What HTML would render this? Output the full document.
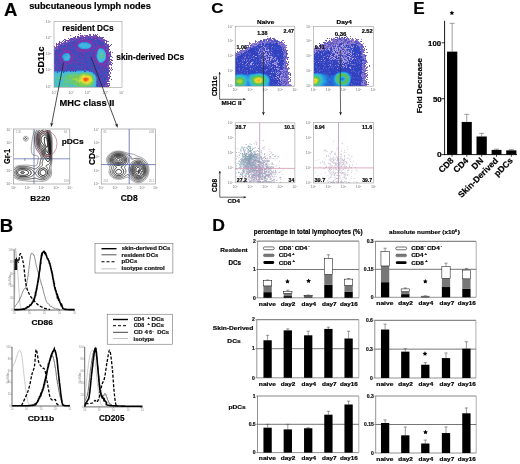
<!DOCTYPE html><html><head><meta charset="utf-8"><style>html,body{margin:0;padding:0;background:#fff;width:520px;height:464px;overflow:hidden}svg{display:block;filter:blur(0.4px)}text[font-weight=bold]{stroke:#000;stroke-width:0.18px;paint-order:stroke}</style></head><body><svg width="520" height="464" viewBox="0 0 520 464" font-family='"Liberation Sans", sans-serif'>
<defs>
<filter id="bd" x="-5%" y="-5%" width="110%" height="110%"><feGaussianBlur stdDeviation="0.35"/></filter>
</defs>
<rect width="520" height="464" fill="#fff"/>
<text x="4.14" y="15.60" font-size="18.12" font-weight="bold" fill="#000" textLength="13.37" lengthAdjust="spacingAndGlyphs">A</text>
<text x="29.18" y="9.00" font-size="8.83" font-weight="bold" fill="#000" textLength="121.69" lengthAdjust="spacingAndGlyphs">subcutaneous lymph nodes</text>
<g filter="url(#bd)"><path fill="#7040a8" d="M80 33h1v1h-1zM80 35h1v1h-1zM82 35h1v1h-1zM75 36h1v1h-1zM82 36h1v1h-1zM87 36h1v1h-1zM89 36h1v1h-1zM92 36h1v1h-1zM95 36h1v1h-1zM80 37h2v1h-2zM83 37h1v1h-1zM86 37h1v1h-1zM94 37h1v1h-1zM96 37h2v1h-2zM75 38h1v1h-1zM78 38h1v1h-1zM86 38h1v1h-1zM93 38h1v1h-1zM97 38h1v1h-1zM101 38h1v1h-1zM64 39h1v1h-1zM72 39h1v1h-1zM78 39h1v1h-1zM80 39h2v1h-2zM86 39h1v1h-1zM101 39h1v1h-1zM67 40h1v1h-1zM71 40h1v1h-1zM77 40h1v1h-1zM100 40h2v1h-2zM104 40h1v1h-1zM102 41h1v1h-1zM106 41h1v1h-1zM56 43h1v1h-1zM64 43h1v1h-1zM105 43h1v1h-1zM59 44h1v1h-1zM56 45h1v1h-1zM107 45h1v1h-1zM57 46h1v1h-1zM59 46h1v1h-1zM108 47h1v1h-1zM109 54h1v1h-1zM109 57h1v1h-1zM109 59h1v1h-1zM111 60h1v1h-1zM112 63h1v1h-1zM109 64h1v1h-1zM108 65h1v1h-1zM108 66h1v1h-1zM109 68h1v1h-1zM107 75h2v1h-2zM107 78h1v1h-1zM109 78h1v1h-1zM108 79h1v1h-1zM111 79h1v1h-1zM107 83h2v1h-2zM108 85h1v1h-1zM108 86h1v1h-1z"/>
<path fill="#5050c0" d="M78 34h1v1h-1zM89 34h1v1h-1zM93 34h1v1h-1zM93 35h1v1h-1zM96 35h1v1h-1zM77 36h1v1h-1zM88 36h1v1h-1zM91 36h1v1h-1zM99 36h1v1h-1zM74 37h1v1h-1zM78 37h1v1h-1zM85 37h1v1h-1zM89 37h2v1h-2zM103 37h1v1h-1zM71 38h2v1h-2zM82 38h1v1h-1zM85 38h1v1h-1zM99 38h2v1h-2zM71 39h1v1h-1zM74 39h1v1h-1zM77 39h1v1h-1zM87 39h1v1h-1zM96 39h1v1h-1zM63 40h1v1h-1zM70 40h1v1h-1zM73 40h1v1h-1zM75 40h1v1h-1zM78 40h1v1h-1zM105 40h1v1h-1zM64 41h2v1h-2zM70 41h2v1h-2zM68 42h1v1h-1zM70 42h1v1h-1zM106 42h1v1h-1zM62 43h1v1h-1zM66 43h1v1h-1zM106 43h1v1h-1zM61 44h1v1h-1zM65 44h1v1h-1zM62 45h1v1h-1zM110 45h1v1h-1zM58 46h1v1h-1zM105 46h1v1h-1zM107 46h1v1h-1zM110 52h1v1h-1zM108 53h1v1h-1zM110 54h1v1h-1zM110 55h1v1h-1zM110 56h1v1h-1zM112 60h1v1h-1zM108 61h1v1h-1zM109 63h1v1h-1zM110 64h1v1h-1zM108 69h1v1h-1zM109 71h1v1h-1zM107 73h1v1h-1zM107 74h1v1h-1zM109 75h1v1h-1zM109 76h1v1h-1zM107 77h1v1h-1zM106 81h2v1h-2zM105 86h1v1h-1z"/>
<path fill="#9060c0" d="M90 34h1v1h-1zM95 34h1v1h-1zM97 34h1v1h-1zM70 35h1v1h-1zM81 35h1v1h-1zM84 35h2v1h-2zM89 35h1v1h-1zM94 35h1v1h-1zM80 36h2v1h-2zM83 36h1v1h-1zM85 36h2v1h-2zM90 36h1v1h-1zM73 37h1v1h-1zM75 37h1v1h-1zM99 37h1v1h-1zM101 37h1v1h-1zM73 38h1v1h-1zM76 38h1v1h-1zM84 38h1v1h-1zM65 39h1v1h-1zM82 39h1v1h-1zM95 39h1v1h-1zM100 39h1v1h-1zM102 39h1v1h-1zM104 39h1v1h-1zM72 40h1v1h-1zM106 40h1v1h-1zM67 41h1v1h-1zM69 41h1v1h-1zM104 41h1v1h-1zM107 41h2v1h-2zM60 42h1v1h-1zM63 42h2v1h-2zM66 42h2v1h-2zM104 43h1v1h-1zM57 44h1v1h-1zM60 44h1v1h-1zM63 44h1v1h-1zM107 44h1v1h-1zM59 45h1v1h-1zM105 45h1v1h-1zM54 47h1v1h-1zM57 47h1v1h-1zM54 48h1v1h-1zM57 48h1v1h-1zM55 49h1v1h-1zM112 52h1v1h-1zM109 55h1v1h-1zM112 57h1v1h-1zM111 59h1v1h-1zM109 61h1v1h-1zM109 62h1v1h-1zM111 62h1v1h-1zM108 63h1v1h-1zM110 63h1v1h-1zM111 65h1v1h-1zM107 66h1v1h-1zM108 67h1v1h-1zM111 67h1v1h-1zM110 69h1v1h-1zM111 70h1v1h-1zM109 74h1v1h-1zM106 80h1v1h-1zM108 80h1v1h-1zM109 81h1v1h-1zM107 84h1v1h-1zM109 84h1v1h-1zM106 85h1v1h-1z"/>
<path fill="#6848b8" d="M86 35h2v1h-2zM90 35h1v1h-1zM78 36h1v1h-1zM97 36h1v1h-1zM77 37h1v1h-1zM98 37h1v1h-1zM100 37h1v1h-1zM102 37h1v1h-1zM70 38h1v1h-1zM74 38h1v1h-1zM79 38h1v1h-1zM91 38h1v1h-1zM69 39h2v1h-2zM73 39h1v1h-1zM98 39h2v1h-2zM65 40h2v1h-2zM68 40h1v1h-1zM103 40h1v1h-1zM59 41h1v1h-1zM62 41h1v1h-1zM59 42h1v1h-1zM61 42h1v1h-1zM65 42h1v1h-1zM103 42h1v1h-1zM58 43h1v1h-1zM61 43h1v1h-1zM56 44h1v1h-1zM62 44h1v1h-1zM106 44h1v1h-1zM108 44h1v1h-1zM111 44h1v1h-1zM106 45h1v1h-1zM54 46h1v1h-1zM106 46h1v1h-1zM108 46h2v1h-2zM56 47h1v1h-1zM59 47h1v1h-1zM106 47h2v1h-2zM55 48h2v1h-2zM108 48h1v1h-1zM107 49h3v1h-3zM108 50h1v1h-1zM108 52h2v1h-2zM109 56h1v1h-1zM111 56h1v1h-1zM109 58h1v1h-1zM110 59h1v1h-1zM109 60h1v1h-1zM108 62h1v1h-1zM110 62h1v1h-1zM111 64h1v1h-1zM107 68h1v1h-1zM111 68h1v1h-1zM112 69h1v1h-1zM108 70h1v1h-1zM108 71h1v1h-1zM108 73h1v1h-1zM110 76h1v1h-1zM108 77h2v1h-2zM107 80h1v1h-1zM108 81h1v1h-1zM109 83h1v1h-1zM107 85h1v1h-1zM109 85h1v1h-1z"/>
<path fill="#8848b0" d="M95 35h1v1h-1zM93 36h2v1h-2zM96 36h1v1h-1zM79 37h1v1h-1zM82 37h1v1h-1zM87 37h1v1h-1zM91 37h2v1h-2zM95 37h1v1h-1zM68 38h1v1h-1zM77 38h1v1h-1zM98 38h1v1h-1zM102 38h1v1h-1zM75 39h1v1h-1zM103 39h1v1h-1zM69 40h1v1h-1zM102 40h1v1h-1zM68 41h1v1h-1zM59 43h1v1h-1zM63 43h1v1h-1zM58 44h1v1h-1zM58 45h1v1h-1zM108 45h1v1h-1zM56 46h1v1h-1zM55 47h1v1h-1zM106 48h1v1h-1zM54 49h1v1h-1zM106 49h1v1h-1zM108 51h1v1h-1zM110 51h1v1h-1zM109 53h2v1h-2zM108 55h1v1h-1zM110 61h1v1h-1zM108 64h1v1h-1zM109 67h1v1h-1zM110 72h1v1h-1zM110 73h1v1h-1zM108 78h1v1h-1zM105 85h1v1h-1zM107 86h1v1h-1z"/>
<path fill="#4050c0" d="M84 37h1v1h-1zM88 37h1v1h-1zM80 38h2v1h-2zM87 38h2v1h-2zM92 38h1v1h-1zM96 38h1v1h-1zM89 39h1v1h-1zM91 39h2v1h-2zM97 39h1v1h-1zM76 40h1v1h-1zM81 40h1v1h-1zM84 40h1v1h-1zM95 40h1v1h-1zM98 40h1v1h-1zM74 41h3v1h-3zM92 41h2v1h-2zM95 41h3v1h-3zM99 41h2v1h-2zM69 42h1v1h-1zM71 42h1v1h-1zM75 42h1v1h-1zM92 42h2v1h-2zM96 42h2v1h-2zM99 42h2v1h-2zM104 42h1v1h-1zM67 43h2v1h-2zM71 43h1v1h-1zM94 43h2v1h-2zM97 43h1v1h-1zM99 43h2v1h-2zM102 43h2v1h-2zM68 44h4v1h-4zM73 44h2v1h-2zM98 44h1v1h-1zM103 44h3v1h-3zM60 45h1v1h-1zM63 45h2v1h-2zM68 45h1v1h-1zM70 45h2v1h-2zM73 45h1v1h-1zM75 45h1v1h-1zM94 45h1v1h-1zM96 45h1v1h-1zM103 45h2v1h-2zM60 46h4v1h-4zM67 46h1v1h-1zM69 46h1v1h-1zM71 46h2v1h-2zM74 46h2v1h-2zM95 46h3v1h-3zM58 47h1v1h-1zM61 47h3v1h-3zM65 47h2v1h-2zM68 47h2v1h-2zM72 47h3v1h-3zM77 47h1v1h-1zM95 47h1v1h-1zM105 47h1v1h-1zM60 48h1v1h-1zM67 48h3v1h-3zM71 48h4v1h-4zM76 48h1v1h-1zM94 48h2v1h-2zM105 48h1v1h-1zM107 48h1v1h-1zM56 49h2v1h-2zM61 49h1v1h-1zM65 49h1v1h-1zM69 49h1v1h-1zM71 49h3v1h-3zM76 49h1v1h-1zM81 49h1v1h-1zM84 49h1v1h-1zM91 49h4v1h-4zM54 50h2v1h-2zM57 50h1v1h-1zM59 50h1v1h-1zM63 50h1v1h-1zM71 50h3v1h-3zM75 50h1v1h-1zM93 50h1v1h-1zM54 51h2v1h-2zM59 51h2v1h-2zM72 51h1v1h-1zM76 51h2v1h-2zM91 51h1v1h-1zM93 51h2v1h-2zM56 52h1v1h-1zM58 52h1v1h-1zM60 52h2v1h-2zM73 52h4v1h-4zM78 52h2v1h-2zM84 52h2v1h-2zM88 52h2v1h-2zM91 52h1v1h-1zM54 53h1v1h-1zM57 53h1v1h-1zM59 53h2v1h-2zM73 53h4v1h-4zM82 53h1v1h-1zM84 53h4v1h-4zM89 53h1v1h-1zM91 53h2v1h-2zM54 54h1v1h-1zM57 54h3v1h-3zM74 54h1v1h-1zM76 54h2v1h-2zM79 54h1v1h-1zM86 54h2v1h-2zM89 54h2v1h-2zM93 54h1v1h-1zM56 55h2v1h-2zM73 55h1v1h-1zM75 55h2v1h-2zM81 55h1v1h-1zM85 55h2v1h-2zM88 55h3v1h-3zM54 56h1v1h-1zM56 56h2v1h-2zM60 56h1v1h-1zM73 56h3v1h-3zM78 56h1v1h-1zM81 56h1v1h-1zM84 56h4v1h-4zM90 56h1v1h-1zM54 57h5v1h-5zM76 57h2v1h-2zM81 57h1v1h-1zM89 57h2v1h-2zM93 57h1v1h-1zM55 58h1v1h-1zM57 58h2v1h-2zM73 58h2v1h-2zM76 58h2v1h-2zM80 58h2v1h-2zM83 58h2v1h-2zM86 58h3v1h-3zM108 58h1v1h-1zM55 59h1v1h-1zM62 59h1v1h-1zM74 59h1v1h-1zM81 59h2v1h-2zM84 59h2v1h-2zM88 59h1v1h-1zM90 59h1v1h-1zM93 59h1v1h-1zM108 59h1v1h-1zM54 60h1v1h-1zM56 60h2v1h-2zM59 60h1v1h-1zM73 60h1v1h-1zM75 60h1v1h-1zM78 60h2v1h-2zM81 60h2v1h-2zM84 60h3v1h-3zM88 60h2v1h-2zM91 60h1v1h-1zM93 60h2v1h-2zM55 61h1v1h-1zM57 61h1v1h-1zM61 61h1v1h-1zM71 61h1v1h-1zM73 61h2v1h-2zM76 61h2v1h-2zM79 61h2v1h-2zM82 61h1v1h-1zM85 61h1v1h-1zM88 61h2v1h-2zM91 61h3v1h-3zM55 62h1v1h-1zM57 62h3v1h-3zM62 62h1v1h-1zM64 62h1v1h-1zM69 62h1v1h-1zM71 62h2v1h-2zM75 62h1v1h-1zM79 62h1v1h-1zM81 62h1v1h-1zM83 62h3v1h-3zM89 62h3v1h-3zM93 62h1v1h-1zM107 62h1v1h-1zM54 63h1v1h-1zM56 63h1v1h-1zM60 63h1v1h-1zM62 63h1v1h-1zM64 63h1v1h-1zM68 63h1v1h-1zM72 63h2v1h-2zM77 63h2v1h-2zM81 63h2v1h-2zM87 63h3v1h-3zM91 63h2v1h-2zM94 63h2v1h-2zM107 63h1v1h-1zM56 64h2v1h-2zM63 64h1v1h-1zM67 64h1v1h-1zM69 64h6v1h-6zM77 64h1v1h-1zM79 64h1v1h-1zM81 64h2v1h-2zM84 64h1v1h-1zM86 64h7v1h-7zM97 64h1v1h-1zM54 65h1v1h-1zM56 65h1v1h-1zM59 65h3v1h-3zM63 65h1v1h-1zM65 65h3v1h-3zM70 65h3v1h-3zM74 65h1v1h-1zM76 65h3v1h-3zM80 65h1v1h-1zM83 65h1v1h-1zM85 65h4v1h-4zM90 65h1v1h-1zM92 65h3v1h-3zM96 65h3v1h-3zM105 65h1v1h-1zM54 66h1v1h-1zM57 66h2v1h-2zM60 66h1v1h-1zM62 66h1v1h-1zM65 66h1v1h-1zM67 66h6v1h-6zM74 66h7v1h-7zM83 66h2v1h-2zM87 66h5v1h-5zM93 66h2v1h-2zM99 66h1v1h-1zM101 66h1v1h-1zM55 67h2v1h-2zM60 67h1v1h-1zM62 67h1v1h-1zM66 67h1v1h-1zM68 67h2v1h-2zM74 67h4v1h-4zM79 67h5v1h-5zM86 67h1v1h-1zM88 67h2v1h-2zM91 67h1v1h-1zM96 67h1v1h-1zM101 67h1v1h-1zM107 67h1v1h-1zM56 68h2v1h-2zM62 68h1v1h-1zM64 68h1v1h-1zM66 68h2v1h-2zM77 68h2v1h-2zM80 68h1v1h-1zM85 68h1v1h-1zM87 68h1v1h-1zM91 68h2v1h-2zM96 68h1v1h-1zM98 68h2v1h-2zM103 68h2v1h-2zM106 68h1v1h-1zM54 69h2v1h-2zM58 69h4v1h-4zM64 69h1v1h-1zM67 69h4v1h-4zM73 69h2v1h-2zM76 69h1v1h-1zM78 69h4v1h-4zM86 69h1v1h-1zM88 69h3v1h-3zM92 69h3v1h-3zM96 69h3v1h-3zM100 69h1v1h-1zM103 69h2v1h-2zM54 70h1v1h-1zM59 70h2v1h-2zM62 70h3v1h-3zM66 70h3v1h-3zM70 70h1v1h-1zM72 70h1v1h-1zM74 70h2v1h-2zM83 70h1v1h-1zM88 70h1v1h-1zM91 70h3v1h-3zM96 70h1v1h-1zM98 70h2v1h-2zM103 70h1v1h-1zM109 70h1v1h-1zM57 71h1v1h-1zM59 71h1v1h-1zM63 71h2v1h-2zM66 71h1v1h-1zM70 71h1v1h-1zM73 71h1v1h-1zM75 71h1v1h-1zM84 71h2v1h-2zM89 71h1v1h-1zM91 71h1v1h-1zM93 71h1v1h-1zM95 71h1v1h-1zM97 71h1v1h-1zM100 71h1v1h-1zM104 71h1v1h-1zM106 71h2v1h-2zM57 72h1v1h-1zM63 72h1v1h-1zM96 72h2v1h-2zM101 72h3v1h-3zM105 72h2v1h-2zM108 72h1v1h-1zM93 73h1v1h-1zM95 73h3v1h-3zM99 73h1v1h-1zM103 73h4v1h-4zM95 74h1v1h-1zM99 74h3v1h-3zM103 74h1v1h-1zM106 74h1v1h-1zM97 75h3v1h-3zM103 75h1v1h-1zM105 75h1v1h-1zM96 76h3v1h-3zM103 76h2v1h-2zM106 76h1v1h-1zM101 77h2v1h-2zM97 78h2v1h-2zM101 78h3v1h-3zM97 79h1v1h-1zM101 79h3v1h-3zM106 79h2v1h-2zM98 80h2v1h-2zM101 80h4v1h-4zM96 81h2v1h-2zM99 81h2v1h-2zM104 81h2v1h-2zM98 82h1v1h-1zM100 82h5v1h-5zM97 83h1v1h-1zM99 83h2v1h-2zM102 83h1v1h-1zM105 83h1v1h-1zM96 84h3v1h-3zM100 84h1v1h-1zM103 84h1v1h-1zM106 84h1v1h-1zM96 85h1v1h-1zM98 85h2v1h-2zM101 85h1v1h-1zM97 86h5v1h-5z"/>
<path fill="#7038a8" d="M93 37h1v1h-1zM94 38h2v1h-2zM76 39h1v1h-1zM90 40h1v1h-1zM93 40h1v1h-1zM73 42h2v1h-2zM94 42h2v1h-2zM69 43h2v1h-2zM72 43h1v1h-1zM66 44h1v1h-1zM72 44h1v1h-1zM93 44h1v1h-1zM65 45h1v1h-1zM69 45h1v1h-1zM72 45h1v1h-1zM97 45h1v1h-1zM100 45h3v1h-3zM73 46h1v1h-1zM60 47h1v1h-1zM67 47h1v1h-1zM70 47h1v1h-1zM96 47h1v1h-1zM59 48h1v1h-1zM62 48h5v1h-5zM75 48h1v1h-1zM58 49h1v1h-1zM60 49h1v1h-1zM62 49h1v1h-1zM75 49h1v1h-1zM95 49h1v1h-1zM69 50h2v1h-2zM70 51h1v1h-1zM54 52h2v1h-2zM57 52h1v1h-1zM59 52h1v1h-1zM62 52h1v1h-1zM80 52h1v1h-1zM87 52h1v1h-1zM92 52h1v1h-1zM56 53h1v1h-1zM58 53h1v1h-1zM90 53h1v1h-1zM56 54h1v1h-1zM71 54h1v1h-1zM78 54h1v1h-1zM80 54h1v1h-1zM83 54h2v1h-2zM88 54h1v1h-1zM92 54h1v1h-1zM55 55h1v1h-1zM74 55h1v1h-1zM79 55h1v1h-1zM84 55h1v1h-1zM87 55h1v1h-1zM92 55h1v1h-1zM55 56h1v1h-1zM80 56h1v1h-1zM82 56h2v1h-2zM88 56h1v1h-1zM93 56h1v1h-1zM95 56h1v1h-1zM82 57h1v1h-1zM86 57h1v1h-1zM88 57h1v1h-1zM92 57h1v1h-1zM54 58h1v1h-1zM82 58h1v1h-1zM90 58h2v1h-2zM93 58h1v1h-1zM57 59h2v1h-2zM73 59h1v1h-1zM78 59h1v1h-1zM80 59h1v1h-1zM83 59h1v1h-1zM87 59h1v1h-1zM92 59h1v1h-1zM94 59h1v1h-1zM72 60h1v1h-1zM74 60h1v1h-1zM87 60h1v1h-1zM62 61h2v1h-2zM75 61h1v1h-1zM83 61h1v1h-1zM77 62h1v1h-1zM80 62h1v1h-1zM92 62h1v1h-1zM96 62h1v1h-1zM57 63h1v1h-1zM59 63h1v1h-1zM61 63h1v1h-1zM74 63h1v1h-1zM76 63h1v1h-1zM80 63h1v1h-1zM83 63h3v1h-3zM96 63h1v1h-1zM54 64h1v1h-1zM62 64h1v1h-1zM65 64h1v1h-1zM75 64h2v1h-2zM93 64h1v1h-1zM105 64h1v1h-1zM107 64h1v1h-1zM55 65h1v1h-1zM58 65h1v1h-1zM75 65h1v1h-1zM82 65h1v1h-1zM84 65h1v1h-1zM106 65h2v1h-2zM61 66h1v1h-1zM63 66h2v1h-2zM66 66h1v1h-1zM85 66h2v1h-2zM95 66h2v1h-2zM105 66h1v1h-1zM61 67h1v1h-1zM64 67h1v1h-1zM70 67h1v1h-1zM73 67h1v1h-1zM84 67h2v1h-2zM90 67h1v1h-1zM103 67h1v1h-1zM105 67h1v1h-1zM58 68h1v1h-1zM61 68h1v1h-1zM63 68h1v1h-1zM68 68h1v1h-1zM70 68h2v1h-2zM73 68h1v1h-1zM76 68h1v1h-1zM84 68h1v1h-1zM89 68h1v1h-1zM94 68h1v1h-1zM100 68h1v1h-1zM102 68h1v1h-1zM56 69h2v1h-2zM63 69h1v1h-1zM65 69h1v1h-1zM84 69h2v1h-2zM91 69h1v1h-1zM99 69h1v1h-1zM101 69h1v1h-1zM107 69h1v1h-1zM55 70h2v1h-2zM61 70h1v1h-1zM65 70h1v1h-1zM71 70h1v1h-1zM73 70h1v1h-1zM76 70h1v1h-1zM90 70h1v1h-1zM100 70h1v1h-1zM105 70h2v1h-2zM96 71h1v1h-1zM95 72h1v1h-1zM98 72h2v1h-2zM97 74h1v1h-1zM100 75h1v1h-1zM99 76h1v1h-1zM97 77h1v1h-1zM99 77h1v1h-1zM105 77h1v1h-1zM99 78h2v1h-2zM98 79h1v1h-1zM100 80h1v1h-1zM105 80h1v1h-1zM101 81h2v1h-2zM97 82h1v1h-1zM105 82h2v1h-2zM98 83h1v1h-1zM101 83h1v1h-1zM105 84h1v1h-1zM97 85h1v1h-1zM102 85h1v1h-1zM104 85h1v1h-1zM106 86h1v1h-1z"/>
<path fill="#6840b0" d="M83 38h1v1h-1zM89 38h1v1h-1zM74 40h1v1h-1zM94 40h1v1h-1zM96 40h1v1h-1zM72 41h1v1h-1zM94 41h1v1h-1zM101 41h1v1h-1zM103 41h1v1h-1zM77 42h1v1h-1zM98 42h1v1h-1zM93 43h1v1h-1zM96 43h1v1h-1zM101 43h1v1h-1zM64 44h1v1h-1zM67 44h1v1h-1zM96 44h2v1h-2zM101 44h1v1h-1zM66 45h1v1h-1zM92 45h1v1h-1zM66 46h1v1h-1zM68 46h1v1h-1zM70 46h1v1h-1zM64 47h1v1h-1zM71 47h1v1h-1zM91 47h1v1h-1zM94 47h1v1h-1zM58 48h1v1h-1zM61 48h1v1h-1zM90 48h1v1h-1zM63 49h1v1h-1zM68 49h1v1h-1zM74 49h1v1h-1zM88 49h1v1h-1zM62 50h1v1h-1zM92 50h1v1h-1zM107 50h1v1h-1zM57 51h1v1h-1zM68 51h1v1h-1zM75 51h1v1h-1zM78 51h1v1h-1zM87 51h1v1h-1zM92 51h1v1h-1zM96 51h1v1h-1zM77 52h1v1h-1zM81 52h1v1h-1zM90 52h1v1h-1zM72 53h1v1h-1zM78 53h1v1h-1zM54 55h1v1h-1zM77 55h1v1h-1zM80 55h1v1h-1zM91 55h1v1h-1zM76 56h2v1h-2zM74 57h1v1h-1zM83 57h1v1h-1zM87 57h1v1h-1zM107 57h1v1h-1zM75 58h1v1h-1zM78 58h2v1h-2zM92 58h1v1h-1zM76 59h2v1h-2zM79 59h1v1h-1zM91 59h1v1h-1zM76 60h1v1h-1zM80 60h1v1h-1zM83 60h1v1h-1zM56 61h1v1h-1zM59 61h1v1h-1zM78 61h1v1h-1zM87 61h1v1h-1zM56 62h1v1h-1zM60 62h1v1h-1zM73 62h2v1h-2zM76 62h1v1h-1zM78 62h1v1h-1zM82 62h1v1h-1zM88 62h1v1h-1zM94 62h1v1h-1zM104 63h1v1h-1zM106 63h1v1h-1zM55 64h1v1h-1zM58 64h2v1h-2zM68 64h1v1h-1zM85 64h1v1h-1zM94 64h2v1h-2zM104 64h1v1h-1zM62 65h1v1h-1zM79 65h1v1h-1zM89 65h1v1h-1zM55 66h2v1h-2zM73 66h1v1h-1zM81 66h2v1h-2zM97 66h1v1h-1zM106 66h1v1h-1zM57 67h2v1h-2zM63 67h1v1h-1zM65 67h1v1h-1zM78 67h1v1h-1zM92 67h2v1h-2zM95 67h1v1h-1zM100 67h1v1h-1zM104 67h1v1h-1zM106 67h1v1h-1zM59 68h1v1h-1zM65 68h1v1h-1zM72 68h1v1h-1zM74 68h1v1h-1zM81 68h1v1h-1zM83 68h1v1h-1zM95 68h1v1h-1zM75 69h1v1h-1zM83 69h1v1h-1zM102 69h1v1h-1zM105 69h1v1h-1zM57 70h1v1h-1zM69 70h1v1h-1zM89 70h1v1h-1zM94 70h1v1h-1zM97 70h1v1h-1zM101 70h2v1h-2zM104 70h1v1h-1zM107 70h1v1h-1zM92 71h1v1h-1zM94 71h1v1h-1zM98 71h2v1h-2zM103 71h1v1h-1zM100 72h1v1h-1zM100 73h2v1h-2zM102 74h1v1h-1zM104 74h2v1h-2zM108 74h1v1h-1zM104 75h1v1h-1zM105 76h1v1h-1zM98 77h1v1h-1zM103 77h1v1h-1zM104 78h1v1h-1zM106 78h1v1h-1zM100 79h1v1h-1zM97 80h1v1h-1zM98 81h1v1h-1zM99 82h1v1h-1zM103 83h2v1h-2zM106 83h1v1h-1zM99 84h1v1h-1zM100 85h1v1h-1zM103 85h1v1h-1zM103 86h2v1h-2z"/>
<path fill="#3848b8" d="M90 38h1v1h-1zM79 39h1v1h-1zM88 39h1v1h-1zM93 39h2v1h-2zM92 40h1v1h-1zM97 40h1v1h-1zM99 40h1v1h-1zM73 41h1v1h-1zM98 41h1v1h-1zM72 42h1v1h-1zM101 42h2v1h-2zM65 43h1v1h-1zM73 43h2v1h-2zM76 43h1v1h-1zM92 43h1v1h-1zM98 43h1v1h-1zM95 44h1v1h-1zM99 44h2v1h-2zM102 44h1v1h-1zM61 45h1v1h-1zM67 45h1v1h-1zM95 45h1v1h-1zM64 46h2v1h-2zM76 46h1v1h-1zM92 46h1v1h-1zM100 46h1v1h-1zM70 48h1v1h-1zM59 49h1v1h-1zM64 49h1v1h-1zM67 49h1v1h-1zM70 49h1v1h-1zM56 50h1v1h-1zM58 50h1v1h-1zM60 50h2v1h-2zM74 50h1v1h-1zM56 51h1v1h-1zM58 51h1v1h-1zM62 51h1v1h-1zM73 51h2v1h-2zM90 51h1v1h-1zM72 52h1v1h-1zM82 52h1v1h-1zM86 52h1v1h-1zM93 52h1v1h-1zM55 53h1v1h-1zM71 53h1v1h-1zM77 53h1v1h-1zM79 53h3v1h-3zM88 53h1v1h-1zM93 53h2v1h-2zM55 54h1v1h-1zM75 54h1v1h-1zM81 54h2v1h-2zM85 54h1v1h-1zM91 54h1v1h-1zM78 55h1v1h-1zM82 55h2v1h-2zM93 55h1v1h-1zM58 56h1v1h-1zM79 56h1v1h-1zM89 56h1v1h-1zM91 56h2v1h-2zM94 56h1v1h-1zM60 57h1v1h-1zM75 57h1v1h-1zM78 57h3v1h-3zM84 57h2v1h-2zM91 57h1v1h-1zM94 57h1v1h-1zM108 57h1v1h-1zM56 58h1v1h-1zM85 58h1v1h-1zM89 58h1v1h-1zM54 59h1v1h-1zM56 59h1v1h-1zM75 59h1v1h-1zM86 59h1v1h-1zM89 59h1v1h-1zM55 60h1v1h-1zM58 60h1v1h-1zM77 60h1v1h-1zM90 60h1v1h-1zM92 60h1v1h-1zM108 60h1v1h-1zM54 61h1v1h-1zM58 61h1v1h-1zM81 61h1v1h-1zM84 61h1v1h-1zM86 61h1v1h-1zM90 61h1v1h-1zM95 61h1v1h-1zM54 62h1v1h-1zM61 62h1v1h-1zM86 62h2v1h-2zM103 62h1v1h-1zM106 62h1v1h-1zM55 63h1v1h-1zM58 63h1v1h-1zM67 63h1v1h-1zM75 63h1v1h-1zM79 63h1v1h-1zM86 63h1v1h-1zM90 63h1v1h-1zM93 63h1v1h-1zM60 64h2v1h-2zM78 64h1v1h-1zM80 64h1v1h-1zM83 64h1v1h-1zM96 64h1v1h-1zM98 64h1v1h-1zM106 64h1v1h-1zM57 65h1v1h-1zM68 65h2v1h-2zM73 65h1v1h-1zM81 65h1v1h-1zM91 65h1v1h-1zM95 65h1v1h-1zM59 66h1v1h-1zM92 66h1v1h-1zM98 66h1v1h-1zM103 66h2v1h-2zM54 67h1v1h-1zM59 67h1v1h-1zM67 67h1v1h-1zM71 67h2v1h-2zM87 67h1v1h-1zM94 67h1v1h-1zM97 67h3v1h-3zM102 67h1v1h-1zM54 68h2v1h-2zM60 68h1v1h-1zM69 68h1v1h-1zM75 68h1v1h-1zM79 68h1v1h-1zM82 68h1v1h-1zM86 68h1v1h-1zM88 68h1v1h-1zM90 68h1v1h-1zM93 68h1v1h-1zM97 68h1v1h-1zM101 68h1v1h-1zM105 68h1v1h-1zM108 68h1v1h-1zM62 69h1v1h-1zM66 69h1v1h-1zM71 69h2v1h-2zM77 69h1v1h-1zM82 69h1v1h-1zM87 69h1v1h-1zM95 69h1v1h-1zM106 69h1v1h-1zM58 70h1v1h-1zM95 70h1v1h-1zM101 71h2v1h-2zM105 71h1v1h-1zM94 72h1v1h-1zM104 72h1v1h-1zM107 72h1v1h-1zM98 73h1v1h-1zM102 73h1v1h-1zM96 74h1v1h-1zM98 74h1v1h-1zM96 75h1v1h-1zM101 75h2v1h-2zM106 75h1v1h-1zM100 76h3v1h-3zM107 76h1v1h-1zM100 77h1v1h-1zM104 77h1v1h-1zM106 77h1v1h-1zM105 78h1v1h-1zM99 79h1v1h-1zM104 79h2v1h-2zM103 81h1v1h-1zM101 84h2v1h-2zM104 84h1v1h-1zM102 86h1v1h-1z"/>
<path fill="#7838b0" d="M83 39h3v1h-3zM90 39h1v1h-1zM79 40h1v1h-1zM82 40h1v1h-1zM86 40h2v1h-2zM80 41h1v1h-1zM82 41h6v1h-6zM89 41h1v1h-1zM76 42h1v1h-1zM78 42h3v1h-3zM90 42h1v1h-1zM75 43h1v1h-1zM77 43h2v1h-2zM92 44h1v1h-1zM94 44h1v1h-1zM74 45h1v1h-1zM76 45h1v1h-1zM93 46h2v1h-2zM101 46h3v1h-3zM76 47h1v1h-1zM92 47h2v1h-2zM97 47h4v1h-4zM103 47h1v1h-1zM77 48h2v1h-2zM91 48h2v1h-2zM96 48h1v1h-1zM103 48h1v1h-1zM78 49h2v1h-2zM85 49h3v1h-3zM89 49h2v1h-2zM97 49h1v1h-1zM104 49h1v1h-1zM67 50h1v1h-1zM77 50h1v1h-1zM80 50h1v1h-1zM84 50h2v1h-2zM87 50h1v1h-1zM89 50h2v1h-2zM105 50h1v1h-1zM63 51h1v1h-1zM67 51h1v1h-1zM69 51h1v1h-1zM71 51h1v1h-1zM80 51h4v1h-4zM86 51h1v1h-1zM88 51h1v1h-1zM105 51h3v1h-3zM64 52h3v1h-3zM68 52h4v1h-4zM94 52h3v1h-3zM106 52h1v1h-1zM61 53h1v1h-1zM63 53h1v1h-1zM70 53h1v1h-1zM106 53h2v1h-2zM60 54h3v1h-3zM70 54h1v1h-1zM72 54h1v1h-1zM95 54h1v1h-1zM106 54h1v1h-1zM71 55h1v1h-1zM94 55h2v1h-2zM108 56h1v1h-1zM71 57h1v1h-1zM106 57h1v1h-1zM59 58h3v1h-3zM71 58h1v1h-1zM96 58h1v1h-1zM106 58h1v1h-1zM59 59h1v1h-1zM61 59h1v1h-1zM70 59h3v1h-3zM96 59h1v1h-1zM107 59h1v1h-1zM60 60h4v1h-4zM70 60h2v1h-2zM95 60h3v1h-3zM106 60h2v1h-2zM60 61h1v1h-1zM64 61h2v1h-2zM67 61h1v1h-1zM69 61h2v1h-2zM72 61h1v1h-1zM65 62h2v1h-2zM68 62h1v1h-1zM70 62h1v1h-1zM97 62h1v1h-1zM104 62h1v1h-1zM63 63h1v1h-1zM66 63h1v1h-1zM98 63h1v1h-1zM101 63h3v1h-3zM66 64h1v1h-1zM99 64h1v1h-1zM101 64h2v1h-2zM64 65h1v1h-1zM99 65h1v1h-1zM101 65h4v1h-4zM100 66h1v1h-1zM102 66h1v1h-1z"/>
<path fill="#8830a8" d="M80 40h1v1h-1zM83 40h1v1h-1zM85 40h1v1h-1zM88 40h2v1h-2zM91 40h1v1h-1zM77 41h3v1h-3zM81 41h1v1h-1zM88 41h1v1h-1zM90 41h2v1h-2zM88 42h2v1h-2zM91 42h1v1h-1zM90 43h2v1h-2zM75 44h3v1h-3zM91 44h1v1h-1zM77 45h1v1h-1zM93 45h1v1h-1zM98 45h2v1h-2zM77 46h1v1h-1zM91 46h1v1h-1zM98 46h2v1h-2zM104 46h1v1h-1zM75 47h1v1h-1zM78 47h1v1h-1zM101 47h2v1h-2zM104 47h1v1h-1zM79 48h1v1h-1zM89 48h1v1h-1zM93 48h1v1h-1zM97 48h2v1h-2zM104 48h1v1h-1zM66 49h1v1h-1zM77 49h1v1h-1zM80 49h1v1h-1zM82 49h2v1h-2zM96 49h1v1h-1zM105 49h1v1h-1zM64 50h3v1h-3zM68 50h1v1h-1zM76 50h1v1h-1zM78 50h2v1h-2zM81 50h3v1h-3zM86 50h1v1h-1zM88 50h1v1h-1zM91 50h1v1h-1zM94 50h4v1h-4zM106 50h1v1h-1zM61 51h1v1h-1zM64 51h3v1h-3zM79 51h1v1h-1zM84 51h2v1h-2zM89 51h1v1h-1zM95 51h1v1h-1zM63 52h1v1h-1zM67 52h1v1h-1zM83 52h1v1h-1zM107 52h1v1h-1zM62 53h1v1h-1zM69 53h1v1h-1zM83 53h1v1h-1zM95 53h2v1h-2zM73 54h1v1h-1zM94 54h1v1h-1zM107 54h2v1h-2zM58 55h4v1h-4zM70 55h1v1h-1zM72 55h1v1h-1zM106 55h2v1h-2zM59 56h1v1h-1zM61 56h1v1h-1zM71 56h2v1h-2zM106 56h2v1h-2zM59 57h1v1h-1zM61 57h1v1h-1zM72 57h2v1h-2zM95 57h1v1h-1zM62 58h1v1h-1zM70 58h1v1h-1zM72 58h1v1h-1zM94 58h2v1h-2zM107 58h1v1h-1zM60 59h1v1h-1zM95 59h1v1h-1zM106 59h1v1h-1zM69 60h1v1h-1zM105 60h1v1h-1zM66 61h1v1h-1zM68 61h1v1h-1zM94 61h1v1h-1zM96 61h2v1h-2zM104 61h4v1h-4zM63 62h1v1h-1zM67 62h1v1h-1zM95 62h1v1h-1zM98 62h1v1h-1zM105 62h1v1h-1zM65 63h1v1h-1zM69 63h3v1h-3zM97 63h1v1h-1zM99 63h2v1h-2zM105 63h1v1h-1zM64 64h1v1h-1zM100 64h1v1h-1zM103 64h1v1h-1zM100 65h1v1h-1z"/>
<path fill="#3080d8" d="M81 42h1v1h-1zM86 42h1v1h-1zM78 70h1v1h-1z"/>
<path fill="#3090d8" d="M82 42h1v1h-1zM85 42h1v1h-1zM81 48h1v1h-1zM98 49h1v1h-1zM103 49h1v1h-1zM97 51h1v1h-1zM62 56h1v1h-1zM69 59h1v1h-1zM97 59h1v1h-1zM64 60h1v1h-1zM104 60h1v1h-1zM100 62h2v1h-2zM58 71h1v1h-1zM62 71h1v1h-1zM71 71h1v1h-1zM92 72h1v1h-1zM96 78h1v1h-1z"/>
<path fill="#3088d8" d="M83 42h2v1h-2zM89 43h1v1h-1zM78 46h1v1h-1zM79 47h1v1h-1zM88 48h1v1h-1zM100 48h1v1h-1zM105 52h1v1h-1zM65 53h1v1h-1zM63 54h1v1h-1zM69 54h1v1h-1zM62 57h1v1h-1zM63 59h1v1h-1zM68 60h1v1h-1zM102 62h1v1h-1zM54 71h2v1h-2zM95 75h1v1h-1zM96 77h1v1h-1zM96 79h1v1h-1zM96 80h1v1h-1z"/>
<path fill="#3878d0" d="M87 42h1v1h-1zM79 43h1v1h-1zM68 53h1v1h-1zM96 56h1v1h-1zM70 57h1v1h-1zM99 62h1v1h-1zM77 70h1v1h-1zM84 70h1v1h-1zM96 86h1v1h-1z"/>
<path fill="#3898d8" d="M80 43h1v1h-1zM78 45h1v1h-1zM90 46h1v1h-1zM66 53h1v1h-1zM64 54h1v1h-1zM65 71h1v1h-1zM95 86h1v1h-1z"/>
<path fill="#38a8e0" d="M81 43h1v1h-1zM83 43h4v1h-4zM89 44h1v1h-1zM90 45h1v1h-1zM79 46h1v1h-1zM81 47h1v1h-1zM98 50h1v1h-1zM97 53h1v1h-1zM66 54h1v1h-1zM68 54h1v1h-1zM105 54h1v1h-1zM64 55h1v1h-1zM66 55h1v1h-1zM69 55h1v1h-1zM63 56h1v1h-1zM65 56h1v1h-1zM105 56h1v1h-1zM69 57h1v1h-1zM97 58h1v1h-1zM64 59h1v1h-1zM102 61h1v1h-1zM74 71h1v1h-1zM77 71h1v1h-1zM79 71h1v1h-1zM88 71h1v1h-1z"/>
<path fill="#40b0e0" d="M82 43h1v1h-1zM80 44h1v1h-1zM87 44h1v1h-1zM79 45h1v1h-1zM82 45h1v1h-1zM87 45h2v1h-2zM80 46h3v1h-3zM85 46h2v1h-2zM89 46h1v1h-1zM82 47h1v1h-1zM85 47h4v1h-4zM100 49h1v1h-1zM103 50h1v1h-1zM67 54h1v1h-1zM67 55h1v1h-1zM97 55h1v1h-1zM105 55h1v1h-1zM64 56h1v1h-1zM66 56h1v1h-1zM69 56h1v1h-1zM97 56h1v1h-1zM64 58h1v1h-1zM65 59h2v1h-2zM104 59h1v1h-1zM98 60h1v1h-1zM103 60h1v1h-1zM78 71h1v1h-1zM80 71h1v1h-1zM86 71h2v1h-2zM55 72h2v1h-2zM58 72h2v1h-2zM95 82h1v1h-1zM95 83h1v1h-1zM95 85h1v1h-1z"/>
<path fill="#38a0e0" d="M87 43h1v1h-1zM79 44h1v1h-1zM88 44h1v1h-1zM80 47h1v1h-1zM89 47h1v1h-1zM82 48h5v1h-5zM102 49h1v1h-1zM104 51h1v1h-1zM97 52h1v1h-1zM105 53h1v1h-1zM65 54h1v1h-1zM63 55h1v1h-1zM65 55h1v1h-1zM63 57h1v1h-1zM105 57h1v1h-1zM69 58h1v1h-1zM65 60h3v1h-3zM60 71h2v1h-2zM68 71h1v1h-1zM76 71h1v1h-1zM91 72h1v1h-1zM95 76h1v1h-1z"/>
<path fill="#3098d8" d="M88 43h1v1h-1zM90 44h1v1h-1zM87 48h1v1h-1zM67 53h1v1h-1zM63 58h1v1h-1zM105 58h1v1h-1zM103 61h1v1h-1zM56 71h1v1h-1zM67 71h1v1h-1zM69 71h1v1h-1zM72 71h1v1h-1zM94 74h1v1h-1z"/>
<path fill="#3080d0" d="M78 44h1v1h-1zM101 48h1v1h-1zM104 50h1v1h-1zM96 55h1v1h-1zM98 61h1v1h-1zM81 70h1v1h-1zM85 70h1v1h-1zM90 71h1v1h-1zM94 73h1v1h-1zM96 83h1v1h-1z"/>
<path fill="#40b8e0" d="M81 44h6v1h-6zM80 45h2v1h-2zM83 45h4v1h-4zM89 45h1v1h-1zM83 46h2v1h-2zM87 46h2v1h-2zM83 47h2v1h-2zM99 49h1v1h-1zM99 50h1v1h-1zM98 51h1v1h-1zM98 52h1v1h-1zM104 52h1v1h-1zM98 53h1v1h-1zM104 53h1v1h-1zM68 55h1v1h-1zM67 56h2v1h-2zM65 57h4v1h-4zM65 58h4v1h-4zM67 59h2v1h-2zM98 59h1v1h-1zM102 60h1v1h-1zM99 61h3v1h-3zM81 71h3v1h-3zM54 72h1v1h-1zM62 72h1v1h-1zM65 72h1v1h-1zM70 72h2v1h-2zM90 72h1v1h-1zM55 73h3v1h-3zM56 74h1v1h-1zM93 74h1v1h-1zM94 75h1v1h-1zM95 77h1v1h-1zM95 80h1v1h-1zM95 81h1v1h-1zM95 84h1v1h-1zM94 86h1v1h-1z"/>
<path fill="#3868d0" d="M91 45h1v1h-1zM64 53h1v1h-1zM96 57h1v1h-1zM79 70h1v1h-1zM87 70h1v1h-1z"/>
<path fill="#3870d0" d="M90 47h1v1h-1zM80 48h1v1h-1zM99 48h1v1h-1zM96 54h1v1h-1zM105 59h1v1h-1zM80 70h1v1h-1zM86 70h1v1h-1zM93 72h1v1h-1z"/>
<path fill="#3868c8" d="M102 48h1v1h-1z"/>
<path fill="#40a8e0" d="M101 49h1v1h-1zM97 54h1v1h-1zM64 57h1v1h-1zM97 57h1v1h-1zM64 72h1v1h-1z"/>
<path fill="#40b8d8" d="M100 50h1v1h-1zM102 50h1v1h-1zM103 51h1v1h-1zM98 54h1v1h-1zM98 58h1v1h-1zM66 72h1v1h-1zM58 73h1v1h-1zM64 73h1v1h-1zM92 73h1v1h-1zM95 78h1v1h-1zM95 79h1v1h-1z"/>
<path fill="#48c0d8" d="M101 50h1v1h-1zM99 51h1v1h-1zM102 51h1v1h-1zM99 52h2v1h-2zM99 53h1v1h-1zM104 54h1v1h-1zM98 55h1v1h-1zM98 56h1v1h-1zM98 57h1v1h-1zM99 58h1v1h-1zM104 58h1v1h-1zM99 59h1v1h-1zM103 59h1v1h-1zM99 60h1v1h-1zM101 60h1v1h-1zM60 72h2v1h-2zM67 72h3v1h-3zM72 72h1v1h-1zM76 72h4v1h-4zM89 72h1v1h-1zM59 73h1v1h-1zM63 73h1v1h-1zM65 73h1v1h-1zM55 74h1v1h-1zM57 74h2v1h-2zM55 75h2v1h-2zM94 76h1v1h-1zM57 80h1v1h-1zM60 81h1v1h-1zM60 83h1v1h-1zM55 84h1v1h-1zM94 85h1v1h-1zM56 86h1v1h-1z"/>
<path fill="#48c0d0" d="M100 51h2v1h-2zM101 52h1v1h-1zM103 52h1v1h-1zM99 54h1v1h-1zM104 55h1v1h-1zM99 56h1v1h-1zM104 56h1v1h-1zM104 57h1v1h-1zM100 58h1v1h-1zM100 59h3v1h-3zM100 60h1v1h-1zM73 72h1v1h-1zM75 72h1v1h-1zM84 72h1v1h-1zM88 72h1v1h-1zM54 73h1v1h-1zM60 73h1v1h-1zM62 73h1v1h-1zM70 73h2v1h-2zM59 74h1v1h-1zM63 74h2v1h-2zM54 75h1v1h-1zM57 75h2v1h-2zM61 75h2v1h-2zM93 75h1v1h-1zM54 76h3v1h-3zM61 76h2v1h-2zM54 77h1v1h-1zM94 77h1v1h-1zM54 78h1v1h-1zM57 79h1v1h-1zM56 80h1v1h-1zM58 80h1v1h-1zM60 80h3v1h-3zM55 81h3v1h-3zM61 81h2v1h-2zM60 82h2v1h-2zM94 82h1v1h-1zM55 83h2v1h-2zM61 83h1v1h-1zM94 83h1v1h-1zM56 84h1v1h-1zM60 84h1v1h-1zM94 84h1v1h-1zM56 85h1v1h-1zM93 85h1v1h-1zM57 86h1v1h-1zM59 86h1v1h-1zM72 86h1v1h-1z"/>
<path fill="#48c0c8" d="M102 52h1v1h-1zM103 53h1v1h-1zM103 54h1v1h-1zM99 57h1v1h-1zM103 58h1v1h-1zM74 72h1v1h-1zM80 72h1v1h-1zM83 72h1v1h-1zM87 72h1v1h-1zM66 73h1v1h-1zM79 73h1v1h-1zM91 73h1v1h-1zM60 74h1v1h-1zM65 74h1v1h-1zM59 75h1v1h-1zM59 76h1v1h-1zM55 77h1v1h-1zM56 79h1v1h-1zM58 79h1v1h-1zM58 81h2v1h-2zM54 82h1v1h-1zM59 83h1v1h-1zM54 84h1v1h-1zM61 84h1v1h-1zM55 85h1v1h-1zM57 85h3v1h-3zM58 86h1v1h-1zM61 86h1v1h-1zM71 86h1v1h-1zM73 86h1v1h-1z"/>
<path fill="#50c0c0" d="M100 53h1v1h-1zM99 55h1v1h-1zM101 58h1v1h-1zM85 72h1v1h-1zM61 73h1v1h-1zM78 73h1v1h-1zM90 73h1v1h-1zM54 74h1v1h-1zM61 74h2v1h-2zM60 75h1v1h-1zM63 75h2v1h-2zM57 76h2v1h-2zM60 76h1v1h-1zM63 76h1v1h-1zM62 77h1v1h-1zM55 78h1v1h-1zM94 78h1v1h-1zM54 79h1v1h-1zM55 80h1v1h-1zM59 80h1v1h-1zM63 80h1v1h-1zM54 81h1v1h-1zM94 81h1v1h-1zM55 82h3v1h-3zM59 82h1v1h-1zM62 82h1v1h-1zM57 83h1v1h-1zM59 84h1v1h-1zM69 84h1v1h-1zM60 85h2v1h-2zM69 85h2v1h-2zM55 86h1v1h-1zM60 86h1v1h-1zM70 86h1v1h-1zM74 86h1v1h-1z"/>
<path fill="#60c890" d="M101 53h1v1h-1zM102 54h1v1h-1zM101 56h1v1h-1zM88 73h1v1h-1zM70 74h1v1h-1zM73 74h1v1h-1zM76 74h1v1h-1zM65 76h1v1h-1zM57 77h1v1h-1zM68 77h1v1h-1zM58 78h1v1h-1zM60 78h1v1h-1zM65 78h1v1h-1zM67 79h1v1h-1zM65 80h2v1h-2zM66 82h1v1h-1zM74 82h1v1h-1zM70 83h1v1h-1zM92 84h1v1h-1zM63 85h1v1h-1zM74 85h1v1h-1zM91 85h1v1h-1zM78 86h1v1h-1z"/>
<path fill="#58c898" d="M102 53h1v1h-1zM68 73h1v1h-1zM73 73h1v1h-1zM80 73h1v1h-1zM72 74h1v1h-1zM79 74h1v1h-1zM68 75h1v1h-1zM64 78h1v1h-1zM64 81h1v1h-1zM67 82h2v1h-2zM63 83h1v1h-1zM63 84h1v1h-1zM66 84h2v1h-2zM64 86h1v1h-1zM66 86h1v1h-1zM90 86h1v1h-1z"/>
<path fill="#58c8a0" d="M100 54h1v1h-1zM101 57h1v1h-1zM58 77h1v1h-1zM64 77h1v1h-1zM93 77h1v1h-1zM63 78h1v1h-1zM67 80h2v1h-2zM63 82h1v1h-1zM93 83h1v1h-1zM71 84h1v1h-1zM64 85h1v1h-1zM54 86h1v1h-1zM76 86h1v1h-1z"/>
<path fill="#70c870" d="M101 54h1v1h-1zM80 74h1v1h-1zM78 75h2v1h-2zM69 76h1v1h-1zM92 76h1v1h-1zM93 81h1v1h-1zM79 85h1v1h-1zM81 86h1v1h-1zM85 86h1v1h-1z"/>
<path fill="#3078d0" d="M62 55h1v1h-1zM70 56h1v1h-1zM82 70h1v1h-1zM96 82h1v1h-1z"/>
<path fill="#58c0a0" d="M100 55h1v1h-1zM102 55h1v1h-1zM102 56h1v1h-1zM67 73h1v1h-1zM75 73h1v1h-1zM66 74h1v1h-1zM68 76h1v1h-1zM57 78h1v1h-1zM59 79h1v1h-1zM61 79h1v1h-1zM64 83h1v1h-1zM72 84h1v1h-1zM65 85h1v1h-1zM68 86h1v1h-1zM87 86h1v1h-1zM89 86h1v1h-1z"/>
<path fill="#60c888" d="M101 55h1v1h-1zM74 73h1v1h-1zM84 73h1v1h-1zM67 74h3v1h-3zM78 74h1v1h-1zM72 75h1v1h-1zM92 75h1v1h-1zM72 76h1v1h-1zM93 78h1v1h-1zM68 79h1v1h-1zM70 79h1v1h-1zM67 81h2v1h-2zM64 82h2v1h-2zM93 82h1v1h-1zM71 83h2v1h-2zM67 85h1v1h-1zM63 86h1v1h-1zM77 86h1v1h-1zM79 86h1v1h-1z"/>
<path fill="#50c0b8" d="M103 55h1v1h-1zM102 58h1v1h-1zM82 72h1v1h-1zM76 73h1v1h-1zM55 79h1v1h-1zM63 81h1v1h-1zM54 83h1v1h-1zM68 83h1v1h-1zM57 84h2v1h-2zM65 84h1v1h-1zM68 84h1v1h-1zM70 84h1v1h-1zM54 85h1v1h-1zM71 85h2v1h-2zM62 86h1v1h-1zM88 86h1v1h-1zM93 86h1v1h-1z"/>
<path fill="#58c0a8" d="M100 56h1v1h-1zM103 56h1v1h-1zM102 57h1v1h-1zM77 73h1v1h-1zM89 73h1v1h-1zM71 74h1v1h-1zM66 75h2v1h-2zM64 76h1v1h-1zM93 76h1v1h-1zM56 77h1v1h-1zM59 77h3v1h-3zM63 77h1v1h-1zM62 78h1v1h-1zM60 79h1v1h-1zM62 79h3v1h-3zM54 80h1v1h-1zM64 80h1v1h-1zM74 81h1v1h-1zM69 83h1v1h-1zM62 84h1v1h-1zM64 84h1v1h-1zM68 85h1v1h-1zM92 85h1v1h-1zM65 86h1v1h-1zM91 86h2v1h-2z"/>
<path fill="#50c0b0" d="M100 57h1v1h-1zM103 57h1v1h-1zM81 72h1v1h-1zM86 72h1v1h-1zM69 73h1v1h-1zM72 73h1v1h-1zM92 74h1v1h-1zM65 75h1v1h-1zM56 78h1v1h-1zM94 79h1v1h-1zM94 80h1v1h-1zM58 82h1v1h-1zM58 83h1v1h-1zM62 83h1v1h-1zM65 83h3v1h-3zM93 84h1v1h-1zM62 85h1v1h-1zM73 85h1v1h-1zM69 86h1v1h-1zM75 86h1v1h-1z"/>
<path fill="#68c878" d="M81 73h1v1h-1zM83 73h1v1h-1zM87 73h1v1h-1zM74 74h1v1h-1zM89 74h1v1h-1zM73 76h1v1h-1zM66 78h1v1h-1zM68 78h1v1h-1zM71 79h1v1h-1zM65 81h2v1h-2zM71 82h2v1h-2zM91 84h1v1h-1zM66 85h1v1h-1zM77 85h1v1h-1zM88 85h1v1h-1zM90 85h1v1h-1zM80 86h1v1h-1zM82 86h2v1h-2z"/>
<path fill="#68c870" d="M82 73h1v1h-1zM71 75h1v1h-1zM67 77h1v1h-1zM72 77h1v1h-1zM69 78h1v1h-1zM71 80h1v1h-1zM72 81h1v1h-1zM70 82h1v1h-1zM75 84h1v1h-1zM78 84h1v1h-1zM76 85h1v1h-1zM89 85h1v1h-1z"/>
<path fill="#70c860" d="M85 73h1v1h-1zM69 75h1v1h-1zM75 75h2v1h-2zM74 76h1v1h-1zM78 76h1v1h-1zM66 77h1v1h-1zM71 77h1v1h-1zM92 77h1v1h-1zM71 78h1v1h-1zM93 79h1v1h-1zM72 80h1v1h-1zM75 81h1v1h-1zM75 82h1v1h-1zM77 82h1v1h-1zM77 83h2v1h-2zM91 83h1v1h-1zM76 84h1v1h-1z"/>
<path fill="#78c858" d="M86 73h1v1h-1zM91 75h1v1h-1zM75 76h1v1h-1zM77 76h1v1h-1zM70 77h1v1h-1zM74 77h2v1h-2zM77 77h2v1h-2zM93 80h1v1h-1zM92 82h1v1h-1zM75 83h1v1h-1zM82 85h4v1h-4z"/>
<path fill="#68c880" d="M75 74h1v1h-1zM77 74h1v1h-1zM90 74h2v1h-2zM73 75h1v1h-1zM66 76h1v1h-1zM65 77h1v1h-1zM69 77h1v1h-1zM59 78h1v1h-1zM67 78h1v1h-1zM66 79h1v1h-1zM69 79h1v1h-1zM70 80h1v1h-1zM74 80h1v1h-1zM69 81h1v1h-1zM69 82h1v1h-1zM73 82h1v1h-1zM92 83h1v1h-1zM74 84h1v1h-1zM75 85h1v1h-1zM78 85h1v1h-1zM84 86h1v1h-1z"/>
<path fill="#80d058" d="M81 74h1v1h-1zM70 75h1v1h-1zM75 80h1v1h-1zM90 84h1v1h-1zM81 85h1v1h-1z"/>
<path fill="#98d050" d="M82 74h1v1h-1zM84 74h1v1h-1zM79 77h1v1h-1zM75 78h1v1h-1zM77 79h1v1h-1zM92 79h1v1h-1zM92 81h1v1h-1zM81 82h1v1h-1zM91 82h1v1h-1zM90 83h1v1h-1zM83 84h3v1h-3zM88 84h2v1h-2z"/>
<path fill="#b0d848" d="M83 74h1v1h-1zM85 75h1v1h-1zM90 76h1v1h-1zM80 77h1v1h-1zM89 83h1v1h-1z"/>
<path fill="#90d050" d="M85 74h2v1h-2zM70 76h1v1h-1zM91 76h1v1h-1zM74 78h1v1h-1zM76 78h1v1h-1zM73 79h1v1h-1zM78 79h1v1h-1zM76 81h1v1h-1zM80 82h1v1h-1zM82 83h1v1h-1z"/>
<path fill="#88d050" d="M87 74h1v1h-1zM90 75h1v1h-1zM79 76h1v1h-1zM72 79h1v1h-1zM74 79h1v1h-1zM78 82h1v1h-1zM81 83h1v1h-1zM81 84h2v1h-2z"/>
<path fill="#80c858" d="M88 74h1v1h-1zM76 76h1v1h-1zM76 77h1v1h-1zM78 78h1v1h-1zM92 78h1v1h-1zM76 83h1v1h-1zM79 83h2v1h-2zM80 84h1v1h-1zM80 85h1v1h-1zM86 85h1v1h-1z"/>
<path fill="#70c868" d="M74 75h1v1h-1zM77 75h1v1h-1zM71 76h1v1h-1zM73 77h1v1h-1zM70 78h1v1h-1zM73 80h1v1h-1zM70 81h2v1h-2zM73 83h2v1h-2zM77 84h1v1h-1zM79 84h1v1h-1zM87 85h1v1h-1zM86 86h1v1h-1z"/>
<path fill="#88d058" d="M80 75h1v1h-1zM72 78h2v1h-2zM77 78h1v1h-1zM77 81h1v1h-1zM76 82h1v1h-1z"/>
<path fill="#a0d048" d="M81 75h1v1h-1z"/>
<path fill="#b8d840" d="M82 75h1v1h-1zM91 78h1v1h-1zM80 81h1v1h-1zM86 83h1v1h-1z"/>
<path fill="#e0e038" d="M83 75h1v1h-1zM82 76h1v1h-1zM81 79h1v1h-1zM84 82h1v1h-1zM88 82h1v1h-1z"/>
<path fill="#c8e038" d="M84 75h1v1h-1zM80 80h1v1h-1zM91 80h1v1h-1z"/>
<path fill="#a8d848" d="M86 75h3v1h-3zM80 76h1v1h-1zM91 77h1v1h-1zM78 80h1v1h-1zM92 80h1v1h-1zM82 82h1v1h-1zM90 82h1v1h-1zM83 83h1v1h-1z"/>
<path fill="#98d048" d="M89 75h1v1h-1z"/>
<path fill="#60c898" d="M67 76h1v1h-1zM61 78h1v1h-1zM65 79h1v1h-1zM69 80h1v1h-1zM73 81h1v1h-1zM73 84h1v1h-1zM67 86h1v1h-1z"/>
<path fill="#c0e040" d="M81 76h1v1h-1zM91 79h1v1h-1zM90 81h2v1h-2zM87 83h1v1h-1z"/>
<path fill="#f0e030" d="M83 76h1v1h-1zM85 82h1v1h-1z"/>
<path fill="#f8e030" d="M84 76h1v1h-1zM89 80h1v1h-1zM86 82h2v1h-2z"/>
<path fill="#e8e030" d="M85 76h2v1h-2zM90 79h1v1h-1zM81 80h1v1h-1zM82 81h1v1h-1z"/>
<path fill="#d8e038" d="M87 76h3v1h-3zM90 77h1v1h-1zM90 80h1v1h-1z"/>
<path fill="#d0e038" d="M81 77h1v1h-1zM81 78h1v1h-1zM89 81h1v1h-1z"/>
<path fill="#f8d830" d="M82 77h1v1h-1zM88 81h1v1h-1z"/>
<path fill="#f8c828" d="M83 77h1v1h-1zM88 77h1v1h-1zM89 78h1v1h-1zM82 79h1v1h-1z"/>
<path fill="#f8a820" d="M84 77h1v1h-1z"/>
<path fill="#f8a020" d="M85 77h2v1h-2zM88 78h1v1h-1zM83 80h1v1h-1z"/>
<path fill="#f8b828" d="M87 77h1v1h-1z"/>
<path fill="#f8d028" d="M89 77h1v1h-1zM82 78h1v1h-1zM89 79h1v1h-1zM82 80h1v1h-1zM83 81h1v1h-1z"/>
<path fill="#a0d848" d="M79 78h1v1h-1zM75 79h2v1h-2zM79 79h1v1h-1zM76 80h2v1h-2zM78 81h1v1h-1zM79 82h1v1h-1zM86 84h2v1h-2z"/>
<path fill="#b0d840" d="M80 78h1v1h-1zM84 83h2v1h-2z"/>
<path fill="#f89820" d="M83 78h1v1h-1zM88 79h1v1h-1zM87 80h1v1h-1zM86 81h1v1h-1z"/>
<path fill="#f06820" d="M84 78h1v1h-1z"/>
<path fill="#f06020" d="M85 78h2v1h-2zM84 79h1v1h-1zM85 80h2v1h-2z"/>
<path fill="#f07820" d="M87 78h1v1h-1z"/>
<path fill="#e8e038" d="M90 78h1v1h-1z"/>
<path fill="#c8e040" d="M80 79h1v1h-1zM81 81h1v1h-1zM83 82h1v1h-1z"/>
<path fill="#f89020" d="M83 79h1v1h-1zM85 81h1v1h-1z"/>
<path fill="#f05820" d="M85 79h2v1h-2z"/>
<path fill="#f07020" d="M87 79h1v1h-1zM84 80h1v1h-1z"/>
<path fill="#b8e040" d="M79 80h1v1h-1zM79 81h1v1h-1zM89 82h1v1h-1zM88 83h1v1h-1z"/>
<path fill="#f8b020" d="M88 80h1v1h-1zM84 81h1v1h-1z"/>
<path fill="#f8c028" d="M87 81h1v1h-1z"/></g>
<rect x="54" y="21.5" width="68" height="65.9" fill="none" stroke="#9a9a9a" stroke-width="0.6"/>
<text x="49.8" y="23.099999999999998" font-size="3.7" text-anchor="end" fill="#777">10</text>
<text x="49.9" y="21.599999999999998" font-size="2.3" text-anchor="start" fill="#777">4</text>
<text x="49.8" y="38.6" font-size="3.7" text-anchor="end" fill="#777">10</text>
<text x="49.9" y="37.1" font-size="2.3" text-anchor="start" fill="#777">3</text>
<text x="49.8" y="55.0" font-size="3.7" text-anchor="end" fill="#777">10</text>
<text x="49.9" y="53.5" font-size="2.3" text-anchor="start" fill="#777">2</text>
<text x="49.8" y="71.4" font-size="3.7" text-anchor="end" fill="#777">10</text>
<text x="49.9" y="69.9" font-size="2.3" text-anchor="start" fill="#777">1</text>
<text x="49.8" y="87.8" font-size="3.7" text-anchor="end" fill="#777">10</text>
<text x="49.9" y="86.3" font-size="2.3" text-anchor="start" fill="#777">0</text>
<text x="53.4" y="93.5" font-size="3.7" text-anchor="middle" fill="#777">10</text>
<text x="55.4" y="92.0" font-size="2.3" text-anchor="start" fill="#777">0</text>
<text x="70.4" y="93.5" font-size="3.7" text-anchor="middle" fill="#777">10</text>
<text x="72.4" y="92.0" font-size="2.3" text-anchor="start" fill="#777">1</text>
<text x="86.9" y="93.5" font-size="3.7" text-anchor="middle" fill="#777">10</text>
<text x="88.9" y="92.0" font-size="2.3" text-anchor="start" fill="#777">2</text>
<text x="104.4" y="93.5" font-size="3.7" text-anchor="middle" fill="#777">10</text>
<text x="106.4" y="92.0" font-size="2.3" text-anchor="start" fill="#777">3</text>
<text x="121.10000000000001" y="93.5" font-size="3.7" text-anchor="middle" fill="#777">10</text>
<text x="123.10000000000001" y="92.0" font-size="2.3" text-anchor="start" fill="#777">4</text>
<text x="62.36" y="31.20" font-size="8.14" font-weight="bold" fill="#000" textLength="51.30" lengthAdjust="spacingAndGlyphs">resident DCs</text>
<text x="116.31" y="60.10" font-size="8.28" font-weight="bold" fill="#000" textLength="67.72" lengthAdjust="spacingAndGlyphs">skin-derived DCs</text>
<text x="44.10" y="73.96" font-size="8.29" font-weight="bold" fill="#000" textLength="27.35" lengthAdjust="spacingAndGlyphs" transform="rotate(-90 44.10 73.96)">CD11c</text>
<text x="59.60" y="106.20" font-size="9.10" font-weight="bold" fill="#000" textLength="54.72" lengthAdjust="spacingAndGlyphs">MHC class II</text>
<line x1="63.5" y1="62.8" x2="51.2" y2="126.5" stroke="#222" stroke-width="0.8"/>
<path d="M51.20,126.50 L50.29,122.76 L51.75,123.65 L53.43,123.37 Z" fill="#222"/>
<line x1="91" y1="57" x2="117.5" y2="127.3" stroke="#222" stroke-width="0.8"/>
<path d="M117.50,127.30 L114.77,124.59 L116.48,124.59 L117.76,123.46 Z" fill="#222"/>
<rect x="13.6" y="129" width="56.199999999999996" height="55" fill="none" stroke="#888" stroke-width="0.6"/>
<line x1="34" y1="129" x2="34" y2="184" stroke="#5060a8" stroke-width="0.7"/>
<line x1="13.6" y1="158.8" x2="69.8" y2="158.8" stroke="#5060a8" stroke-width="0.7"/>
<text x="10.3" y="130.7" font-size="3.7" text-anchor="end" fill="#777">10</text>
<text x="10.4" y="129.2" font-size="2.3" text-anchor="start" fill="#777">4</text>
<text x="10.3" y="144.2" font-size="3.7" text-anchor="end" fill="#777">10</text>
<text x="10.4" y="142.7" font-size="2.3" text-anchor="start" fill="#777">3</text>
<text x="10.3" y="158.2" font-size="3.7" text-anchor="end" fill="#777">10</text>
<text x="10.4" y="156.7" font-size="2.3" text-anchor="start" fill="#777">2</text>
<text x="10.3" y="172.2" font-size="3.7" text-anchor="end" fill="#777">10</text>
<text x="10.4" y="170.7" font-size="2.3" text-anchor="start" fill="#777">1</text>
<text x="10.3" y="185.2" font-size="3.7" text-anchor="end" fill="#777">10</text>
<text x="10.4" y="183.7" font-size="2.3" text-anchor="start" fill="#777">0</text>
<text x="13.0" y="189" font-size="3.7" text-anchor="middle" fill="#777">10</text>
<text x="15.0" y="187.5" font-size="2.3" text-anchor="start" fill="#777">0</text>
<text x="26.9" y="189" font-size="3.7" text-anchor="middle" fill="#777">10</text>
<text x="28.9" y="187.5" font-size="2.3" text-anchor="start" fill="#777">1</text>
<text x="40.9" y="189" font-size="3.7" text-anchor="middle" fill="#777">10</text>
<text x="42.9" y="187.5" font-size="2.3" text-anchor="start" fill="#777">2</text>
<text x="55.4" y="189" font-size="3.7" text-anchor="middle" fill="#777">10</text>
<text x="57.4" y="187.5" font-size="2.3" text-anchor="start" fill="#777">3</text>
<text x="69.2" y="189" font-size="3.7" text-anchor="middle" fill="#777">10</text>
<text x="71.2" y="187.5" font-size="2.3" text-anchor="start" fill="#777">4</text>
<path d="M14.0,168.2 14.2,168.0 14.5,167.7 14.8,167.5 15.1,167.2 15.4,167.0 15.8,166.8 16.0,166.6 16.2,166.5 16.7,166.2 17.0,166.1 17.2,166.0 17.8,165.8 18.0,165.7 18.5,165.6 18.9,165.5 19.2,165.4 19.8,165.4 20.2,165.3 20.8,165.3 21.2,165.3 21.8,165.3 22.2,165.3 22.8,165.3 23.0,165.2 23.5,165.2 24.0,165.2 24.5,165.2 25.0,165.2 25.5,165.2 26.0,165.2 26.5,165.1 27.0,165.1 27.5,165.1 28.0,165.2 28.5,165.2 29.0,165.2 29.5,165.2 29.8,165.3 30.2,165.3 30.8,165.4 31.2,165.5 31.5,165.5 32.0,165.6 32.5,165.7 32.8,165.8 33.2,165.9 33.8,166.0 34.0,166.0 34.5,166.0 35.0,166.0 35.2,165.9 35.8,165.8 36.0,165.6 36.2,165.5 36.5,165.2 36.8,165.0 37.0,164.7 37.2,164.3 37.4,164.0 37.5,163.5 37.5,163.2 37.6,162.8 37.6,162.2 37.7,161.8 37.8,161.3 37.8,161.0 37.9,160.5 38.0,160.0 38.1,159.8 38.2,159.2 38.3,159.0 38.4,158.5 38.5,158.1 38.5,157.8 38.5,157.4 38.4,157.0 38.2,156.7 38.0,156.4 37.8,156.2 37.5,156.0 37.1,155.8 36.8,155.6 36.4,155.5 36.0,155.4 35.5,155.3 35.0,155.3 34.5,155.3 34.0,155.3 33.8,155.2 33.3,155.0 33.0,154.8 32.8,154.6 32.5,154.3 32.3,154.0 32.2,153.8 32.0,153.4 31.9,153.0 31.8,152.7 31.6,152.2 31.5,151.8 31.5,151.5 31.4,151.0 31.3,150.5 31.3,150.0 31.3,149.5 31.3,149.0 31.3,148.5 31.3,148.0 31.3,147.5 31.3,147.0 31.4,146.5 31.4,146.0 31.5,145.5 31.5,145.2 31.6,144.8 31.6,144.2 31.7,143.8 31.7,143.2 31.8,143.0 31.8,142.5 31.9,142.0 32.0,141.5 32.0,141.2 32.1,140.8 32.1,140.2 32.2,139.8 32.3,139.5 32.3,139.0 32.4,138.5 32.5,138.0 32.5,137.8 32.6,137.2 32.7,136.8 32.8,136.5 32.9,136.0 33.0,135.6 33.1,135.2 33.2,134.8 33.3,134.5 33.4,134.0 33.5,133.7 33.6,133.2 33.8,132.9 33.9,132.5 34.0,132.2 34.1,131.8 34.2,131.5 34.5,131.0 34.6,130.8 34.8,130.3 34.9,130.0M49.9,130.0 50.0,130.3 50.2,130.8 50.3,131.0 50.5,131.5 50.6,131.8 50.7,132.2 50.8,132.5 51.0,133.0 51.1,133.2 51.2,133.8 51.3,134.0 51.4,134.5 51.5,135.0 51.6,135.2 51.7,135.8 51.8,136.2 51.8,136.5 51.9,137.0 52.0,137.5 52.0,137.8 52.1,138.2 52.1,138.8 52.2,139.2 52.2,139.8 52.2,140.2 52.2,140.5 52.3,141.0 52.3,141.5 52.3,142.0 52.3,142.5 52.3,143.0 52.3,143.5 52.3,144.0 52.3,144.5 52.3,145.0 52.2,145.4 52.2,145.8 52.2,146.2 52.2,146.8 52.2,147.2 52.2,147.8 52.2,148.2 52.2,148.8 52.2,149.2 52.2,149.8 52.2,150.2 52.2,150.8 52.2,151.2 52.2,151.8 52.2,152.2 52.2,152.8 52.2,153.2 52.1,153.8 52.1,154.2 52.1,154.8 52.1,155.2 52.1,155.8 52.1,156.2 52.1,156.8 52.1,157.2 52.0,157.8 52.0,158.2 52.0,158.8 52.0,159.0 52.0,159.5 52.0,160.0 51.9,160.5 51.9,161.0 51.9,161.5 51.8,162.0 51.8,162.5 51.8,163.0 51.7,163.2 51.6,163.8 51.6,164.2 51.5,164.7 51.4,165.0 51.4,165.5 51.3,166.0 51.2,166.2 51.2,166.8 51.1,167.2 51.1,167.8 51.1,168.2 51.2,168.8 51.2,169.2 51.3,169.5 51.3,170.0 51.4,170.5 51.5,171.0 51.5,171.2 51.6,171.8 51.6,172.2 51.6,172.8 51.6,173.2 51.5,173.8 51.5,174.0 51.4,174.5 51.3,175.0 51.2,175.2 51.0,175.8 50.9,176.0 50.8,176.3 50.5,176.8 50.4,177.0 50.2,177.2 50.0,177.5 49.8,177.8 49.5,178.1 49.2,178.4 49.0,178.6 48.8,178.9 48.5,179.1 48.2,179.3 47.9,179.5 47.5,179.8 47.2,179.9 47.0,180.0 46.6,180.2 46.2,180.4 46.0,180.5 45.5,180.7 45.2,180.8 44.8,180.9 44.4,181.0 44.0,181.1 43.5,181.2 43.0,181.2 42.8,181.3 42.2,181.3 41.8,181.3 41.2,181.3 40.8,181.3 40.2,181.3 39.8,181.3 39.2,181.3 38.8,181.3 38.5,181.2 38.0,181.2 37.5,181.2 37.0,181.2 36.5,181.2 36.0,181.2 35.5,181.2 35.0,181.2 34.5,181.2 34.0,181.2 33.8,181.3 33.2,181.3 32.8,181.3 32.2,181.3 31.8,181.3 31.2,181.3 30.8,181.3 30.4,181.2 30.0,181.2 29.5,181.2 29.0,181.2 28.5,181.1 28.0,181.1 27.5,181.1 27.0,181.0 26.8,181.0 26.2,180.9 25.8,180.9 25.2,180.8 24.8,180.8 24.5,180.7 24.0,180.7 23.5,180.6 23.0,180.6 22.6,180.5 22.2,180.5 21.8,180.4 21.2,180.3 20.8,180.3 20.5,180.2 20.0,180.2 19.5,180.1 19.2,180.0 18.8,179.9 18.2,179.8 18.0,179.7 17.5,179.5 17.2,179.4 16.9,179.2 16.5,179.0 16.2,178.9 16.0,178.7 15.6,178.5 15.3,178.2 15.0,178.1 14.8,177.9 14.5,177.7 14.2,177.4 14.0,177.2M26.2,141.0 25.8,141.1 25.3,141.0 25.0,140.9 24.6,140.8 24.3,140.5 24.0,140.3 23.8,140.0 23.6,139.8 23.5,139.5 23.4,139.0 23.4,138.5 23.4,138.0 23.5,137.8 23.8,137.3 24.0,137.0 24.2,136.8 24.5,136.6 24.8,136.5 25.2,136.3 25.8,136.3 26.2,136.4 26.7,136.5 27.0,136.7 27.2,136.8 27.5,137.0 27.8,137.3 28.0,137.8 28.1,138.0 28.2,138.5 28.2,139.0 28.1,139.5 28.0,139.8 27.8,140.1 27.5,140.4 27.2,140.6 27.0,140.8 26.5,141.0 26.2,141.0Z" fill="none" stroke="#444" stroke-width="0.55"/>
<path d="M14.0,170.2 14.2,169.8 14.5,169.5 14.7,169.2 14.9,169.0 15.1,168.8 15.4,168.5 15.6,168.2 16.0,168.0 16.2,167.8 16.5,167.6 16.8,167.5 17.1,167.2 17.5,167.1 17.8,167.0 18.2,166.8 18.5,166.7 19.0,166.6 19.5,166.5 19.8,166.5 20.2,166.4 20.8,166.4 21.2,166.4 21.8,166.4 22.2,166.4 22.8,166.4 23.2,166.4 23.8,166.4 24.2,166.4 24.8,166.5 25.2,166.5 25.7,166.5 26.0,166.5 26.5,166.6 27.0,166.6 27.5,166.7 28.0,166.8 28.2,166.8 28.8,166.9 29.2,167.0 29.5,167.1 30.0,167.2 30.2,167.3 30.8,167.5 31.0,167.6 31.5,167.8 31.8,167.9 32.1,168.0 32.5,168.2 32.8,168.3 33.2,168.5 33.5,168.6 33.8,168.8 34.2,168.9 34.8,169.0 35.2,168.9 35.8,168.8 36.0,168.6 36.2,168.5 36.6,168.2 36.9,168.0 37.2,167.8 37.5,167.6 37.8,167.3 38.0,167.1 38.2,166.9 38.5,166.7 38.8,166.5 39.0,166.2 39.2,165.9 39.5,165.6 39.7,165.2 39.8,165.0 39.9,164.5 40.0,164.0 40.0,163.8 40.0,163.2 40.1,162.8 40.1,162.2 40.2,161.8 40.3,161.5 40.4,161.0 40.5,160.6 40.6,160.2 40.8,160.0 40.9,159.5 41.0,159.2 41.1,158.8 41.2,158.2 41.2,157.8 41.2,157.2 41.0,156.8 41.0,156.5 40.8,156.0 40.7,155.8 40.5,155.3 40.4,155.0 40.2,154.8 40.0,154.3 39.8,154.0 39.7,153.8 39.5,153.5 39.2,153.2 39.0,152.8 38.8,152.5 38.5,152.2 38.3,152.0 38.2,151.8 38.0,151.5 37.8,151.2 37.5,150.8 37.3,150.5 37.1,150.2 37.0,150.0 36.8,149.6 36.6,149.2 36.4,149.0 36.2,148.6 36.1,148.2 36.0,148.0 35.8,147.5 35.7,147.2 35.5,146.8 35.5,146.5 35.3,146.0 35.2,145.7 35.1,145.2 35.0,144.8 35.0,144.5 34.9,144.0 34.8,143.5 34.7,143.2 34.7,142.8 34.6,142.2 34.6,141.8 34.5,141.2 34.5,140.8 34.5,140.2 34.5,139.8 34.5,139.2 34.5,138.8 34.5,138.2 34.6,137.8 34.6,137.2 34.7,136.8 34.8,136.3 34.8,136.0 34.9,135.5 35.0,135.0 35.0,134.8 35.1,134.2 35.2,133.8 35.3,133.5 35.5,133.0 35.5,132.8 35.7,132.2 35.8,132.0 36.0,131.5 36.1,131.2 36.2,130.9 36.5,130.5 36.6,130.2M48.9,130.0 49.0,130.2 49.2,130.7 49.4,131.0 49.5,131.4 49.6,131.8 49.8,132.1 49.9,132.5 50.0,132.8 50.1,133.2 50.2,133.6 50.4,134.0 50.5,134.5 50.6,134.8 50.7,135.2 50.8,135.5 50.9,136.0 50.9,136.5 51.0,136.8 51.1,137.2 51.2,137.8 51.2,138.2 51.3,138.5 51.3,139.0 51.4,139.5 51.4,140.0 51.4,140.5 51.5,141.0 51.5,141.5 51.5,141.8 51.5,142.2 51.5,142.8 51.6,143.2 51.6,143.8 51.6,144.2 51.6,144.8 51.6,145.2 51.6,145.8 51.6,146.2 51.6,146.8 51.6,147.2 51.6,147.8 51.6,148.2 51.6,148.8 51.6,149.2 51.6,149.8 51.6,150.2 51.6,150.8 51.6,151.2 51.6,151.8 51.6,152.2 51.6,152.8 51.6,153.2 51.6,153.8 51.6,154.2 51.6,154.8 51.5,155.2 51.5,155.8 51.5,156.1 51.5,156.5 51.5,157.0 51.4,157.5 51.4,158.0 51.4,158.5 51.3,159.0 51.3,159.5 51.3,160.0 51.2,160.2 51.2,160.8 51.1,161.2 51.1,161.8 51.0,162.2 51.0,162.5 50.9,163.0 50.8,163.5 50.7,163.8 50.6,164.2 50.5,164.5 50.3,165.0 50.2,165.2 50.0,165.8 49.9,166.0 49.8,166.5 49.7,166.8 49.6,167.2 49.5,167.8 49.6,168.2 49.7,168.8 49.8,169.0 49.9,169.5 50.0,170.0 50.0,170.2 50.1,170.8 50.2,171.2 50.2,171.7 50.3,172.0 50.3,172.5 50.3,173.0 50.2,173.2 50.2,173.8 50.1,174.2 50.0,174.5 49.8,175.0 49.7,175.2 49.5,175.7 49.3,176.0 49.2,176.2 49.0,176.5 48.8,176.9 48.5,177.2 48.2,177.4 48.0,177.7 47.8,177.9 47.5,178.1 47.2,178.3 46.9,178.5 46.5,178.7 46.2,178.9 46.0,179.0 45.5,179.2 45.2,179.3 44.8,179.4 44.5,179.5 44.0,179.6 43.5,179.7 43.0,179.7 42.8,179.8 42.2,179.8 41.8,179.8 41.5,179.7 41.0,179.7 40.5,179.6 40.0,179.5 39.8,179.5 39.2,179.3 39.0,179.2 38.5,179.1 38.2,179.0 37.8,178.8 37.5,178.8 37.0,178.6 36.7,178.5 36.2,178.4 35.8,178.3 35.5,178.2 35.0,178.2 34.5,178.2 34.0,178.2 33.8,178.3 33.2,178.4 32.8,178.5 32.5,178.5 32.0,178.6 31.5,178.7 31.2,178.8 30.8,178.8 30.2,178.9 29.8,179.0 29.5,179.0 29.0,179.1 28.5,179.1 28.0,179.1 27.5,179.2 27.0,179.2 26.5,179.2 26.0,179.2 25.5,179.2 25.0,179.2 24.5,179.2 24.0,179.1 23.5,179.1 23.0,179.1 22.5,179.1 22.0,179.0 21.6,179.0 21.2,179.0 20.8,178.9 20.2,178.9 19.8,178.8 19.5,178.7 19.0,178.6 18.5,178.5 18.2,178.4 17.8,178.2 17.5,178.1 17.2,178.0 16.8,177.8 16.5,177.6 16.2,177.4 16.0,177.2 15.7,177.0 15.4,176.8 15.1,176.5 14.9,176.2 14.7,176.0 14.5,175.8 14.2,175.4 14.0,175.0M26.0,139.6 25.5,139.7 25.1,139.5 24.8,139.2 24.6,139.0 24.6,138.5 24.8,138.0 25.0,137.8 25.2,137.7 25.8,137.6 26.1,137.8 26.4,138.0 26.6,138.2 26.6,138.8 26.5,139.1 26.2,139.4 26.0,139.6Z" fill="none" stroke="#222" stroke-width="0.75"/>
<path d="M48.0,130.0 48.2,130.5 48.4,130.8 48.5,131.0 48.7,131.5 48.8,131.8 49.0,132.2 49.1,132.5 49.2,133.0 49.4,133.2 49.5,133.7 49.6,134.0 49.7,134.5 49.8,134.8 49.9,135.2 50.0,135.6 50.1,136.0 50.2,136.5 50.3,136.8 50.4,137.2 50.4,137.8 50.5,138.2 50.5,138.5 50.6,139.0 50.7,139.5 50.7,140.0 50.8,140.4 50.8,140.8 50.8,141.2 50.9,141.8 50.9,142.2 50.9,142.8 50.9,143.2 50.9,143.8 51.0,144.2 51.0,144.8 51.0,145.2 51.0,145.8 51.0,146.2 51.0,146.8 51.0,147.0 51.0,147.5 51.0,148.0 51.0,148.5 51.0,149.0 51.1,149.5 51.1,150.0 51.1,150.5 51.1,151.0 51.1,151.5 51.1,152.0 51.1,152.5 51.1,153.0 51.1,153.5 51.0,154.0 51.0,154.5 51.0,154.8 51.0,155.2 50.9,155.8 50.9,156.2 50.9,156.8 50.8,157.2 50.8,157.8 50.7,158.0 50.7,158.5 50.6,159.0 50.6,159.5 50.5,160.0 50.5,160.2 50.4,160.8 50.3,161.2 50.2,161.5 50.1,162.0 50.0,162.3 49.8,162.8 49.7,163.0 49.5,163.4 49.3,163.8 49.1,164.0 48.8,164.2 48.5,164.5 48.2,164.6 47.8,164.7 47.5,164.8 47.0,164.9 46.8,165.0 46.4,165.2 46.2,165.5 46.0,166.0 46.2,166.5 46.3,166.8 46.5,167.1 46.8,167.4 47.0,167.7 47.2,168.0 47.4,168.2 47.6,168.5 47.8,168.8 48.0,169.1 48.2,169.5 48.3,169.8 48.5,170.1 48.6,170.5 48.8,170.9 48.8,171.2 48.9,171.8 49.0,172.2 49.0,172.8 48.9,173.2 48.8,173.8 48.8,174.0 48.6,174.5 48.5,174.8 48.3,175.2 48.1,175.5 48.0,175.8 47.8,176.0 47.5,176.3 47.2,176.6 47.0,176.8 46.8,177.0 46.5,177.2 46.1,177.5 45.8,177.7 45.5,177.8 45.0,178.0 44.8,178.1 44.2,178.2 44.0,178.3 43.5,178.4 43.0,178.4 42.5,178.4 42.0,178.4 41.5,178.3 41.2,178.2 40.8,178.1 40.4,178.0 40.0,177.9 39.7,177.8 39.2,177.5 39.0,177.4 38.8,177.2 38.4,177.0 38.1,176.8 37.8,176.5 37.5,176.2 37.3,176.0 37.0,175.8 36.8,175.5 36.6,175.2 36.4,175.0 36.2,174.8 36.0,174.4 35.8,174.0 35.6,173.8 35.5,173.3 35.5,173.2 35.6,172.8 35.8,172.5 36.0,172.0 36.2,171.8 36.3,171.5 36.5,171.2 36.8,170.9 37.0,170.5 37.2,170.2 37.4,170.0 37.6,169.8 37.8,169.5 38.0,169.2 38.3,169.0 38.5,168.8 38.8,168.5 39.0,168.2 39.3,168.0 39.7,167.8 40.0,167.5 40.2,167.3 40.5,167.1 40.8,166.9 41.0,166.8 41.3,166.5 41.6,166.2 41.9,166.0 42.1,165.8 42.3,165.5 42.4,165.0 42.4,164.5 42.3,164.0 42.2,163.6 42.2,163.2 42.2,162.8 42.2,162.2 42.3,162.0 42.4,161.5 42.5,161.1 42.6,160.8 42.8,160.4 42.9,160.0 43.0,159.5 43.0,159.2 43.0,158.8 43.0,158.5 42.9,158.0 42.8,157.7 42.6,157.2 42.5,157.0 42.3,156.5 42.2,156.2 42.0,155.8 41.9,155.5 41.8,155.1 41.6,154.8 41.5,154.5 41.3,154.0 41.2,153.8 41.0,153.3 40.8,153.0 40.7,152.8 40.5,152.4 40.3,152.0 40.1,151.8 39.9,151.5 39.8,151.2 39.5,150.9 39.2,150.5 39.0,150.2 38.9,150.0 38.7,149.8 38.5,149.5 38.2,149.1 38.1,148.8 37.9,148.5 37.8,148.2 37.5,147.8 37.4,147.5 37.2,147.1 37.1,146.8 37.0,146.5 36.8,146.0 36.8,145.7 36.6,145.2 36.5,144.9 36.4,144.5 36.3,144.0 36.2,143.8 36.1,143.2 36.0,142.8 36.0,142.5 35.9,142.0 35.9,141.5 35.8,141.0 35.8,140.5 35.8,140.0 35.8,139.5 35.8,139.0 35.8,138.5 35.8,138.0 35.8,137.5 35.9,137.0 36.0,136.5 36.0,136.2 36.1,135.8 36.2,135.2 36.2,134.9 36.3,134.5 36.5,134.0 36.5,133.8 36.7,133.2 36.8,133.0 37.0,132.5 37.1,132.2 37.2,131.8 37.4,131.5 37.5,131.2 37.8,130.9 38.0,130.5 38.1,130.2 38.3,130.0M26.5,177.8 26.0,177.8 25.5,177.8 25.0,177.9 24.5,177.9 24.0,177.9 23.5,177.9 23.0,177.9 22.5,177.8 22.0,177.8 21.5,177.8 21.0,177.8 20.8,177.7 20.2,177.7 19.8,177.6 19.3,177.5 19.0,177.4 18.5,177.3 18.2,177.2 17.9,177.0 17.5,176.8 17.2,176.7 17.0,176.5 16.7,176.2 16.4,176.0 16.1,175.8 15.9,175.5 15.7,175.2 15.5,175.0 15.2,174.6 15.1,174.2 15.0,174.0 14.8,173.5 14.8,173.0 14.7,172.8 14.7,172.2 14.8,172.0 14.9,171.5 15.0,171.1 15.2,170.8 15.3,170.5 15.5,170.1 15.8,169.8 16.0,169.5 16.2,169.2 16.5,169.0 16.8,168.8 17.0,168.6 17.2,168.4 17.6,168.2 18.0,168.1 18.2,168.0 18.8,167.8 19.0,167.7 19.5,167.6 20.0,167.5 20.5,167.5 20.8,167.5 21.2,167.5 21.8,167.5 22.2,167.5 22.8,167.5 23.2,167.5 23.5,167.5 24.0,167.5 24.5,167.6 25.0,167.6 25.5,167.6 26.0,167.7 26.5,167.8 26.8,167.8 27.2,167.9 27.8,168.0 28.0,168.1 28.5,168.2 28.8,168.3 29.2,168.5 29.5,168.5 30.0,168.8 30.2,168.9 30.5,169.0 30.9,169.2 31.2,169.4 31.5,169.6 31.8,169.8 32.0,170.0 32.3,170.2 32.6,170.5 32.9,170.8 33.1,171.0 33.3,171.2 33.6,171.5 33.8,171.8 34.0,172.1 34.2,172.5 34.4,172.8 34.5,173.1 34.5,173.4 34.4,173.8 34.2,174.0 34.0,174.3 33.8,174.6 33.5,174.9 33.2,175.1 33.0,175.3 32.8,175.6 32.5,175.8 32.1,176.0 31.8,176.2 31.5,176.4 31.2,176.5 30.8,176.7 30.5,176.8 30.1,177.0 29.8,177.1 29.3,177.2 29.0,177.3 28.5,177.5 28.2,177.5 27.8,177.6 27.2,177.7 26.8,177.7 26.5,177.8Z" fill="none" stroke="#222" stroke-width="0.75"/>
<path d="M47.0,130.0 47.2,130.3 47.5,130.8 47.6,131.0 47.8,131.3 48.0,131.8 48.1,132.0 48.2,132.4 48.4,132.8 48.5,133.0 48.7,133.5 48.8,133.8 48.9,134.2 49.0,134.5 49.2,135.0 49.2,135.3 49.4,135.8 49.5,136.2 49.5,136.5 49.6,137.0 49.7,137.5 49.8,137.8 49.9,138.2 49.9,138.8 50.0,139.2 50.0,139.5 50.1,140.0 50.2,140.5 50.2,141.0 50.2,141.5 50.3,141.8 50.3,142.2 50.3,142.8 50.4,143.2 50.4,143.8 50.4,144.2 50.4,144.8 50.4,145.2 50.4,145.8 50.5,146.2 50.5,146.8 50.5,147.2 50.5,147.8 50.5,148.0 50.5,148.5 50.5,149.0 50.5,149.5 50.5,150.0 50.6,150.5 50.6,151.0 50.6,151.5 50.6,152.0 50.5,152.5 50.5,153.0 50.5,153.5 50.5,153.8 50.5,154.2 50.4,154.8 50.4,155.2 50.3,155.8 50.3,156.2 50.2,156.5 50.2,157.0 50.1,157.5 50.0,158.0 50.0,158.2 49.8,158.8 49.8,159.1 49.6,159.5 49.5,159.9 49.4,160.2 49.2,160.5 49.0,160.9 48.8,161.2 48.5,161.4 48.2,161.5 47.8,161.5 47.5,161.4 47.2,161.2 47.0,161.0 46.7,160.8 46.5,160.5 46.2,160.1 46.0,159.8 45.8,159.5 45.7,159.2 45.5,159.0 45.2,158.7 45.0,158.4 44.8,158.1 44.5,157.8 44.3,157.5 44.1,157.2 43.9,157.0 43.8,156.7 43.5,156.3 43.3,156.0 43.2,155.8 43.0,155.3 42.8,155.0 42.7,154.8 42.5,154.2 42.4,154.0 42.2,153.5 42.2,153.2 42.0,152.8 41.9,152.5 41.8,152.2 41.6,151.8 41.4,151.5 41.2,151.1 41.0,150.8 40.9,150.5 40.7,150.2 40.5,150.0 40.2,149.6 40.0,149.3 39.8,149.0 39.6,148.8 39.4,148.5 39.2,148.2 39.0,147.8 38.8,147.5 38.7,147.2 38.5,146.9 38.3,146.5 38.2,146.2 38.0,145.8 37.9,145.5 37.8,145.1 37.6,144.8 37.5,144.3 37.4,144.0 37.3,143.5 37.2,143.2 37.1,142.8 37.1,142.2 37.0,141.9 37.0,141.5 36.9,141.0 36.9,140.5 36.8,140.0 36.8,139.5 36.8,139.0 36.8,138.5 36.9,138.0 36.9,137.5 37.0,137.0 37.0,136.7 37.1,136.2 37.2,135.8 37.2,135.4 37.3,135.0 37.5,134.5 37.6,134.2 37.7,133.8 37.8,133.5 38.0,133.1 38.1,132.8 38.3,132.5 38.5,132.1 38.7,131.8 38.8,131.5 39.0,131.2 39.2,131.0 39.5,130.7 39.8,130.4 40.0,130.2M43.2,177.0 42.8,177.0 42.5,177.0 42.0,176.9 41.5,176.8 41.2,176.7 40.8,176.5 40.5,176.4 40.2,176.2 39.9,176.0 39.6,175.8 39.3,175.5 39.1,175.2 38.9,175.0 38.8,174.7 38.5,174.2 38.4,174.0 38.3,173.5 38.2,173.2 38.2,172.8 38.2,172.5 38.3,172.0 38.5,171.5 38.6,171.2 38.8,170.9 39.0,170.5 39.1,170.2 39.3,170.0 39.6,169.8 39.8,169.5 40.1,169.2 40.4,169.0 40.8,168.8 41.0,168.6 41.2,168.5 41.8,168.3 42.0,168.2 42.5,168.0 42.8,168.0 43.2,167.9 43.8,168.0 44.0,168.0 44.5,168.2 44.8,168.3 45.2,168.5 45.5,168.7 45.8,168.9 46.0,169.1 46.2,169.4 46.5,169.6 46.8,170.0 46.9,170.2 47.1,170.5 47.2,170.9 47.4,171.2 47.5,171.7 47.6,172.0 47.6,172.5 47.6,173.0 47.5,173.4 47.4,173.8 47.2,174.2 47.1,174.5 47.0,174.8 46.8,175.1 46.5,175.4 46.2,175.7 46.0,175.9 45.8,176.1 45.5,176.3 45.1,176.5 44.8,176.7 44.5,176.8 44.0,176.9 43.5,177.0 43.2,177.0ZM25.8,176.5 25.2,176.6 24.8,176.6 24.2,176.6 23.8,176.6 23.2,176.6 22.8,176.6 22.2,176.6 21.8,176.6 21.2,176.6 20.8,176.5 20.5,176.5 20.0,176.4 19.5,176.3 19.2,176.2 18.8,176.0 18.5,175.9 18.1,175.8 17.8,175.5 17.5,175.3 17.2,175.1 17.0,174.8 16.8,174.5 16.6,174.2 16.5,174.0 16.3,173.5 16.2,173.2 16.1,172.8 16.1,172.2 16.2,171.8 16.3,171.5 16.5,171.0 16.6,170.8 16.8,170.5 17.0,170.2 17.2,170.0 17.5,169.8 17.8,169.5 18.2,169.3 18.5,169.1 18.8,169.0 19.2,168.9 19.7,168.8 20.0,168.7 20.5,168.6 21.0,168.6 21.5,168.6 22.0,168.6 22.5,168.6 23.0,168.6 23.5,168.6 24.0,168.7 24.5,168.7 25.0,168.7 25.2,168.8 25.8,168.8 26.2,168.9 26.6,169.0 27.0,169.1 27.5,169.2 27.8,169.3 28.2,169.5 28.5,169.7 28.8,169.8 29.2,170.0 29.5,170.2 29.8,170.4 30.0,170.6 30.2,170.9 30.5,171.1 30.8,171.5 30.9,171.8 31.0,172.0 31.1,172.5 31.2,173.0 31.1,173.5 31.0,173.8 30.8,174.1 30.5,174.5 30.2,174.7 30.0,174.9 29.8,175.1 29.5,175.3 29.2,175.5 28.8,175.7 28.5,175.8 28.0,176.0 27.8,176.1 27.2,176.2 27.0,176.3 26.5,176.4 26.0,176.5 25.8,176.5Z" fill="none" stroke="#000" stroke-width="0.95"/>
<path d="M45.4,130.0 45.8,130.2 46.0,130.4 46.2,130.6 46.5,130.9 46.8,131.2 47.0,131.5 47.1,131.8 47.3,132.0 47.5,132.5 47.6,132.8 47.8,133.0 48.0,133.5 48.1,133.8 48.2,134.2 48.3,134.5 48.5,135.0 48.6,135.2 48.7,135.8 48.8,136.0 48.9,136.5 49.0,136.9 49.1,137.2 49.2,137.8 49.2,138.1 49.3,138.5 49.4,139.0 49.5,139.5 49.5,139.8 49.6,140.2 49.6,140.8 49.7,141.2 49.7,141.8 49.8,142.0 49.8,142.5 49.8,143.0 49.9,143.5 49.9,144.0 49.9,144.5 49.9,145.0 49.9,145.5 50.0,146.0 50.0,146.5 50.0,147.0 50.0,147.4 50.0,147.8 50.0,148.2 50.0,148.8 50.0,149.2 50.1,149.8 50.1,150.2 50.1,150.8 50.1,151.2 50.1,151.8 50.0,152.2 50.0,152.8 50.0,153.1 50.0,153.5 49.9,154.0 49.9,154.5 49.8,155.0 49.8,155.4 49.7,155.8 49.6,156.2 49.5,156.6 49.4,157.0 49.2,157.4 49.1,157.8 49.0,158.0 48.8,158.4 48.5,158.6 48.2,158.8 47.8,158.8 47.5,158.7 47.2,158.5 46.9,158.2 46.6,158.0 46.3,157.8 46.1,157.5 45.8,157.2 45.6,157.0 45.3,156.8 45.1,156.5 44.9,156.2 44.7,156.0 44.5,155.8 44.2,155.4 44.0,155.0 43.9,154.8 43.7,154.5 43.5,154.0 43.4,153.8 43.2,153.3 43.2,153.0 43.0,152.5 42.9,152.2 42.8,151.8 42.7,151.5 42.5,151.0 42.4,150.8 42.2,150.4 42.0,150.0 41.9,149.8 41.7,149.5 41.5,149.2 41.2,148.9 41.0,148.6 40.8,148.3 40.6,148.0 40.4,147.8 40.2,147.5 40.0,147.2 39.8,146.8 39.5,146.5 39.4,146.2 39.2,146.0 39.0,145.5 38.9,145.2 38.8,144.8 38.6,144.5 38.5,144.1 38.4,143.8 38.3,143.2 38.2,143.0 38.1,142.5 38.0,142.0 38.0,141.8 37.9,141.2 37.8,140.8 37.8,140.2 37.8,139.8 37.8,139.2 37.8,138.8 37.8,138.2 37.9,137.8 37.9,137.2 38.0,136.8 38.0,136.5 38.1,136.0 38.2,135.6 38.3,135.2 38.5,134.8 38.6,134.5 38.8,134.1 38.9,133.8 39.0,133.5 39.2,133.1 39.5,132.8 39.6,132.5 39.8,132.2 40.0,132.0 40.3,131.8 40.6,131.5 40.9,131.2 41.2,131.0 41.5,130.8 41.8,130.7 42.2,130.5 42.5,130.4 42.8,130.2 43.2,130.1 43.5,130.0M43.0,175.5 42.8,175.5 42.2,175.4 41.8,175.2 41.5,175.1 41.2,175.0 41.0,174.8 40.7,174.5 40.5,174.2 40.2,173.8 40.1,173.5 40.0,173.0 40.0,172.5 40.1,172.0 40.2,171.6 40.4,171.2 40.6,171.0 40.8,170.8 41.0,170.5 41.3,170.2 41.7,170.0 42.0,169.9 42.4,169.8 42.8,169.7 43.2,169.6 43.8,169.7 44.0,169.8 44.5,170.0 44.8,170.1 45.0,170.3 45.2,170.6 45.5,170.9 45.7,171.2 45.8,171.5 46.0,172.0 46.0,172.2 46.1,172.8 46.0,173.2 45.9,173.5 45.8,173.9 45.5,174.2 45.3,174.5 45.1,174.8 44.8,175.0 44.5,175.1 44.2,175.3 43.8,175.4 43.2,175.5 43.0,175.5ZM24.5,175.3 24.0,175.3 23.5,175.3 23.0,175.3 22.5,175.3 22.0,175.3 21.5,175.3 21.0,175.3 20.8,175.2 20.2,175.1 19.8,175.0 19.5,174.9 19.2,174.8 18.8,174.5 18.5,174.3 18.3,174.0 18.1,173.8 17.9,173.5 17.8,173.0 17.7,172.8 17.7,172.2 17.8,172.0 17.9,171.5 18.1,171.2 18.3,171.0 18.5,170.8 18.9,170.5 19.2,170.3 19.5,170.2 20.0,170.0 20.2,170.0 20.8,169.9 21.2,169.8 21.8,169.8 22.2,169.8 22.8,169.8 23.2,169.8 23.8,169.9 24.2,169.9 24.8,170.0 25.0,170.0 25.5,170.1 25.9,170.2 26.2,170.4 26.6,170.5 27.0,170.7 27.2,170.8 27.6,171.0 27.9,171.2 28.1,171.5 28.3,171.8 28.5,172.1 28.6,172.5 28.6,173.0 28.5,173.3 28.2,173.7 28.0,174.0 27.8,174.2 27.5,174.4 27.2,174.5 26.8,174.7 26.5,174.8 26.0,175.0 25.8,175.1 25.2,175.2 24.8,175.2 24.5,175.3Z" fill="none" stroke="#000" stroke-width="0.95"/>
<path d="M48.0,156.8 47.5,156.8 47.2,156.8 46.8,156.5 46.5,156.3 46.2,156.1 46.0,155.8 45.8,155.6 45.5,155.3 45.3,155.0 45.1,154.8 44.9,154.5 44.8,154.2 44.5,153.8 44.4,153.5 44.2,153.0 44.2,152.8 44.0,152.2 43.9,152.0 43.8,151.5 43.8,151.2 43.6,150.8 43.5,150.3 43.4,150.0 43.2,149.6 43.1,149.2 43.0,149.0 42.8,148.7 42.5,148.3 42.2,148.1 42.0,147.8 41.8,147.5 41.5,147.2 41.3,147.0 41.1,146.8 40.9,146.5 40.7,146.2 40.5,146.0 40.2,145.6 40.1,145.2 39.9,145.0 39.8,144.6 39.6,144.2 39.5,144.0 39.3,143.5 39.2,143.2 39.1,142.8 39.0,142.3 38.9,142.0 38.9,141.5 38.8,141.0 38.8,140.7 38.7,140.2 38.7,139.8 38.7,139.2 38.7,138.8 38.7,138.2 38.8,138.0 38.8,137.5 38.9,137.0 39.0,136.6 39.1,136.2 39.2,135.8 39.3,135.5 39.5,135.1 39.6,134.8 39.8,134.5 40.0,134.1 40.2,133.8 40.4,133.5 40.6,133.2 40.9,133.0 41.2,132.8 41.5,132.5 41.8,132.3 42.0,132.2 42.4,132.0 42.8,131.8 43.0,131.7 43.5,131.5 43.8,131.5 44.2,131.4 44.8,131.3 45.2,131.4 45.5,131.5 45.9,131.8 46.1,132.0 46.4,132.2 46.6,132.5 46.8,132.8 47.0,133.1 47.2,133.5 47.3,133.8 47.5,134.1 47.7,134.5 47.8,134.8 47.9,135.2 48.0,135.5 48.2,136.0 48.3,136.2 48.4,136.8 48.5,137.2 48.6,137.5 48.7,138.0 48.8,138.3 48.8,138.8 48.9,139.2 49.0,139.8 49.0,140.0 49.1,140.5 49.2,141.0 49.2,141.5 49.2,141.9 49.3,142.2 49.3,142.8 49.4,143.2 49.4,143.8 49.4,144.2 49.4,144.8 49.5,145.2 49.5,145.8 49.5,146.2 49.5,146.5 49.5,147.0 49.5,147.5 49.5,148.0 49.5,148.5 49.6,149.0 49.6,149.5 49.6,150.0 49.6,150.5 49.6,151.0 49.5,151.5 49.5,152.0 49.5,152.3 49.5,152.8 49.4,153.2 49.4,153.8 49.3,154.2 49.2,154.5 49.1,155.0 49.0,155.4 48.9,155.8 48.8,156.0 48.5,156.4 48.2,156.7 48.0,156.8ZM23.2,173.3 22.8,173.3 22.2,173.3 21.8,173.3 21.5,173.2 21.0,173.0 20.8,172.8 20.7,172.5 20.8,172.2 21.1,172.0 21.5,171.9 22.0,171.8 22.5,171.8 23.0,171.8 23.5,171.9 23.8,172.0 24.2,172.2 24.4,172.5 24.2,172.9 24.0,173.1 23.5,173.2 23.2,173.3Z" fill="none" stroke="#000" stroke-width="0.95"/>
<path d="M47.8,154.9 47.2,155.0 46.8,154.8 46.5,154.5 46.2,154.3 46.0,154.0 45.9,153.8 45.7,153.5 45.5,153.1 45.4,152.8 45.2,152.5 45.1,152.0 45.0,151.6 44.9,151.2 44.8,150.8 44.8,150.4 44.7,150.0 44.6,149.5 44.5,149.2 44.3,148.8 44.2,148.5 44.0,148.0 43.9,147.8 43.7,147.5 43.5,147.2 43.2,146.9 43.0,146.6 42.8,146.4 42.5,146.2 42.2,145.9 42.0,145.7 41.8,145.4 41.5,145.1 41.2,144.8 41.0,144.5 40.9,144.2 40.8,144.0 40.5,143.5 40.4,143.2 40.2,142.8 40.1,142.5 40.0,142.0 39.9,141.8 39.9,141.2 39.8,140.8 39.8,140.4 39.7,140.0 39.7,139.5 39.7,139.0 39.8,138.7 39.8,138.2 39.9,137.8 40.0,137.2 40.0,137.0 40.2,136.5 40.3,136.2 40.5,135.8 40.7,135.5 40.8,135.2 41.0,135.0 41.2,134.7 41.5,134.4 41.8,134.2 42.0,134.0 42.4,133.8 42.8,133.6 43.0,133.4 43.5,133.2 43.8,133.1 44.2,133.0 44.5,133.0 45.0,133.0 45.2,133.0 45.7,133.2 46.0,133.5 46.2,133.7 46.5,134.0 46.6,134.2 46.8,134.5 47.0,134.9 47.2,135.2 47.3,135.5 47.5,136.0 47.6,136.2 47.7,136.8 47.8,137.0 48.0,137.5 48.0,137.8 48.1,138.2 48.2,138.7 48.3,139.0 48.4,139.5 48.5,140.0 48.5,140.2 48.6,140.8 48.7,141.2 48.7,141.8 48.8,142.2 48.8,142.5 48.8,143.0 48.9,143.5 48.9,144.0 48.9,144.5 48.9,145.0 48.9,145.5 49.0,146.0 49.0,146.5 49.0,147.0 49.0,147.5 49.0,148.0 49.0,148.2 49.0,148.8 49.0,149.2 49.0,149.5 49.0,150.0 49.0,150.5 49.0,151.0 48.9,151.5 48.9,152.0 48.8,152.5 48.8,152.9 48.7,153.2 48.5,153.8 48.5,154.0 48.2,154.4 48.0,154.7 47.8,154.9Z" fill="none" stroke="#000" stroke-width="0.95"/>
<path d="M47.5,152.4 47.0,152.4 46.8,152.2 46.5,151.9 46.3,151.5 46.2,151.2 46.1,150.8 46.0,150.5 45.9,150.0 45.8,149.6 45.7,149.2 45.5,148.8 45.5,148.5 45.3,148.0 45.2,147.8 45.0,147.2 44.9,147.0 44.8,146.6 44.6,146.2 44.4,146.0 44.2,145.7 44.0,145.4 43.8,145.0 43.5,144.8 43.4,144.5 43.2,144.2 43.0,144.0 42.8,143.7 42.5,143.4 42.2,143.1 42.0,142.8 41.8,142.5 41.6,142.2 41.5,142.0 41.3,141.5 41.2,141.2 41.1,140.8 41.0,140.2 41.0,139.8 41.0,139.2 41.1,138.8 41.2,138.2 41.2,137.9 41.4,137.5 41.5,137.2 41.8,136.8 42.0,136.5 42.2,136.2 42.4,136.0 42.7,135.8 43.0,135.6 43.2,135.4 43.5,135.2 44.0,135.0 44.2,134.9 44.8,134.8 45.2,134.8 45.6,135.0 46.0,135.2 46.2,135.5 46.4,135.8 46.5,136.0 46.8,136.4 46.9,136.8 47.0,137.0 47.2,137.5 47.3,137.8 47.5,138.2 47.5,138.5 47.7,139.0 47.8,139.4 47.8,139.8 47.9,140.2 48.0,140.8 48.0,141.0 48.1,141.5 48.1,142.0 48.2,142.5 48.2,143.0 48.3,143.2 48.3,143.8 48.3,144.2 48.3,144.8 48.3,145.2 48.3,145.8 48.3,146.2 48.3,146.8 48.3,147.2 48.3,147.8 48.3,148.2 48.3,148.8 48.3,149.2 48.2,149.7 48.2,150.0 48.2,150.5 48.1,151.0 48.0,151.4 47.9,151.8 47.8,152.1 47.5,152.4Z" fill="none" stroke="#000" stroke-width="0.95"/>
<path d="M47.0,147.4 46.6,147.2 46.4,147.0 46.2,146.7 46.0,146.3 45.9,146.0 45.7,145.8 45.5,145.3 45.4,145.0 45.2,144.8 45.0,144.3 44.9,144.0 44.8,143.7 44.6,143.2 44.5,142.8 44.5,142.5 44.4,142.0 44.4,141.5 44.4,141.0 44.4,140.5 44.4,140.0 44.3,139.5 44.3,139.0 44.3,138.5 44.3,138.0 44.5,137.5 44.7,137.2 45.0,137.1 45.5,137.1 45.8,137.2 46.0,137.5 46.2,137.8 46.5,138.2 46.6,138.5 46.8,138.8 46.9,139.2 47.0,139.6 47.1,140.0 47.2,140.5 47.3,140.8 47.3,141.2 47.4,141.8 47.5,142.2 47.5,142.6 47.5,143.0 47.5,143.5 47.6,144.0 47.6,144.5 47.5,145.0 47.5,145.5 47.5,145.8 47.4,146.2 47.3,146.8 47.2,147.0 47.0,147.4Z" fill="none" stroke="#000" stroke-width="0.95"/>
<ellipse cx="47" cy="143.7" rx="10" ry="12.5" fill="none" stroke="#c05070" stroke-width="0.6"/>
<text x="9.70" y="164.10" font-size="8.43" font-weight="bold" fill="#000" textLength="15.40" lengthAdjust="spacingAndGlyphs" transform="rotate(-90 9.70 164.10)">Gr-1</text>
<text x="30.26" y="200.60" font-size="8.00" font-weight="bold" fill="#000" textLength="19.88" lengthAdjust="spacingAndGlyphs">B220</text>
<text x="61.65" y="143.80" font-size="7.43" font-weight="bold" fill="#000" textLength="22.00" lengthAdjust="spacingAndGlyphs">pDCs</text>
<text x="16" y="133" font-size="2.6" text-anchor="start" fill="#888">1.55</text>
<text x="64" y="133" font-size="2.6" text-anchor="start" fill="#888">64</text>
<text x="24" y="161" font-size="2.6" text-anchor="start" fill="#555">8</text>
<text x="64" y="182" font-size="2.6" text-anchor="start" fill="#888">10.9</text>
<rect x="101.2" y="129" width="54.39999999999999" height="55" fill="none" stroke="#888" stroke-width="0.6"/>
<text x="97.8" y="130.7" font-size="3.7" text-anchor="end" fill="#777">10</text>
<text x="97.9" y="129.2" font-size="2.3" text-anchor="start" fill="#777">4</text>
<text x="97.8" y="144.2" font-size="3.7" text-anchor="end" fill="#777">10</text>
<text x="97.9" y="142.7" font-size="2.3" text-anchor="start" fill="#777">3</text>
<text x="97.8" y="158.2" font-size="3.7" text-anchor="end" fill="#777">10</text>
<text x="97.9" y="156.7" font-size="2.3" text-anchor="start" fill="#777">2</text>
<text x="97.8" y="172.2" font-size="3.7" text-anchor="end" fill="#777">10</text>
<text x="97.9" y="170.7" font-size="2.3" text-anchor="start" fill="#777">1</text>
<text x="97.8" y="185.2" font-size="3.7" text-anchor="end" fill="#777">10</text>
<text x="97.9" y="183.7" font-size="2.3" text-anchor="start" fill="#777">0</text>
<text x="100.60000000000001" y="189" font-size="3.7" text-anchor="middle" fill="#777">10</text>
<text x="102.60000000000001" y="187.5" font-size="2.3" text-anchor="start" fill="#777">0</text>
<text x="114.4" y="189" font-size="3.7" text-anchor="middle" fill="#777">10</text>
<text x="116.4" y="187.5" font-size="2.3" text-anchor="start" fill="#777">1</text>
<text x="128.4" y="189" font-size="3.7" text-anchor="middle" fill="#777">10</text>
<text x="130.4" y="187.5" font-size="2.3" text-anchor="start" fill="#777">2</text>
<text x="141.4" y="189" font-size="3.7" text-anchor="middle" fill="#777">10</text>
<text x="143.4" y="187.5" font-size="2.3" text-anchor="start" fill="#777">3</text>
<text x="155.0" y="189" font-size="3.7" text-anchor="middle" fill="#777">10</text>
<text x="157.0" y="187.5" font-size="2.3" text-anchor="start" fill="#777">4</text>
<path d="M140.2,182.5 139.8,182.6 139.2,182.7 138.8,182.7 138.2,182.7 137.8,182.7 137.2,182.7 136.8,182.6 136.2,182.5 136.0,182.4 135.5,182.3 135.2,182.2 134.8,182.0 134.5,181.9 134.1,181.8 133.8,181.6 133.5,181.4 133.2,181.2 132.8,181.0 132.5,180.8 132.2,180.6 132.0,180.4 131.8,180.2 131.5,180.0 131.2,179.8 130.9,179.5 130.6,179.2 130.4,179.0 130.1,178.8 129.8,178.5 129.6,178.2 129.3,178.0 129.0,177.8 128.8,177.6 128.5,177.4 128.2,177.2 127.8,177.1 127.2,177.1 126.8,177.2 126.5,177.3 126.0,177.4 125.8,177.5 125.3,177.8 125.0,177.9 124.7,178.0 124.2,178.2 124.0,178.3 123.5,178.4 123.2,178.5 122.8,178.7 122.5,178.8 122.0,178.9 121.5,179.0 121.2,179.0 120.8,179.1 120.2,179.2 119.8,179.2 119.2,179.2 118.8,179.2 118.2,179.2 117.8,179.2 117.2,179.1 116.8,179.0 116.5,179.0 116.0,178.9 115.5,178.8 115.2,178.7 114.8,178.5 114.5,178.5 114.0,178.2 113.8,178.1 113.5,178.0 113.0,177.8 112.8,177.6 112.5,177.5 112.2,177.2 111.9,177.0 111.6,176.8 111.3,176.5 111.0,176.2 110.8,176.0 110.6,175.8 110.4,175.5 110.2,175.2 110.0,174.9 109.8,174.5 109.6,174.2 109.5,173.9 109.3,173.5 109.2,173.1 109.2,172.8 109.1,172.2 109.1,171.8 109.1,171.2 109.2,170.8 109.2,170.3 109.3,170.0 109.4,169.5 109.5,169.2 109.7,168.8 109.8,168.4 109.8,168.0 109.8,167.5 109.8,167.0 109.7,166.8 109.5,166.3 109.3,166.0 109.2,165.8 109.0,165.5 108.8,165.2 108.5,164.8 108.3,164.5 108.1,164.2 108.0,164.0 107.8,163.6 107.5,163.2 107.4,163.0 107.2,162.6 107.1,162.2 107.0,161.9 106.9,161.5 106.8,161.0 106.8,160.7 106.7,160.2 106.7,159.8 106.7,159.2 106.8,159.0 106.8,158.5 107.0,158.0 107.1,157.8 107.2,157.2 107.3,157.0 107.5,156.7 107.8,156.3 107.9,156.0 108.1,155.8 108.3,155.5 108.5,155.2 108.8,154.9 109.0,154.6 109.2,154.4 109.5,154.2 109.8,154.0 110.0,153.8 110.4,153.5 110.7,153.2 111.0,153.1 111.2,152.9 111.6,152.8 112.0,152.5 112.2,152.4 112.6,152.2 113.0,152.1 113.2,152.0 113.8,151.8 114.0,151.7 114.5,151.6 114.8,151.5 115.2,151.4 115.8,151.3 116.1,151.2 116.5,151.2 117.0,151.1 117.5,151.1 118.0,151.1 118.5,151.1 119.0,151.1 119.5,151.1 120.0,151.1 120.5,151.2 121.0,151.2 121.2,151.3 121.8,151.4 122.2,151.5 122.5,151.5 123.0,151.7 123.3,151.8 123.8,151.9 124.1,152.0 124.5,152.1 124.9,152.2 125.2,152.4 125.6,152.5 126.0,152.7 126.3,152.8 126.8,152.9 127.0,153.0 127.5,153.1 127.9,153.2 128.2,153.3 128.8,153.5 129.0,153.5 129.5,153.6 130.0,153.7 130.5,153.7 130.8,153.8 131.2,153.9 131.8,153.9 132.1,154.0 132.5,154.1 133.0,154.2 133.2,154.3 133.8,154.4 134.0,154.5 134.5,154.7 134.8,154.8 135.2,155.0 135.5,155.2 135.8,155.3 136.1,155.5 136.5,155.7 136.8,155.8 137.1,156.0 137.5,156.2 137.8,156.3 138.2,156.5 138.5,156.6 139.0,156.7 139.2,156.8 139.8,157.0 140.0,157.1 140.4,157.2 140.8,157.4 141.0,157.5 141.5,157.7 141.8,157.8 142.1,158.0 142.5,158.2 142.8,158.4 143.0,158.5 143.3,158.8 143.7,159.0 144.0,159.2 144.2,159.4 144.5,159.7 144.8,159.9 145.0,160.1 145.2,160.4 145.5,160.7 145.8,161.0 146.0,161.2 146.2,161.5 146.4,161.8 146.5,162.0 146.8,162.3 147.0,162.8 147.1,163.0 147.3,163.2 147.5,163.7 147.6,164.0 147.8,164.3 147.9,164.8 148.0,165.0 148.2,165.5 148.3,165.8 148.4,166.2 148.5,166.6 148.6,167.0 148.7,167.5 148.7,168.0 148.8,168.2 148.8,168.8 148.9,169.2 148.9,169.8 148.9,170.2 148.9,170.8 148.8,171.2 148.8,171.8 148.7,172.0 148.7,172.5 148.6,173.0 148.5,173.4 148.4,173.8 148.3,174.2 148.2,174.5 148.0,175.0 147.9,175.2 147.8,175.7 147.6,176.0 147.5,176.3 147.3,176.8 147.1,177.0 147.0,177.3 146.8,177.7 146.5,178.0 146.4,178.2 146.2,178.5 146.0,178.8 145.8,179.1 145.5,179.3 145.2,179.6 145.0,179.9 144.8,180.1 144.5,180.3 144.2,180.5 144.0,180.8 143.6,181.0 143.3,181.2 143.0,181.4 142.8,181.6 142.4,181.8 142.0,181.9 141.8,182.0 141.2,182.2 141.0,182.3 140.5,182.5 140.2,182.5Z" fill="none" stroke="#444" stroke-width="0.55"/>
<path d="M139.8,181.3 139.2,181.4 138.8,181.4 138.2,181.4 137.8,181.4 137.2,181.4 136.8,181.3 136.5,181.2 136.0,181.1 135.7,181.0 135.2,180.8 135.0,180.7 134.5,180.5 134.2,180.4 134.0,180.2 133.7,180.0 133.3,179.8 133.0,179.5 132.8,179.3 132.5,179.1 132.2,178.9 132.0,178.7 131.8,178.4 131.5,178.2 131.2,177.9 131.0,177.6 130.8,177.3 130.5,177.0 130.3,176.8 130.1,176.5 129.9,176.2 129.7,176.0 129.5,175.8 129.2,175.5 129.0,175.2 128.7,175.0 128.4,174.8 128.0,174.6 127.5,174.6 127.0,174.8 126.8,174.9 126.5,175.1 126.2,175.2 125.9,175.5 125.5,175.8 125.2,176.0 125.0,176.1 124.8,176.3 124.4,176.5 124.0,176.7 123.8,176.9 123.5,177.0 123.0,177.2 122.8,177.3 122.2,177.5 122.0,177.6 121.5,177.7 121.2,177.8 120.8,177.9 120.2,178.0 119.9,178.0 119.5,178.0 119.0,178.1 118.5,178.1 118.0,178.0 117.7,178.0 117.2,178.0 116.8,177.9 116.2,177.8 116.0,177.7 115.5,177.6 115.2,177.5 114.8,177.3 114.5,177.2 114.2,177.0 113.8,176.8 113.5,176.6 113.2,176.5 113.0,176.2 112.7,176.0 112.4,175.8 112.1,175.5 111.9,175.2 111.7,175.0 111.5,174.7 111.2,174.3 111.1,174.0 111.0,173.8 110.8,173.2 110.7,173.0 110.6,172.5 110.6,172.0 110.6,171.5 110.7,171.0 110.8,170.5 110.8,170.2 111.0,169.8 111.1,169.5 111.2,169.0 111.4,168.8 111.5,168.4 111.6,168.0 111.7,167.5 111.6,167.0 111.5,166.7 111.2,166.3 111.1,166.0 110.9,165.8 110.7,165.5 110.5,165.2 110.2,165.0 110.0,164.7 109.8,164.4 109.5,164.1 109.3,163.8 109.1,163.5 108.9,163.2 108.8,162.9 108.6,162.5 108.4,162.2 108.3,161.8 108.2,161.5 108.1,161.0 108.0,160.5 108.0,160.2 108.0,159.8 108.0,159.3 108.0,159.0 108.1,158.5 108.2,158.1 108.4,157.8 108.5,157.4 108.7,157.0 108.8,156.8 109.0,156.5 109.2,156.1 109.5,155.8 109.7,155.5 110.0,155.2 110.2,155.0 110.5,154.8 110.8,154.5 111.0,154.3 111.2,154.2 111.5,154.0 111.9,153.8 112.2,153.5 112.5,153.4 112.8,153.2 113.2,153.1 113.5,152.9 114.0,152.8 114.2,152.7 114.8,152.5 115.0,152.5 115.5,152.3 116.0,152.2 116.2,152.2 116.8,152.1 117.2,152.1 117.8,152.0 118.2,152.0 118.8,152.0 119.2,152.0 119.8,152.1 120.2,152.1 120.8,152.2 121.0,152.2 121.5,152.3 122.0,152.5 122.2,152.5 122.8,152.7 123.0,152.8 123.5,152.9 123.8,153.0 124.2,153.2 124.5,153.3 125.0,153.5 125.2,153.6 125.5,153.8 126.0,154.0 126.2,154.1 126.6,154.2 127.0,154.4 127.2,154.5 127.7,154.8 128.0,154.9 128.2,155.0 128.8,155.2 129.0,155.4 129.3,155.5 129.8,155.7 130.0,155.9 130.2,156.0 130.5,156.2 130.8,156.5 131.0,156.9 131.1,157.2 131.1,157.8 131.1,158.2 131.2,158.8 131.4,159.0 131.8,159.2 132.2,159.1 132.8,159.0 133.0,159.0 133.5,158.8 133.8,158.7 134.2,158.6 134.8,158.5 135.0,158.5 135.5,158.4 136.0,158.3 136.5,158.3 137.0,158.3 137.5,158.3 138.0,158.4 138.5,158.4 139.0,158.5 139.2,158.6 139.8,158.7 140.0,158.8 140.5,158.9 140.8,159.0 141.2,159.2 141.5,159.3 141.9,159.5 142.2,159.7 142.5,159.8 142.8,160.0 143.1,160.2 143.4,160.5 143.7,160.8 144.0,161.0 144.2,161.2 144.5,161.5 144.8,161.7 145.0,162.0 145.2,162.2 145.4,162.5 145.5,162.8 145.8,163.1 146.0,163.5 146.2,163.8 146.3,164.0 146.5,164.4 146.7,164.8 146.8,165.0 147.0,165.5 147.0,165.8 147.2,166.2 147.3,166.5 147.4,167.0 147.5,167.4 147.6,167.8 147.6,168.2 147.7,168.8 147.7,169.2 147.8,169.6 147.8,170.0 147.8,170.5 147.7,170.8 147.7,171.2 147.7,171.8 147.6,172.2 147.5,172.7 147.4,173.0 147.3,173.5 147.2,173.8 147.1,174.2 147.0,174.5 146.8,175.0 146.7,175.2 146.5,175.7 146.4,176.0 146.2,176.2 146.0,176.7 145.8,177.0 145.6,177.2 145.5,177.5 145.2,177.8 145.0,178.1 144.8,178.4 144.5,178.7 144.2,178.9 144.0,179.2 143.8,179.4 143.5,179.6 143.2,179.8 142.9,180.0 142.5,180.2 142.2,180.4 142.0,180.5 141.5,180.8 141.2,180.9 140.9,181.0 140.5,181.1 140.0,181.2 139.8,181.3Z" fill="none" stroke="#222" stroke-width="0.7"/>
<path d="M120.0,176.8 119.5,176.8 119.0,176.8 118.5,176.9 118.0,176.8 117.5,176.8 117.2,176.7 116.8,176.6 116.2,176.5 116.0,176.4 115.5,176.2 115.2,176.1 115.0,176.0 114.6,175.8 114.2,175.5 114.0,175.4 113.8,175.2 113.5,174.9 113.2,174.7 113.0,174.3 112.8,174.0 112.6,173.8 112.5,173.5 112.3,173.0 112.2,172.7 112.2,172.2 112.2,171.8 112.2,171.2 112.2,171.0 112.4,170.5 112.5,170.2 112.7,169.8 112.8,169.5 113.0,169.1 113.2,168.8 113.3,168.5 113.5,168.2 113.7,167.8 113.7,167.2 113.5,166.8 113.4,166.5 113.2,166.2 113.0,166.0 112.7,165.8 112.5,165.5 112.2,165.2 111.9,165.0 111.7,164.8 111.4,164.5 111.2,164.2 110.9,164.0 110.7,163.8 110.5,163.4 110.2,163.1 110.0,162.8 109.9,162.5 109.8,162.2 109.6,161.8 109.5,161.5 109.3,161.0 109.2,160.5 109.2,160.2 109.2,159.8 109.2,159.2 109.3,159.0 109.4,158.5 109.5,158.1 109.6,157.8 109.8,157.5 110.0,157.0 110.2,156.8 110.4,156.5 110.6,156.2 110.8,156.0 111.0,155.8 111.3,155.5 111.5,155.2 111.9,155.0 112.2,154.8 112.5,154.6 112.8,154.4 113.0,154.2 113.5,154.0 113.8,153.9 114.1,153.8 114.5,153.6 114.8,153.5 115.2,153.4 115.8,153.3 116.0,153.2 116.5,153.1 117.0,153.0 117.4,153.0 117.8,153.0 118.2,153.0 118.8,153.0 119.2,153.0 119.5,153.0 120.0,153.1 120.5,153.1 121.0,153.2 121.2,153.3 121.8,153.4 122.1,153.5 122.5,153.6 122.8,153.8 123.2,153.9 123.5,154.0 124.0,154.2 124.2,154.4 124.5,154.5 124.9,154.8 125.2,154.9 125.5,155.1 125.8,155.3 126.1,155.5 126.4,155.8 126.7,156.0 126.9,156.2 127.2,156.5 127.4,156.8 127.5,157.0 127.8,157.4 127.9,157.8 128.0,158.1 128.1,158.5 128.2,159.0 128.2,159.5 128.3,159.8 128.3,160.2 128.3,160.8 128.2,161.0 128.2,161.5 128.1,162.0 128.0,162.3 127.9,162.8 127.7,163.0 127.5,163.4 127.3,163.8 127.1,164.0 126.9,164.2 126.7,164.5 126.4,164.8 126.2,165.0 125.9,165.2 125.7,165.5 125.4,165.8 125.2,166.0 125.0,166.3 124.8,166.7 124.6,167.0 124.6,167.5 124.7,168.0 124.8,168.2 125.0,168.6 125.2,169.0 125.3,169.2 125.5,169.7 125.6,170.0 125.8,170.4 125.8,170.8 125.9,171.2 125.8,171.8 125.8,172.1 125.7,172.5 125.5,172.9 125.3,173.2 125.2,173.5 125.0,173.8 124.8,174.1 124.5,174.4 124.2,174.7 124.0,174.9 123.8,175.1 123.5,175.3 123.2,175.5 122.9,175.8 122.5,176.0 122.2,176.1 121.8,176.2 121.5,176.4 121.1,176.5 120.8,176.6 120.2,176.7 120.0,176.8ZM139.8,180.0 139.2,180.1 138.8,180.1 138.2,180.1 137.8,180.1 137.2,180.1 136.9,180.0 136.5,179.9 136.0,179.8 135.8,179.7 135.4,179.5 135.0,179.3 134.8,179.2 134.4,179.0 134.0,178.8 133.8,178.5 133.5,178.3 133.2,178.1 133.0,177.9 132.8,177.7 132.5,177.4 132.2,177.1 132.0,176.8 131.8,176.5 131.5,176.2 131.4,176.0 131.2,175.8 131.0,175.4 130.8,175.0 130.6,174.8 130.5,174.5 130.2,174.1 130.1,173.8 130.0,173.5 129.8,173.0 129.7,172.8 129.5,172.3 129.4,172.0 129.3,171.5 129.2,171.2 129.1,170.8 129.1,170.2 129.0,169.8 129.0,169.2 129.1,168.8 129.1,168.2 129.2,167.8 129.3,167.5 129.4,167.0 129.5,166.5 129.6,166.2 129.7,165.8 129.8,165.5 130.0,165.0 130.1,164.8 130.3,164.5 130.5,164.1 130.7,163.8 130.9,163.5 131.1,163.2 131.3,163.0 131.6,162.8 131.9,162.5 132.1,162.2 132.4,162.0 132.8,161.8 133.0,161.6 133.2,161.4 133.5,161.2 133.9,161.0 134.2,160.8 134.5,160.7 135.0,160.5 135.2,160.4 135.7,160.2 136.0,160.2 136.5,160.0 136.8,160.0 137.2,159.9 137.8,159.9 138.2,159.9 138.8,160.0 139.1,160.0 139.5,160.1 140.0,160.2 140.2,160.3 140.8,160.4 141.0,160.5 141.4,160.8 141.8,160.9 142.0,161.1 142.3,161.2 142.7,161.5 143.0,161.8 143.2,162.0 143.5,162.2 143.8,162.5 144.0,162.7 144.2,163.0 144.4,163.2 144.6,163.5 144.8,163.8 145.0,164.1 145.2,164.5 145.4,164.8 145.5,165.0 145.7,165.5 145.9,165.8 146.0,166.1 146.1,166.5 146.2,166.9 146.3,167.2 146.4,167.8 146.5,168.1 146.6,168.5 146.6,169.0 146.7,169.5 146.7,170.0 146.7,170.5 146.6,171.0 146.6,171.5 146.5,172.0 146.5,172.2 146.4,172.8 146.3,173.2 146.2,173.5 146.0,174.0 145.9,174.2 145.8,174.7 145.6,175.0 145.5,175.3 145.2,175.7 145.1,176.0 144.9,176.2 144.8,176.5 144.5,176.9 144.2,177.2 144.0,177.5 143.8,177.8 143.5,178.0 143.2,178.2 143.0,178.4 142.8,178.6 142.5,178.8 142.2,179.0 141.8,179.2 141.5,179.4 141.2,179.5 140.8,179.7 140.5,179.8 140.0,179.9 139.8,180.0Z" fill="none" stroke="#222" stroke-width="0.7"/>
<path d="M119.8,175.5 119.2,175.6 118.8,175.6 118.2,175.6 117.8,175.6 117.4,175.5 117.0,175.4 116.5,175.2 116.2,175.1 115.9,175.0 115.5,174.8 115.2,174.6 115.0,174.4 114.8,174.1 114.5,173.9 114.2,173.5 114.1,173.2 114.0,173.0 113.8,172.5 113.8,172.0 113.8,171.5 113.9,171.0 114.0,170.7 114.2,170.2 114.3,170.0 114.5,169.8 114.8,169.4 115.0,169.1 115.2,168.9 115.5,168.6 115.8,168.3 116.0,168.1 116.2,167.8 116.4,167.5 116.4,167.0 116.2,166.8 115.9,166.5 115.6,166.2 115.2,166.0 115.0,165.9 114.8,165.7 114.5,165.5 114.1,165.2 113.8,165.0 113.5,164.9 113.2,164.7 113.0,164.5 112.7,164.2 112.4,164.0 112.2,163.8 111.9,163.5 111.7,163.2 111.5,163.0 111.2,162.7 111.0,162.3 110.9,162.0 110.7,161.8 110.6,161.2 110.5,161.0 110.4,160.5 110.3,160.0 110.3,159.5 110.4,159.0 110.5,158.6 110.6,158.2 110.8,157.9 111.0,157.5 111.1,157.2 111.3,157.0 111.5,156.7 111.8,156.4 112.0,156.2 112.2,155.9 112.5,155.7 112.8,155.5 113.2,155.2 113.5,155.0 113.8,154.9 114.1,154.8 114.5,154.6 114.8,154.5 115.2,154.3 115.5,154.2 116.0,154.1 116.4,154.0 116.8,153.9 117.2,153.9 117.8,153.8 118.2,153.8 118.8,153.8 119.2,153.8 119.8,153.9 120.2,154.0 120.5,154.0 121.0,154.1 121.4,154.2 121.8,154.3 122.2,154.5 122.5,154.6 122.8,154.8 123.2,155.0 123.5,155.1 123.8,155.2 124.2,155.5 124.5,155.7 124.8,155.9 125.0,156.1 125.2,156.4 125.5,156.6 125.8,156.9 126.0,157.2 126.1,157.5 126.2,157.8 126.5,158.2 126.5,158.5 126.7,159.0 126.7,159.5 126.7,160.0 126.7,160.5 126.7,161.0 126.5,161.5 126.4,161.8 126.2,162.2 126.1,162.5 125.9,162.8 125.8,163.0 125.5,163.4 125.2,163.7 125.0,163.9 124.8,164.2 124.5,164.4 124.2,164.6 124.0,164.8 123.7,165.0 123.4,165.2 123.0,165.5 122.8,165.7 122.5,165.9 122.2,166.0 121.9,166.2 121.6,166.5 121.4,166.8 121.2,167.0 121.2,167.4 121.4,167.8 121.6,168.0 121.8,168.2 122.1,168.5 122.3,168.8 122.5,169.0 122.8,169.3 123.0,169.6 123.2,170.0 123.4,170.2 123.5,170.5 123.7,171.0 123.7,171.5 123.7,172.0 123.6,172.5 123.5,172.9 123.3,173.2 123.2,173.5 123.0,173.8 122.7,174.0 122.5,174.2 122.2,174.5 121.8,174.8 121.5,174.9 121.2,175.1 120.8,175.2 120.5,175.3 120.0,175.5 119.8,175.5ZM139.8,178.8 139.2,178.9 138.8,179.0 138.2,179.0 137.8,178.9 137.2,178.9 136.8,178.8 136.5,178.7 136.0,178.5 135.8,178.4 135.4,178.2 135.0,178.0 134.8,177.9 134.5,177.7 134.2,177.5 133.9,177.2 133.7,177.0 133.4,176.8 133.2,176.5 133.0,176.2 132.8,176.0 132.5,175.7 132.2,175.3 132.1,175.0 131.9,174.8 131.8,174.4 131.5,174.0 131.4,173.8 131.2,173.3 131.1,173.0 131.0,172.6 130.9,172.2 130.8,171.8 130.7,171.5 130.7,171.0 130.6,170.5 130.6,170.0 130.6,169.5 130.6,169.0 130.7,168.5 130.8,168.0 130.8,167.8 130.9,167.2 131.0,167.0 131.2,166.5 131.2,166.2 131.5,165.8 131.6,165.5 131.8,165.2 132.0,164.8 132.2,164.5 132.3,164.2 132.5,164.0 132.8,163.8 133.0,163.5 133.2,163.2 133.5,163.0 133.8,162.8 134.1,162.5 134.5,162.3 134.8,162.1 135.0,162.0 135.5,161.8 135.8,161.6 136.1,161.5 136.5,161.4 137.0,161.3 137.3,161.2 137.8,161.2 138.2,161.2 138.8,161.2 139.0,161.2 139.5,161.3 140.0,161.5 140.2,161.5 140.8,161.7 141.0,161.8 141.3,162.0 141.7,162.2 142.0,162.4 142.2,162.6 142.5,162.8 142.8,163.0 143.0,163.3 143.2,163.5 143.5,163.8 143.8,164.1 144.0,164.5 144.2,164.8 144.3,165.0 144.5,165.3 144.7,165.8 144.8,166.0 145.0,166.4 145.1,166.8 145.2,167.1 145.4,167.5 145.5,168.0 145.5,168.2 145.6,168.8 145.7,169.2 145.7,169.8 145.7,170.2 145.7,170.8 145.6,171.2 145.6,171.8 145.5,172.2 145.4,172.5 145.3,173.0 145.2,173.2 145.1,173.8 145.0,174.0 144.8,174.5 144.6,174.8 144.5,175.0 144.2,175.4 144.0,175.8 143.8,176.0 143.7,176.2 143.4,176.5 143.2,176.8 143.0,177.0 142.7,177.2 142.4,177.5 142.1,177.8 141.8,178.0 141.5,178.1 141.2,178.3 140.8,178.5 140.5,178.6 140.0,178.7 139.8,178.8Z" fill="none" stroke="#000" stroke-width="0.85"/>
<path d="M119.0,165.5 118.5,165.5 118.1,165.5 117.8,165.5 117.2,165.4 116.8,165.3 116.5,165.2 116.0,165.0 115.8,164.9 115.3,164.8 115.0,164.6 114.8,164.5 114.4,164.2 114.0,164.0 113.8,163.8 113.5,163.6 113.2,163.4 113.0,163.2 112.8,163.0 112.5,162.7 112.2,162.3 112.0,162.0 111.9,161.8 111.8,161.5 111.6,161.0 111.5,160.7 111.4,160.2 111.4,159.8 111.4,159.2 111.5,159.0 111.6,158.5 111.8,158.2 112.0,157.8 112.1,157.5 112.3,157.2 112.5,157.0 112.8,156.8 113.0,156.5 113.3,156.2 113.6,156.0 114.0,155.8 114.2,155.6 114.5,155.5 115.0,155.3 115.2,155.2 115.8,155.0 116.0,154.9 116.5,154.8 116.8,154.8 117.2,154.7 117.8,154.6 118.2,154.6 118.8,154.6 119.2,154.7 119.8,154.7 120.0,154.8 120.5,154.9 121.0,155.0 121.2,155.1 121.7,155.2 122.0,155.4 122.3,155.5 122.8,155.7 123.0,155.9 123.2,156.0 123.5,156.2 123.9,156.5 124.1,156.8 124.4,157.0 124.6,157.2 124.8,157.5 125.0,157.9 125.2,158.2 125.3,158.5 125.4,159.0 125.5,159.5 125.5,159.8 125.5,160.2 125.5,160.5 125.4,161.0 125.2,161.4 125.1,161.8 125.0,162.0 124.8,162.4 124.5,162.7 124.3,163.0 124.0,163.2 123.8,163.5 123.5,163.7 123.2,163.9 123.0,164.1 122.7,164.2 122.3,164.5 122.0,164.7 121.8,164.8 121.2,165.0 121.0,165.1 120.5,165.2 120.2,165.3 119.8,165.4 119.2,165.5 119.0,165.5ZM139.2,177.8 138.8,177.9 138.2,177.9 137.8,177.8 137.2,177.8 137.0,177.7 136.5,177.5 136.2,177.5 135.8,177.2 135.5,177.1 135.2,176.9 135.0,176.8 134.7,176.5 134.4,176.2 134.1,176.0 133.9,175.8 133.7,175.5 133.5,175.2 133.2,174.9 133.0,174.6 132.8,174.2 132.7,174.0 132.5,173.6 132.3,173.2 132.2,173.0 132.1,172.5 132.0,172.2 131.9,171.8 131.8,171.2 131.8,170.8 131.7,170.5 131.7,170.0 131.7,169.5 131.8,169.0 131.8,168.8 131.9,168.2 132.0,167.8 132.0,167.5 132.2,167.0 132.3,166.8 132.5,166.3 132.6,166.0 132.8,165.8 133.0,165.4 133.2,165.0 133.5,164.8 133.7,164.5 133.9,164.2 134.1,164.0 134.4,163.8 134.8,163.5 135.0,163.3 135.2,163.2 135.6,163.0 136.0,162.8 136.2,162.7 136.8,162.5 137.0,162.5 137.5,162.4 138.0,162.3 138.5,162.3 139.0,162.4 139.5,162.5 139.8,162.6 140.2,162.7 140.5,162.8 140.9,163.0 141.2,163.2 141.5,163.4 141.8,163.6 142.0,163.8 142.3,164.0 142.5,164.2 142.8,164.5 143.0,164.8 143.2,165.1 143.5,165.5 143.6,165.8 143.8,166.0 144.0,166.5 144.1,166.8 144.2,167.1 144.4,167.5 144.5,167.9 144.6,168.2 144.7,168.8 144.7,169.2 144.8,169.5 144.8,170.0 144.8,170.5 144.8,170.8 144.7,171.2 144.6,171.8 144.5,172.2 144.5,172.5 144.3,173.0 144.2,173.2 144.0,173.8 143.9,174.0 143.8,174.3 143.5,174.8 143.4,175.0 143.2,175.2 143.0,175.5 142.8,175.8 142.5,176.0 142.2,176.3 142.0,176.5 141.7,176.8 141.3,177.0 141.0,177.2 140.8,177.3 140.3,177.5 140.0,177.6 139.5,177.7 139.2,177.8ZM119.5,174.0 119.0,174.1 118.5,174.1 118.0,174.1 117.6,174.0 117.2,173.9 116.9,173.8 116.5,173.5 116.3,173.2 116.1,173.0 115.9,172.8 115.8,172.4 115.7,172.0 115.7,171.5 115.8,171.2 116.0,170.8 116.2,170.5 116.5,170.3 116.8,170.1 117.0,169.9 117.3,169.8 117.8,169.6 118.0,169.5 118.5,169.4 119.0,169.4 119.4,169.5 119.8,169.6 120.1,169.8 120.5,170.0 120.8,170.1 121.0,170.4 121.2,170.7 121.5,171.0 121.6,171.2 121.6,171.8 121.6,172.2 121.5,172.5 121.2,173.0 121.0,173.2 120.8,173.5 120.5,173.6 120.2,173.8 119.8,174.0 119.5,174.0Z" fill="none" stroke="#000" stroke-width="0.85"/>
<path d="M120.0,164.3 119.5,164.4 119.0,164.4 118.5,164.5 118.0,164.4 117.5,164.4 117.0,164.3 116.8,164.2 116.2,164.1 116.0,164.0 115.5,163.8 115.2,163.7 114.9,163.5 114.5,163.2 114.2,163.1 114.0,162.9 113.8,162.6 113.5,162.4 113.2,162.1 113.0,161.8 112.9,161.5 112.8,161.2 112.6,160.8 112.5,160.4 112.5,160.0 112.5,159.5 112.5,159.2 112.6,158.8 112.8,158.4 113.0,158.0 113.1,157.8 113.3,157.5 113.6,157.2 113.8,157.0 114.1,156.8 114.5,156.5 114.8,156.3 115.0,156.2 115.4,156.0 115.8,155.9 116.1,155.8 116.5,155.6 117.0,155.5 117.2,155.5 117.8,155.4 118.2,155.4 118.8,155.4 119.2,155.5 119.6,155.5 120.0,155.6 120.5,155.7 120.8,155.8 121.2,156.0 121.5,156.1 121.9,156.2 122.2,156.5 122.5,156.6 122.8,156.8 123.0,157.0 123.2,157.3 123.5,157.6 123.8,157.9 124.0,158.2 124.1,158.5 124.2,159.0 124.3,159.2 124.4,159.8 124.4,160.2 124.3,160.8 124.2,161.0 124.0,161.5 123.8,161.8 123.7,162.0 123.5,162.2 123.2,162.5 123.0,162.8 122.7,163.0 122.4,163.2 122.0,163.5 121.8,163.7 121.5,163.8 121.0,164.0 120.8,164.1 120.2,164.2 120.0,164.3ZM139.0,176.8 138.5,176.8 138.0,176.8 137.6,176.8 137.2,176.7 136.8,176.5 136.5,176.4 136.1,176.2 135.8,176.0 135.5,175.9 135.2,175.7 135.0,175.5 134.8,175.2 134.5,175.0 134.2,174.7 134.0,174.3 133.8,174.0 133.6,173.8 133.5,173.5 133.3,173.0 133.2,172.8 133.0,172.2 132.9,172.0 132.8,171.5 132.8,171.0 132.7,170.8 132.7,170.2 132.7,169.8 132.7,169.2 132.8,169.0 132.8,168.5 133.0,168.0 133.0,167.8 133.2,167.2 133.3,167.0 133.5,166.6 133.7,166.2 133.8,166.0 134.0,165.8 134.2,165.4 134.5,165.2 134.8,164.9 135.0,164.7 135.2,164.5 135.6,164.2 136.0,164.0 136.2,163.9 136.6,163.8 137.0,163.6 137.5,163.5 137.8,163.5 138.2,163.4 138.8,163.5 139.0,163.5 139.5,163.6 139.9,163.8 140.2,163.9 140.5,164.0 140.9,164.2 141.2,164.5 141.5,164.7 141.8,164.9 142.0,165.1 142.2,165.4 142.5,165.7 142.7,166.0 142.8,166.2 143.0,166.5 143.2,167.0 143.3,167.2 143.5,167.7 143.6,168.0 143.7,168.5 143.8,168.8 143.8,169.2 143.9,169.8 143.9,170.2 143.9,170.8 143.8,171.2 143.8,171.6 143.7,172.0 143.5,172.5 143.4,172.8 143.2,173.2 143.1,173.5 143.0,173.8 142.8,174.1 142.5,174.5 142.3,174.8 142.1,175.0 141.9,175.2 141.6,175.5 141.3,175.8 141.0,176.0 140.8,176.1 140.5,176.3 140.0,176.5 139.8,176.6 139.2,176.7 139.0,176.8Z" fill="none" stroke="#000" stroke-width="0.85"/>
<path d="M120.0,163.3 119.5,163.4 119.0,163.4 118.5,163.5 118.0,163.5 117.5,163.4 117.0,163.3 116.8,163.2 116.2,163.1 116.0,163.0 115.6,162.8 115.2,162.5 115.0,162.4 114.8,162.2 114.5,161.9 114.2,161.6 114.0,161.2 113.9,161.0 113.8,160.7 113.6,160.2 113.6,159.8 113.7,159.2 113.8,159.0 114.0,158.5 114.1,158.2 114.3,158.0 114.5,157.8 114.8,157.5 115.1,157.2 115.5,157.0 115.8,156.9 116.0,156.7 116.5,156.6 116.8,156.5 117.2,156.4 117.8,156.3 118.2,156.3 118.8,156.3 119.2,156.3 119.8,156.4 120.0,156.5 120.5,156.7 120.8,156.8 121.2,157.0 121.5,157.2 121.8,157.3 122.0,157.5 122.2,157.8 122.5,158.1 122.8,158.4 122.9,158.8 123.0,159.0 123.1,159.5 123.2,160.0 123.1,160.5 123.0,160.8 122.8,161.2 122.6,161.5 122.5,161.8 122.2,162.0 122.0,162.2 121.6,162.5 121.2,162.7 121.0,162.9 120.7,163.0 120.2,163.2 120.0,163.3ZM139.0,175.6 138.5,175.6 138.0,175.6 137.5,175.5 137.2,175.5 136.8,175.3 136.5,175.2 136.2,175.0 135.8,174.8 135.5,174.5 135.3,174.2 135.1,174.0 134.9,173.8 134.7,173.5 134.5,173.2 134.3,172.8 134.2,172.5 134.0,172.0 133.9,171.8 133.8,171.2 133.8,170.8 133.7,170.5 133.7,170.0 133.7,169.5 133.8,169.2 133.8,168.8 134.0,168.2 134.1,168.0 134.2,167.5 134.4,167.2 134.5,167.0 134.8,166.6 135.0,166.3 135.2,166.0 135.5,165.8 135.8,165.5 136.0,165.4 136.2,165.2 136.6,165.0 137.0,164.8 137.3,164.8 137.8,164.7 138.2,164.6 138.8,164.6 139.2,164.7 139.5,164.8 140.0,165.0 140.2,165.1 140.5,165.3 140.8,165.5 141.1,165.8 141.4,166.0 141.6,166.2 141.8,166.5 142.0,166.8 142.2,167.2 142.4,167.5 142.5,167.9 142.6,168.2 142.8,168.7 142.8,169.0 142.8,169.5 142.9,170.0 142.8,170.5 142.8,170.9 142.6,171.2 142.5,171.6 142.3,172.0 142.1,172.2 141.8,172.5 141.7,172.5 141.6,172.0 141.5,171.8 141.2,171.3 141.0,171.0 140.8,170.8 140.5,170.7 140.0,170.7 139.7,170.8 139.4,171.0 139.2,171.3 139.2,171.8 139.2,172.2 139.3,172.5 139.5,172.8 139.8,173.0 140.2,173.2 140.5,173.3 141.0,173.2 141.1,173.2 141.3,173.5 141.2,173.8 141.0,174.2 140.8,174.5 140.5,174.8 140.2,175.0 140.0,175.1 139.8,175.3 139.2,175.5 139.0,175.6Z" fill="none" stroke="#000" stroke-width="0.85"/>
<path d="M119.5,162.3 119.0,162.4 118.5,162.5 118.0,162.4 117.5,162.4 117.1,162.2 116.8,162.1 116.4,162.0 116.0,161.8 115.8,161.5 115.5,161.3 115.3,161.0 115.1,160.8 115.0,160.4 114.9,160.0 114.9,159.5 115.0,159.2 115.2,158.8 115.4,158.5 115.6,158.2 115.9,158.0 116.2,157.8 116.5,157.6 116.9,157.5 117.2,157.4 117.8,157.3 118.2,157.2 118.5,157.2 118.8,157.3 119.2,157.3 119.8,157.5 120.0,157.6 120.4,157.8 120.8,158.0 121.0,158.2 121.2,158.4 121.5,158.7 121.6,159.0 121.8,159.3 121.8,159.8 121.8,160.2 121.7,160.5 121.5,161.0 121.3,161.2 121.0,161.5 120.8,161.7 120.5,161.9 120.2,162.0 119.8,162.2 119.5,162.3ZM138.2,174.1 137.8,174.2 137.2,174.1 136.9,174.0 136.5,173.8 136.2,173.6 136.0,173.3 135.8,173.1 135.5,172.8 135.4,172.5 135.2,172.2 135.0,171.8 135.0,171.5 134.8,171.0 134.8,170.5 134.8,170.0 134.8,169.5 134.9,169.0 135.0,168.6 135.1,168.2 135.2,168.0 135.5,167.5 135.7,167.2 135.9,167.0 136.2,166.8 136.5,166.5 136.8,166.3 137.0,166.2 137.5,166.0 137.8,165.9 138.2,165.9 138.8,165.9 139.2,166.0 139.5,166.1 139.8,166.2 140.2,166.5 140.5,166.8 140.7,167.0 140.9,167.2 141.1,167.5 141.2,167.8 141.4,168.2 141.5,168.5 141.5,169.0 141.5,169.2 141.2,169.6 140.8,169.7 140.5,169.8 140.0,169.9 139.7,170.0 139.3,170.2 139.1,170.5 138.9,170.8 138.8,171.0 138.6,171.5 138.5,172.0 138.5,172.5 138.6,173.0 138.6,173.5 138.5,173.9 138.2,174.1Z" fill="none" stroke="#000" stroke-width="0.85"/>
<path d="M119.0,161.1 118.5,161.1 118.0,161.1 117.5,161.0 117.2,160.9 117.0,160.7 116.8,160.4 116.6,160.0 116.7,159.5 116.8,159.2 117.0,159.0 117.3,158.8 117.8,158.6 118.2,158.5 118.8,158.6 119.2,158.7 119.5,158.8 119.8,159.0 120.0,159.4 120.1,159.8 120.0,160.2 119.9,160.5 119.6,160.8 119.2,161.0 119.0,161.1ZM137.2,172.2 136.8,172.0 136.5,171.8 136.3,171.5 136.2,171.2 136.0,170.8 136.0,170.5 136.0,170.0 136.0,169.7 136.1,169.2 136.2,168.8 136.4,168.5 136.6,168.2 136.8,168.0 137.0,167.8 137.5,167.5 137.8,167.4 138.2,167.3 138.8,167.4 139.1,167.5 139.4,167.8 139.7,168.0 139.8,168.2 139.8,168.6 139.5,169.0 139.3,169.2 139.0,169.5 138.8,169.8 138.6,170.0 138.4,170.2 138.2,170.5 138.0,171.0 137.9,171.2 137.8,171.6 137.5,172.0 137.2,172.2Z" fill="none" stroke="#000" stroke-width="0.85"/>
<line x1="129.2" y1="129" x2="129.2" y2="184" stroke="#4050a0" stroke-width="0.7"/>
<line x1="101.2" y1="164.6" x2="155.6" y2="164.6" stroke="#4050a0" stroke-width="0.7"/>
<text x="95.50" y="164.93" font-size="9.00" font-weight="bold" fill="#000" textLength="16.58" lengthAdjust="spacingAndGlyphs" transform="rotate(-90 95.50 164.93)">CD4</text>
<text x="120.76" y="200.70" font-size="8.86" font-weight="bold" fill="#000" textLength="16.90" lengthAdjust="spacingAndGlyphs">CD8</text>
<text x="103.5" y="133" font-size="2.6" text-anchor="start" fill="#888">85</text>
<text x="149" y="133" font-size="2.6" text-anchor="start" fill="#888">0.83</text>
<text x="103.5" y="182" font-size="2.6" text-anchor="start" fill="#888">23.1</text>
<text x="149" y="182" font-size="2.6" text-anchor="start" fill="#888">25.1</text>
<text x="-0.20" y="231.90" font-size="18.55" font-weight="bold" fill="#000" textLength="13.38" lengthAdjust="spacingAndGlyphs">B</text>
<line x1="14.2" y1="249.5" x2="14.2" y2="310" stroke="#000" stroke-width="0.6"/>
<line x1="14.2" y1="310" x2="74.6" y2="310" stroke="#000" stroke-width="0.6"/>
<line x1="13.2" y1="310.0" x2="14.2" y2="310.0" stroke="#444" stroke-width="0.4"/>
<line x1="13.2" y1="297.9" x2="14.2" y2="297.9" stroke="#444" stroke-width="0.4"/>
<line x1="13.2" y1="285.8" x2="14.2" y2="285.8" stroke="#444" stroke-width="0.4"/>
<line x1="13.2" y1="273.7" x2="14.2" y2="273.7" stroke="#444" stroke-width="0.4"/>
<line x1="13.2" y1="261.6" x2="14.2" y2="261.6" stroke="#444" stroke-width="0.4"/>
<line x1="13.2" y1="249.5" x2="14.2" y2="249.5" stroke="#444" stroke-width="0.4"/>
<line x1="14.2" y1="310" x2="14.2" y2="311" stroke="#444" stroke-width="0.4"/>
<line x1="29.299999999999997" y1="310" x2="29.299999999999997" y2="311" stroke="#444" stroke-width="0.4"/>
<line x1="44.39999999999999" y1="310" x2="44.39999999999999" y2="311" stroke="#444" stroke-width="0.4"/>
<line x1="59.5" y1="310" x2="59.5" y2="311" stroke="#444" stroke-width="0.4"/>
<line x1="74.6" y1="310" x2="74.6" y2="311" stroke="#444" stroke-width="0.4"/>
<text x="10.5" y="280" font-size="2.7" text-anchor="middle" fill="#777" transform="rotate(-90 10.5 280)">% of Max</text>
<text x="12.899999999999999" y="311.0" font-size="2.6" text-anchor="end" fill="#888">0</text>
<text x="12.899999999999999" y="298.9" font-size="2.6" text-anchor="end" fill="#888">20</text>
<text x="12.899999999999999" y="286.8" font-size="2.6" text-anchor="end" fill="#888">40</text>
<text x="12.899999999999999" y="274.7" font-size="2.6" text-anchor="end" fill="#888">60</text>
<text x="12.899999999999999" y="262.6" font-size="2.6" text-anchor="end" fill="#888">80</text>
<text x="12.899999999999999" y="250.5" font-size="2.6" text-anchor="end" fill="#888">100</text>
<text x="14.2" y="314" font-size="2.6" text-anchor="middle" fill="#888">10</text>
<text x="29.299999999999997" y="314" font-size="2.6" text-anchor="middle" fill="#888">10</text>
<text x="44.39999999999999" y="314" font-size="2.6" text-anchor="middle" fill="#888">10</text>
<text x="59.5" y="314" font-size="2.6" text-anchor="middle" fill="#888">10</text>
<text x="74.6" y="314" font-size="2.6" text-anchor="middle" fill="#888">10</text>
<path d="M14.30,309.50 C14.38,306.25 14.63,299.92 14.80,290.00 C14.97,280.08 15.03,255.83 15.30,250.00 C15.57,244.17 16.03,252.00 16.40,255.00 C16.77,258.00 17.18,263.83 17.50,268.00 C17.82,272.17 17.92,274.33 18.30,280.00 C18.68,285.67 19.35,297.08 19.80,302.00 C20.25,306.92 20.80,308.25 21.00,309.50" fill="none" stroke="#aaa" stroke-width="0.6"/>
<path d="M14.5,306.8 L14.8,306.5 L15.1,306.5 L15.5,305.6 L16.0,305.1 L16.5,304.5 L17.0,303.5 L17.5,303.1 L18.0,302.5 L18.5,301.9 L19.0,300.4 L19.3,300.1 L19.6,299.2 L19.9,299.3 L20.2,298.5 L20.5,297.1 L20.8,297.3 L21.1,296.5 L21.4,295.5 L21.7,294.7 L22.0,293.5 L22.3,292.6 L22.6,292.5 L22.9,291.3 L23.1,290.9 L23.4,290.4 L23.6,289.7 L24.2,289.2 L24.6,288.8 L25.0,289.0 L25.4,288.3 L25.8,287.3 L25.9,286.7 L26.1,286.4 L26.2,285.7 L26.3,284.9 L26.5,285.0 L26.6,284.4 L26.7,283.5 L26.9,282.7 L27.0,281.6 L27.1,280.8 L27.3,280.0 L27.4,279.0 L27.6,278.9 L27.7,277.7 L27.8,277.3 L28.0,276.0 L28.1,275.7 L28.2,274.9 L28.3,273.5 L28.4,273.0 L28.5,273.0 L28.6,271.8 L28.6,271.6 L28.7,270.3 L28.8,269.2 L28.9,268.9 L29.0,268.3 L29.1,267.0 L29.2,266.0 L29.3,265.4 L29.4,265.2 L29.5,264.3 L29.6,262.8 L29.7,262.2 L29.8,261.3 L29.8,260.6 L29.9,260.6 L30.0,259.4 L30.1,259.1 L30.2,258.4 L30.2,257.6 L30.3,257.7 L30.4,256.6 L30.7,255.4 L31.0,253.8 L31.3,253.6 L31.6,253.1 L31.9,253.1 L32.4,253.7 L33.0,253.9 L33.5,254.1 L34.1,256.0 L34.2,255.8 L34.4,256.5 L34.5,257.5 L34.7,258.0 L34.8,258.1 L35.0,259.7 L35.1,259.7 L35.3,260.5 L35.4,261.8 L35.6,262.1 L35.7,262.9 L35.9,263.4 L36.1,264.2 L36.2,265.5 L36.4,265.8 L36.6,266.9 L36.8,267.4 L37.0,268.2 L37.1,269.4 L37.3,269.6 L37.5,270.4 L37.8,271.4 L38.0,271.4 L38.2,272.1 L38.4,273.6 L38.6,274.2 L38.8,274.3 L39.0,275.0 L39.2,276.2 L39.4,277.1 L39.6,277.1 L39.8,278.5 L40.0,279.1 L40.2,279.5 L40.4,280.0 L40.6,280.4 L40.8,281.0 L40.9,282.6 L41.1,282.5 L41.3,283.7 L41.5,283.9 L41.7,285.2 L42.0,285.7 L42.2,286.2 L42.4,286.9 L42.6,288.0 L42.7,288.0 L42.9,288.9 L43.1,289.9 L43.3,290.9 L43.5,291.4 L43.6,291.8 L43.8,293.2 L44.0,293.3 L44.2,293.8 L44.4,294.8 L44.6,295.8 L44.8,296.1 L45.0,296.9 L45.2,297.8 L45.4,298.6 L45.6,298.8 L45.8,299.6 L46.0,300.7 L46.2,301.3 L46.7,301.9 L47.2,302.8 L47.6,303.4 L48.2,303.5 L48.7,303.9 L49.2,304.4 L49.7,305.7 L50.2,305.9 L50.7,306.6 L51.3,306.1 L52.0,307.1 L52.6,307.3 L53.3,307.8 L53.9,307.7 L54.5,308.6 L55.2,307.9 L55.9,308.6 L56.7,309.0 L57.5,308.9 L58.3,309.1 L59.0,309.3 L59.6,309.4 L60.0,309.5" fill="none" stroke="#555" stroke-width="0.7"/>
<path d="M15.30,270.00 C15.38,268.67 15.52,264.00 15.80,262.00 C16.08,260.00 16.55,258.00 17.00,258.00 C17.45,258.00 18.00,262.67 18.50,262.00 C19.00,261.33 19.50,255.00 20.00,254.00 C20.50,253.00 20.90,254.23 21.50,256.00 C22.10,257.77 23.00,260.90 23.60,264.60 C24.20,268.30 24.60,274.43 25.10,278.20 C25.60,281.97 25.85,284.43 26.60,287.20 C27.35,289.97 28.35,292.53 29.60,294.80 C30.85,297.07 32.58,299.05 34.10,300.80 C35.62,302.55 36.93,304.05 38.70,305.30 C40.47,306.55 42.82,307.60 44.70,308.30 C46.58,309.00 49.12,309.30 50.00,309.50" fill="none" stroke="#000" stroke-width="1.3" stroke-dasharray="3,1.6"/>
<rect x="14.6" y="259" width="2.6" height="11" fill="#111"/>
<path d="M14.4,309.7 L14.9,309.7 L15.5,309.7 L16.3,309.7 L17.2,309.7 L18.1,309.7 L19.0,309.6 L19.7,309.5 L20.4,309.5 L21.1,309.4 L21.9,309.3 L22.6,309.2 L23.4,309.0 L24.3,309.3 L25.1,308.6 L25.6,308.3 L26.2,308.1 L26.8,307.9 L27.4,306.8 L28.1,306.9 L28.7,306.8 L29.3,306.3 L29.9,305.1 L30.5,305.2 L31.1,304.7 L31.6,303.7 L32.1,303.1 L32.6,302.1 L32.9,301.9 L33.2,301.4 L33.5,300.1 L33.7,300.3 L33.9,300.2 L34.2,299.5 L34.4,298.6 L34.6,297.5 L34.8,297.3 L35.0,296.4 L35.2,295.5 L35.3,295.4 L35.5,293.6 L35.7,293.8 L35.9,292.0 L36.0,292.0 L36.2,291.0 L36.4,289.8 L36.5,289.9 L36.7,289.0 L36.8,288.5 L36.9,288.3 L37.0,286.6 L37.2,285.6 L37.3,285.3 L37.4,285.1 L37.6,283.7 L37.7,282.9 L37.8,283.2 L37.9,282.1 L38.0,281.0 L38.2,280.9 L38.3,279.3 L38.4,279.1 L38.5,277.7 L38.6,277.2 L38.7,277.0 L38.8,276.5 L38.9,275.7 L39.0,274.4 L39.1,274.0 L39.2,273.0 L39.3,272.1 L39.4,272.0 L39.5,271.6 L39.6,270.8 L39.8,269.7 L39.9,269.3 L40.0,267.5 L40.0,266.6 L40.1,266.3 L40.2,265.3 L40.3,264.5 L40.4,264.1 L40.4,263.8 L40.5,262.9 L40.6,262.1 L40.7,262.2 L40.7,261.8 L40.8,260.5 L40.9,259.4 L41.1,258.3 L41.2,258.6 L41.4,256.5 L41.5,256.6 L41.7,255.7 L41.8,254.6 L42.0,254.7 L42.2,253.1 L42.4,252.8 L43.1,252.3 L43.9,251.5 L44.7,253.0 L45.0,252.5 L45.3,252.8 L45.6,253.3 L46.0,254.8 L46.3,255.3 L46.6,256.3 L47.0,257.2 L47.2,258.0 L47.5,258.8 L47.8,259.1 L48.1,259.1 L48.4,260.1 L48.7,260.4 L48.9,260.9 L49.2,262.3 L49.5,263.4 L49.8,263.4 L50.0,264.3 L50.2,265.0 L50.4,266.2 L50.6,266.6 L50.7,267.4 L50.9,268.2 L51.1,268.4 L51.2,269.6 L51.4,270.5 L51.5,270.1 L51.7,272.0 L51.9,272.4 L52.0,272.4 L52.2,273.6 L52.3,274.5 L52.5,275.6 L52.6,275.5 L52.7,276.4 L52.8,277.6 L53.0,278.2 L53.1,279.1 L53.2,279.2 L53.4,280.2 L53.5,280.3 L53.6,281.8 L53.8,282.6 L53.9,283.1 L54.1,283.9 L54.2,283.9 L54.3,285.6 L54.5,286.4 L54.7,287.1 L54.9,287.3 L55.0,288.4 L55.2,288.4 L55.4,290.0 L55.6,290.6 L55.8,290.7 L56.0,291.0 L56.2,292.2 L56.4,293.1 L56.6,294.1 L56.8,294.3 L57.1,294.4 L57.3,296.1 L57.5,295.7 L57.8,297.4 L58.0,297.3 L58.3,298.2 L58.6,299.6 L58.9,299.3 L59.2,300.0 L59.6,301.2 L59.9,302.1 L60.2,302.9 L60.5,303.3 L60.8,304.2 L61.0,304.1 L61.3,305.2 L61.7,304.9 L62.0,305.9 L62.3,307.0 L62.5,307.3 L62.9,308.5 L63.5,308.8 L64.3,309.0 L64.8,309.2 L65.5,309.3 L66.2,309.4 L67.0,309.5 L67.9,309.5 L68.7,309.6 L69.6,309.6 L70.5,309.6 L71.4,309.6 L72.2,309.6 L72.9,309.6 L73.6,309.6 L74.2,309.6 L74.6,309.6" fill="none" stroke="#000" stroke-width="1.7"/>
<text x="31.57" y="324.90" font-size="7.86" font-weight="bold" fill="#000" textLength="21.34" lengthAdjust="spacingAndGlyphs">CD86</text>
<rect x="95" y="243.3" width="77.9" height="29.7" fill="none" stroke="#555" stroke-width="0.5"/>
<line x1="101.5" y1="248.7" x2="116.5" y2="248.7" stroke="#000" stroke-width="1.4"/>
<line x1="101.5" y1="254.8" x2="116.5" y2="254.8" stroke="#555" stroke-width="1.0"/>
<line x1="101.5" y1="261.7" x2="116.5" y2="261.7" stroke="#000" stroke-width="1.1" stroke-dasharray="3,2"/>
<line x1="101.5" y1="268.8" x2="116.5" y2="268.8" stroke="#aaa" stroke-width="0.7"/>
<text x="121.79" y="249.90" font-size="4.97" font-weight="bold" fill="#111" textLength="48.54" lengthAdjust="spacingAndGlyphs">skin-derived DCs</text>
<text x="121.61" y="256.80" font-size="5.10" font-weight="bold" fill="#111" textLength="36.65" lengthAdjust="spacingAndGlyphs">resident DCs</text>
<text x="121.61" y="262.90" font-size="5.29" font-weight="bold" fill="#111" textLength="15.64" lengthAdjust="spacingAndGlyphs">pDCs</text>
<text x="121.58" y="269.90" font-size="4.97" font-weight="bold" fill="#111" textLength="43.13" lengthAdjust="spacingAndGlyphs">isotype control</text>
<rect x="107.2" y="314.2" width="65.1" height="30" fill="none" stroke="#555" stroke-width="0.5"/>
<line x1="113" y1="319.5" x2="128" y2="319.5" stroke="#000" stroke-width="1.4"/>
<line x1="113" y1="325.7" x2="128" y2="325.7" stroke="#000" stroke-width="1.0" stroke-dasharray="3,2"/>
<line x1="113" y1="332.3" x2="128" y2="332.3" stroke="#444" stroke-width="1.0"/>
<line x1="113" y1="338.5" x2="128" y2="338.5" stroke="#aaa" stroke-width="0.7"/>
<text x="133.79" y="320.80" font-size="5.00" font-weight="bold" fill="#111" textLength="10.34" lengthAdjust="spacingAndGlyphs">CD4</text>
<text x="147.6" y="318.90000000000003" font-size="4.2" font-weight="bold" text-anchor="start" fill="#111">+</text>
<text x="151.49" y="320.80" font-size="5.00" font-weight="bold" fill="#111" textLength="12.67" lengthAdjust="spacingAndGlyphs">DCs</text>
<text x="133.79" y="327.20" font-size="4.86" font-weight="bold" fill="#111" textLength="10.47" lengthAdjust="spacingAndGlyphs">CD8</text>
<text x="147.6" y="325.40000000000003" font-size="4.2" font-weight="bold" text-anchor="start" fill="#111">+</text>
<text x="151.49" y="327.20" font-size="4.86" font-weight="bold" fill="#111" textLength="12.67" lengthAdjust="spacingAndGlyphs">DCs</text>
<text x="133.75" y="333.90" font-size="5.29" font-weight="bold" fill="#111" textLength="14.10" lengthAdjust="spacingAndGlyphs">CD 4</text>
<text x="148.4" y="331.6" font-size="4.2" font-weight="bold" text-anchor="start" fill="#111">-</text>
<text x="149.36" y="333.90" font-size="5.29" font-weight="bold" fill="#111" textLength="2.58" lengthAdjust="spacingAndGlyphs">8</text>
<text x="152.6" y="331.6" font-size="4.2" font-weight="bold" text-anchor="start" fill="#111">-</text>
<text x="157.32" y="333.90" font-size="5.29" font-weight="bold" fill="#111" textLength="11.82" lengthAdjust="spacingAndGlyphs">DCs</text>
<text x="133.58" y="340.90" font-size="5.38" font-weight="bold" fill="#111" textLength="20.83" lengthAdjust="spacingAndGlyphs">isotype</text>
<line x1="12" y1="347" x2="12" y2="406" stroke="#000" stroke-width="0.6"/>
<line x1="12" y1="406" x2="69.8" y2="406" stroke="#000" stroke-width="0.6"/>
<line x1="11" y1="406.0" x2="12" y2="406.0" stroke="#444" stroke-width="0.4"/>
<line x1="11" y1="394.2" x2="12" y2="394.2" stroke="#444" stroke-width="0.4"/>
<line x1="11" y1="382.4" x2="12" y2="382.4" stroke="#444" stroke-width="0.4"/>
<line x1="11" y1="370.6" x2="12" y2="370.6" stroke="#444" stroke-width="0.4"/>
<line x1="11" y1="358.8" x2="12" y2="358.8" stroke="#444" stroke-width="0.4"/>
<line x1="11" y1="347.0" x2="12" y2="347.0" stroke="#444" stroke-width="0.4"/>
<line x1="12.0" y1="406" x2="12.0" y2="407" stroke="#444" stroke-width="0.4"/>
<line x1="26.45" y1="406" x2="26.45" y2="407" stroke="#444" stroke-width="0.4"/>
<line x1="40.9" y1="406" x2="40.9" y2="407" stroke="#444" stroke-width="0.4"/>
<line x1="55.349999999999994" y1="406" x2="55.349999999999994" y2="407" stroke="#444" stroke-width="0.4"/>
<line x1="69.8" y1="406" x2="69.8" y2="407" stroke="#444" stroke-width="0.4"/>
<text x="8.5" y="378" font-size="2.7" text-anchor="middle" fill="#777" transform="rotate(-90 8.5 378)">% of Max</text>
<text x="10.7" y="407.0" font-size="2.6" text-anchor="end" fill="#888">0</text>
<text x="10.7" y="395.2" font-size="2.6" text-anchor="end" fill="#888">20</text>
<text x="10.7" y="383.4" font-size="2.6" text-anchor="end" fill="#888">40</text>
<text x="10.7" y="371.6" font-size="2.6" text-anchor="end" fill="#888">60</text>
<text x="10.7" y="359.8" font-size="2.6" text-anchor="end" fill="#888">80</text>
<text x="10.7" y="348.0" font-size="2.6" text-anchor="end" fill="#888">100</text>
<text x="12.0" y="410" font-size="2.6" text-anchor="middle" fill="#888">10</text>
<text x="26.45" y="410" font-size="2.6" text-anchor="middle" fill="#888">10</text>
<text x="40.9" y="410" font-size="2.6" text-anchor="middle" fill="#888">10</text>
<text x="55.349999999999994" y="410" font-size="2.6" text-anchor="middle" fill="#888">10</text>
<text x="69.8" y="410" font-size="2.6" text-anchor="middle" fill="#888">10</text>
<path d="M12.20,367.60 C12.67,366.67 14.12,364.27 15.00,362.00 C15.88,359.73 16.70,355.95 17.50,354.00 C18.30,352.05 19.05,349.80 19.80,350.30 C20.55,350.80 21.30,352.88 22.00,357.00 C22.70,361.12 23.35,369.50 24.00,375.00 C24.65,380.50 25.17,385.20 25.90,390.00 C26.63,394.80 27.55,401.22 28.40,403.80 C29.25,406.38 30.57,405.22 31.00,405.50" fill="none" stroke="#aaa" stroke-width="0.6"/>
<path d="M30.0,405.5 L30.4,405.3 L31.0,405.1 L31.7,404.9 L32.4,404.6 L33.2,404.6 L34.0,404.0 L34.8,403.4 L35.4,403.2 L36.0,403.3 L36.7,403.0 L37.2,401.9 L37.7,402.1 L38.1,401.8 L38.5,400.8 L39.0,400.1 L39.3,399.2 L39.6,398.9 L39.9,398.3 L40.2,397.7 L40.5,396.4 L40.8,396.6 L41.1,395.4 L41.4,394.5 L41.7,394.1 L42.0,393.1 L42.2,392.4 L42.5,392.0 L42.7,390.8 L42.9,390.6 L43.2,389.9 L43.4,389.8 L43.6,389.2 L43.8,387.8 L44.1,387.3 L44.3,386.2 L44.5,385.7 L44.8,385.2 L45.0,384.4 L45.1,383.4 L45.3,382.7 L45.4,381.9 L45.5,381.7 L45.7,381.3 L45.8,379.9 L45.9,379.8 L46.0,378.3 L46.2,377.8 L46.3,377.1 L46.4,376.8 L46.6,375.7 L46.7,374.9 L46.8,374.5 L47.0,373.2 L47.1,373.1 L47.2,371.7 L47.4,371.4 L47.5,370.4 L47.6,369.7 L47.7,369.3 L47.9,368.6 L48.0,367.9 L48.2,367.1 L48.3,366.4 L48.5,365.2 L48.7,364.4 L48.8,364.0 L49.0,363.2 L49.2,362.3 L49.3,361.8 L49.5,360.8 L49.7,360.3 L49.8,358.9 L50.0,358.7 L50.2,358.2 L50.3,357.7 L50.5,356.5 L50.6,356.1 L50.8,356.3 L50.9,355.2 L51.7,355.2 L52.3,355.8 L53.0,356.6 L53.2,357.2 L53.3,358.1 L53.5,358.2 L53.6,358.6 L53.8,359.9 L53.9,360.1 L54.0,361.2 L54.2,361.2 L54.4,362.3 L54.5,363.4 L54.7,363.6 L54.8,364.7 L55.0,366.2 L55.1,367.0 L55.2,367.6 L55.3,367.4 L55.4,368.4 L55.5,369.3 L55.6,369.8 L55.7,370.6 L55.8,370.9 L55.9,371.5 L56.0,372.3 L56.1,373.0 L56.2,374.2 L56.3,375.0 L56.4,375.8 L56.5,376.1 L56.6,376.9 L56.7,377.7 L56.8,379.1 L57.0,380.0 L57.1,380.7 L57.2,380.6 L57.3,381.2 L57.4,382.8 L57.5,383.0 L57.6,384.0 L57.8,384.4 L57.9,385.3 L58.0,386.1 L58.2,386.8 L58.3,387.7 L58.5,387.9 L58.6,389.4 L58.7,390.2 L58.9,390.3 L59.0,391.3 L59.2,392.3 L59.3,392.6 L59.5,393.1 L59.6,393.7 L59.7,394.7 L59.9,394.8 L60.0,396.3 L60.2,396.8 L60.3,397.2 L60.6,398.4 L60.8,399.1 L61.1,399.7 L61.4,400.7 L61.6,401.3 L61.9,402.4 L62.2,402.8 L62.4,402.8 L62.7,404.0 L63.0,404.2 L63.8,405.1 L64.7,405.2 L65.5,405.4 L66.0,405.5" fill="none" stroke="#444" stroke-width="0.8"/>
<path d="M21.60,405.50 C22.73,402.92 26.68,395.17 28.40,390.00 C30.12,384.83 30.88,378.52 31.90,374.50 C32.92,370.48 33.78,370.07 34.50,365.90 C35.22,361.73 35.48,350.08 36.20,349.50 C36.92,348.92 37.80,359.38 38.80,362.40 C39.80,365.42 41.20,366.33 42.20,367.60 C43.20,368.87 43.93,367.43 44.80,370.00 C45.67,372.57 46.53,378.52 47.40,383.00 C48.27,387.48 49.13,394.02 50.00,396.90 C50.87,399.78 51.73,399.87 52.60,400.30 C53.47,400.73 54.47,398.88 55.20,399.50 C55.93,400.12 56.20,403.00 57.00,404.00 C57.80,405.00 59.50,405.25 60.00,405.50" fill="none" stroke="#000" stroke-width="1.3" stroke-dasharray="3,1.6"/>
<path d="M12.3,405.7 L12.7,405.7 L13.3,405.7 L13.9,405.7 L14.7,405.7 L15.4,405.7 L16.3,405.7 L17.1,405.7 L18.0,405.7 L18.9,405.7 L19.7,405.7 L20.6,405.7 L21.3,405.7 L22.0,405.7 L22.8,405.7 L23.6,405.7 L24.3,405.7 L25.0,405.7 L25.7,405.7 L26.4,405.7 L27.1,405.7 L27.7,405.7 L28.4,405.7 L29.0,405.6 L29.8,405.6 L30.6,405.5 L31.4,405.5 L32.1,405.5 L32.9,405.4 L33.6,405.2 L34.3,405.0 L35.0,404.9 L35.4,404.0 L35.9,404.2 L36.3,403.7 L36.7,402.9 L37.1,402.4 L37.5,401.8 L37.8,400.7 L38.2,400.4 L38.6,398.8 L39.0,398.4 L39.3,397.8 L39.7,396.3 L39.9,396.2 L40.2,396.1 L40.4,395.5 L40.7,394.4 L40.9,394.8 L41.2,393.8 L41.4,392.7 L41.6,392.5 L41.9,391.7 L42.1,391.0 L42.3,390.1 L42.6,390.2 L42.8,389.0 L43.1,388.3 L43.3,387.6 L43.5,387.1 L43.8,385.0 L44.0,385.0 L44.2,384.5 L44.3,383.3 L44.5,382.8 L44.6,381.7 L44.8,381.2 L45.0,380.7 L45.1,379.6 L45.3,379.1 L45.5,379.3 L45.6,378.0 L45.8,377.2 L46.0,377.1 L46.1,375.8 L46.3,375.6 L46.5,374.3 L46.6,373.8 L46.8,372.0 L46.9,372.0 L47.1,371.5 L47.2,369.8 L47.4,370.3 L47.6,368.5 L47.7,368.3 L47.9,367.2 L48.0,367.1 L48.2,366.6 L48.3,365.3 L48.5,365.6 L48.8,364.0 L49.0,363.3 L49.3,362.5 L49.5,361.4 L49.7,360.5 L50.0,360.3 L50.2,359.4 L50.4,358.4 L50.6,358.3 L50.8,357.1 L51.0,356.1 L51.2,355.9 L51.4,355.0 L51.5,354.7 L51.7,355.1 L52.1,353.3 L52.4,353.1 L52.6,352.3 L52.8,350.8 L53.0,351.7 L53.7,350.5 L54.3,348.9 L54.7,350.4 L55.1,350.6 L55.5,352.0 L55.6,353.1 L55.7,352.5 L55.9,353.3 L56.0,354.3 L56.1,354.5 L56.2,354.7 L56.4,356.2 L56.5,356.9 L56.7,357.7 L56.9,358.5 L57.0,359.6 L57.0,359.9 L57.1,360.1 L57.2,360.4 L57.2,361.7 L57.3,361.8 L57.4,362.8 L57.4,363.8 L57.5,364.2 L57.6,364.6 L57.7,365.8 L57.7,366.3 L57.8,367.6 L57.9,368.0 L58.0,369.4 L58.1,370.1 L58.1,370.6 L58.2,370.7 L58.3,371.3 L58.4,373.2 L58.5,373.8 L58.5,374.4 L58.6,374.8 L58.7,375.5 L58.8,376.8 L58.9,377.4 L59.0,378.2 L59.0,379.0 L59.1,379.9 L59.2,379.9 L59.3,380.7 L59.3,382.4 L59.4,382.9 L59.5,383.5 L59.6,383.2 L59.7,384.0 L59.8,385.1 L59.9,386.1 L60.0,387.2 L60.1,387.3 L60.2,388.7 L60.3,388.9 L60.4,389.7 L60.5,391.3 L60.6,391.9 L60.6,392.8 L60.7,393.2 L60.8,394.1 L60.9,394.5 L61.0,395.4 L61.1,396.7 L61.2,397.5 L61.3,397.1 L61.4,397.8 L61.5,399.3 L61.6,399.7 L61.7,400.4 L61.7,400.2 L61.8,401.0 L61.9,401.2 L62.0,402.4 L62.4,403.6 L62.7,404.9 L63.0,405.1 L63.4,405.3 L64.0,405.5 L64.6,405.7 L65.3,405.8 L66.2,405.8 L67.0,405.8 L67.9,405.7 L68.7,405.7 L69.3,405.6 L69.8,405.6" fill="none" stroke="#000" stroke-width="1.6"/>
<text x="27.66" y="420.80" font-size="8.00" font-weight="bold" fill="#000" textLength="26.50" lengthAdjust="spacingAndGlyphs">CD11b</text>
<line x1="84.7" y1="347" x2="84.7" y2="406.9" stroke="#000" stroke-width="0.6"/>
<line x1="84.7" y1="406.9" x2="142.4" y2="406.9" stroke="#000" stroke-width="0.6"/>
<line x1="83.7" y1="406.9" x2="84.7" y2="406.9" stroke="#444" stroke-width="0.4"/>
<line x1="83.7" y1="394.91999999999996" x2="84.7" y2="394.91999999999996" stroke="#444" stroke-width="0.4"/>
<line x1="83.7" y1="382.94" x2="84.7" y2="382.94" stroke="#444" stroke-width="0.4"/>
<line x1="83.7" y1="370.96" x2="84.7" y2="370.96" stroke="#444" stroke-width="0.4"/>
<line x1="83.7" y1="358.98" x2="84.7" y2="358.98" stroke="#444" stroke-width="0.4"/>
<line x1="83.7" y1="347.0" x2="84.7" y2="347.0" stroke="#444" stroke-width="0.4"/>
<line x1="84.7" y1="406.9" x2="84.7" y2="407.9" stroke="#444" stroke-width="0.4"/>
<line x1="99.125" y1="406.9" x2="99.125" y2="407.9" stroke="#444" stroke-width="0.4"/>
<line x1="113.55000000000001" y1="406.9" x2="113.55000000000001" y2="407.9" stroke="#444" stroke-width="0.4"/>
<line x1="127.97500000000001" y1="406.9" x2="127.97500000000001" y2="407.9" stroke="#444" stroke-width="0.4"/>
<line x1="142.4" y1="406.9" x2="142.4" y2="407.9" stroke="#444" stroke-width="0.4"/>
<text x="81" y="378" font-size="2.7" text-anchor="middle" fill="#777" transform="rotate(-90 81 378)">% of Max</text>
<text x="83.4" y="407.9" font-size="2.6" text-anchor="end" fill="#888">0</text>
<text x="83.4" y="395.91999999999996" font-size="2.6" text-anchor="end" fill="#888">20</text>
<text x="83.4" y="383.94" font-size="2.6" text-anchor="end" fill="#888">40</text>
<text x="83.4" y="371.96" font-size="2.6" text-anchor="end" fill="#888">60</text>
<text x="83.4" y="359.98" font-size="2.6" text-anchor="end" fill="#888">80</text>
<text x="83.4" y="348.0" font-size="2.6" text-anchor="end" fill="#888">100</text>
<text x="84.7" y="410.9" font-size="2.6" text-anchor="middle" fill="#888">10</text>
<text x="99.125" y="410.9" font-size="2.6" text-anchor="middle" fill="#888">10</text>
<text x="113.55000000000001" y="410.9" font-size="2.6" text-anchor="middle" fill="#888">10</text>
<text x="127.97500000000001" y="410.9" font-size="2.6" text-anchor="middle" fill="#888">10</text>
<text x="142.4" y="410.9" font-size="2.6" text-anchor="middle" fill="#888">10</text>
<path d="M85.00,403.00 C85.08,401.12 85.00,397.53 85.50,391.70 C86.00,385.87 87.25,374.12 88.00,368.00 C88.75,361.88 89.27,357.95 90.00,355.00 C90.73,352.05 91.65,350.13 92.40,350.30 C93.15,350.47 93.82,351.88 94.50,356.00 C95.18,360.12 95.85,369.05 96.50,375.00 C97.15,380.95 97.73,387.03 98.40,391.70 C99.07,396.37 99.73,400.55 100.50,403.00 C101.27,405.45 102.58,405.83 103.00,406.40" fill="none" stroke="#aaa" stroke-width="0.6"/>
<path d="M85.5,400.5 L85.6,399.5 L85.8,399.3 L86.0,399.0 L86.2,398.7 L86.5,397.6 L86.7,396.9 L87.0,395.9 L87.3,395.8 L87.5,394.0 L87.8,392.9 L88.0,392.1 L88.1,391.5 L88.2,391.1 L88.2,390.2 L88.3,390.1 L88.4,388.8 L88.5,388.2 L88.6,388.0 L88.6,386.8 L88.7,386.3 L88.8,386.0 L88.9,385.2 L89.0,384.0 L89.0,383.1 L89.1,382.5 L89.2,382.1 L89.3,381.0 L89.4,379.9 L89.5,379.7 L89.5,378.8 L89.6,378.4 L89.7,377.6 L89.8,376.8 L89.9,375.5 L89.9,375.1 L90.0,373.9 L90.1,373.2 L90.2,372.5 L90.3,372.4 L90.3,371.7 L90.4,370.4 L90.5,369.9 L90.6,369.0 L90.7,368.2 L90.8,367.4 L90.9,366.6 L91.1,365.6 L91.2,365.2 L91.3,364.6 L91.4,363.6 L91.5,363.1 L91.6,362.0 L91.7,360.9 L91.8,360.8 L91.9,360.2 L92.1,358.9 L92.2,358.0 L92.3,357.8 L92.4,357.2 L92.5,356.6 L92.6,356.5 L92.7,355.6 L92.8,355.2 L92.9,354.0 L93.0,354.0 L93.4,352.8 L93.7,350.9 L94.0,350.1 L94.4,350.2 L94.7,350.2 L95.0,349.6 L95.2,350.4 L95.4,350.2 L95.5,351.2 L95.7,351.7 L95.9,351.9 L96.1,352.6 L96.3,354.0 L96.5,354.6 L96.6,355.9 L96.8,356.7 L97.0,357.8 L97.1,359.0 L97.1,359.2 L97.2,359.7 L97.3,360.3 L97.4,361.1 L97.4,361.8 L97.5,362.7 L97.6,362.9 L97.6,364.1 L97.7,364.7 L97.8,365.6 L97.9,366.4 L97.9,367.2 L98.0,368.0 L98.1,368.9 L98.1,369.4 L98.2,370.0 L98.3,371.0 L98.4,371.9 L98.4,372.3 L98.5,373.1 L98.6,373.5 L98.6,374.9 L98.7,375.8 L98.8,375.9 L98.9,376.4 L98.9,377.1 L99.0,377.9 L99.1,378.6 L99.2,380.2 L99.3,380.1 L99.4,381.2 L99.5,381.8 L99.6,383.1 L99.7,384.0 L99.8,384.2 L99.9,384.8 L100.0,386.0 L100.1,386.8 L100.2,387.8 L100.3,387.6 L100.4,388.3 L100.5,389.0 L100.6,389.7 L100.7,390.2 L100.8,391.2 L100.9,391.6 L101.0,391.7 L101.3,393.0 L101.7,394.1 L102.0,394.7 L102.3,395.8 L102.6,395.6 L103.0,396.0 L103.6,396.0 L104.2,394.6 L104.8,393.5 L105.3,393.8 L105.6,394.1 L105.8,394.0 L106.0,394.8 L106.2,396.0 L106.4,396.4 L106.7,396.9 L107.0,397.5 L107.3,399.1 L107.6,399.6 L107.9,399.9 L108.2,400.8 L108.5,401.5 L108.9,402.0 L109.2,403.4 L109.6,403.6 L110.0,403.7 L110.7,404.1 L111.4,405.2 L112.2,405.6 L112.9,405.9 L113.6,406.2 L114.0,406.4" fill="none" stroke="#444" stroke-width="0.8"/>
<path d="M85.50,403.80 C86.65,403.67 90.82,403.58 92.40,403.00 C93.98,402.42 94.23,400.47 95.00,400.30 C95.77,400.13 96.28,402.57 97.00,402.00 C97.72,401.43 98.48,399.77 99.30,396.90 C100.12,394.03 101.03,387.95 101.90,384.80 C102.77,381.65 103.65,381.73 104.50,378.00 C105.35,374.27 106.13,367.02 107.00,362.40 C107.87,357.78 108.83,349.43 109.70,350.30 C110.57,351.17 111.48,360.98 112.20,367.60 C112.92,374.22 113.42,383.97 114.00,390.00 C114.58,396.03 115.03,401.07 115.70,403.80 C116.37,406.53 117.62,405.97 118.00,406.40" fill="none" stroke="#000" stroke-width="1.3" stroke-dasharray="3,1.6"/>
<path d="M85.0,406.5 L85.0,406.0 L85.1,405.1 L85.5,403.8 L85.7,403.2 L86.0,403.4 L86.4,402.9 L86.7,402.3 L87.1,401.2 L87.5,400.6 L87.9,400.1 L88.3,399.1 L88.7,398.9 L89.0,397.0 L89.1,396.7 L89.2,396.7 L89.3,395.2 L89.4,395.0 L89.5,393.8 L89.5,394.1 L89.6,392.4 L89.7,392.9 L89.8,392.2 L89.9,391.5 L90.0,389.8 L90.0,389.3 L90.1,389.2 L90.2,387.6 L90.3,387.4 L90.4,386.6 L90.4,386.5 L90.5,385.2 L90.6,384.8 L90.7,383.2 L90.7,383.1 L90.8,381.8 L90.9,381.7 L91.0,379.8 L91.1,380.1 L91.1,378.4 L91.2,378.1 L91.3,377.4 L91.4,376.1 L91.4,376.4 L91.5,374.9 L91.6,374.2 L91.7,373.2 L91.8,372.7 L91.9,372.2 L92.0,371.7 L92.0,370.4 L92.1,370.1 L92.2,368.5 L92.3,368.1 L92.4,367.3 L92.5,367.2 L92.6,366.2 L92.7,365.2 L92.8,363.5 L92.9,363.2 L92.9,362.9 L93.0,361.5 L93.1,361.2 L93.2,360.3 L93.3,359.0 L93.4,359.6 L93.5,358.7 L93.5,357.2 L93.6,357.1 L93.7,356.1 L93.8,355.6 L93.9,355.3 L93.9,354.5 L94.0,354.0 L94.1,353.6 L94.4,352.1 L94.8,350.0 L95.0,348.9 L95.3,349.1 L95.6,348.6 L95.9,350.1 L96.0,349.9 L96.0,350.5 L96.1,350.3 L96.2,351.5 L96.3,350.9 L96.3,351.6 L96.4,352.1 L96.5,353.6 L96.5,354.3 L96.6,354.2 L96.7,355.3 L96.7,356.7 L96.8,357.1 L96.9,357.3 L96.9,358.3 L97.0,359.1 L97.1,359.9 L97.2,361.2 L97.3,361.6 L97.3,363.7 L97.4,364.0 L97.5,365.0 L97.6,366.1 L97.7,366.9 L97.7,367.5 L97.8,367.6 L97.8,368.2 L97.9,368.9 L98.0,369.1 L98.0,370.3 L98.1,371.5 L98.2,372.6 L98.2,373.1 L98.3,373.7 L98.4,374.4 L98.4,374.4 L98.5,375.6 L98.6,376.4 L98.7,377.6 L98.7,377.7 L98.8,378.9 L98.9,379.8 L98.9,381.0 L99.0,381.9 L99.1,382.3 L99.2,382.5 L99.2,384.1 L99.3,385.0 L99.4,385.2 L99.5,385.7 L99.5,386.6 L99.6,386.7 L99.7,388.2 L99.8,389.2 L99.8,389.1 L99.9,390.0 L100.0,390.7 L100.1,390.3 L100.1,391.9 L100.2,391.9 L100.5,392.8 L100.8,393.9 L101.1,395.0 L101.4,396.1 L101.7,396.7 L102.0,396.6 L102.3,397.7 L102.7,397.3 L103.0,397.9 L103.4,398.2 L103.9,400.0 L104.3,399.4 L104.8,401.0 L105.2,401.0 L105.7,401.6 L106.2,402.1 L106.5,402.2 L106.4,403.7 L106.3,404.4 L106.3,404.7 L106.8,404.8 L108.0,405.1 L110.0,405.5 L110.4,405.5 L110.9,405.6 L111.4,405.6 L111.9,405.7 L112.5,405.7 L113.1,405.8 L113.7,405.8 L114.3,405.8 L115.0,405.9 L115.7,405.9 L116.5,405.9 L117.2,405.9 L118.0,406.0 L118.8,406.0 L119.6,406.0 L120.4,406.0 L121.3,406.1 L122.1,406.1 L123.0,406.1 L123.8,406.1 L124.7,406.1 L125.6,406.2 L126.4,406.2 L127.3,406.2 L128.2,406.2 L129.0,406.2 L129.9,406.2 L130.7,406.2 L131.6,406.2 L132.4,406.3 L133.2,406.3 L134.0,406.3 L134.8,406.3 L135.5,406.3 L136.3,406.3 L137.0,406.3 L137.7,406.3 L138.3,406.3 L139.0,406.3 L139.6,406.3 L140.1,406.4 L140.7,406.4 L141.2,406.4 L141.6,406.4 L142.0,406.4 L142.4,406.4" fill="none" stroke="#000" stroke-width="1.6"/>
<text x="98.97" y="420.80" font-size="8.29" font-weight="bold" fill="#000" textLength="25.46" lengthAdjust="spacingAndGlyphs">CD205</text>
<text x="211.22" y="13.30" font-size="14.57" font-weight="bold" fill="#000" textLength="12.24" lengthAdjust="spacingAndGlyphs">C</text>
<g filter="url(#bd)"><path fill="#9888d8" d="M267 36h1v1h-1zM268 38h1v1h-1zM271 39h1v1h-1zM255 40h1v1h-1zM265 40h1v1h-1zM273 40h1v1h-1zM256 41h1v1h-1zM265 41h1v1h-1zM270 41h1v1h-1zM279 41h1v1h-1zM258 42h1v1h-1zM263 42h1v1h-1zM265 42h1v1h-1zM278 42h1v1h-1zM252 43h1v1h-1zM255 43h1v1h-1zM257 43h2v1h-2zM261 43h1v1h-1zM264 43h1v1h-1zM280 43h1v1h-1zM282 43h1v1h-1zM249 44h1v1h-1zM252 44h2v1h-2zM257 44h1v1h-1zM278 44h1v1h-1zM280 44h1v1h-1zM254 45h3v1h-3zM284 45h1v1h-1zM250 46h1v1h-1zM285 46h1v1h-1zM251 47h1v1h-1zM248 48h1v1h-1zM284 48h1v1h-1zM246 49h1v1h-1zM242 50h1v1h-1zM247 50h1v1h-1zM282 50h1v1h-1zM240 51h1v1h-1zM285 51h1v1h-1zM235 52h1v1h-1zM242 52h2v1h-2zM239 53h1v1h-1zM284 54h1v1h-1zM287 54h1v1h-1zM284 64h1v1h-1zM283 66h1v1h-1zM283 69h2v1h-2zM288 69h1v1h-1zM285 70h1v1h-1zM284 73h1v1h-1zM284 74h1v1h-1zM282 75h1v1h-1zM283 77h1v1h-1zM282 78h4v1h-4zM288 78h1v1h-1zM283 79h1v1h-1zM281 81h1v1h-1zM282 82h1v1h-1zM283 84h2v1h-2zM287 84h4v1h-4z"/>
<path fill="#9070c0" d="M270 37h1v1h-1zM269 38h1v1h-1zM274 38h1v1h-1zM263 39h1v1h-1zM267 39h1v1h-1zM273 39h1v1h-1zM275 39h1v1h-1zM283 40h1v1h-1zM249 42h1v1h-1zM268 42h1v1h-1zM275 42h1v1h-1zM277 42h1v1h-1zM249 43h2v1h-2zM253 43h1v1h-1zM259 43h1v1h-1zM278 43h1v1h-1zM281 43h1v1h-1zM283 43h1v1h-1zM251 44h1v1h-1zM261 44h1v1h-1zM253 45h1v1h-1zM281 45h1v1h-1zM285 45h1v1h-1zM251 46h1v1h-1zM281 46h1v1h-1zM284 46h1v1h-1zM245 47h1v1h-1zM249 47h1v1h-1zM286 47h1v1h-1zM245 48h1v1h-1zM249 48h1v1h-1zM282 48h1v1h-1zM285 48h1v1h-1zM239 49h1v1h-1zM243 50h1v1h-1zM285 50h1v1h-1zM243 51h2v1h-2zM283 51h1v1h-1zM237 52h1v1h-1zM239 52h1v1h-1zM235 53h1v1h-1zM237 53h1v1h-1zM242 53h1v1h-1zM240 54h1v1h-1zM285 54h1v1h-1zM238 55h1v1h-1zM284 55h1v1h-1zM236 56h1v1h-1zM284 57h1v1h-1zM285 58h1v1h-1zM285 59h1v1h-1zM288 61h1v1h-1zM285 62h1v1h-1zM284 63h1v1h-1zM284 65h1v1h-1zM286 65h2v1h-2zM284 66h2v1h-2zM284 67h1v1h-1zM289 68h1v1h-1zM285 69h1v1h-1zM283 71h1v1h-1zM289 72h1v1h-1zM283 73h1v1h-1zM282 74h1v1h-1zM287 74h2v1h-2zM285 75h1v1h-1zM284 76h1v1h-1zM287 76h2v1h-2zM287 78h1v1h-1zM282 79h1v1h-1zM282 80h1v1h-1zM290 80h1v1h-1zM287 81h1v1h-1zM289 81h1v1h-1zM283 82h1v1h-1zM288 83h1v1h-1zM282 84h1v1h-1zM286 84h1v1h-1zM286 85h1v1h-1z"/>
<path fill="#6060c8" d="M267 38h1v1h-1zM272 38h1v1h-1zM264 39h1v1h-1zM266 39h1v1h-1zM268 39h3v1h-3zM270 40h1v1h-1zM272 40h1v1h-1zM276 40h2v1h-2zM264 41h1v1h-1zM271 41h1v1h-1zM273 41h1v1h-1zM260 42h1v1h-1zM262 42h1v1h-1zM264 42h1v1h-1zM267 42h1v1h-1zM269 42h1v1h-1zM271 42h3v1h-3zM279 42h1v1h-1zM281 42h1v1h-1zM260 43h1v1h-1zM265 43h1v1h-1zM268 43h1v1h-1zM271 43h1v1h-1zM274 43h1v1h-1zM279 43h1v1h-1zM255 44h2v1h-2zM281 44h2v1h-2zM284 44h1v1h-1zM248 45h1v1h-1zM251 45h1v1h-1zM259 45h2v1h-2zM264 45h1v1h-1zM267 45h2v1h-2zM280 45h1v1h-1zM254 46h2v1h-2zM266 46h1v1h-1zM247 47h1v1h-1zM253 47h1v1h-1zM262 47h1v1h-1zM268 47h1v1h-1zM274 47h1v1h-1zM283 47h2v1h-2zM258 48h1v1h-1zM280 48h1v1h-1zM247 49h1v1h-1zM261 49h2v1h-2zM271 49h1v1h-1zM277 49h1v1h-1zM282 49h1v1h-1zM285 49h1v1h-1zM240 50h2v1h-2zM244 50h1v1h-1zM255 50h1v1h-1zM271 50h2v1h-2zM284 50h1v1h-1zM286 50h2v1h-2zM237 51h1v1h-1zM239 51h1v1h-1zM242 51h1v1h-1zM245 51h1v1h-1zM256 51h1v1h-1zM258 51h1v1h-1zM261 51h1v1h-1zM238 52h1v1h-1zM240 52h2v1h-2zM247 52h1v1h-1zM281 52h1v1h-1zM283 52h4v1h-4zM246 53h1v1h-1zM248 53h1v1h-1zM250 53h1v1h-1zM283 53h1v1h-1zM287 53h1v1h-1zM249 54h1v1h-1zM258 54h1v1h-1zM260 54h1v1h-1zM271 54h1v1h-1zM277 54h2v1h-2zM261 55h1v1h-1zM286 55h1v1h-1zM235 56h1v1h-1zM243 56h1v1h-1zM245 56h1v1h-1zM248 56h1v1h-1zM260 56h1v1h-1zM265 56h1v1h-1zM284 56h1v1h-1zM286 56h1v1h-1zM236 57h2v1h-2zM248 57h1v1h-1zM263 57h1v1h-1zM276 57h1v1h-1zM287 57h1v1h-1zM244 58h1v1h-1zM283 58h1v1h-1zM241 59h1v1h-1zM243 59h2v1h-2zM249 59h2v1h-2zM256 59h1v1h-1zM280 59h1v1h-1zM282 59h2v1h-2zM237 60h1v1h-1zM259 60h1v1h-1zM268 60h1v1h-1zM237 61h1v1h-1zM242 61h1v1h-1zM248 61h1v1h-1zM252 61h2v1h-2zM256 61h1v1h-1zM286 61h1v1h-1zM259 62h1v1h-1zM238 63h2v1h-2zM261 63h1v1h-1zM275 63h1v1h-1zM285 63h3v1h-3zM256 64h1v1h-1zM258 64h1v1h-1zM260 64h1v1h-1zM263 64h1v1h-1zM266 64h2v1h-2zM270 64h1v1h-1zM272 64h1v1h-1zM285 64h1v1h-1zM287 64h1v1h-1zM236 65h1v1h-1zM239 65h1v1h-1zM243 65h1v1h-1zM249 65h1v1h-1zM251 65h1v1h-1zM264 65h1v1h-1zM270 65h1v1h-1zM285 65h1v1h-1zM245 66h1v1h-1zM249 66h1v1h-1zM255 66h1v1h-1zM262 66h1v1h-1zM269 66h1v1h-1zM274 66h1v1h-1zM263 67h1v1h-1zM268 67h1v1h-1zM282 67h1v1h-1zM285 67h1v1h-1zM238 68h2v1h-2zM243 68h1v1h-1zM252 68h1v1h-1zM269 68h1v1h-1zM278 68h2v1h-2zM283 68h1v1h-1zM286 68h1v1h-1zM239 69h1v1h-1zM242 69h1v1h-1zM250 69h1v1h-1zM252 69h1v1h-1zM267 69h1v1h-1zM272 69h1v1h-1zM287 69h1v1h-1zM239 70h1v1h-1zM244 70h1v1h-1zM246 70h2v1h-2zM264 70h2v1h-2zM272 70h1v1h-1zM275 70h1v1h-1zM283 70h1v1h-1zM241 71h1v1h-1zM256 71h2v1h-2zM265 71h1v1h-1zM282 71h1v1h-1zM284 71h2v1h-2zM244 72h1v1h-1zM247 72h1v1h-1zM278 72h1v1h-1zM281 72h1v1h-1zM284 72h1v1h-1zM286 72h1v1h-1zM288 72h1v1h-1zM237 73h1v1h-1zM241 73h1v1h-1zM247 73h1v1h-1zM279 73h1v1h-1zM278 74h1v1h-1zM283 74h1v1h-1zM286 74h1v1h-1zM269 75h1v1h-1zM286 75h2v1h-2zM272 76h1v1h-1zM281 76h3v1h-3zM286 76h1v1h-1zM273 77h1v1h-1zM282 77h1v1h-1zM285 77h1v1h-1zM287 77h1v1h-1zM271 78h1v1h-1zM274 79h1v1h-1zM281 79h1v1h-1zM287 79h2v1h-2zM290 79h1v1h-1zM287 80h1v1h-1zM285 81h2v1h-2zM272 82h1v1h-1zM284 82h1v1h-1zM286 82h1v1h-1zM288 82h1v1h-1zM282 83h1v1h-1zM285 83h1v1h-1zM273 84h1v1h-1zM276 84h1v1h-1zM282 85h1v1h-1zM285 85h1v1h-1zM288 85h1v1h-1z"/>
<path fill="#5050c0" d="M270 38h1v1h-1zM273 38h1v1h-1zM274 39h1v1h-1zM260 40h2v1h-2zM263 40h2v1h-2zM266 40h1v1h-1zM268 40h2v1h-2zM271 40h1v1h-1zM274 40h2v1h-2zM255 41h1v1h-1zM260 41h1v1h-1zM263 41h1v1h-1zM268 41h1v1h-1zM272 41h1v1h-1zM274 41h5v1h-5zM281 41h1v1h-1zM259 42h1v1h-1zM270 42h1v1h-1zM280 42h1v1h-1zM258 44h1v1h-1zM247 45h1v1h-1zM250 45h1v1h-1zM282 46h1v1h-1zM248 47h1v1h-1zM252 47h1v1h-1zM283 48h1v1h-1zM242 49h1v1h-1zM250 49h1v1h-1zM283 49h1v1h-1zM246 50h1v1h-1zM284 51h1v1h-1zM286 51h1v1h-1zM236 53h1v1h-1zM286 53h1v1h-1zM237 54h3v1h-3zM286 54h1v1h-1zM235 55h2v1h-2zM285 56h1v1h-1zM285 57h1v1h-1zM288 57h1v1h-1zM284 58h1v1h-1zM284 59h1v1h-1zM287 59h1v1h-1zM284 62h1v1h-1zM288 62h1v1h-1zM286 66h1v1h-1zM285 68h1v1h-1zM286 71h2v1h-2zM283 72h1v1h-1zM282 73h1v1h-1zM285 73h1v1h-1zM288 73h1v1h-1zM290 73h1v1h-1zM285 74h1v1h-1zM290 74h1v1h-1zM283 75h1v1h-1zM290 75h1v1h-1zM285 76h1v1h-1zM284 77h1v1h-1zM286 77h1v1h-1zM289 78h1v1h-1zM284 79h1v1h-1zM283 81h2v1h-2zM283 83h1v1h-1zM286 83h1v1h-1zM281 84h1v1h-1zM285 84h1v1h-1zM283 85h2v1h-2z"/>
<path fill="#8070d0" d="M265 39h1v1h-1zM282 40h1v1h-1zM258 41h2v1h-2zM261 41h2v1h-2zM266 41h2v1h-2zM269 41h1v1h-1zM255 42h1v1h-1zM257 42h1v1h-1zM261 42h1v1h-1zM266 42h1v1h-1zM274 42h1v1h-1zM282 42h1v1h-1zM284 42h1v1h-1zM254 43h1v1h-1zM256 43h1v1h-1zM272 43h1v1h-1zM254 44h1v1h-1zM279 44h1v1h-1zM283 44h1v1h-1zM252 45h1v1h-1zM282 45h2v1h-2zM286 45h1v1h-1zM248 46h1v1h-1zM252 46h1v1h-1zM283 46h1v1h-1zM282 47h1v1h-1zM285 47h1v1h-1zM244 48h1v1h-1zM247 48h1v1h-1zM245 49h1v1h-1zM248 49h1v1h-1zM284 49h1v1h-1zM245 50h1v1h-1zM241 51h1v1h-1zM238 53h1v1h-1zM240 53h1v1h-1zM284 53h2v1h-2zM235 54h2v1h-2zM237 55h1v1h-1zM283 55h1v1h-1zM285 55h1v1h-1zM283 56h1v1h-1zM286 57h1v1h-1zM286 58h2v1h-2zM284 60h2v1h-2zM284 61h2v1h-2zM283 62h1v1h-1zM286 62h1v1h-1zM288 64h1v1h-1zM283 65h1v1h-1zM286 67h1v1h-1zM288 67h1v1h-1zM284 68h1v1h-1zM287 68h2v1h-2zM286 69h1v1h-1zM284 70h1v1h-1zM286 70h2v1h-2zM285 72h1v1h-1zM287 72h1v1h-1zM286 73h2v1h-2zM289 74h1v1h-1zM284 75h1v1h-1zM288 77h1v1h-1zM290 77h1v1h-1zM286 78h1v1h-1zM285 79h2v1h-2zM283 80h4v1h-4zM282 81h1v1h-1zM288 81h1v1h-1zM290 81h1v1h-1zM285 82h1v1h-1zM287 82h1v1h-1zM281 83h1v1h-1zM284 83h1v1h-1zM287 83h1v1h-1zM281 85h1v1h-1zM287 85h1v1h-1zM289 85h3v1h-3z"/>
<path fill="#3050c8" d="M276 42h1v1h-1zM266 43h2v1h-2zM269 43h1v1h-1zM275 43h1v1h-1zM271 44h1v1h-1zM274 44h1v1h-1zM257 45h1v1h-1zM263 45h1v1h-1zM271 45h1v1h-1zM273 45h1v1h-1zM275 45h1v1h-1zM257 46h1v1h-1zM264 46h1v1h-1zM267 46h1v1h-1zM277 46h1v1h-1zM279 46h1v1h-1zM250 47h1v1h-1zM255 47h2v1h-2zM263 47h1v1h-1zM267 47h1v1h-1zM273 47h1v1h-1zM275 47h2v1h-2zM278 47h2v1h-2zM254 48h2v1h-2zM257 48h1v1h-1zM271 48h1v1h-1zM274 48h2v1h-2zM278 48h1v1h-1zM249 49h1v1h-1zM255 49h1v1h-1zM263 49h1v1h-1zM274 49h1v1h-1zM279 49h1v1h-1zM257 50h1v1h-1zM269 50h1v1h-1zM249 51h1v1h-1zM257 51h1v1h-1zM260 51h1v1h-1zM270 51h1v1h-1zM245 52h1v1h-1zM250 52h1v1h-1zM253 52h1v1h-1zM255 52h1v1h-1zM259 52h1v1h-1zM273 52h1v1h-1zM277 52h1v1h-1zM271 53h1v1h-1zM279 53h2v1h-2zM243 54h1v1h-1zM248 54h1v1h-1zM251 54h1v1h-1zM261 54h1v1h-1zM275 54h1v1h-1zM281 54h1v1h-1zM283 54h1v1h-1zM239 55h2v1h-2zM245 55h1v1h-1zM249 55h1v1h-1zM260 55h1v1h-1zM266 55h1v1h-1zM273 55h2v1h-2zM278 55h2v1h-2zM282 55h1v1h-1zM238 56h1v1h-1zM250 56h2v1h-2zM258 56h1v1h-1zM272 56h1v1h-1zM274 56h1v1h-1zM277 56h1v1h-1zM235 57h1v1h-1zM247 57h1v1h-1zM249 57h2v1h-2zM253 57h2v1h-2zM258 57h1v1h-1zM261 57h2v1h-2zM268 57h3v1h-3zM273 57h1v1h-1zM279 57h1v1h-1zM281 57h1v1h-1zM235 58h1v1h-1zM238 58h2v1h-2zM242 58h1v1h-1zM252 58h1v1h-1zM254 58h1v1h-1zM259 58h1v1h-1zM276 58h1v1h-1zM281 58h1v1h-1zM237 59h1v1h-1zM242 59h1v1h-1zM254 59h1v1h-1zM259 59h1v1h-1zM236 60h1v1h-1zM239 60h1v1h-1zM243 60h1v1h-1zM255 60h3v1h-3zM260 60h1v1h-1zM267 60h1v1h-1zM272 60h2v1h-2zM276 60h1v1h-1zM280 60h1v1h-1zM243 61h1v1h-1zM246 61h1v1h-1zM255 61h1v1h-1zM258 61h1v1h-1zM269 61h1v1h-1zM279 61h1v1h-1zM236 62h1v1h-1zM242 62h2v1h-2zM249 62h1v1h-1zM253 62h3v1h-3zM269 62h1v1h-1zM281 62h2v1h-2zM235 63h1v1h-1zM252 63h1v1h-1zM254 63h1v1h-1zM256 63h1v1h-1zM270 63h1v1h-1zM280 63h1v1h-1zM235 64h1v1h-1zM246 64h1v1h-1zM261 64h1v1h-1zM268 64h1v1h-1zM278 64h1v1h-1zM281 64h1v1h-1zM283 64h1v1h-1zM241 65h2v1h-2zM244 65h1v1h-1zM246 65h1v1h-1zM250 65h1v1h-1zM252 65h1v1h-1zM255 65h1v1h-1zM261 65h1v1h-1zM266 65h1v1h-1zM247 66h1v1h-1zM250 66h1v1h-1zM253 66h2v1h-2zM260 66h1v1h-1zM263 66h1v1h-1zM266 66h1v1h-1zM270 66h1v1h-1zM282 66h1v1h-1zM239 67h1v1h-1zM241 67h1v1h-1zM243 67h1v1h-1zM245 67h1v1h-1zM250 67h1v1h-1zM252 67h3v1h-3zM265 67h1v1h-1zM269 67h2v1h-2zM242 68h1v1h-1zM246 68h1v1h-1zM249 68h1v1h-1zM254 68h1v1h-1zM257 68h1v1h-1zM259 68h2v1h-2zM280 68h1v1h-1zM235 69h1v1h-1zM237 69h1v1h-1zM254 69h1v1h-1zM256 69h1v1h-1zM261 69h1v1h-1zM263 69h1v1h-1zM279 69h2v1h-2zM238 70h1v1h-1zM242 70h1v1h-1zM250 70h1v1h-1zM255 70h1v1h-1zM259 70h1v1h-1zM262 70h1v1h-1zM242 71h1v1h-1zM245 71h1v1h-1zM247 71h1v1h-1zM250 71h1v1h-1zM253 71h1v1h-1zM260 71h1v1h-1zM263 71h1v1h-1zM271 71h3v1h-3zM277 71h1v1h-1zM235 72h1v1h-1zM237 72h1v1h-1zM239 72h2v1h-2zM245 72h1v1h-1zM250 72h1v1h-1zM256 72h1v1h-1zM262 72h1v1h-1zM267 72h1v1h-1zM269 72h2v1h-2zM272 72h1v1h-1zM280 72h1v1h-1zM242 73h1v1h-1zM275 73h1v1h-1zM277 73h1v1h-1zM281 73h1v1h-1zM267 74h1v1h-1zM270 74h3v1h-3zM276 74h1v1h-1zM272 75h1v1h-1zM270 77h1v1h-1zM272 77h1v1h-1zM272 78h1v1h-1zM276 79h1v1h-1zM278 79h1v1h-1zM270 80h1v1h-1zM273 80h1v1h-1zM270 81h1v1h-1zM275 81h2v1h-2zM280 81h1v1h-1zM271 83h1v1h-1zM274 83h2v1h-2zM270 84h1v1h-1zM272 84h1v1h-1zM275 84h1v1h-1zM279 84h1v1h-1zM277 85h1v1h-1z"/>
<path fill="#3040c0" d="M262 43h2v1h-2zM270 43h1v1h-1zM273 43h1v1h-1zM276 43h2v1h-2zM259 44h2v1h-2zM262 44h2v1h-2zM265 44h6v1h-6zM272 44h2v1h-2zM275 44h3v1h-3zM258 45h1v1h-1zM262 45h1v1h-1zM265 45h2v1h-2zM269 45h2v1h-2zM272 45h1v1h-1zM274 45h1v1h-1zM276 45h4v1h-4zM253 46h1v1h-1zM256 46h1v1h-1zM258 46h5v1h-5zM265 46h1v1h-1zM268 46h4v1h-4zM273 46h4v1h-4zM278 46h1v1h-1zM280 46h1v1h-1zM254 47h1v1h-1zM258 47h3v1h-3zM266 47h1v1h-1zM269 47h2v1h-2zM272 47h1v1h-1zM277 47h1v1h-1zM280 47h2v1h-2zM250 48h4v1h-4zM256 48h1v1h-1zM259 48h1v1h-1zM262 48h3v1h-3zM266 48h5v1h-5zM272 48h2v1h-2zM276 48h2v1h-2zM279 48h1v1h-1zM281 48h1v1h-1zM251 49h4v1h-4zM256 49h3v1h-3zM260 49h1v1h-1zM264 49h1v1h-1zM266 49h2v1h-2zM269 49h2v1h-2zM272 49h2v1h-2zM275 49h2v1h-2zM278 49h1v1h-1zM280 49h2v1h-2zM248 50h7v1h-7zM256 50h1v1h-1zM258 50h1v1h-1zM260 50h1v1h-1zM264 50h1v1h-1zM270 50h1v1h-1zM273 50h9v1h-9zM283 50h1v1h-1zM246 51h3v1h-3zM250 51h6v1h-6zM259 51h1v1h-1zM262 51h1v1h-1zM265 51h3v1h-3zM269 51h1v1h-1zM271 51h12v1h-12zM244 52h1v1h-1zM246 52h1v1h-1zM248 52h2v1h-2zM251 52h2v1h-2zM254 52h1v1h-1zM256 52h2v1h-2zM265 52h1v1h-1zM267 52h1v1h-1zM269 52h2v1h-2zM272 52h1v1h-1zM274 52h3v1h-3zM278 52h3v1h-3zM282 52h1v1h-1zM241 53h1v1h-1zM243 53h3v1h-3zM247 53h1v1h-1zM249 53h1v1h-1zM251 53h9v1h-9zM261 53h2v1h-2zM264 53h1v1h-1zM267 53h2v1h-2zM270 53h1v1h-1zM272 53h7v1h-7zM281 53h2v1h-2zM241 54h2v1h-2zM244 54h1v1h-1zM246 54h2v1h-2zM250 54h1v1h-1zM252 54h6v1h-6zM263 54h1v1h-1zM268 54h1v1h-1zM270 54h1v1h-1zM272 54h3v1h-3zM276 54h1v1h-1zM279 54h2v1h-2zM282 54h1v1h-1zM241 55h4v1h-4zM246 55h3v1h-3zM250 55h3v1h-3zM254 55h6v1h-6zM262 55h1v1h-1zM267 55h1v1h-1zM269 55h4v1h-4zM275 55h3v1h-3zM280 55h2v1h-2zM237 56h1v1h-1zM239 56h4v1h-4zM244 56h1v1h-1zM246 56h2v1h-2zM249 56h1v1h-1zM253 56h2v1h-2zM257 56h1v1h-1zM259 56h1v1h-1zM261 56h2v1h-2zM264 56h1v1h-1zM267 56h1v1h-1zM273 56h1v1h-1zM275 56h2v1h-2zM278 56h5v1h-5zM238 57h6v1h-6zM246 57h1v1h-1zM251 57h2v1h-2zM255 57h3v1h-3zM259 57h2v1h-2zM274 57h1v1h-1zM277 57h2v1h-2zM280 57h1v1h-1zM282 57h2v1h-2zM236 58h2v1h-2zM240 58h2v1h-2zM243 58h1v1h-1zM245 58h6v1h-6zM255 58h4v1h-4zM260 58h2v1h-2zM264 58h2v1h-2zM267 58h1v1h-1zM269 58h1v1h-1zM272 58h2v1h-2zM277 58h4v1h-4zM282 58h1v1h-1zM235 59h2v1h-2zM238 59h3v1h-3zM245 59h1v1h-1zM248 59h1v1h-1zM251 59h3v1h-3zM255 59h1v1h-1zM257 59h2v1h-2zM260 59h1v1h-1zM263 59h1v1h-1zM265 59h1v1h-1zM269 59h1v1h-1zM272 59h1v1h-1zM274 59h1v1h-1zM276 59h1v1h-1zM278 59h2v1h-2zM281 59h1v1h-1zM235 60h1v1h-1zM238 60h1v1h-1zM240 60h2v1h-2zM245 60h1v1h-1zM247 60h2v1h-2zM250 60h5v1h-5zM258 60h1v1h-1zM261 60h1v1h-1zM263 60h2v1h-2zM269 60h1v1h-1zM271 60h1v1h-1zM274 60h2v1h-2zM278 60h2v1h-2zM281 60h3v1h-3zM235 61h2v1h-2zM238 61h4v1h-4zM244 61h2v1h-2zM247 61h1v1h-1zM249 61h3v1h-3zM254 61h1v1h-1zM257 61h1v1h-1zM259 61h2v1h-2zM263 61h1v1h-1zM266 61h1v1h-1zM270 61h6v1h-6zM278 61h1v1h-1zM280 61h4v1h-4zM235 62h1v1h-1zM237 62h3v1h-3zM241 62h1v1h-1zM244 62h3v1h-3zM248 62h1v1h-1zM250 62h1v1h-1zM256 62h3v1h-3zM260 62h5v1h-5zM266 62h1v1h-1zM268 62h1v1h-1zM271 62h3v1h-3zM279 62h2v1h-2zM236 63h2v1h-2zM240 63h2v1h-2zM243 63h3v1h-3zM247 63h3v1h-3zM253 63h1v1h-1zM255 63h1v1h-1zM257 63h4v1h-4zM262 63h1v1h-1zM264 63h1v1h-1zM266 63h2v1h-2zM269 63h1v1h-1zM271 63h1v1h-1zM277 63h3v1h-3zM281 63h3v1h-3zM236 64h9v1h-9zM247 64h1v1h-1zM249 64h1v1h-1zM252 64h1v1h-1zM254 64h2v1h-2zM257 64h1v1h-1zM259 64h1v1h-1zM264 64h2v1h-2zM271 64h1v1h-1zM273 64h1v1h-1zM277 64h1v1h-1zM279 64h2v1h-2zM282 64h1v1h-1zM235 65h1v1h-1zM237 65h2v1h-2zM240 65h1v1h-1zM245 65h1v1h-1zM247 65h2v1h-2zM253 65h2v1h-2zM256 65h1v1h-1zM258 65h3v1h-3zM262 65h2v1h-2zM265 65h1v1h-1zM268 65h2v1h-2zM271 65h5v1h-5zM278 65h4v1h-4zM235 66h10v1h-10zM248 66h1v1h-1zM251 66h2v1h-2zM256 66h4v1h-4zM264 66h2v1h-2zM267 66h2v1h-2zM271 66h1v1h-1zM273 66h1v1h-1zM275 66h1v1h-1zM277 66h1v1h-1zM280 66h2v1h-2zM235 67h4v1h-4zM240 67h1v1h-1zM242 67h1v1h-1zM244 67h1v1h-1zM246 67h4v1h-4zM251 67h1v1h-1zM255 67h8v1h-8zM264 67h1v1h-1zM266 67h2v1h-2zM272 67h10v1h-10zM283 67h1v1h-1zM235 68h3v1h-3zM240 68h2v1h-2zM244 68h2v1h-2zM247 68h2v1h-2zM251 68h1v1h-1zM253 68h1v1h-1zM255 68h2v1h-2zM258 68h1v1h-1zM261 68h8v1h-8zM270 68h4v1h-4zM275 68h1v1h-1zM281 68h2v1h-2zM236 69h1v1h-1zM238 69h1v1h-1zM240 69h2v1h-2zM243 69h7v1h-7zM251 69h1v1h-1zM253 69h1v1h-1zM255 69h1v1h-1zM257 69h4v1h-4zM262 69h1v1h-1zM264 69h2v1h-2zM268 69h4v1h-4zM273 69h4v1h-4zM281 69h2v1h-2zM235 70h3v1h-3zM240 70h2v1h-2zM243 70h1v1h-1zM245 70h1v1h-1zM248 70h2v1h-2zM251 70h4v1h-4zM256 70h3v1h-3zM260 70h2v1h-2zM263 70h1v1h-1zM267 70h5v1h-5zM273 70h2v1h-2zM276 70h1v1h-1zM278 70h2v1h-2zM235 71h6v1h-6zM243 71h2v1h-2zM246 71h1v1h-1zM248 71h2v1h-2zM251 71h2v1h-2zM254 71h2v1h-2zM258 71h2v1h-2zM261 71h2v1h-2zM264 71h1v1h-1zM266 71h5v1h-5zM274 71h1v1h-1zM276 71h1v1h-1zM279 71h2v1h-2zM236 72h1v1h-1zM238 72h1v1h-1zM241 72h3v1h-3zM246 72h1v1h-1zM248 72h2v1h-2zM251 72h5v1h-5zM257 72h5v1h-5zM263 72h4v1h-4zM268 72h1v1h-1zM274 72h1v1h-1zM276 72h1v1h-1zM235 73h2v1h-2zM238 73h2v1h-2zM243 73h4v1h-4zM248 73h2v1h-2zM264 73h11v1h-11zM280 73h1v1h-1zM268 74h2v1h-2zM273 74h3v1h-3zM279 74h2v1h-2zM268 75h1v1h-1zM271 75h1v1h-1zM273 75h3v1h-3zM277 75h3v1h-3zM269 76h3v1h-3zM273 76h4v1h-4zM279 76h1v1h-1zM271 77h1v1h-1zM274 77h1v1h-1zM277 77h1v1h-1zM279 77h1v1h-1zM270 78h1v1h-1zM274 78h2v1h-2zM277 78h2v1h-2zM270 79h4v1h-4zM275 79h1v1h-1zM279 79h1v1h-1zM271 80h2v1h-2zM274 80h6v1h-6zM281 80h1v1h-1zM271 81h4v1h-4zM277 81h1v1h-1zM279 81h1v1h-1zM270 82h2v1h-2zM273 82h5v1h-5zM281 82h1v1h-1zM270 83h1v1h-1zM272 83h2v1h-2zM276 83h1v1h-1zM278 83h2v1h-2zM271 84h1v1h-1zM274 84h1v1h-1zM277 84h1v1h-1zM280 84h1v1h-1zM270 85h7v1h-7zM278 85h3v1h-3z"/>
<path fill="#9088d8" d="M264 44h1v1h-1zM272 46h1v1h-1zM260 48h1v1h-1zM266 53h1v1h-1zM267 54h1v1h-1zM265 55h1v1h-1zM266 56h1v1h-1zM269 56h2v1h-2zM245 57h1v1h-1zM253 58h1v1h-1zM244 60h1v1h-1zM246 60h1v1h-1zM246 63h1v1h-1zM263 63h1v1h-1zM268 63h1v1h-1zM274 63h1v1h-1zM245 64h1v1h-1zM269 64h1v1h-1zM276 64h1v1h-1zM257 65h1v1h-1zM246 66h1v1h-1zM272 66h1v1h-1zM276 66h1v1h-1zM250 68h1v1h-1zM277 68h1v1h-1zM266 69h1v1h-1zM277 69h2v1h-2zM279 72h1v1h-1zM278 73h1v1h-1zM277 74h1v1h-1zM280 76h1v1h-1zM276 77h1v1h-1zM278 77h1v1h-1zM280 77h1v1h-1zM278 81h1v1h-1zM280 82h1v1h-1z"/>
<path fill="#b0a0d8" d="M261 45h1v1h-1zM259 49h1v1h-1zM265 49h1v1h-1zM268 49h1v1h-1zM265 50h2v1h-2zM268 50h1v1h-1zM263 51h2v1h-2zM258 52h1v1h-1zM263 53h1v1h-1zM269 53h1v1h-1zM264 54h1v1h-1zM269 54h1v1h-1zM253 55h1v1h-1zM263 55h2v1h-2zM268 55h1v1h-1zM255 56h1v1h-1zM263 56h1v1h-1zM268 56h1v1h-1zM271 56h1v1h-1zM265 57h1v1h-1zM272 57h1v1h-1zM263 58h1v1h-1zM266 58h1v1h-1zM266 59h3v1h-3zM265 60h1v1h-1zM270 60h1v1h-1zM262 61h1v1h-1zM247 62h1v1h-1zM251 62h2v1h-2zM278 62h1v1h-1zM273 63h1v1h-1zM250 64h2v1h-2zM274 64h1v1h-1zM267 65h1v1h-1zM271 67h1v1h-1zM276 68h1v1h-1zM282 70h1v1h-1zM273 72h1v1h-1zM276 73h1v1h-1zM270 75h1v1h-1zM276 75h1v1h-1zM279 78h2v1h-2zM280 79h1v1h-1z"/>
<path fill="#a898e0" d="M263 46h1v1h-1zM264 47h1v1h-1zM265 48h1v1h-1zM259 50h1v1h-1zM267 50h1v1h-1zM264 52h1v1h-1zM266 52h1v1h-1zM271 52h1v1h-1zM260 53h1v1h-1zM265 53h1v1h-1zM259 54h1v1h-1zM265 54h2v1h-2zM256 56h1v1h-1zM271 57h1v1h-1zM275 57h1v1h-1zM268 58h1v1h-1zM270 58h2v1h-2zM274 58h1v1h-1zM261 59h1v1h-1zM270 59h1v1h-1zM273 59h1v1h-1zM275 59h1v1h-1zM277 60h1v1h-1zM264 61h1v1h-1zM267 61h1v1h-1zM276 61h2v1h-2zM265 62h1v1h-1zM274 62h2v1h-2zM242 63h1v1h-1zM250 63h2v1h-2zM265 63h1v1h-1zM272 63h1v1h-1zM276 63h1v1h-1zM253 64h1v1h-1zM275 64h1v1h-1zM276 65h2v1h-2zM279 66h1v1h-1zM274 68h1v1h-1zM280 70h2v1h-2zM271 72h1v1h-1zM277 72h1v1h-1zM282 72h1v1h-1zM281 74h1v1h-1zM280 75h2v1h-2zM277 76h2v1h-2zM275 77h1v1h-1zM277 79h1v1h-1zM280 80h1v1h-1zM278 84h1v1h-1z"/>
<path fill="#7068c8" d="M257 47h1v1h-1zM261 47h1v1h-1zM265 47h1v1h-1zM271 47h1v1h-1zM261 48h1v1h-1zM261 50h3v1h-3zM268 51h1v1h-1zM260 52h4v1h-4zM268 52h1v1h-1zM245 54h1v1h-1zM262 54h1v1h-1zM252 56h1v1h-1zM244 57h1v1h-1zM264 57h1v1h-1zM266 57h2v1h-2zM251 58h1v1h-1zM262 58h1v1h-1zM275 58h1v1h-1zM246 59h2v1h-2zM262 59h1v1h-1zM264 59h1v1h-1zM271 59h1v1h-1zM277 59h1v1h-1zM242 60h1v1h-1zM249 60h1v1h-1zM262 60h1v1h-1zM266 60h1v1h-1zM261 61h1v1h-1zM265 61h1v1h-1zM268 61h1v1h-1zM240 62h1v1h-1zM267 62h1v1h-1zM270 62h1v1h-1zM276 62h2v1h-2zM248 64h1v1h-1zM262 64h1v1h-1zM282 65h1v1h-1zM261 66h1v1h-1zM278 66h1v1h-1zM266 70h1v1h-1zM277 70h1v1h-1zM275 71h1v1h-1zM278 71h1v1h-1zM281 71h1v1h-1zM275 72h1v1h-1zM281 77h1v1h-1zM273 78h1v1h-1zM276 78h1v1h-1zM281 78h1v1h-1zM278 82h2v1h-2zM277 83h1v1h-1zM280 83h1v1h-1z"/>
<path fill="#2850c8" d="M240 73h1v1h-1zM250 73h1v1h-1zM263 73h1v1h-1z"/>
<path fill="#2858c8" d="M251 73h2v1h-2z"/>
<path fill="#2858d0" d="M253 73h1v1h-1zM235 74h1v1h-1z"/>
<path fill="#2860d0" d="M254 73h1v1h-1zM262 73h1v1h-1zM266 74h1v1h-1zM269 77h1v1h-1zM269 84h1v1h-1zM269 85h1v1h-1z"/>
<path fill="#2868d0" d="M255 73h1v1h-1zM236 74h1v1h-1zM246 74h1v1h-1zM248 74h1v1h-1zM269 83h1v1h-1z"/>
<path fill="#2870d8" d="M256 73h1v1h-1zM261 73h1v1h-1zM245 74h1v1h-1zM247 74h1v1h-1zM249 74h1v1h-1zM267 75h1v1h-1zM268 76h1v1h-1zM269 78h1v1h-1z"/>
<path fill="#2880d8" d="M257 73h1v1h-1zM260 73h1v1h-1zM238 74h1v1h-1zM242 74h1v1h-1zM269 79h1v1h-1zM269 80h1v1h-1zM269 81h1v1h-1zM248 85h1v1h-1z"/>
<path fill="#2888e0" d="M258 73h2v1h-2zM239 74h3v1h-3zM250 74h2v1h-2zM264 74h1v1h-1zM246 75h3v1h-3zM266 75h1v1h-1zM249 85h1v1h-1z"/>
<path fill="#2878d8" d="M237 74h1v1h-1zM243 74h2v1h-2zM265 74h1v1h-1zM269 82h1v1h-1z"/>
<path fill="#2890e0" d="M252 74h1v1h-1zM263 74h1v1h-1zM245 75h1v1h-1zM248 76h1v1h-1zM268 77h1v1h-1zM247 82h2v1h-2zM247 83h2v1h-2zM268 83h1v1h-1zM247 84h2v1h-2zM268 84h1v1h-1zM247 85h1v1h-1zM268 85h1v1h-1z"/>
<path fill="#2898e0" d="M253 74h1v1h-1zM235 75h1v1h-1zM244 75h1v1h-1zM249 75h1v1h-1zM246 76h2v1h-2zM267 76h1v1h-1zM248 77h1v1h-1zM247 81h1v1h-1zM249 84h1v1h-1zM250 85h1v1h-1z"/>
<path fill="#28a0e0" d="M254 74h1v1h-1zM262 74h1v1h-1zM243 75h1v1h-1zM265 75h1v1h-1zM249 76h1v1h-1zM246 77h2v1h-2zM247 78h1v1h-1zM268 78h1v1h-1zM248 81h1v1h-1zM268 82h1v1h-1zM249 83h1v1h-1zM246 84h1v1h-1zM246 85h1v1h-1z"/>
<path fill="#30a8e0" d="M255 74h1v1h-1zM261 74h1v1h-1zM236 75h1v1h-1zM242 75h1v1h-1zM250 75h1v1h-1zM245 76h1v1h-1zM266 76h1v1h-1zM249 77h1v1h-1zM267 77h1v1h-1zM246 78h1v1h-1zM248 78h1v1h-1zM247 79h2v1h-2zM268 79h1v1h-1zM247 80h2v1h-2zM268 80h1v1h-1zM246 81h1v1h-1zM246 82h1v1h-1zM249 82h1v1h-1zM246 83h1v1h-1zM267 83h1v1h-1zM250 84h1v1h-1zM267 84h1v1h-1zM245 85h1v1h-1zM265 85h1v1h-1zM267 85h1v1h-1z"/>
<path fill="#30b0e0" d="M256 74h1v1h-1zM237 75h5v1h-5zM251 75h2v1h-2zM245 77h1v1h-1zM249 78h1v1h-1zM246 79h1v1h-1zM246 80h1v1h-1zM249 81h1v1h-1zM268 81h1v1h-1zM251 85h1v1h-1zM266 85h1v1h-1z"/>
<path fill="#30b8e0" d="M257 74h1v1h-1zM260 74h1v1h-1zM264 75h1v1h-1zM235 76h1v1h-1zM242 76h1v1h-1zM244 76h1v1h-1zM245 78h1v1h-1zM249 79h1v1h-1zM249 80h1v1h-1zM250 82h1v1h-1zM267 82h1v1h-1zM250 83h1v1h-1zM245 84h1v1h-1zM266 84h1v1h-1zM244 85h1v1h-1zM252 85h1v1h-1zM264 85h1v1h-1z"/>
<path fill="#30b8d8" d="M258 74h2v1h-2zM243 76h1v1h-1zM250 76h1v1h-1zM267 78h1v1h-1zM266 83h1v1h-1zM251 84h1v1h-1zM265 84h1v1h-1z"/>
<path fill="#38b8c8" d="M253 75h1v1h-1zM237 76h1v1h-1zM235 77h1v1h-1zM245 80h1v1h-1zM267 80h1v1h-1zM245 83h1v1h-1zM244 84h1v1h-1zM252 84h1v1h-1zM264 84h1v1h-1zM263 85h1v1h-1z"/>
<path fill="#40c0a8" d="M254 75h1v1h-1zM244 79h1v1h-1zM251 81h1v1h-1zM265 82h1v1h-1zM264 83h1v1h-1zM243 84h1v1h-1zM242 85h1v1h-1zM256 85h1v1h-1zM259 85h2v1h-2z"/>
<path fill="#40c098" d="M255 75h3v1h-3zM253 76h1v1h-1zM237 77h1v1h-1zM251 77h1v1h-1zM253 83h1v1h-1zM263 83h1v1h-1zM254 84h1v1h-1zM262 84h1v1h-1zM237 85h1v1h-1zM241 85h1v1h-1z"/>
<path fill="#48c090" d="M258 75h1v1h-1zM251 80h1v1h-1zM264 82h1v1h-1zM238 85h1v1h-1z"/>
<path fill="#48c088" d="M259 75h1v1h-1zM238 77h1v1h-1zM240 77h1v1h-1zM252 77h1v1h-1zM236 78h1v1h-1zM235 83h1v1h-1zM236 84h1v1h-1zM242 84h1v1h-1z"/>
<path fill="#40c0a0" d="M260 75h1v1h-1zM263 76h1v1h-1zM241 77h1v1h-1zM264 77h1v1h-1zM235 78h1v1h-1zM243 78h1v1h-1zM265 78h1v1h-1zM265 79h1v1h-1zM265 80h1v1h-1zM265 81h1v1h-1zM252 82h1v1h-1zM244 83h1v1h-1zM257 85h2v1h-2z"/>
<path fill="#38c0b0" d="M261 75h1v1h-1zM239 76h1v1h-1zM236 77h1v1h-1zM265 77h1v1h-1zM250 78h1v1h-1zM252 83h1v1h-1z"/>
<path fill="#38c0b8" d="M262 75h1v1h-1zM240 76h1v1h-1zM252 76h1v1h-1zM264 76h1v1h-1zM242 77h1v1h-1zM250 77h1v1h-1zM244 78h1v1h-1zM250 79h1v1h-1zM266 79h1v1h-1zM245 82h1v1h-1zM265 83h1v1h-1zM263 84h1v1h-1zM243 85h1v1h-1zM254 85h1v1h-1zM262 85h1v1h-1z"/>
<path fill="#38b8d0" d="M263 75h1v1h-1zM265 76h1v1h-1zM244 77h1v1h-1zM245 79h1v1h-1zM250 81h1v1h-1z"/>
<path fill="#30b8d0" d="M236 76h1v1h-1zM241 76h1v1h-1zM266 77h1v1h-1zM267 79h1v1h-1zM235 85h1v1h-1z"/>
<path fill="#38c0c0" d="M238 76h1v1h-1zM243 77h1v1h-1zM266 78h1v1h-1zM250 80h1v1h-1zM245 81h1v1h-1zM251 82h1v1h-1z"/>
<path fill="#38b8c0" d="M251 76h1v1h-1zM267 81h1v1h-1zM266 82h1v1h-1zM251 83h1v1h-1zM253 85h1v1h-1z"/>
<path fill="#50c070" d="M254 76h1v1h-1zM261 76h1v1h-1zM235 79h1v1h-1zM254 83h1v1h-1zM262 83h1v1h-1z"/>
<path fill="#58c050" d="M255 76h1v1h-1zM260 76h1v1h-1zM262 77h1v1h-1zM252 78h1v1h-1zM236 79h1v1h-1zM252 79h1v1h-1zM263 80h1v1h-1zM243 81h1v1h-1zM263 81h1v1h-1z"/>
<path fill="#60c050" d="M256 76h3v1h-3zM254 77h1v1h-1zM239 78h2v1h-2zM263 78h1v1h-1zM242 79h1v1h-1zM236 82h1v1h-1zM261 83h1v1h-1z"/>
<path fill="#68c050" d="M259 76h1v1h-1zM263 79h1v1h-1zM262 82h1v1h-1zM237 83h1v1h-1zM255 83h1v1h-1zM239 84h2v1h-2z"/>
<path fill="#48c080" d="M262 76h1v1h-1zM239 77h1v1h-1zM242 78h1v1h-1zM264 78h1v1h-1zM264 80h1v1h-1zM244 81h1v1h-1zM252 81h1v1h-1zM264 81h1v1h-1zM244 82h1v1h-1zM243 83h1v1h-1zM261 84h1v1h-1z"/>
<path fill="#50c068" d="M253 77h1v1h-1zM237 78h1v1h-1zM263 82h1v1h-1zM242 83h1v1h-1zM241 84h1v1h-1zM256 84h4v1h-4z"/>
<path fill="#80c848" d="M255 77h1v1h-1zM238 79h1v1h-1zM253 79h1v1h-1zM242 80h1v1h-1zM242 81h1v1h-1zM237 82h1v1h-1zM256 83h2v1h-2z"/>
<path fill="#90d040" d="M256 77h1v1h-1zM239 79h2v1h-2zM262 79h1v1h-1zM241 82h1v1h-1z"/>
<path fill="#a0d040" d="M257 77h1v1h-1zM259 77h1v1h-1zM238 80h1v1h-1zM241 81h1v1h-1zM239 82h2v1h-2zM255 82h1v1h-1z"/>
<path fill="#a8d040" d="M258 77h1v1h-1zM255 78h1v1h-1zM254 79h1v1h-1zM240 80h1v1h-1zM254 80h1v1h-1z"/>
<path fill="#88c848" d="M260 77h1v1h-1zM254 78h1v1h-1zM262 78h1v1h-1zM262 80h1v1h-1zM262 81h1v1h-1zM239 83h2v1h-2zM258 83h2v1h-2z"/>
<path fill="#70c848" d="M261 77h1v1h-1zM253 78h1v1h-1zM237 79h1v1h-1zM253 80h1v1h-1zM236 81h1v1h-1zM254 82h1v1h-1z"/>
<path fill="#48c078" d="M263 77h1v1h-1zM243 79h1v1h-1zM251 79h1v1h-1zM255 84h1v1h-1z"/>
<path fill="#58c058" d="M238 78h1v1h-1zM235 80h1v1h-1zM243 80h1v1h-1zM253 81h1v1h-1zM243 82h1v1h-1z"/>
<path fill="#58c060" d="M241 78h1v1h-1z"/>
<path fill="#50c078" d="M251 78h1v1h-1zM264 79h1v1h-1zM235 82h1v1h-1zM253 82h1v1h-1zM237 84h1v1h-1zM260 84h1v1h-1zM239 85h2v1h-2z"/>
<path fill="#c8d838" d="M256 78h1v1h-1zM255 81h1v1h-1zM259 82h1v1h-1z"/>
<path fill="#e0e030" d="M257 78h1v1h-1zM259 78h1v1h-1zM255 80h1v1h-1z"/>
<path fill="#e8e030" d="M258 78h1v1h-1z"/>
<path fill="#d0d838" d="M260 78h1v1h-1zM261 79h1v1h-1zM261 80h1v1h-1zM257 82h2v1h-2z"/>
<path fill="#b0d040" d="M261 78h1v1h-1zM239 80h1v1h-1zM238 81h1v1h-1z"/>
<path fill="#78c848" d="M241 79h1v1h-1zM236 80h1v1h-1zM238 83h1v1h-1zM260 83h1v1h-1z"/>
<path fill="#d8d838" d="M255 79h1v1h-1z"/>
<path fill="#f0d830" d="M256 79h1v1h-1zM256 81h1v1h-1z"/>
<path fill="#f0c828" d="M257 79h1v1h-1zM256 80h1v1h-1zM259 81h1v1h-1z"/>
<path fill="#f8c028" d="M258 79h1v1h-1zM258 81h1v1h-1z"/>
<path fill="#f0c028" d="M259 79h1v1h-1zM257 81h1v1h-1z"/>
<path fill="#f0d030" d="M260 79h1v1h-1z"/>
<path fill="#98d040" d="M237 80h1v1h-1zM241 80h1v1h-1zM237 81h1v1h-1zM238 82h1v1h-1z"/>
<path fill="#40c090" d="M244 80h1v1h-1z"/>
<path fill="#50c060" d="M252 80h1v1h-1zM235 81h1v1h-1zM236 83h1v1h-1zM238 84h1v1h-1z"/>
<path fill="#f8b828" d="M257 80h1v1h-1zM259 80h1v1h-1z"/>
<path fill="#f8b020" d="M258 80h1v1h-1z"/>
<path fill="#f0d028" d="M260 80h1v1h-1z"/>
<path fill="#40c0b0" d="M266 80h1v1h-1zM266 81h1v1h-1zM235 84h1v1h-1zM253 84h1v1h-1zM236 85h1v1h-1zM255 85h1v1h-1zM261 85h1v1h-1z"/>
<path fill="#b8d838" d="M239 81h2v1h-2zM261 81h1v1h-1zM260 82h1v1h-1z"/>
<path fill="#90c848" d="M254 81h1v1h-1zM261 82h1v1h-1z"/>
<path fill="#f0e030" d="M260 81h1v1h-1z"/>
<path fill="#68c848" d="M242 82h1v1h-1zM241 83h1v1h-1z"/>
<path fill="#c0d838" d="M256 82h1v1h-1z"/></g>
<g stroke="#a898d8" stroke-width="0.4" fill="none" opacity="0.6"><path d="M258,52 L266,47 L274,55 L268,64 L260,60 Z M266,47 L282,74 M262,66 L276,58"/></g>
<rect x="235.2" y="26.2" width="59.6" height="60" fill="none" stroke="#999" stroke-width="0.6"/>
<line x1="263.4" y1="52" x2="263.4" y2="86.2" stroke="#222" stroke-width="0.7"/>
<text x="231.8" y="27.7" font-size="3.7" text-anchor="end" fill="#777">10</text>
<text x="231.9" y="26.2" font-size="2.3" text-anchor="start" fill="#777">4</text>
<text x="231.8" y="42.2" font-size="3.7" text-anchor="end" fill="#777">10</text>
<text x="231.9" y="40.7" font-size="2.3" text-anchor="start" fill="#777">3</text>
<text x="231.8" y="57.2" font-size="3.7" text-anchor="end" fill="#777">10</text>
<text x="231.9" y="55.7" font-size="2.3" text-anchor="start" fill="#777">2</text>
<text x="231.8" y="72.2" font-size="3.7" text-anchor="end" fill="#777">10</text>
<text x="231.9" y="70.7" font-size="2.3" text-anchor="start" fill="#777">1</text>
<text x="231.8" y="87.2" font-size="3.7" text-anchor="end" fill="#777">10</text>
<text x="231.9" y="85.7" font-size="2.3" text-anchor="start" fill="#777">0</text>
<text x="234.6" y="91" font-size="3.7" text-anchor="middle" fill="#777">10</text>
<text x="236.6" y="89.5" font-size="2.3" text-anchor="start" fill="#777">0</text>
<text x="249.4" y="91" font-size="3.7" text-anchor="middle" fill="#777">10</text>
<text x="251.4" y="89.5" font-size="2.3" text-anchor="start" fill="#777">1</text>
<text x="264.4" y="91" font-size="3.7" text-anchor="middle" fill="#777">10</text>
<text x="266.4" y="89.5" font-size="2.3" text-anchor="start" fill="#777">2</text>
<text x="279.4" y="91" font-size="3.7" text-anchor="middle" fill="#777">10</text>
<text x="281.4" y="89.5" font-size="2.3" text-anchor="start" fill="#777">3</text>
<text x="294.2" y="91" font-size="3.7" text-anchor="middle" fill="#777">10</text>
<text x="296.2" y="89.5" font-size="2.3" text-anchor="start" fill="#777">4</text>
<text x="257.08" y="24.10" font-size="5.79" font-weight="bold" fill="#000" textLength="17.17" lengthAdjust="spacingAndGlyphs">Naive</text>
<text x="257.18" y="35.40" font-size="5.43" font-weight="bold" fill="#000" textLength="10.28" lengthAdjust="spacingAndGlyphs">1.38</text>
<text x="283.61" y="32.80" font-size="5.43" font-weight="bold" fill="#000" textLength="10.30" lengthAdjust="spacingAndGlyphs">2.47</text>
<text x="236.58" y="48.90" font-size="5.14" font-weight="bold" fill="#000" textLength="10.31" lengthAdjust="spacingAndGlyphs">1.06</text>
<g filter="url(#bd)"><path fill="#9070c0" d="M340 35h1v1h-1zM339 37h1v1h-1zM347 37h1v1h-1zM329 38h1v1h-1zM333 38h1v1h-1zM338 38h1v1h-1zM341 38h1v1h-1zM343 38h1v1h-1zM334 39h1v1h-1zM337 39h2v1h-2zM342 39h1v1h-1zM352 39h1v1h-1zM331 40h1v1h-1zM335 40h2v1h-2zM338 40h1v1h-1zM342 40h1v1h-1zM352 40h2v1h-2zM355 40h1v1h-1zM328 41h3v1h-3zM338 41h1v1h-1zM346 41h2v1h-2zM350 41h1v1h-1zM357 41h1v1h-1zM325 42h1v1h-1zM331 42h1v1h-1zM333 42h2v1h-2zM337 42h2v1h-2zM345 42h1v1h-1zM351 42h2v1h-2zM359 42h1v1h-1zM328 43h1v1h-1zM334 43h1v1h-1zM337 43h1v1h-1zM339 43h1v1h-1zM345 43h1v1h-1zM348 43h1v1h-1zM350 43h1v1h-1zM352 43h2v1h-2zM323 44h2v1h-2zM327 44h1v1h-1zM348 44h1v1h-1zM320 45h1v1h-1zM329 45h1v1h-1zM333 45h1v1h-1zM358 45h1v1h-1zM362 45h1v1h-1zM320 46h2v1h-2zM325 46h2v1h-2zM329 46h1v1h-1zM331 46h1v1h-1zM363 46h1v1h-1zM317 47h1v1h-1zM322 47h1v1h-1zM325 47h1v1h-1zM327 47h2v1h-2zM314 48h1v1h-1zM323 48h1v1h-1zM362 48h1v1h-1zM314 49h1v1h-1zM320 49h1v1h-1zM361 49h1v1h-1zM363 49h1v1h-1zM314 50h1v1h-1zM322 50h1v1h-1zM363 50h1v1h-1zM314 51h1v1h-1zM363 52h2v1h-2zM363 54h1v1h-1zM364 56h1v1h-1zM366 60h1v1h-1zM363 61h1v1h-1zM363 62h1v1h-1zM367 62h1v1h-1zM362 65h1v1h-1zM365 65h1v1h-1zM362 66h2v1h-2zM365 66h1v1h-1zM367 67h1v1h-1zM365 68h2v1h-2zM363 69h2v1h-2zM364 72h1v1h-1zM361 74h3v1h-3zM365 74h1v1h-1zM363 75h1v1h-1zM365 75h1v1h-1zM367 75h1v1h-1zM362 76h1v1h-1zM365 76h1v1h-1zM365 77h1v1h-1zM362 79h1v1h-1zM362 81h1v1h-1zM364 81h2v1h-2zM361 82h1v1h-1zM366 83h1v1h-1zM362 84h1v1h-1zM367 84h1v1h-1zM365 85h1v1h-1z"/>
<path fill="#6060c8" d="M339 36h1v1h-1zM336 37h1v1h-1zM337 38h1v1h-1zM340 38h1v1h-1zM348 38h1v1h-1zM350 38h1v1h-1zM352 38h1v1h-1zM344 39h2v1h-2zM348 39h1v1h-1zM358 39h1v1h-1zM325 40h1v1h-1zM344 40h1v1h-1zM333 41h2v1h-2zM343 41h3v1h-3zM356 41h1v1h-1zM324 42h1v1h-1zM328 42h3v1h-3zM332 42h1v1h-1zM336 42h1v1h-1zM341 42h1v1h-1zM344 42h1v1h-1zM348 42h2v1h-2zM354 42h5v1h-5zM324 43h2v1h-2zM330 43h1v1h-1zM332 43h1v1h-1zM335 43h1v1h-1zM355 43h1v1h-1zM359 43h1v1h-1zM322 44h1v1h-1zM330 44h2v1h-2zM346 44h1v1h-1zM356 44h1v1h-1zM323 45h1v1h-1zM328 45h1v1h-1zM345 45h1v1h-1zM361 45h1v1h-1zM317 46h1v1h-1zM330 46h1v1h-1zM340 46h1v1h-1zM360 46h2v1h-2zM365 46h1v1h-1zM316 47h1v1h-1zM324 47h1v1h-1zM326 47h1v1h-1zM330 47h1v1h-1zM343 47h1v1h-1zM353 47h1v1h-1zM361 47h1v1h-1zM363 47h1v1h-1zM322 48h1v1h-1zM324 48h1v1h-1zM329 48h1v1h-1zM364 48h1v1h-1zM362 49h1v1h-1zM319 50h1v1h-1zM338 50h1v1h-1zM340 50h1v1h-1zM362 50h1v1h-1zM364 50h1v1h-1zM318 51h1v1h-1zM324 51h1v1h-1zM361 51h1v1h-1zM363 51h1v1h-1zM361 52h1v1h-1zM318 53h1v1h-1zM323 53h1v1h-1zM341 53h1v1h-1zM347 53h2v1h-2zM357 53h1v1h-1zM327 54h2v1h-2zM341 54h1v1h-1zM361 54h1v1h-1zM315 55h1v1h-1zM336 55h1v1h-1zM358 55h1v1h-1zM364 55h1v1h-1zM318 56h1v1h-1zM323 56h1v1h-1zM334 56h1v1h-1zM352 56h1v1h-1zM362 56h1v1h-1zM351 57h1v1h-1zM354 57h1v1h-1zM357 57h1v1h-1zM317 58h1v1h-1zM321 58h1v1h-1zM331 58h1v1h-1zM339 58h1v1h-1zM360 58h2v1h-2zM325 59h1v1h-1zM341 59h1v1h-1zM358 59h1v1h-1zM365 59h1v1h-1zM314 60h1v1h-1zM319 60h1v1h-1zM329 60h1v1h-1zM342 60h1v1h-1zM345 60h1v1h-1zM350 60h1v1h-1zM359 60h1v1h-1zM365 60h1v1h-1zM315 61h1v1h-1zM328 61h1v1h-1zM330 61h1v1h-1zM332 61h1v1h-1zM354 61h1v1h-1zM356 61h1v1h-1zM359 61h1v1h-1zM365 61h1v1h-1zM314 62h1v1h-1zM320 62h1v1h-1zM324 62h1v1h-1zM330 62h1v1h-1zM332 62h1v1h-1zM338 62h1v1h-1zM340 62h1v1h-1zM346 62h1v1h-1zM360 62h1v1h-1zM316 63h1v1h-1zM332 63h1v1h-1zM347 63h1v1h-1zM359 63h1v1h-1zM323 64h1v1h-1zM329 64h1v1h-1zM337 64h1v1h-1zM340 64h1v1h-1zM346 64h2v1h-2zM350 64h1v1h-1zM353 64h3v1h-3zM363 64h2v1h-2zM324 65h2v1h-2zM328 65h1v1h-1zM332 65h1v1h-1zM346 65h1v1h-1zM354 65h1v1h-1zM364 65h1v1h-1zM315 66h1v1h-1zM343 66h1v1h-1zM359 66h1v1h-1zM369 66h1v1h-1zM316 67h1v1h-1zM319 67h1v1h-1zM323 67h1v1h-1zM329 67h1v1h-1zM331 67h1v1h-1zM333 67h1v1h-1zM341 67h1v1h-1zM356 67h1v1h-1zM364 67h1v1h-1zM366 67h1v1h-1zM323 68h1v1h-1zM326 68h1v1h-1zM328 68h1v1h-1zM353 68h1v1h-1zM317 69h1v1h-1zM339 69h1v1h-1zM319 70h2v1h-2zM322 70h1v1h-1zM353 70h1v1h-1zM361 70h1v1h-1zM363 70h1v1h-1zM365 70h1v1h-1zM314 71h1v1h-1zM319 71h1v1h-1zM337 71h1v1h-1zM351 71h1v1h-1zM354 71h1v1h-1zM359 71h1v1h-1zM364 71h1v1h-1zM317 72h1v1h-1zM324 72h1v1h-1zM329 72h1v1h-1zM355 72h1v1h-1zM358 72h1v1h-1zM358 73h1v1h-1zM364 73h1v1h-1zM351 74h1v1h-1zM358 74h1v1h-1zM367 74h1v1h-1zM331 75h1v1h-1zM351 76h1v1h-1zM361 76h1v1h-1zM366 76h1v1h-1zM353 77h1v1h-1zM358 77h1v1h-1zM363 77h1v1h-1zM367 77h1v1h-1zM363 78h1v1h-1zM366 79h1v1h-1zM353 80h1v1h-1zM364 80h2v1h-2zM356 81h1v1h-1zM358 82h1v1h-1zM364 82h1v1h-1zM368 82h1v1h-1zM351 83h1v1h-1zM365 83h1v1h-1zM351 84h1v1h-1zM366 84h1v1h-1zM368 84h1v1h-1zM353 85h1v1h-1zM355 85h1v1h-1zM358 85h1v1h-1zM363 85h2v1h-2z"/>
<path fill="#5050c0" d="M346 36h1v1h-1zM335 37h1v1h-1zM337 37h1v1h-1zM342 37h1v1h-1zM344 37h2v1h-2zM327 38h1v1h-1zM339 38h1v1h-1zM344 38h1v1h-1zM331 39h1v1h-1zM335 39h2v1h-2zM339 39h2v1h-2zM346 39h1v1h-1zM356 39h1v1h-1zM326 40h1v1h-1zM329 40h1v1h-1zM337 40h1v1h-1zM341 40h1v1h-1zM345 40h2v1h-2zM336 41h1v1h-1zM348 41h2v1h-2zM351 41h1v1h-1zM355 41h1v1h-1zM361 41h1v1h-1zM323 42h1v1h-1zM327 42h1v1h-1zM343 42h1v1h-1zM319 43h1v1h-1zM326 43h2v1h-2zM331 43h1v1h-1zM333 43h1v1h-1zM336 43h1v1h-1zM340 43h1v1h-1zM342 43h2v1h-2zM347 43h1v1h-1zM356 43h3v1h-3zM320 44h1v1h-1zM328 44h2v1h-2zM333 44h1v1h-1zM337 44h1v1h-1zM361 44h1v1h-1zM324 45h2v1h-2zM330 45h1v1h-1zM332 45h1v1h-1zM335 45h1v1h-1zM315 46h1v1h-1zM319 46h1v1h-1zM327 46h2v1h-2zM334 46h1v1h-1zM362 46h1v1h-1zM321 47h1v1h-1zM323 47h1v1h-1zM316 48h1v1h-1zM366 49h1v1h-1zM316 50h1v1h-1zM321 50h1v1h-1zM323 50h1v1h-1zM361 50h1v1h-1zM317 51h1v1h-1zM314 52h1v1h-1zM316 52h1v1h-1zM365 55h1v1h-1zM365 56h1v1h-1zM362 57h1v1h-1zM363 58h1v1h-1zM365 58h1v1h-1zM362 59h2v1h-2zM364 60h1v1h-1zM366 61h1v1h-1zM364 63h2v1h-2zM369 65h1v1h-1zM361 66h1v1h-1zM364 66h1v1h-1zM362 69h1v1h-1zM363 72h1v1h-1zM365 73h1v1h-1zM364 74h1v1h-1zM364 76h1v1h-1zM362 78h1v1h-1zM361 80h1v1h-1zM366 81h1v1h-1zM366 82h1v1h-1zM364 83h1v1h-1zM365 84h1v1h-1zM362 85h1v1h-1z"/>
<path fill="#8070d0" d="M350 36h1v1h-1zM341 37h1v1h-1zM331 38h1v1h-1zM346 38h2v1h-2zM355 38h1v1h-1zM332 39h2v1h-2zM341 39h1v1h-1zM343 39h1v1h-1zM333 40h2v1h-2zM339 40h2v1h-2zM349 40h1v1h-1zM351 40h1v1h-1zM356 40h2v1h-2zM335 41h1v1h-1zM337 41h1v1h-1zM340 41h1v1h-1zM342 41h1v1h-1zM354 41h1v1h-1zM358 41h1v1h-1zM360 41h1v1h-1zM335 42h1v1h-1zM339 42h1v1h-1zM346 42h1v1h-1zM349 43h1v1h-1zM360 43h1v1h-1zM334 44h2v1h-2zM338 44h1v1h-1zM343 44h1v1h-1zM358 44h3v1h-3zM362 44h1v1h-1zM324 46h1v1h-1zM359 46h1v1h-1zM318 47h1v1h-1zM320 47h1v1h-1zM360 47h1v1h-1zM362 47h1v1h-1zM315 48h1v1h-1zM317 48h1v1h-1zM319 48h1v1h-1zM317 49h1v1h-1zM323 49h1v1h-1zM317 50h1v1h-1zM316 51h1v1h-1zM362 51h1v1h-1zM362 52h1v1h-1zM367 52h1v1h-1zM362 54h1v1h-1zM364 54h1v1h-1zM362 55h1v1h-1zM363 56h1v1h-1zM362 58h1v1h-1zM364 61h1v1h-1zM364 62h2v1h-2zM363 63h1v1h-1zM363 65h1v1h-1zM362 67h2v1h-2zM362 68h2v1h-2zM364 70h1v1h-1zM366 70h2v1h-2zM365 71h1v1h-1zM362 73h1v1h-1zM366 73h1v1h-1zM362 75h1v1h-1zM366 75h1v1h-1zM364 77h1v1h-1zM364 78h1v1h-1zM364 79h1v1h-1zM363 80h1v1h-1zM365 82h1v1h-1zM361 83h1v1h-1zM361 84h1v1h-1zM364 84h1v1h-1zM366 85h1v1h-1z"/>
<path fill="#9888d8" d="M334 38h1v1h-1zM342 38h1v1h-1zM347 39h1v1h-1zM349 39h1v1h-1zM351 39h1v1h-1zM353 39h1v1h-1zM357 39h1v1h-1zM361 39h1v1h-1zM332 40h1v1h-1zM343 40h1v1h-1zM347 40h2v1h-2zM350 40h1v1h-1zM326 41h1v1h-1zM332 41h1v1h-1zM339 41h1v1h-1zM341 41h1v1h-1zM352 41h2v1h-2zM340 42h1v1h-1zM342 42h1v1h-1zM350 42h1v1h-1zM353 42h1v1h-1zM329 43h1v1h-1zM338 43h1v1h-1zM344 43h1v1h-1zM351 43h1v1h-1zM354 43h1v1h-1zM363 43h1v1h-1zM321 44h1v1h-1zM325 44h2v1h-2zM332 44h1v1h-1zM336 44h1v1h-1zM345 44h1v1h-1zM347 44h1v1h-1zM357 44h1v1h-1zM326 45h2v1h-2zM331 45h1v1h-1zM334 45h1v1h-1zM359 45h2v1h-2zM322 46h2v1h-2zM318 48h1v1h-1zM320 48h2v1h-2zM326 48h1v1h-1zM360 48h1v1h-1zM315 49h2v1h-2zM318 49h2v1h-2zM321 49h2v1h-2zM364 49h1v1h-1zM315 50h1v1h-1zM320 50h1v1h-1zM315 51h1v1h-1zM315 52h1v1h-1zM318 52h1v1h-1zM366 52h1v1h-1zM314 53h1v1h-1zM362 53h1v1h-1zM361 55h1v1h-1zM363 55h1v1h-1zM366 55h1v1h-1zM363 57h3v1h-3zM364 58h1v1h-1zM364 59h1v1h-1zM362 61h1v1h-1zM362 62h1v1h-1zM366 62h1v1h-1zM362 64h1v1h-1zM366 64h1v1h-1zM367 66h1v1h-1zM364 68h1v1h-1zM365 69h1v1h-1zM362 70h1v1h-1zM362 71h2v1h-2zM367 72h1v1h-1zM363 73h1v1h-1zM361 75h1v1h-1zM364 75h1v1h-1zM363 76h1v1h-1zM362 77h1v1h-1zM365 78h1v1h-1zM363 79h1v1h-1zM367 79h1v1h-1zM363 81h1v1h-1zM363 82h1v1h-1zM362 83h2v1h-2zM363 84h1v1h-1z"/>
<path fill="#3040c0" d="M347 42h1v1h-1zM341 43h1v1h-1zM339 44h3v1h-3zM351 44h5v1h-5zM339 45h1v1h-1zM346 45h3v1h-3zM351 45h1v1h-1zM354 45h1v1h-1zM356 45h1v1h-1zM335 46h1v1h-1zM337 46h2v1h-2zM346 46h1v1h-1zM348 46h1v1h-1zM350 46h1v1h-1zM352 46h1v1h-1zM354 46h2v1h-2zM358 46h1v1h-1zM331 47h1v1h-1zM341 47h1v1h-1zM345 47h1v1h-1zM348 47h1v1h-1zM350 47h1v1h-1zM354 47h2v1h-2zM357 47h1v1h-1zM325 48h1v1h-1zM327 48h1v1h-1zM330 48h2v1h-2zM334 48h1v1h-1zM338 48h1v1h-1zM350 48h2v1h-2zM354 48h1v1h-1zM357 48h1v1h-1zM359 48h1v1h-1zM330 49h2v1h-2zM338 49h1v1h-1zM342 49h2v1h-2zM347 49h2v1h-2zM351 49h1v1h-1zM353 49h4v1h-4zM359 49h2v1h-2zM318 50h1v1h-1zM324 50h1v1h-1zM328 50h1v1h-1zM330 50h2v1h-2zM334 50h1v1h-1zM347 50h1v1h-1zM350 50h1v1h-1zM352 50h1v1h-1zM354 50h5v1h-5zM319 51h2v1h-2zM322 51h2v1h-2zM325 51h1v1h-1zM328 51h3v1h-3zM335 51h1v1h-1zM343 51h1v1h-1zM349 51h1v1h-1zM352 51h1v1h-1zM355 51h2v1h-2zM360 51h1v1h-1zM317 52h1v1h-1zM320 52h3v1h-3zM324 52h1v1h-1zM327 52h5v1h-5zM335 52h1v1h-1zM337 52h1v1h-1zM350 52h1v1h-1zM352 52h1v1h-1zM355 52h1v1h-1zM357 52h4v1h-4zM315 53h3v1h-3zM319 53h2v1h-2zM322 53h1v1h-1zM324 53h7v1h-7zM337 53h1v1h-1zM349 53h1v1h-1zM354 53h1v1h-1zM358 53h4v1h-4zM314 54h1v1h-1zM317 54h2v1h-2zM320 54h1v1h-1zM322 54h3v1h-3zM326 54h1v1h-1zM330 54h1v1h-1zM332 54h2v1h-2zM346 54h1v1h-1zM352 54h4v1h-4zM357 54h1v1h-1zM359 54h1v1h-1zM314 55h1v1h-1zM316 55h2v1h-2zM319 55h2v1h-2zM322 55h4v1h-4zM327 55h1v1h-1zM329 55h1v1h-1zM331 55h3v1h-3zM338 55h2v1h-2zM347 55h3v1h-3zM351 55h1v1h-1zM354 55h2v1h-2zM357 55h1v1h-1zM359 55h1v1h-1zM314 56h2v1h-2zM317 56h1v1h-1zM319 56h3v1h-3zM325 56h1v1h-1zM327 56h3v1h-3zM333 56h1v1h-1zM336 56h1v1h-1zM340 56h1v1h-1zM346 56h1v1h-1zM350 56h2v1h-2zM353 56h2v1h-2zM356 56h6v1h-6zM314 57h1v1h-1zM316 57h7v1h-7zM324 57h3v1h-3zM332 57h1v1h-1zM335 57h2v1h-2zM338 57h1v1h-1zM347 57h2v1h-2zM352 57h2v1h-2zM355 57h1v1h-1zM358 57h4v1h-4zM314 58h3v1h-3zM318 58h3v1h-3zM322 58h1v1h-1zM324 58h5v1h-5zM330 58h1v1h-1zM333 58h1v1h-1zM336 58h1v1h-1zM338 58h1v1h-1zM348 58h1v1h-1zM350 58h2v1h-2zM354 58h1v1h-1zM357 58h3v1h-3zM314 59h1v1h-1zM316 59h9v1h-9zM326 59h4v1h-4zM332 59h1v1h-1zM335 59h1v1h-1zM344 59h1v1h-1zM348 59h1v1h-1zM351 59h1v1h-1zM353 59h3v1h-3zM357 59h1v1h-1zM359 59h2v1h-2zM315 60h1v1h-1zM318 60h1v1h-1zM323 60h1v1h-1zM325 60h4v1h-4zM330 60h1v1h-1zM332 60h6v1h-6zM339 60h3v1h-3zM348 60h2v1h-2zM352 60h2v1h-2zM355 60h1v1h-1zM357 60h1v1h-1zM360 60h2v1h-2zM363 60h1v1h-1zM314 61h1v1h-1zM316 61h9v1h-9zM326 61h1v1h-1zM329 61h1v1h-1zM331 61h1v1h-1zM333 61h5v1h-5zM349 61h4v1h-4zM355 61h1v1h-1zM357 61h2v1h-2zM360 61h2v1h-2zM315 62h3v1h-3zM319 62h1v1h-1zM321 62h1v1h-1zM325 62h2v1h-2zM328 62h1v1h-1zM331 62h1v1h-1zM333 62h2v1h-2zM336 62h1v1h-1zM339 62h1v1h-1zM341 62h1v1h-1zM343 62h1v1h-1zM347 62h1v1h-1zM349 62h1v1h-1zM351 62h1v1h-1zM353 62h4v1h-4zM358 62h2v1h-2zM361 62h1v1h-1zM314 63h2v1h-2zM317 63h4v1h-4zM323 63h4v1h-4zM328 63h4v1h-4zM333 63h2v1h-2zM336 63h3v1h-3zM340 63h1v1h-1zM342 63h1v1h-1zM344 63h3v1h-3zM349 63h1v1h-1zM352 63h2v1h-2zM355 63h2v1h-2zM358 63h1v1h-1zM360 63h3v1h-3zM314 64h2v1h-2zM317 64h2v1h-2zM320 64h2v1h-2zM325 64h1v1h-1zM327 64h1v1h-1zM332 64h5v1h-5zM338 64h2v1h-2zM342 64h3v1h-3zM348 64h2v1h-2zM356 64h1v1h-1zM358 64h4v1h-4zM316 65h1v1h-1zM318 65h6v1h-6zM326 65h2v1h-2zM329 65h1v1h-1zM331 65h1v1h-1zM333 65h2v1h-2zM339 65h3v1h-3zM344 65h1v1h-1zM347 65h2v1h-2zM350 65h2v1h-2zM353 65h1v1h-1zM355 65h7v1h-7zM314 66h1v1h-1zM317 66h12v1h-12zM333 66h3v1h-3zM337 66h3v1h-3zM341 66h1v1h-1zM345 66h1v1h-1zM348 66h2v1h-2zM352 66h6v1h-6zM360 66h1v1h-1zM315 67h1v1h-1zM317 67h1v1h-1zM320 67h3v1h-3zM326 67h3v1h-3zM334 67h3v1h-3zM340 67h1v1h-1zM342 67h1v1h-1zM344 67h2v1h-2zM347 67h2v1h-2zM352 67h1v1h-1zM354 67h2v1h-2zM357 67h5v1h-5zM314 68h2v1h-2zM317 68h1v1h-1zM319 68h4v1h-4zM324 68h2v1h-2zM327 68h1v1h-1zM329 68h4v1h-4zM334 68h3v1h-3zM338 68h1v1h-1zM340 68h2v1h-2zM343 68h7v1h-7zM352 68h1v1h-1zM355 68h2v1h-2zM358 68h4v1h-4zM314 69h3v1h-3zM318 69h6v1h-6zM325 69h1v1h-1zM327 69h1v1h-1zM329 69h4v1h-4zM334 69h5v1h-5zM340 69h11v1h-11zM352 69h2v1h-2zM355 69h7v1h-7zM314 70h1v1h-1zM318 70h1v1h-1zM323 70h3v1h-3zM327 70h1v1h-1zM329 70h6v1h-6zM337 70h9v1h-9zM348 70h3v1h-3zM354 70h4v1h-4zM359 70h2v1h-2zM315 71h2v1h-2zM318 71h1v1h-1zM320 71h9v1h-9zM330 71h7v1h-7zM338 71h1v1h-1zM340 71h1v1h-1zM346 71h1v1h-1zM348 71h3v1h-3zM356 71h2v1h-2zM360 71h1v1h-1zM314 72h3v1h-3zM318 72h6v1h-6zM325 72h2v1h-2zM328 72h1v1h-1zM331 72h4v1h-4zM336 72h1v1h-1zM349 72h6v1h-6zM356 72h1v1h-1zM360 72h1v1h-1zM324 73h1v1h-1zM327 73h2v1h-2zM330 73h6v1h-6zM351 73h5v1h-5zM357 73h1v1h-1zM359 73h3v1h-3zM329 74h5v1h-5zM352 74h2v1h-2zM355 74h1v1h-1zM357 74h1v1h-1zM359 74h2v1h-2zM330 75h1v1h-1zM351 75h8v1h-8zM360 75h1v1h-1zM352 76h9v1h-9zM352 77h1v1h-1zM357 77h1v1h-1zM359 77h3v1h-3zM353 78h1v1h-1zM355 78h2v1h-2zM358 78h2v1h-2zM361 78h1v1h-1zM351 79h8v1h-8zM361 79h1v1h-1zM351 80h2v1h-2zM354 80h7v1h-7zM362 80h1v1h-1zM351 81h1v1h-1zM353 81h2v1h-2zM357 81h1v1h-1zM360 81h2v1h-2zM351 82h3v1h-3zM357 82h1v1h-1zM359 82h1v1h-1zM362 82h1v1h-1zM350 83h1v1h-1zM352 83h1v1h-1zM354 83h7v1h-7zM350 84h1v1h-1zM356 84h5v1h-5zM350 85h3v1h-3zM354 85h1v1h-1zM356 85h1v1h-1zM359 85h2v1h-2z"/>
<path fill="#9088d8" d="M346 43h1v1h-1zM338 45h1v1h-1zM350 45h1v1h-1zM342 46h1v1h-1zM345 46h1v1h-1zM347 46h1v1h-1zM356 46h1v1h-1zM334 47h2v1h-2zM346 47h1v1h-1zM351 47h1v1h-1zM340 48h1v1h-1zM347 48h2v1h-2zM333 49h2v1h-2zM341 49h1v1h-1zM332 50h1v1h-1zM342 50h1v1h-1zM345 50h1v1h-1zM348 50h1v1h-1zM351 50h1v1h-1zM336 51h1v1h-1zM339 51h1v1h-1zM342 51h1v1h-1zM346 51h1v1h-1zM348 51h1v1h-1zM323 52h1v1h-1zM333 52h1v1h-1zM342 52h2v1h-2zM346 52h2v1h-2zM336 53h1v1h-1zM351 53h1v1h-1zM343 54h1v1h-1zM335 55h1v1h-1zM346 55h1v1h-1zM356 55h1v1h-1zM324 56h1v1h-1zM337 56h2v1h-2zM344 57h1v1h-1zM340 58h1v1h-1zM342 58h2v1h-2zM346 58h1v1h-1zM330 59h1v1h-1zM337 59h3v1h-3zM342 59h1v1h-1zM346 59h1v1h-1zM342 61h3v1h-3zM330 64h1v1h-1zM352 64h1v1h-1zM330 65h1v1h-1zM335 65h1v1h-1zM346 66h1v1h-1zM343 67h1v1h-1zM350 67h1v1h-1zM337 68h1v1h-1z"/>
<path fill="#b0a0d8" d="M342 44h1v1h-1zM336 45h1v1h-1zM341 45h2v1h-2zM336 46h1v1h-1zM341 46h1v1h-1zM336 47h1v1h-1zM337 48h1v1h-1zM339 48h1v1h-1zM344 48h1v1h-1zM325 49h1v1h-1zM329 49h1v1h-1zM335 49h1v1h-1zM352 49h1v1h-1zM335 50h1v1h-1zM343 50h1v1h-1zM333 51h2v1h-2zM337 51h1v1h-1zM332 52h1v1h-1zM334 52h1v1h-1zM348 52h2v1h-2zM338 53h1v1h-1zM340 53h1v1h-1zM346 53h1v1h-1zM350 53h1v1h-1zM331 54h1v1h-1zM335 54h2v1h-2zM351 54h1v1h-1zM330 55h1v1h-1zM331 56h1v1h-1zM341 56h1v1h-1zM327 57h1v1h-1zM333 57h2v1h-2zM342 57h1v1h-1zM349 57h1v1h-1zM323 58h1v1h-1zM334 58h2v1h-2zM345 58h1v1h-1zM352 58h2v1h-2zM355 58h1v1h-1zM333 59h1v1h-1zM343 59h1v1h-1zM321 60h1v1h-1zM324 60h1v1h-1zM344 60h1v1h-1zM350 62h1v1h-1zM343 63h1v1h-1zM348 63h1v1h-1zM343 65h1v1h-1zM340 66h1v1h-1zM350 68h1v1h-1z"/>
<path fill="#a898e0" d="M344 44h1v1h-1zM337 45h1v1h-1zM344 45h1v1h-1zM343 46h1v1h-1zM351 46h1v1h-1zM353 46h1v1h-1zM329 47h1v1h-1zM332 47h1v1h-1zM339 47h1v1h-1zM342 47h1v1h-1zM352 47h1v1h-1zM328 48h1v1h-1zM332 48h1v1h-1zM335 48h1v1h-1zM345 48h2v1h-2zM349 48h1v1h-1zM328 49h1v1h-1zM336 49h2v1h-2zM340 49h1v1h-1zM345 49h1v1h-1zM329 50h1v1h-1zM333 50h1v1h-1zM337 50h1v1h-1zM339 50h1v1h-1zM360 50h1v1h-1zM338 51h1v1h-1zM341 51h1v1h-1zM344 51h1v1h-1zM351 51h1v1h-1zM353 52h1v1h-1zM335 53h1v1h-1zM339 53h1v1h-1zM343 53h1v1h-1zM321 54h1v1h-1zM337 54h1v1h-1zM340 54h1v1h-1zM342 54h1v1h-1zM344 54h2v1h-2zM349 54h1v1h-1zM358 54h1v1h-1zM334 55h1v1h-1zM337 55h1v1h-1zM350 55h1v1h-1zM353 55h1v1h-1zM332 56h1v1h-1zM339 56h1v1h-1zM347 56h3v1h-3zM330 57h1v1h-1zM337 57h1v1h-1zM340 57h2v1h-2zM346 57h1v1h-1zM350 57h1v1h-1zM329 58h1v1h-1zM332 58h1v1h-1zM349 58h1v1h-1zM331 59h1v1h-1zM347 59h1v1h-1zM349 59h1v1h-1zM352 59h1v1h-1zM343 60h1v1h-1zM347 60h1v1h-1zM351 60h1v1h-1zM338 61h1v1h-1zM345 61h2v1h-2zM348 61h1v1h-1zM318 62h1v1h-1zM342 62h1v1h-1zM344 62h1v1h-1zM339 63h1v1h-1zM345 64h1v1h-1zM338 65h1v1h-1zM342 65h1v1h-1zM344 66h1v1h-1zM346 67h1v1h-1zM349 67h1v1h-1z"/>
<path fill="#7068c8" d="M349 44h2v1h-2zM340 45h1v1h-1zM349 45h1v1h-1zM353 45h1v1h-1zM332 46h1v1h-1zM349 46h1v1h-1zM333 47h1v1h-1zM337 47h2v1h-2zM340 47h1v1h-1zM344 47h1v1h-1zM333 48h1v1h-1zM336 48h1v1h-1zM341 48h3v1h-3zM327 49h1v1h-1zM332 49h1v1h-1zM339 49h1v1h-1zM344 49h1v1h-1zM346 49h1v1h-1zM325 50h2v1h-2zM336 50h1v1h-1zM341 50h1v1h-1zM344 50h1v1h-1zM346 50h1v1h-1zM331 51h1v1h-1zM340 51h1v1h-1zM347 51h1v1h-1zM336 52h1v1h-1zM338 52h4v1h-4zM344 52h2v1h-2zM351 52h1v1h-1zM321 53h1v1h-1zM332 53h1v1h-1zM334 53h1v1h-1zM342 53h1v1h-1zM345 53h1v1h-1zM338 54h2v1h-2zM348 54h1v1h-1zM326 55h1v1h-1zM328 55h1v1h-1zM340 55h1v1h-1zM343 55h3v1h-3zM330 56h1v1h-1zM335 56h1v1h-1zM343 56h2v1h-2zM329 57h1v1h-1zM339 57h1v1h-1zM345 57h1v1h-1zM344 58h1v1h-1zM336 59h1v1h-1zM340 59h1v1h-1zM345 59h1v1h-1zM339 61h2v1h-2zM323 62h1v1h-1zM345 62h1v1h-1zM348 62h1v1h-1zM357 62h1v1h-1zM341 63h1v1h-1zM351 64h1v1h-1zM345 65h1v1h-1z"/>
<path fill="#3050c8" d="M343 45h1v1h-1zM352 45h1v1h-1zM355 45h1v1h-1zM357 45h1v1h-1zM333 46h1v1h-1zM339 46h1v1h-1zM344 46h1v1h-1zM357 46h1v1h-1zM347 47h1v1h-1zM349 47h1v1h-1zM356 47h1v1h-1zM358 47h2v1h-2zM352 48h2v1h-2zM355 48h2v1h-2zM358 48h1v1h-1zM361 48h1v1h-1zM324 49h1v1h-1zM326 49h1v1h-1zM349 49h2v1h-2zM357 49h2v1h-2zM327 50h1v1h-1zM349 50h1v1h-1zM353 50h1v1h-1zM359 50h1v1h-1zM321 51h1v1h-1zM326 51h2v1h-2zM332 51h1v1h-1zM345 51h1v1h-1zM350 51h1v1h-1zM353 51h2v1h-2zM357 51h3v1h-3zM319 52h1v1h-1zM325 52h2v1h-2zM354 52h1v1h-1zM356 52h1v1h-1zM331 53h1v1h-1zM333 53h1v1h-1zM344 53h1v1h-1zM352 53h2v1h-2zM355 53h2v1h-2zM315 54h2v1h-2zM319 54h1v1h-1zM325 54h1v1h-1zM329 54h1v1h-1zM334 54h1v1h-1zM347 54h1v1h-1zM350 54h1v1h-1zM356 54h1v1h-1zM360 54h1v1h-1zM318 55h1v1h-1zM321 55h1v1h-1zM341 55h2v1h-2zM352 55h1v1h-1zM360 55h1v1h-1zM316 56h1v1h-1zM322 56h1v1h-1zM326 56h1v1h-1zM342 56h1v1h-1zM345 56h1v1h-1zM355 56h1v1h-1zM315 57h1v1h-1zM323 57h1v1h-1zM328 57h1v1h-1zM331 57h1v1h-1zM343 57h1v1h-1zM356 57h1v1h-1zM337 58h1v1h-1zM341 58h1v1h-1zM347 58h1v1h-1zM356 58h1v1h-1zM315 59h1v1h-1zM334 59h1v1h-1zM350 59h1v1h-1zM356 59h1v1h-1zM361 59h1v1h-1zM316 60h2v1h-2zM320 60h1v1h-1zM322 60h1v1h-1zM331 60h1v1h-1zM338 60h1v1h-1zM346 60h1v1h-1zM354 60h1v1h-1zM356 60h1v1h-1zM358 60h1v1h-1zM362 60h1v1h-1zM325 61h1v1h-1zM327 61h1v1h-1zM341 61h1v1h-1zM347 61h1v1h-1zM353 61h1v1h-1zM322 62h1v1h-1zM327 62h1v1h-1zM329 62h1v1h-1zM335 62h1v1h-1zM337 62h1v1h-1zM352 62h1v1h-1zM321 63h2v1h-2zM327 63h1v1h-1zM335 63h1v1h-1zM350 63h2v1h-2zM354 63h1v1h-1zM357 63h1v1h-1zM316 64h1v1h-1zM319 64h1v1h-1zM322 64h1v1h-1zM324 64h1v1h-1zM326 64h1v1h-1zM328 64h1v1h-1zM331 64h1v1h-1zM341 64h1v1h-1zM357 64h1v1h-1zM314 65h2v1h-2zM317 65h1v1h-1zM336 65h2v1h-2zM349 65h1v1h-1zM352 65h1v1h-1zM316 66h1v1h-1zM329 66h4v1h-4zM336 66h1v1h-1zM342 66h1v1h-1zM347 66h1v1h-1zM350 66h2v1h-2zM358 66h1v1h-1zM314 67h1v1h-1zM318 67h1v1h-1zM324 67h2v1h-2zM330 67h1v1h-1zM332 67h1v1h-1zM337 67h3v1h-3zM351 67h1v1h-1zM353 67h1v1h-1zM316 68h1v1h-1zM318 68h1v1h-1zM333 68h1v1h-1zM339 68h1v1h-1zM342 68h1v1h-1zM351 68h1v1h-1zM354 68h1v1h-1zM357 68h1v1h-1zM324 69h1v1h-1zM326 69h1v1h-1zM328 69h1v1h-1zM333 69h1v1h-1zM351 69h1v1h-1zM354 69h1v1h-1zM315 70h3v1h-3zM321 70h1v1h-1zM326 70h1v1h-1zM328 70h1v1h-1zM335 70h2v1h-2zM346 70h2v1h-2zM351 70h2v1h-2zM358 70h1v1h-1zM317 71h1v1h-1zM329 71h1v1h-1zM339 71h1v1h-1zM347 71h1v1h-1zM352 71h2v1h-2zM355 71h1v1h-1zM358 71h1v1h-1zM361 71h1v1h-1zM327 72h1v1h-1zM330 72h1v1h-1zM335 72h1v1h-1zM357 72h1v1h-1zM359 72h1v1h-1zM361 72h2v1h-2zM325 73h2v1h-2zM329 73h1v1h-1zM350 73h1v1h-1zM356 73h1v1h-1zM328 74h1v1h-1zM350 74h1v1h-1zM354 74h1v1h-1zM356 74h1v1h-1zM359 75h1v1h-1zM351 77h1v1h-1zM354 77h3v1h-3zM351 78h2v1h-2zM354 78h1v1h-1zM357 78h1v1h-1zM360 78h1v1h-1zM359 79h2v1h-2zM352 81h1v1h-1zM355 81h1v1h-1zM358 81h2v1h-2zM354 82h3v1h-3zM360 82h1v1h-1zM353 83h1v1h-1zM352 84h4v1h-4zM357 85h1v1h-1zM361 85h1v1h-1z"/>
<path fill="#2858c8" d="M341 71h1v1h-1zM343 71h1v1h-1zM323 73h1v1h-1zM327 74h1v1h-1zM329 75h1v1h-1z"/>
<path fill="#2858d0" d="M342 71h1v1h-1zM344 71h1v1h-1zM334 74h1v1h-1zM333 75h1v1h-1zM329 76h2v1h-2zM350 82h1v1h-1zM349 85h1v1h-1z"/>
<path fill="#2850c8" d="M345 71h1v1h-1zM337 72h1v1h-1zM348 72h1v1h-1zM349 73h1v1h-1zM332 75h1v1h-1z"/>
<path fill="#2870d8" d="M338 72h1v1h-1zM320 73h1v1h-1zM348 73h1v1h-1zM335 74h1v1h-1zM349 74h1v1h-1zM326 75h1v1h-1zM334 75h1v1h-1zM327 76h1v1h-1zM333 76h1v1h-1zM332 77h1v1h-1zM327 78h4v1h-4zM327 79h2v1h-2zM330 79h1v1h-1zM327 80h5v1h-5zM350 80h1v1h-1zM331 81h2v1h-2zM327 82h1v1h-1zM332 82h1v1h-1zM327 83h3v1h-3zM332 83h1v1h-1zM325 84h2v1h-2zM329 84h1v1h-1zM334 84h1v1h-1zM348 85h1v1h-1z"/>
<path fill="#2878d8" d="M339 72h1v1h-1zM346 72h1v1h-1zM314 73h1v1h-1zM319 73h1v1h-1zM323 74h1v1h-1zM325 75h1v1h-1zM326 76h1v1h-1zM327 77h1v1h-1zM333 77h1v1h-1zM326 78h1v1h-1zM333 78h1v1h-1zM326 79h1v1h-1zM329 79h1v1h-1zM333 79h1v1h-1zM342 79h1v1h-1zM333 80h1v1h-1zM327 81h1v1h-1zM333 81h1v1h-1zM333 82h1v1h-1zM326 83h1v1h-1zM333 83h2v1h-2zM324 85h1v1h-1zM334 85h1v1h-1z"/>
<path fill="#2888e0" d="M340 72h1v1h-1zM345 72h1v1h-1zM315 73h1v1h-1zM317 73h1v1h-1zM334 76h1v1h-1zM325 77h1v1h-1zM350 77h1v1h-1zM325 78h1v1h-1zM341 78h1v1h-1zM343 78h1v1h-1zM350 78h1v1h-1zM343 79h1v1h-1zM326 81h1v1h-1zM326 82h1v1h-1zM324 83h1v1h-1zM335 83h1v1h-1zM348 84h1v1h-1zM323 85h1v1h-1zM336 85h2v1h-2zM347 85h1v1h-1z"/>
<path fill="#2898e0" d="M341 72h1v1h-1zM343 72h2v1h-2zM347 73h1v1h-1zM322 75h1v1h-1zM335 75h1v1h-1zM323 76h1v1h-1zM342 77h1v1h-1zM324 78h1v1h-1zM334 78h1v1h-1zM324 79h1v1h-1zM325 80h1v1h-1zM334 80h1v1h-1zM325 81h1v1h-1zM324 82h1v1h-1zM335 82h1v1h-1zM349 82h1v1h-1zM323 83h1v1h-1zM322 84h1v1h-1z"/>
<path fill="#28a0e0" d="M342 72h1v1h-1zM319 74h2v1h-2zM336 74h1v1h-1zM321 75h1v1h-1zM322 76h1v1h-1zM323 77h1v1h-1zM323 78h1v1h-1zM340 78h1v1h-1zM323 79h1v1h-1zM334 79h1v1h-1zM340 79h1v1h-1zM323 80h2v1h-2zM341 80h2v1h-2zM324 81h1v1h-1zM323 82h1v1h-1zM322 83h1v1h-1zM336 83h1v1h-1zM348 83h1v1h-1zM321 84h1v1h-1zM337 84h1v1h-1zM347 84h1v1h-1zM321 85h1v1h-1zM345 85h1v1h-1z"/>
<path fill="#2860d0" d="M347 72h1v1h-1zM322 73h1v1h-1zM326 74h1v1h-1zM328 75h1v1h-1zM350 75h1v1h-1zM331 76h1v1h-1zM329 77h2v1h-2zM329 81h2v1h-2zM350 81h1v1h-1zM329 82h3v1h-3zM330 83h2v1h-2zM331 84h2v1h-2zM328 85h5v1h-5z"/>
<path fill="#2890e0" d="M316 73h1v1h-1zM337 73h1v1h-1zM321 74h1v1h-1zM348 74h1v1h-1zM323 75h1v1h-1zM349 75h1v1h-1zM324 76h1v1h-1zM324 77h1v1h-1zM334 77h1v1h-1zM325 79h1v1h-1zM334 81h1v1h-1zM325 82h1v1h-1zM323 84h1v1h-1zM336 84h1v1h-1zM322 85h1v1h-1zM338 85h1v1h-1zM346 85h1v1h-1z"/>
<path fill="#2880d8" d="M318 73h1v1h-1zM322 74h1v1h-1zM324 75h1v1h-1zM325 76h1v1h-1zM350 76h1v1h-1zM326 77h1v1h-1zM342 78h1v1h-1zM341 79h1v1h-1zM350 79h1v1h-1zM326 80h1v1h-1zM334 82h1v1h-1zM325 83h1v1h-1zM349 83h1v1h-1zM324 84h1v1h-1zM335 84h1v1h-1zM335 85h1v1h-1z"/>
<path fill="#2868d0" d="M321 73h1v1h-1zM336 73h1v1h-1zM324 74h2v1h-2zM327 75h1v1h-1zM328 76h1v1h-1zM332 76h1v1h-1zM328 77h1v1h-1zM331 77h1v1h-1zM331 78h2v1h-2zM331 79h2v1h-2zM332 80h1v1h-1zM328 81h1v1h-1zM328 82h1v1h-1zM327 84h2v1h-2zM330 84h1v1h-1zM333 84h1v1h-1zM349 84h1v1h-1zM325 85h3v1h-3zM333 85h1v1h-1z"/>
<path fill="#30a8e0" d="M338 73h1v1h-1zM314 74h1v1h-1zM318 74h1v1h-1zM335 76h1v1h-1zM349 76h1v1h-1zM322 77h1v1h-1zM341 77h1v1h-1zM343 77h1v1h-1zM344 78h1v1h-1zM344 79h1v1h-1zM343 80h1v1h-1zM323 81h1v1h-1zM320 85h1v1h-1zM339 85h1v1h-1zM342 85h3v1h-3z"/>
<path fill="#30b8d8" d="M339 73h1v1h-1zM347 74h1v1h-1zM319 75h1v1h-1zM321 77h1v1h-1zM349 77h1v1h-1zM335 78h1v1h-1zM349 79h1v1h-1zM336 82h1v1h-1zM337 83h1v1h-1zM320 84h1v1h-1z"/>
<path fill="#38b8c0" d="M340 73h1v1h-1zM314 75h1v1h-1zM342 76h1v1h-1zM339 78h1v1h-1zM339 79h1v1h-1zM321 80h1v1h-1zM321 81h1v1h-1z"/>
<path fill="#40c0a8" d="M341 73h1v1h-1zM338 74h1v1h-1zM341 76h1v1h-1zM348 76h1v1h-1zM320 78h1v1h-1zM320 81h1v1h-1zM336 81h1v1h-1zM341 81h1v1h-1zM343 81h1v1h-1zM338 83h1v1h-1zM346 83h1v1h-1zM315 85h1v1h-1z"/>
<path fill="#40c090" d="M342 73h1v1h-1z"/>
<path fill="#40c0a0" d="M343 73h1v1h-1zM319 77h1v1h-1zM339 80h1v1h-1zM319 83h1v1h-1zM318 84h1v1h-1zM342 84h3v1h-3zM314 85h1v1h-1z"/>
<path fill="#38c0b8" d="M344 73h1v1h-1zM317 75h1v1h-1zM320 77h1v1h-1zM345 79h1v1h-1zM319 84h1v1h-1z"/>
<path fill="#38b8d0" d="M345 73h1v1h-1zM337 74h1v1h-1zM336 75h1v1h-1zM320 76h1v1h-1zM349 78h1v1h-1zM335 80h1v1h-1zM344 80h1v1h-1zM321 82h1v1h-1zM347 83h1v1h-1zM318 85h1v1h-1z"/>
<path fill="#30b0e0" d="M346 73h1v1h-1zM315 74h1v1h-1zM317 74h1v1h-1zM320 75h1v1h-1zM321 76h1v1h-1zM335 77h1v1h-1zM322 78h1v1h-1zM322 79h1v1h-1zM322 80h1v1h-1zM322 81h1v1h-1zM335 81h1v1h-1zM349 81h1v1h-1zM322 82h1v1h-1zM321 83h1v1h-1zM338 84h1v1h-1zM340 85h2v1h-2z"/>
<path fill="#30b8e0" d="M316 74h1v1h-1zM348 75h1v1h-1zM340 80h1v1h-1zM349 80h1v1h-1zM346 84h1v1h-1zM319 85h1v1h-1z"/>
<path fill="#48c080" d="M339 74h1v1h-1zM316 76h1v1h-1zM319 78h1v1h-1zM348 78h1v1h-1zM348 79h1v1h-1z"/>
<path fill="#50c060" d="M340 74h1v1h-1zM342 75h1v1h-1zM346 75h1v1h-1zM337 76h1v1h-1zM345 76h1v1h-1zM346 78h1v1h-1zM345 81h1v1h-1zM347 81h1v1h-1zM338 82h1v1h-1zM343 82h1v1h-1zM340 83h1v1h-1zM343 83h1v1h-1z"/>
<path fill="#58c050" d="M341 74h1v1h-1zM341 75h1v1h-1zM344 75h1v1h-1zM338 76h1v1h-1zM316 77h1v1h-1zM337 77h1v1h-1zM347 78h1v1h-1zM338 80h1v1h-1zM347 80h1v1h-1zM346 81h1v1h-1zM318 82h1v1h-1zM340 82h2v1h-2zM345 82h1v1h-1zM341 83h2v1h-2z"/>
<path fill="#60c050" d="M342 74h2v1h-2zM340 75h1v1h-1zM345 75h1v1h-1zM337 78h1v1h-1zM337 80h1v1h-1zM338 81h1v1h-1zM339 82h1v1h-1zM317 83h1v1h-1z"/>
<path fill="#58c058" d="M344 74h1v1h-1zM339 75h1v1h-1zM343 75h1v1h-1zM339 76h1v1h-1zM347 76h1v1h-1zM338 77h1v1h-1zM318 78h1v1h-1zM347 79h1v1h-1zM342 82h1v1h-1zM344 82h1v1h-1zM314 84h2v1h-2z"/>
<path fill="#50c070" d="M345 74h1v1h-1zM338 75h1v1h-1zM338 78h1v1h-1zM338 79h1v1h-1zM346 79h1v1h-1zM319 80h1v1h-1zM318 83h1v1h-1z"/>
<path fill="#40c098" d="M346 74h1v1h-1zM347 75h1v1h-1zM317 76h1v1h-1zM336 77h1v1h-1zM320 79h1v1h-1zM320 80h1v1h-1zM340 81h1v1h-1zM348 81h1v1h-1zM337 82h1v1h-1zM341 84h1v1h-1z"/>
<path fill="#38c0b0" d="M315 75h1v1h-1zM318 76h1v1h-1zM343 76h1v1h-1zM345 78h1v1h-1zM320 82h1v1h-1zM316 85h1v1h-1z"/>
<path fill="#40c0b0" d="M316 75h1v1h-1zM336 76h1v1h-1zM342 81h1v1h-1zM340 84h1v1h-1z"/>
<path fill="#38b8c8" d="M318 75h1v1h-1zM340 77h1v1h-1zM321 79h1v1h-1zM335 79h1v1h-1zM348 82h1v1h-1zM320 83h1v1h-1zM339 84h1v1h-1zM345 84h1v1h-1z"/>
<path fill="#48c090" d="M337 75h1v1h-1zM344 76h1v1h-1zM339 77h1v1h-1zM348 77h1v1h-1zM345 80h1v1h-1zM344 81h1v1h-1zM319 82h1v1h-1zM347 82h1v1h-1z"/>
<path fill="#48c088" d="M314 76h1v1h-1zM318 77h1v1h-1zM345 77h1v1h-1zM336 78h1v1h-1zM348 80h1v1h-1zM319 81h1v1h-1zM345 83h1v1h-1zM317 84h1v1h-1z"/>
<path fill="#48c078" d="M315 76h1v1h-1zM340 76h1v1h-1zM336 80h1v1h-1z"/>
<path fill="#38c0c0" d="M319 76h1v1h-1zM317 85h1v1h-1z"/>
<path fill="#68c050" d="M346 76h1v1h-1zM346 77h2v1h-2zM337 79h1v1h-1zM318 81h1v1h-1z"/>
<path fill="#70c848" d="M314 77h1v1h-1zM318 80h1v1h-1z"/>
<path fill="#68c848" d="M315 77h1v1h-1z"/>
<path fill="#50c068" d="M317 77h1v1h-1zM319 79h1v1h-1zM337 81h1v1h-1zM339 81h1v1h-1zM346 82h1v1h-1zM344 83h1v1h-1zM316 84h1v1h-1z"/>
<path fill="#30b8d0" d="M344 77h1v1h-1zM321 78h1v1h-1z"/>
<path fill="#b0d040" d="M314 78h2v1h-2zM317 79h1v1h-1z"/>
<path fill="#a0d040" d="M316 78h1v1h-1zM317 81h1v1h-1zM315 83h1v1h-1z"/>
<path fill="#78c848" d="M317 78h1v1h-1zM318 79h1v1h-1z"/>
<path fill="#f0e030" d="M314 79h2v1h-2zM316 80h1v1h-1z"/>
<path fill="#e0e030" d="M316 79h1v1h-1zM316 81h1v1h-1z"/>
<path fill="#50c078" d="M336 79h1v1h-1zM339 83h1v1h-1z"/>
<path fill="#f0c828" d="M314 80h2v1h-2zM315 81h1v1h-1z"/>
<path fill="#b8d838" d="M317 80h1v1h-1z"/>
<path fill="#58c060" d="M346 80h1v1h-1z"/>
<path fill="#f0c028" d="M314 81h1v1h-1z"/>
<path fill="#e8e030" d="M314 82h2v1h-2z"/>
<path fill="#c0d838" d="M316 82h1v1h-1z"/>
<path fill="#80c848" d="M317 82h1v1h-1z"/>
<path fill="#98d040" d="M314 83h1v1h-1z"/>
<path fill="#88c848" d="M316 83h1v1h-1z"/></g>
<g stroke="#b0a0d8" stroke-width="0.4" fill="none" opacity="0.6"><path d="M330,48 L340,40 L350,46 L352,58 L342,64 L332,58 Z M336,44 L348,62 M334,56 L350,50"/></g>
<rect x="313.5" y="26.6" width="59.8" height="59.6" fill="none" stroke="#999" stroke-width="0.6"/>
<line x1="340.3" y1="50" x2="340.3" y2="86.2" stroke="#222" stroke-width="0.7"/>
<text x="310.1" y="28.2" font-size="3.7" text-anchor="end" fill="#777">10</text>
<text x="310.2" y="26.7" font-size="2.3" text-anchor="start" fill="#777">4</text>
<text x="310.1" y="42.2" font-size="3.7" text-anchor="end" fill="#777">10</text>
<text x="310.2" y="40.7" font-size="2.3" text-anchor="start" fill="#777">3</text>
<text x="310.1" y="57.2" font-size="3.7" text-anchor="end" fill="#777">10</text>
<text x="310.2" y="55.7" font-size="2.3" text-anchor="start" fill="#777">2</text>
<text x="310.1" y="72.2" font-size="3.7" text-anchor="end" fill="#777">10</text>
<text x="310.2" y="70.7" font-size="2.3" text-anchor="start" fill="#777">1</text>
<text x="310.1" y="87.2" font-size="3.7" text-anchor="end" fill="#777">10</text>
<text x="310.2" y="85.7" font-size="2.3" text-anchor="start" fill="#777">0</text>
<text x="312.9" y="91" font-size="3.7" text-anchor="middle" fill="#777">10</text>
<text x="314.9" y="89.5" font-size="2.3" text-anchor="start" fill="#777">0</text>
<text x="327.9" y="91" font-size="3.7" text-anchor="middle" fill="#777">10</text>
<text x="329.9" y="89.5" font-size="2.3" text-anchor="start" fill="#777">1</text>
<text x="342.9" y="91" font-size="3.7" text-anchor="middle" fill="#777">10</text>
<text x="344.9" y="89.5" font-size="2.3" text-anchor="start" fill="#777">2</text>
<text x="357.9" y="91" font-size="3.7" text-anchor="middle" fill="#777">10</text>
<text x="359.9" y="89.5" font-size="2.3" text-anchor="start" fill="#777">3</text>
<text x="372.7" y="91" font-size="3.7" text-anchor="middle" fill="#777">10</text>
<text x="374.7" y="89.5" font-size="2.3" text-anchor="start" fill="#777">4</text>
<text x="336.48" y="24.00" font-size="5.94" font-weight="bold" fill="#000" textLength="15.46" lengthAdjust="spacingAndGlyphs">Day4</text>
<text x="334.76" y="35.60" font-size="5.29" font-weight="bold" fill="#000" textLength="11.66" lengthAdjust="spacingAndGlyphs">0.36</text>
<text x="361.70" y="32.80" font-size="5.00" font-weight="bold" fill="#000" textLength="10.93" lengthAdjust="spacingAndGlyphs">2.52</text>
<text x="314.80" y="49.00" font-size="5.14" font-weight="bold" fill="#000" textLength="9.73" lengthAdjust="spacingAndGlyphs">0.71</text>
<line x1="219.6" y1="99.3" x2="219.6" y2="72" stroke="#222" stroke-width="0.7"/>
<path d="M219.60,72.00 L220.80,74.50 L219.60,73.90 L218.40,74.50 Z" fill="#222"/>
<line x1="219.6" y1="99.3" x2="245.5" y2="99.3" stroke="#222" stroke-width="0.7"/>
<path d="M245.50,99.30 L243.00,100.50 L243.60,99.30 L243.00,98.10 Z" fill="#222"/>
<text x="217.40" y="96.06" font-size="6.86" font-weight="bold" fill="#000" textLength="19.87" lengthAdjust="spacingAndGlyphs" transform="rotate(-90 217.40 96.06)">CD11c</text>
<text x="221.58" y="104.80" font-size="5.71" font-weight="bold" fill="#000" textLength="19.94" lengthAdjust="spacingAndGlyphs">MHC II</text>
<line x1="263.4" y1="86.2" x2="263.4" y2="115" stroke="#222" stroke-width="0.7"/>
<path d="M263.40,115.00 L261.90,112.00 L263.40,112.60 L264.90,112.00 Z" fill="#222"/>
<line x1="340.3" y1="86.2" x2="340.6" y2="115" stroke="#222" stroke-width="0.7"/>
<path d="M340.60,115.00 L339.07,112.02 L340.58,112.60 L342.07,111.98 Z" fill="#222"/>
<clipPath id="clS1"><rect x="235.2" y="122.8" width="59.69999999999999" height="60.000000000000014"/></clipPath>
<g clip-path="url(#clS1)">
<g filter="url(#bd)"><path fill="#5f8f98" d="M250.0 150.2h.8v.8h-.8zM248.5 159.7h.8v.8h-.8zM250.6 156.4h.8v.8h-.8zM247.5 163.3h.8v.8h-.8zM239.5 164.1h.8v.8h-.8zM248.7 161.9h.8v.8h-.8zM251.5 164.7h.8v.8h-.8zM236.2 165.4h.8v.8h-.8zM244.6 159.8h.8v.8h-.8zM245.6 168.8h.8v.8h-.8zM245.6 158.9h.8v.8h-.8zM249.4 150.9h.8v.8h-.8zM250.6 154.5h.8v.8h-.8zM243.3 156.0h.8v.8h-.8zM261.0 158.6h.8v.8h-.8zM243.4 154.5h.8v.8h-.8zM250.4 154.9h.8v.8h-.8zM253.8 164.1h.8v.8h-.8zM246.3 157.9h.8v.8h-.8zM243.5 167.3h.8v.8h-.8zM253.6 154.1h.8v.8h-.8zM248.0 155.4h.8v.8h-.8zM249.3 154.7h.8v.8h-.8zM249.9 166.8h.8v.8h-.8zM247.6 159.8h.8v.8h-.8zM249.0 163.4h.8v.8h-.8zM249.6 162.6h.8v.8h-.8zM244.2 158.0h.8v.8h-.8zM243.8 161.5h.8v.8h-.8zM240.4 149.2h.8v.8h-.8zM250.7 160.5h.8v.8h-.8zM247.0 156.3h.8v.8h-.8zM249.7 149.9h.8v.8h-.8zM255.3 155.9h.8v.8h-.8zM242.0 153.3h.8v.8h-.8zM246.5 165.5h.8v.8h-.8zM249.9 169.3h.8v.8h-.8zM247.0 168.9h.8v.8h-.8zM243.9 156.0h.8v.8h-.8zM247.2 163.6h.8v.8h-.8zM253.5 156.0h.8v.8h-.8zM249.2 154.5h.8v.8h-.8zM253.7 151.0h.8v.8h-.8zM242.4 161.9h.8v.8h-.8zM255.3 158.8h.8v.8h-.8zM254.6 152.7h.8v.8h-.8zM255.1 162.6h.8v.8h-.8zM247.5 156.1h.8v.8h-.8zM252.7 162.1h.8v.8h-.8zM243.7 167.4h.8v.8h-.8zM240.7 162.5h.8v.8h-.8zM254.5 162.4h.8v.8h-.8zM249.7 163.3h.8v.8h-.8zM251.1 157.2h.8v.8h-.8zM254.9 154.1h.8v.8h-.8zM254.1 157.5h.8v.8h-.8zM249.5 160.9h.8v.8h-.8zM256.4 157.2h.8v.8h-.8zM249.9 164.8h.8v.8h-.8zM239.2 154.7h.8v.8h-.8zM250.9 157.1h.8v.8h-.8zM250.3 165.6h.8v.8h-.8zM253.0 164.6h.8v.8h-.8zM246.2 167.3h.8v.8h-.8zM256.0 157.1h.8v.8h-.8zM242.7 160.7h.8v.8h-.8zM259.5 167.9h.8v.8h-.8zM258.0 161.9h.8v.8h-.8zM250.0 157.4h.8v.8h-.8zM248.9 161.1h.8v.8h-.8zM253.1 173.9h.8v.8h-.8zM246.8 158.7h.8v.8h-.8zM258.8 160.7h.8v.8h-.8zM250.4 169.3h.8v.8h-.8zM250.6 164.4h.8v.8h-.8zM241.2 160.2h.8v.8h-.8zM253.2 164.2h.8v.8h-.8zM252.5 167.1h.8v.8h-.8zM261.1 151.7h.8v.8h-.8zM243.9 152.2h.8v.8h-.8zM257.0 157.8h.8v.8h-.8zM253.0 164.3h.8v.8h-.8zM246.7 159.8h.8v.8h-.8zM242.6 156.8h.8v.8h-.8zM245.3 157.4h.8v.8h-.8zM251.6 161.3h.8v.8h-.8zM248.9 165.3h.8v.8h-.8zM248.4 173.6h.8v.8h-.8zM249.8 155.0h.8v.8h-.8zM260.3 170.2h.8v.8h-.8zM252.1 164.7h.8v.8h-.8zM254.7 162.7h.8v.8h-.8zM246.3 163.8h.8v.8h-.8zM247.4 160.1h.8v.8h-.8zM247.9 166.4h.8v.8h-.8zM244.9 165.8h.8v.8h-.8zM254.4 156.0h.8v.8h-.8zM257.4 160.4h.8v.8h-.8zM253.3 160.3h.8v.8h-.8zM247.9 149.1h.8v.8h-.8zM264.0 162.2h.8v.8h-.8zM245.4 159.6h.8v.8h-.8zM242.9 161.2h.8v.8h-.8zM254.7 170.4h.8v.8h-.8zM252.1 157.9h.8v.8h-.8zM248.7 155.2h.8v.8h-.8zM255.3 166.0h.8v.8h-.8zM249.8 155.9h.8v.8h-.8zM253.6 165.2h.8v.8h-.8zM241.6 146.6h.8v.8h-.8zM246.0 153.1h.8v.8h-.8zM252.4 155.5h.8v.8h-.8zM260.2 168.8h.8v.8h-.8zM251.3 153.4h.8v.8h-.8zM241.4 166.8h.8v.8h-.8zM242.7 160.0h.8v.8h-.8zM257.7 164.8h.8v.8h-.8zM252.9 155.9h.8v.8h-.8zM245.2 158.7h.8v.8h-.8zM247.8 164.5h.8v.8h-.8zM249.5 157.4h.8v.8h-.8zM257.1 166.3h.8v.8h-.8zM249.6 160.4h.8v.8h-.8zM246.7 159.2h.8v.8h-.8zM245.9 158.2h.8v.8h-.8zM244.3 153.5h.8v.8h-.8zM249.4 160.2h.8v.8h-.8zM251.3 155.3h.8v.8h-.8zM242.5 155.6h.8v.8h-.8zM250.5 155.4h.8v.8h-.8zM249.1 161.9h.8v.8h-.8zM247.9 166.3h.8v.8h-.8zM247.0 160.8h.8v.8h-.8zM252.1 159.0h.8v.8h-.8zM246.4 162.6h.8v.8h-.8zM248.6 166.3h.8v.8h-.8zM241.4 160.2h.8v.8h-.8zM236.1 158.5h.8v.8h-.8zM252.1 149.1h.8v.8h-.8zM242.9 169.7h.8v.8h-.8zM257.0 158.0h.8v.8h-.8zM254.0 165.5h.8v.8h-.8zM255.9 166.8h.8v.8h-.8zM252.2 168.3h.8v.8h-.8zM248.3 159.1h.8v.8h-.8z"/>
<path fill="#7ea6b0" d="M251.6 163.5h.8v.8h-.8zM245.1 161.9h.8v.8h-.8zM247.0 171.7h.8v.8h-.8zM250.6 159.7h.8v.8h-.8zM241.6 161.2h.8v.8h-.8zM247.4 168.1h.8v.8h-.8zM249.8 158.8h.8v.8h-.8zM250.4 162.0h.8v.8h-.8zM250.4 150.9h.8v.8h-.8zM241.5 163.0h.8v.8h-.8zM250.7 157.1h.8v.8h-.8zM246.5 166.2h.8v.8h-.8zM254.2 166.6h.8v.8h-.8zM253.7 154.5h.8v.8h-.8zM257.9 160.4h.8v.8h-.8zM246.8 173.4h.8v.8h-.8zM256.3 161.3h.8v.8h-.8zM242.7 169.2h.8v.8h-.8zM245.6 159.3h.8v.8h-.8zM249.5 155.0h.8v.8h-.8zM258.4 161.3h.8v.8h-.8zM253.7 164.2h.8v.8h-.8zM248.1 150.4h.8v.8h-.8zM255.8 153.8h.8v.8h-.8zM251.9 159.3h.8v.8h-.8zM240.7 164.3h.8v.8h-.8zM248.3 158.6h.8v.8h-.8zM245.1 157.8h.8v.8h-.8zM245.4 164.0h.8v.8h-.8zM255.3 155.6h.8v.8h-.8zM254.7 160.1h.8v.8h-.8zM241.5 148.0h.8v.8h-.8zM256.9 162.1h.8v.8h-.8zM249.6 161.8h.8v.8h-.8zM248.5 159.3h.8v.8h-.8zM243.0 171.9h.8v.8h-.8zM250.1 168.7h.8v.8h-.8zM246.9 158.3h.8v.8h-.8zM248.4 159.5h.8v.8h-.8zM246.3 159.6h.8v.8h-.8zM251.9 163.2h.8v.8h-.8zM257.7 164.2h.8v.8h-.8zM248.9 158.8h.8v.8h-.8zM252.5 156.9h.8v.8h-.8zM243.3 156.8h.8v.8h-.8zM257.3 164.0h.8v.8h-.8zM249.8 150.6h.8v.8h-.8zM247.2 158.2h.8v.8h-.8zM248.3 163.2h.8v.8h-.8zM246.9 162.2h.8v.8h-.8zM249.2 150.8h.8v.8h-.8zM258.3 148.1h.8v.8h-.8zM243.1 164.2h.8v.8h-.8zM254.7 159.3h.8v.8h-.8zM260.3 163.8h.8v.8h-.8zM241.0 158.4h.8v.8h-.8zM238.4 161.2h.8v.8h-.8zM244.7 155.7h.8v.8h-.8zM241.0 160.6h.8v.8h-.8zM252.8 156.2h.8v.8h-.8zM252.2 155.7h.8v.8h-.8zM246.4 165.9h.8v.8h-.8zM245.7 155.0h.8v.8h-.8zM261.1 157.1h.8v.8h-.8zM242.3 159.8h.8v.8h-.8zM242.0 147.4h.8v.8h-.8zM247.5 151.3h.8v.8h-.8zM257.3 153.0h.8v.8h-.8zM244.8 161.3h.8v.8h-.8zM250.2 159.1h.8v.8h-.8zM254.4 174.9h.8v.8h-.8zM251.4 164.6h.8v.8h-.8zM251.8 164.5h.8v.8h-.8zM246.9 158.3h.8v.8h-.8zM251.2 164.0h.8v.8h-.8zM252.8 160.6h.8v.8h-.8zM243.9 166.3h.8v.8h-.8zM247.8 161.1h.8v.8h-.8zM248.8 161.7h.8v.8h-.8zM248.7 162.9h.8v.8h-.8zM245.8 165.4h.8v.8h-.8zM248.6 167.2h.8v.8h-.8zM255.9 167.2h.8v.8h-.8zM251.4 162.4h.8v.8h-.8zM258.1 160.4h.8v.8h-.8zM255.3 160.2h.8v.8h-.8zM247.2 166.7h.8v.8h-.8zM251.6 163.5h.8v.8h-.8zM249.5 158.1h.8v.8h-.8zM239.3 164.4h.8v.8h-.8zM242.3 159.6h.8v.8h-.8zM248.0 146.4h.8v.8h-.8zM253.5 153.8h.8v.8h-.8zM251.2 158.6h.8v.8h-.8zM245.7 154.7h.8v.8h-.8zM249.7 154.5h.8v.8h-.8zM243.7 150.6h.8v.8h-.8zM250.6 159.8h.8v.8h-.8zM256.1 166.1h.8v.8h-.8zM255.8 159.1h.8v.8h-.8zM251.0 162.2h.8v.8h-.8zM247.9 157.5h.8v.8h-.8zM255.7 172.1h.8v.8h-.8zM252.6 157.7h.8v.8h-.8zM239.6 162.6h.8v.8h-.8zM246.4 158.7h.8v.8h-.8zM240.8 151.4h.8v.8h-.8zM247.9 149.5h.8v.8h-.8zM255.4 153.6h.8v.8h-.8zM255.9 154.2h.8v.8h-.8zM244.3 153.7h.8v.8h-.8zM249.7 161.8h.8v.8h-.8zM247.1 158.1h.8v.8h-.8zM253.3 174.6h.8v.8h-.8zM249.7 166.9h.8v.8h-.8zM244.1 157.8h.8v.8h-.8zM245.9 156.2h.8v.8h-.8zM243.8 162.9h.8v.8h-.8zM252.1 171.2h.8v.8h-.8zM253.2 165.2h.8v.8h-.8zM243.3 159.3h.8v.8h-.8zM248.2 145.6h.8v.8h-.8zM244.3 158.7h.8v.8h-.8zM254.1 155.7h.8v.8h-.8zM254.5 160.8h.8v.8h-.8zM244.1 172.2h.8v.8h-.8zM255.7 173.9h.8v.8h-.8zM244.6 164.7h.8v.8h-.8zM247.8 156.8h.8v.8h-.8zM249.8 157.6h.8v.8h-.8zM243.8 159.7h.8v.8h-.8zM253.3 168.0h.8v.8h-.8zM246.0 155.9h.8v.8h-.8zM244.8 161.0h.8v.8h-.8zM248.7 155.7h.8v.8h-.8zM250.0 146.4h.8v.8h-.8zM248.4 163.9h.8v.8h-.8zM248.5 167.8h.8v.8h-.8zM249.2 160.3h.8v.8h-.8zM247.6 154.3h.8v.8h-.8zM253.0 159.6h.8v.8h-.8zM240.8 160.6h.8v.8h-.8zM251.3 154.9h.8v.8h-.8zM255.2 163.0h.8v.8h-.8zM259.6 155.2h.8v.8h-.8zM252.3 154.9h.8v.8h-.8zM252.0 159.0h.8v.8h-.8z"/>
<path fill="#8aa4b8" d="M247.5 149.8h.8v.8h-.8zM244.5 157.8h.8v.8h-.8zM250.3 156.4h.8v.8h-.8zM246.6 158.0h.8v.8h-.8zM252.7 165.4h.8v.8h-.8zM252.0 162.3h.8v.8h-.8zM249.8 164.5h.8v.8h-.8zM242.6 159.3h.8v.8h-.8zM242.9 170.2h.8v.8h-.8zM250.9 156.8h.8v.8h-.8zM249.0 159.8h.8v.8h-.8zM255.8 154.2h.8v.8h-.8zM257.5 166.2h.8v.8h-.8zM254.7 163.0h.8v.8h-.8zM253.2 161.2h.8v.8h-.8zM249.0 155.8h.8v.8h-.8zM249.6 161.6h.8v.8h-.8zM251.1 165.5h.8v.8h-.8zM247.5 156.2h.8v.8h-.8zM250.7 157.4h.8v.8h-.8zM239.0 160.7h.8v.8h-.8zM256.9 150.1h.8v.8h-.8zM248.2 164.0h.8v.8h-.8zM247.6 163.7h.8v.8h-.8zM248.3 158.0h.8v.8h-.8zM243.9 153.9h.8v.8h-.8zM253.2 175.2h.8v.8h-.8zM251.1 171.5h.8v.8h-.8zM253.9 147.8h.8v.8h-.8zM250.2 164.1h.8v.8h-.8zM250.5 156.4h.8v.8h-.8zM246.7 158.0h.8v.8h-.8zM239.0 167.3h.8v.8h-.8zM238.3 171.9h.8v.8h-.8zM254.2 154.6h.8v.8h-.8zM245.3 152.8h.8v.8h-.8zM249.1 158.1h.8v.8h-.8zM244.6 159.6h.8v.8h-.8zM256.0 156.8h.8v.8h-.8zM245.6 159.8h.8v.8h-.8zM246.6 171.1h.8v.8h-.8zM249.2 164.2h.8v.8h-.8zM248.2 159.6h.8v.8h-.8zM247.9 157.4h.8v.8h-.8zM240.3 161.6h.8v.8h-.8zM254.0 160.7h.8v.8h-.8zM250.4 155.9h.8v.8h-.8zM247.6 164.5h.8v.8h-.8zM252.1 156.1h.8v.8h-.8zM254.8 160.6h.8v.8h-.8zM258.2 160.2h.8v.8h-.8zM244.4 162.5h.8v.8h-.8zM244.5 175.4h.8v.8h-.8zM248.4 149.4h.8v.8h-.8zM247.1 156.5h.8v.8h-.8zM250.3 155.2h.8v.8h-.8zM243.6 168.7h.8v.8h-.8zM244.3 159.5h.8v.8h-.8zM254.2 153.4h.8v.8h-.8zM250.5 160.9h.8v.8h-.8zM249.0 159.3h.8v.8h-.8zM256.5 162.8h.8v.8h-.8zM253.7 154.2h.8v.8h-.8zM248.6 153.6h.8v.8h-.8zM250.3 153.6h.8v.8h-.8zM249.7 172.1h.8v.8h-.8zM246.5 164.4h.8v.8h-.8zM248.1 152.1h.8v.8h-.8zM249.6 159.7h.8v.8h-.8zM254.8 168.5h.8v.8h-.8zM248.8 156.0h.8v.8h-.8zM254.9 147.2h.8v.8h-.8zM258.4 160.9h.8v.8h-.8zM248.3 160.4h.8v.8h-.8zM244.5 158.9h.8v.8h-.8zM251.8 167.6h.8v.8h-.8zM243.1 159.4h.8v.8h-.8zM244.8 156.6h.8v.8h-.8zM251.1 164.9h.8v.8h-.8zM252.8 171.1h.8v.8h-.8zM253.3 148.3h.8v.8h-.8zM250.3 154.2h.8v.8h-.8zM240.7 164.0h.8v.8h-.8zM253.9 163.9h.8v.8h-.8zM249.2 159.5h.8v.8h-.8zM240.6 166.2h.8v.8h-.8zM243.6 162.2h.8v.8h-.8zM249.3 163.4h.8v.8h-.8zM242.1 159.0h.8v.8h-.8zM248.9 154.6h.8v.8h-.8zM240.5 162.8h.8v.8h-.8zM251.2 162.2h.8v.8h-.8zM248.4 158.6h.8v.8h-.8zM243.8 146.7h.8v.8h-.8zM249.0 155.6h.8v.8h-.8zM258.7 155.7h.8v.8h-.8zM250.9 161.6h.8v.8h-.8zM243.1 147.7h.8v.8h-.8zM241.6 163.5h.8v.8h-.8zM247.2 148.1h.8v.8h-.8zM258.2 158.2h.8v.8h-.8zM245.9 158.4h.8v.8h-.8zM253.2 151.7h.8v.8h-.8zM249.1 160.7h.8v.8h-.8zM244.0 153.3h.8v.8h-.8zM250.3 157.6h.8v.8h-.8zM240.5 165.3h.8v.8h-.8zM249.7 150.7h.8v.8h-.8zM244.0 164.5h.8v.8h-.8zM245.6 167.0h.8v.8h-.8zM244.7 154.3h.8v.8h-.8zM239.9 150.4h.8v.8h-.8zM249.8 158.4h.8v.8h-.8zM250.9 158.6h.8v.8h-.8zM250.3 161.0h.8v.8h-.8zM244.4 147.2h.8v.8h-.8zM241.7 175.1h.8v.8h-.8zM254.5 158.8h.8v.8h-.8zM249.5 152.8h.8v.8h-.8zM249.6 154.6h.8v.8h-.8zM249.0 157.1h.8v.8h-.8zM247.0 166.9h.8v.8h-.8zM242.6 159.8h.8v.8h-.8zM244.6 174.7h.8v.8h-.8zM250.5 162.1h.8v.8h-.8zM251.6 159.3h.8v.8h-.8zM251.1 150.2h.8v.8h-.8zM253.0 163.2h.8v.8h-.8zM256.4 160.3h.8v.8h-.8zM255.6 153.9h.8v.8h-.8zM251.3 157.8h.8v.8h-.8zM249.2 156.4h.8v.8h-.8zM246.5 146.9h.8v.8h-.8zM248.0 161.3h.8v.8h-.8zM248.7 159.5h.8v.8h-.8zM246.2 159.1h.8v.8h-.8zM250.6 161.4h.8v.8h-.8zM249.7 157.0h.8v.8h-.8zM253.2 167.0h.8v.8h-.8zM244.5 165.0h.8v.8h-.8z"/>
<path fill="#6f9aa5" d="M257.4 154.8h.8v.8h-.8zM247.3 146.5h.8v.8h-.8zM244.9 159.9h.8v.8h-.8zM253.8 143.4h.8v.8h-.8zM239.9 166.8h.8v.8h-.8zM243.0 161.8h.8v.8h-.8zM249.7 159.0h.8v.8h-.8zM254.9 164.7h.8v.8h-.8zM246.8 166.3h.8v.8h-.8zM248.9 172.0h.8v.8h-.8zM254.9 160.4h.8v.8h-.8zM247.5 162.7h.8v.8h-.8zM253.8 151.4h.8v.8h-.8zM248.6 159.2h.8v.8h-.8zM251.9 163.0h.8v.8h-.8zM248.9 157.8h.8v.8h-.8zM256.4 155.6h.8v.8h-.8zM253.6 157.9h.8v.8h-.8zM249.9 158.7h.8v.8h-.8zM250.0 157.7h.8v.8h-.8zM242.9 165.7h.8v.8h-.8zM238.8 172.3h.8v.8h-.8zM250.9 167.3h.8v.8h-.8zM262.3 163.0h.8v.8h-.8zM246.6 157.0h.8v.8h-.8zM252.7 170.3h.8v.8h-.8zM248.9 164.1h.8v.8h-.8zM252.9 163.8h.8v.8h-.8zM244.3 158.8h.8v.8h-.8zM251.4 149.9h.8v.8h-.8zM245.3 162.2h.8v.8h-.8zM251.1 158.0h.8v.8h-.8zM249.3 146.1h.8v.8h-.8zM252.0 166.7h.8v.8h-.8zM254.3 157.0h.8v.8h-.8zM257.9 150.9h.8v.8h-.8zM256.9 167.9h.8v.8h-.8zM246.2 159.7h.8v.8h-.8zM250.0 160.6h.8v.8h-.8zM242.4 153.5h.8v.8h-.8zM245.6 157.8h.8v.8h-.8zM259.1 173.7h.8v.8h-.8zM244.2 158.6h.8v.8h-.8zM245.9 160.5h.8v.8h-.8zM249.2 148.3h.8v.8h-.8zM251.6 168.4h.8v.8h-.8zM250.1 147.5h.8v.8h-.8zM256.5 157.8h.8v.8h-.8zM255.2 169.5h.8v.8h-.8zM253.0 155.5h.8v.8h-.8zM254.3 154.5h.8v.8h-.8zM249.9 151.3h.8v.8h-.8zM254.6 159.0h.8v.8h-.8zM251.4 151.8h.8v.8h-.8zM250.2 169.8h.8v.8h-.8zM248.6 160.6h.8v.8h-.8zM250.2 152.7h.8v.8h-.8zM245.3 149.7h.8v.8h-.8zM241.7 158.3h.8v.8h-.8zM249.1 159.5h.8v.8h-.8zM244.6 159.8h.8v.8h-.8zM245.1 154.0h.8v.8h-.8zM252.0 164.7h.8v.8h-.8zM251.9 153.1h.8v.8h-.8zM249.5 154.3h.8v.8h-.8zM249.9 157.1h.8v.8h-.8zM250.4 158.9h.8v.8h-.8zM237.9 163.3h.8v.8h-.8zM246.2 159.5h.8v.8h-.8zM256.2 167.0h.8v.8h-.8zM249.7 156.4h.8v.8h-.8zM251.2 157.0h.8v.8h-.8zM252.8 162.0h.8v.8h-.8zM243.0 149.6h.8v.8h-.8zM249.2 158.3h.8v.8h-.8zM250.0 160.1h.8v.8h-.8zM247.5 164.9h.8v.8h-.8zM252.1 165.2h.8v.8h-.8zM235.6 172.6h.8v.8h-.8zM249.7 161.5h.8v.8h-.8zM244.1 170.7h.8v.8h-.8zM248.5 154.4h.8v.8h-.8zM258.4 161.8h.8v.8h-.8zM247.9 160.7h.8v.8h-.8zM240.0 159.2h.8v.8h-.8zM258.6 153.2h.8v.8h-.8zM255.3 159.9h.8v.8h-.8zM255.0 165.3h.8v.8h-.8zM250.6 158.6h.8v.8h-.8zM258.3 166.8h.8v.8h-.8zM245.3 156.9h.8v.8h-.8zM246.7 166.2h.8v.8h-.8zM251.1 157.3h.8v.8h-.8zM250.0 155.8h.8v.8h-.8zM248.9 156.2h.8v.8h-.8zM244.3 153.4h.8v.8h-.8zM245.0 165.6h.8v.8h-.8zM258.4 157.4h.8v.8h-.8zM260.7 156.1h.8v.8h-.8zM248.9 162.1h.8v.8h-.8zM250.2 157.0h.8v.8h-.8zM251.2 167.2h.8v.8h-.8zM262.4 165.8h.8v.8h-.8zM249.0 154.5h.8v.8h-.8zM243.7 163.0h.8v.8h-.8zM256.0 166.3h.8v.8h-.8zM252.8 159.4h.8v.8h-.8zM248.1 158.0h.8v.8h-.8zM242.9 158.5h.8v.8h-.8zM254.4 160.5h.8v.8h-.8zM251.2 166.2h.8v.8h-.8zM255.5 157.6h.8v.8h-.8zM245.7 155.0h.8v.8h-.8zM252.2 162.3h.8v.8h-.8zM243.3 170.7h.8v.8h-.8zM257.4 158.3h.8v.8h-.8zM251.9 169.5h.8v.8h-.8zM247.2 163.9h.8v.8h-.8zM247.5 151.8h.8v.8h-.8zM248.3 163.4h.8v.8h-.8zM244.4 170.5h.8v.8h-.8zM249.7 160.7h.8v.8h-.8zM254.9 154.2h.8v.8h-.8zM250.0 158.5h.8v.8h-.8zM246.4 165.0h.8v.8h-.8zM244.6 159.7h.8v.8h-.8zM245.7 165.3h.8v.8h-.8zM249.4 154.8h.8v.8h-.8zM245.0 155.1h.8v.8h-.8zM240.1 153.3h.8v.8h-.8zM256.1 155.8h.8v.8h-.8zM245.8 166.9h.8v.8h-.8zM260.5 161.6h.8v.8h-.8zM244.7 161.3h.8v.8h-.8zM242.4 154.5h.8v.8h-.8zM248.0 156.2h.8v.8h-.8zM244.1 151.2h.8v.8h-.8zM248.4 161.8h.8v.8h-.8zM257.6 161.3h.8v.8h-.8zM239.6 156.7h.8v.8h-.8zM249.8 158.9h.8v.8h-.8zM260.3 162.2h.8v.8h-.8zM249.2 163.0h.8v.8h-.8zM245.8 162.1h.8v.8h-.8zM249.7 164.6h.8v.8h-.8zM251.4 155.5h.8v.8h-.8zM250.4 147.9h.8v.8h-.8zM246.6 166.4h.8v.8h-.8zM238.6 152.0h.8v.8h-.8zM250.8 170.7h.8v.8h-.8zM247.7 160.0h.8v.8h-.8zM243.4 163.7h.8v.8h-.8zM251.3 156.3h.8v.8h-.8zM250.8 153.6h.8v.8h-.8zM252.5 174.0h.8v.8h-.8zM253.5 157.1h.8v.8h-.8zM252.4 155.1h.8v.8h-.8zM241.7 154.4h.8v.8h-.8zM241.8 153.1h.8v.8h-.8zM251.5 157.8h.8v.8h-.8zM258.8 159.6h.8v.8h-.8zM249.4 160.0h.8v.8h-.8zM243.1 148.7h.8v.8h-.8zM252.2 156.7h.8v.8h-.8zM255.5 163.8h.8v.8h-.8zM245.8 165.4h.8v.8h-.8z"/>
<path fill="#a0acc8" d="M246.8 157.5h.8v.8h-.8zM244.0 156.4h.8v.8h-.8zM271.1 170.5h.8v.8h-.8zM268.4 169.7h.8v.8h-.8zM270.3 157.2h.8v.8h-.8zM244.1 182.0h.8v.8h-.8zM255.1 170.4h.8v.8h-.8zM253.7 161.7h.8v.8h-.8zM243.0 167.1h.8v.8h-.8zM236.8 148.3h.8v.8h-.8zM255.9 171.5h.8v.8h-.8zM244.5 152.9h.8v.8h-.8zM267.1 157.5h.8v.8h-.8zM250.3 167.6h.8v.8h-.8zM264.9 163.9h.8v.8h-.8zM246.8 171.7h.8v.8h-.8zM253.1 167.6h.8v.8h-.8zM247.5 157.2h.8v.8h-.8zM262.9 160.2h.8v.8h-.8zM252.7 180.8h.8v.8h-.8zM247.5 169.2h.8v.8h-.8zM241.8 174.2h.8v.8h-.8zM259.5 170.5h.8v.8h-.8zM244.6 159.6h.8v.8h-.8zM250.6 168.3h.8v.8h-.8zM257.5 154.2h.8v.8h-.8zM249.0 171.1h.8v.8h-.8zM261.2 159.1h.8v.8h-.8zM252.9 174.3h.8v.8h-.8zM247.5 173.4h.8v.8h-.8zM265.0 171.6h.8v.8h-.8zM265.4 168.5h.8v.8h-.8zM256.3 156.3h.8v.8h-.8zM251.6 171.9h.8v.8h-.8zM248.5 167.5h.8v.8h-.8zM243.1 163.9h.8v.8h-.8zM256.8 157.7h.8v.8h-.8zM267.7 169.6h.8v.8h-.8zM251.7 161.7h.8v.8h-.8zM256.0 172.5h.8v.8h-.8zM275.2 156.2h.8v.8h-.8zM247.7 168.4h.8v.8h-.8zM265.2 177.7h.8v.8h-.8zM256.6 172.4h.8v.8h-.8zM251.1 157.8h.8v.8h-.8zM252.5 154.7h.8v.8h-.8zM258.2 179.2h.8v.8h-.8zM246.3 171.2h.8v.8h-.8zM252.3 162.7h.8v.8h-.8zM255.1 169.0h.8v.8h-.8zM259.5 158.4h.8v.8h-.8zM250.4 166.1h.8v.8h-.8zM248.6 177.5h.8v.8h-.8zM256.9 159.6h.8v.8h-.8zM257.7 178.6h.8v.8h-.8zM254.8 157.6h.8v.8h-.8zM251.0 176.7h.8v.8h-.8zM257.4 155.8h.8v.8h-.8zM262.3 160.6h.8v.8h-.8zM256.1 175.9h.8v.8h-.8zM246.9 161.1h.8v.8h-.8zM249.9 181.1h.8v.8h-.8zM249.5 143.6h.8v.8h-.8zM254.2 168.4h.8v.8h-.8zM261.2 158.0h.8v.8h-.8zM271.4 152.2h.8v.8h-.8zM266.3 163.2h.8v.8h-.8zM245.0 159.9h.8v.8h-.8zM251.9 154.9h.8v.8h-.8zM242.4 156.4h.8v.8h-.8zM254.1 165.1h.8v.8h-.8zM248.8 161.3h.8v.8h-.8zM254.0 173.7h.8v.8h-.8zM253.7 163.3h.8v.8h-.8zM248.0 176.2h.8v.8h-.8zM249.3 146.7h.8v.8h-.8zM270.7 168.4h.8v.8h-.8zM243.5 161.4h.8v.8h-.8zM257.2 181.0h.8v.8h-.8zM256.4 142.6h.8v.8h-.8zM236.2 152.1h.8v.8h-.8zM262.1 174.3h.8v.8h-.8zM250.1 156.9h.8v.8h-.8zM251.6 170.1h.8v.8h-.8zM257.2 153.4h.8v.8h-.8zM244.9 166.6h.8v.8h-.8zM257.1 167.7h.8v.8h-.8zM245.6 175.7h.8v.8h-.8zM249.5 162.1h.8v.8h-.8zM241.2 175.4h.8v.8h-.8zM255.9 177.7h.8v.8h-.8zM270.0 156.1h.8v.8h-.8zM262.7 161.9h.8v.8h-.8zM269.0 154.2h.8v.8h-.8zM260.4 170.1h.8v.8h-.8zM249.9 148.1h.8v.8h-.8zM260.3 151.8h.8v.8h-.8zM269.3 169.5h.8v.8h-.8zM264.4 171.2h.8v.8h-.8zM242.5 173.4h.8v.8h-.8zM259.3 154.4h.8v.8h-.8zM261.7 152.8h.8v.8h-.8zM250.0 164.3h.8v.8h-.8zM256.4 179.5h.8v.8h-.8zM277.4 156.3h.8v.8h-.8zM246.1 167.4h.8v.8h-.8zM259.2 161.8h.8v.8h-.8zM268.7 167.4h.8v.8h-.8zM252.5 163.7h.8v.8h-.8zM248.8 171.3h.8v.8h-.8zM241.7 177.6h.8v.8h-.8zM255.1 170.0h.8v.8h-.8zM242.5 163.9h.8v.8h-.8zM237.8 179.1h.8v.8h-.8zM258.4 173.4h.8v.8h-.8zM258.0 167.9h.8v.8h-.8zM262.9 167.2h.8v.8h-.8zM256.4 164.0h.8v.8h-.8zM268.3 161.5h.8v.8h-.8zM253.9 165.0h.8v.8h-.8zM251.6 181.3h.8v.8h-.8zM255.9 174.8h.8v.8h-.8zM246.1 176.0h.8v.8h-.8zM268.1 168.2h.8v.8h-.8zM272.7 158.1h.8v.8h-.8zM260.9 171.3h.8v.8h-.8zM266.6 174.5h.8v.8h-.8zM248.4 169.7h.8v.8h-.8zM247.8 159.0h.8v.8h-.8zM249.7 163.9h.8v.8h-.8zM259.2 158.4h.8v.8h-.8zM257.2 160.8h.8v.8h-.8zM248.9 156.0h.8v.8h-.8zM251.4 158.9h.8v.8h-.8zM242.0 176.3h.8v.8h-.8zM252.0 162.9h.8v.8h-.8zM241.9 177.8h.8v.8h-.8zM256.9 179.9h.8v.8h-.8zM268.0 160.5h.8v.8h-.8zM242.5 170.0h.8v.8h-.8zM261.8 172.5h.8v.8h-.8zM257.2 161.2h.8v.8h-.8zM262.3 157.8h.8v.8h-.8zM263.2 165.9h.8v.8h-.8zM256.4 180.0h.8v.8h-.8zM273.1 163.9h.8v.8h-.8zM280.5 181.6h.8v.8h-.8zM270.8 163.8h.8v.8h-.8zM253.8 176.6h.8v.8h-.8zM264.5 178.3h.8v.8h-.8zM280.3 179.0h.8v.8h-.8zM253.5 179.2h.8v.8h-.8zM263.6 178.4h.8v.8h-.8zM258.7 175.7h.8v.8h-.8zM272.3 167.0h.8v.8h-.8zM267.3 166.8h.8v.8h-.8zM258.4 179.8h.8v.8h-.8zM256.1 174.3h.8v.8h-.8zM265.5 175.3h.8v.8h-.8zM245.6 179.7h.8v.8h-.8zM248.7 180.7h.8v.8h-.8zM271.1 178.4h.8v.8h-.8zM261.1 178.1h.8v.8h-.8zM259.0 175.7h.8v.8h-.8zM276.7 157.9h.8v.8h-.8zM267.0 167.1h.8v.8h-.8zM264.3 168.9h.8v.8h-.8zM252.8 179.7h.8v.8h-.8zM265.2 171.4h.8v.8h-.8zM272.6 179.7h.8v.8h-.8zM271.2 173.6h.8v.8h-.8zM256.6 169.4h.8v.8h-.8zM269.7 178.0h.8v.8h-.8zM263.6 175.8h.8v.8h-.8zM264.5 175.8h.8v.8h-.8zM269.4 167.7h.8v.8h-.8zM261.9 173.6h.8v.8h-.8zM275.0 173.9h.8v.8h-.8zM255.7 176.2h.8v.8h-.8zM260.7 170.4h.8v.8h-.8zM266.3 171.4h.8v.8h-.8zM253.7 170.0h.8v.8h-.8zM253.8 178.3h.8v.8h-.8zM262.0 168.6h.8v.8h-.8zM248.8 176.2h.8v.8h-.8zM259.6 170.4h.8v.8h-.8zM264.9 169.4h.8v.8h-.8zM269.1 174.0h.8v.8h-.8zM261.8 179.1h.8v.8h-.8zM262.0 171.3h.8v.8h-.8zM260.3 174.6h.8v.8h-.8z"/>
<path fill="#a8b4c8" d="M246.0 173.1h.8v.8h-.8zM253.2 159.6h.8v.8h-.8zM252.8 160.2h.8v.8h-.8zM261.5 166.8h.8v.8h-.8zM253.7 170.4h.8v.8h-.8zM256.3 143.9h.8v.8h-.8zM265.7 164.7h.8v.8h-.8zM261.7 160.0h.8v.8h-.8zM239.5 154.8h.8v.8h-.8zM281.9 174.0h.8v.8h-.8zM264.2 173.4h.8v.8h-.8zM258.4 169.4h.8v.8h-.8zM256.1 169.7h.8v.8h-.8zM250.9 168.8h.8v.8h-.8zM246.6 148.1h.8v.8h-.8zM268.3 176.3h.8v.8h-.8zM256.1 171.0h.8v.8h-.8zM254.4 161.7h.8v.8h-.8zM263.7 160.2h.8v.8h-.8zM261.7 162.0h.8v.8h-.8zM260.9 167.3h.8v.8h-.8zM255.2 166.5h.8v.8h-.8zM261.0 168.4h.8v.8h-.8zM274.7 171.7h.8v.8h-.8zM261.2 176.1h.8v.8h-.8zM261.8 170.4h.8v.8h-.8zM247.1 168.1h.8v.8h-.8zM252.4 168.0h.8v.8h-.8zM251.7 159.0h.8v.8h-.8zM260.9 171.9h.8v.8h-.8zM251.4 163.3h.8v.8h-.8zM254.4 170.0h.8v.8h-.8zM257.5 154.8h.8v.8h-.8zM247.5 162.3h.8v.8h-.8zM250.3 169.1h.8v.8h-.8zM274.6 158.5h.8v.8h-.8zM249.9 167.1h.8v.8h-.8zM260.9 168.0h.8v.8h-.8zM258.7 164.7h.8v.8h-.8zM246.6 166.6h.8v.8h-.8zM254.5 156.2h.8v.8h-.8zM245.5 163.3h.8v.8h-.8zM268.7 164.3h.8v.8h-.8zM250.9 176.0h.8v.8h-.8zM239.4 175.8h.8v.8h-.8zM249.1 170.3h.8v.8h-.8zM254.9 152.9h.8v.8h-.8zM247.9 174.2h.8v.8h-.8zM264.5 176.9h.8v.8h-.8zM256.2 170.3h.8v.8h-.8zM256.5 155.8h.8v.8h-.8zM252.4 157.0h.8v.8h-.8zM255.8 156.2h.8v.8h-.8zM248.6 172.1h.8v.8h-.8zM262.4 169.0h.8v.8h-.8zM259.4 162.3h.8v.8h-.8zM258.3 175.0h.8v.8h-.8zM264.1 171.5h.8v.8h-.8zM248.2 164.3h.8v.8h-.8zM257.7 174.3h.8v.8h-.8zM265.4 174.0h.8v.8h-.8zM235.6 154.7h.8v.8h-.8zM264.2 171.1h.8v.8h-.8zM244.6 173.0h.8v.8h-.8zM261.8 165.1h.8v.8h-.8zM245.4 170.4h.8v.8h-.8zM257.2 175.6h.8v.8h-.8zM264.1 159.4h.8v.8h-.8zM265.9 159.8h.8v.8h-.8zM255.1 150.8h.8v.8h-.8zM246.2 181.6h.8v.8h-.8zM236.6 163.2h.8v.8h-.8zM243.9 163.9h.8v.8h-.8zM260.3 156.8h.8v.8h-.8zM242.7 164.0h.8v.8h-.8zM244.4 161.7h.8v.8h-.8zM255.6 167.4h.8v.8h-.8zM245.2 165.0h.8v.8h-.8zM263.9 157.0h.8v.8h-.8zM263.9 171.5h.8v.8h-.8zM254.2 165.0h.8v.8h-.8zM260.4 165.4h.8v.8h-.8zM245.8 160.5h.8v.8h-.8zM254.5 174.5h.8v.8h-.8zM273.9 174.4h.8v.8h-.8zM251.5 176.5h.8v.8h-.8zM259.8 167.0h.8v.8h-.8zM268.6 148.9h.8v.8h-.8zM246.4 173.9h.8v.8h-.8zM261.3 161.0h.8v.8h-.8zM255.9 175.8h.8v.8h-.8zM263.9 169.3h.8v.8h-.8zM245.2 180.3h.8v.8h-.8zM244.4 161.2h.8v.8h-.8zM250.5 178.0h.8v.8h-.8zM263.2 165.2h.8v.8h-.8zM258.1 165.0h.8v.8h-.8zM253.5 170.2h.8v.8h-.8zM247.9 157.0h.8v.8h-.8zM260.9 163.7h.8v.8h-.8zM254.4 154.9h.8v.8h-.8zM239.2 160.6h.8v.8h-.8zM266.2 174.7h.8v.8h-.8zM255.0 156.6h.8v.8h-.8zM274.0 179.3h.8v.8h-.8zM248.1 164.5h.8v.8h-.8zM254.8 151.9h.8v.8h-.8zM252.7 169.8h.8v.8h-.8zM255.0 168.3h.8v.8h-.8zM256.0 171.6h.8v.8h-.8zM255.2 175.6h.8v.8h-.8zM246.6 169.4h.8v.8h-.8zM253.7 153.9h.8v.8h-.8zM254.4 172.4h.8v.8h-.8zM252.3 176.0h.8v.8h-.8zM255.3 156.8h.8v.8h-.8zM265.5 172.6h.8v.8h-.8zM241.9 173.5h.8v.8h-.8zM260.8 172.9h.8v.8h-.8zM269.1 161.0h.8v.8h-.8zM261.4 156.4h.8v.8h-.8zM243.4 171.6h.8v.8h-.8zM252.6 158.4h.8v.8h-.8zM247.0 164.6h.8v.8h-.8zM249.4 165.6h.8v.8h-.8zM262.9 173.5h.8v.8h-.8zM244.8 168.3h.8v.8h-.8zM246.0 175.5h.8v.8h-.8zM272.4 154.5h.8v.8h-.8zM242.3 173.8h.8v.8h-.8zM248.5 164.8h.8v.8h-.8zM247.7 170.1h.8v.8h-.8zM251.2 167.2h.8v.8h-.8zM246.8 172.0h.8v.8h-.8zM260.8 164.1h.8v.8h-.8zM258.5 182.0h.8v.8h-.8zM252.6 172.5h.8v.8h-.8zM255.0 165.0h.8v.8h-.8zM252.3 154.3h.8v.8h-.8zM239.8 169.1h.8v.8h-.8zM250.9 160.6h.8v.8h-.8zM250.0 181.3h.8v.8h-.8zM255.8 170.1h.8v.8h-.8zM250.1 159.3h.8v.8h-.8zM252.7 167.2h.8v.8h-.8zM248.0 157.3h.8v.8h-.8zM252.4 177.5h.8v.8h-.8zM276.2 165.4h.8v.8h-.8zM242.3 165.7h.8v.8h-.8zM258.5 153.9h.8v.8h-.8zM260.5 166.3h.8v.8h-.8zM244.2 167.2h.8v.8h-.8zM253.3 161.4h.8v.8h-.8zM259.7 178.9h.8v.8h-.8zM262.7 176.3h.8v.8h-.8zM252.6 177.8h.8v.8h-.8zM263.9 178.3h.8v.8h-.8zM267.2 176.8h.8v.8h-.8zM253.4 172.1h.8v.8h-.8zM266.6 168.5h.8v.8h-.8zM258.1 178.8h.8v.8h-.8zM263.9 176.9h.8v.8h-.8zM250.9 178.9h.8v.8h-.8zM268.8 181.7h.8v.8h-.8zM261.5 177.4h.8v.8h-.8zM256.4 175.2h.8v.8h-.8zM264.9 171.1h.8v.8h-.8zM271.6 172.7h.8v.8h-.8zM260.7 178.7h.8v.8h-.8zM251.7 180.6h.8v.8h-.8zM273.2 167.2h.8v.8h-.8zM259.4 176.7h.8v.8h-.8zM257.8 174.6h.8v.8h-.8zM258.3 179.0h.8v.8h-.8zM275.8 172.4h.8v.8h-.8zM266.3 174.0h.8v.8h-.8zM279.0 167.0h.8v.8h-.8zM258.5 178.8h.8v.8h-.8zM271.6 175.3h.8v.8h-.8zM267.5 175.5h.8v.8h-.8zM255.7 177.7h.8v.8h-.8zM269.5 172.5h.8v.8h-.8zM251.0 174.0h.8v.8h-.8zM263.7 173.1h.8v.8h-.8zM258.0 175.9h.8v.8h-.8zM265.5 163.2h.8v.8h-.8zM250.6 170.2h.8v.8h-.8zM259.6 174.2h.8v.8h-.8zM254.3 173.5h.8v.8h-.8zM262.6 171.9h.8v.8h-.8zM256.5 178.9h.8v.8h-.8zM268.7 168.4h.8v.8h-.8zM248.8 179.8h.8v.8h-.8zM269.9 172.2h.8v.8h-.8zM259.9 175.2h.8v.8h-.8zM256.5 176.5h.8v.8h-.8zM258.2 167.2h.8v.8h-.8zM255.3 175.5h.8v.8h-.8zM250.4 171.3h.8v.8h-.8zM255.1 174.7h.8v.8h-.8zM264.0 172.4h.8v.8h-.8zM262.2 172.3h.8v.8h-.8zM267.4 165.5h.8v.8h-.8zM262.2 172.0h.8v.8h-.8zM246.0 179.5h.8v.8h-.8zM252.9 172.7h.8v.8h-.8zM266.6 169.4h.8v.8h-.8zM267.2 174.7h.8v.8h-.8zM252.3 165.6h.8v.8h-.8zM255.5 177.8h.8v.8h-.8zM260.6 174.8h.8v.8h-.8zM260.4 176.5h.8v.8h-.8zM249.5 164.1h.8v.8h-.8zM264.5 179.5h.8v.8h-.8zM257.6 167.2h.8v.8h-.8zM253.8 174.2h.8v.8h-.8z"/>
<path fill="#90a8b8" d="M251.4 170.8h.8v.8h-.8zM251.4 162.4h.8v.8h-.8zM262.2 163.1h.8v.8h-.8zM279.3 172.2h.8v.8h-.8zM266.5 164.7h.8v.8h-.8zM249.0 160.1h.8v.8h-.8zM248.8 164.3h.8v.8h-.8zM251.7 165.0h.8v.8h-.8zM260.1 162.0h.8v.8h-.8zM261.8 165.0h.8v.8h-.8zM253.2 169.3h.8v.8h-.8zM245.1 174.8h.8v.8h-.8zM250.9 167.9h.8v.8h-.8zM245.2 156.1h.8v.8h-.8zM249.6 172.2h.8v.8h-.8zM258.5 177.1h.8v.8h-.8zM266.3 171.1h.8v.8h-.8zM250.9 156.5h.8v.8h-.8zM239.8 165.2h.8v.8h-.8zM248.6 146.8h.8v.8h-.8zM257.0 170.8h.8v.8h-.8zM256.1 161.7h.8v.8h-.8zM248.3 162.4h.8v.8h-.8zM265.2 177.1h.8v.8h-.8zM245.6 172.4h.8v.8h-.8zM256.7 160.1h.8v.8h-.8zM256.9 165.9h.8v.8h-.8zM257.5 175.3h.8v.8h-.8zM235.6 168.1h.8v.8h-.8zM252.9 180.5h.8v.8h-.8zM256.3 175.0h.8v.8h-.8zM262.6 140.1h.8v.8h-.8zM262.0 174.4h.8v.8h-.8zM242.2 155.0h.8v.8h-.8zM242.7 170.9h.8v.8h-.8zM260.3 157.0h.8v.8h-.8zM246.7 172.5h.8v.8h-.8zM264.3 156.5h.8v.8h-.8zM266.1 161.5h.8v.8h-.8zM266.2 170.7h.8v.8h-.8zM248.1 176.7h.8v.8h-.8zM262.3 159.4h.8v.8h-.8zM246.7 153.6h.8v.8h-.8zM239.5 179.8h.8v.8h-.8zM265.5 180.3h.8v.8h-.8zM247.2 160.8h.8v.8h-.8zM242.5 172.9h.8v.8h-.8zM263.8 170.4h.8v.8h-.8zM249.0 176.4h.8v.8h-.8zM240.9 158.9h.8v.8h-.8zM251.8 154.0h.8v.8h-.8zM261.1 150.2h.8v.8h-.8zM271.6 167.7h.8v.8h-.8zM248.3 171.2h.8v.8h-.8zM249.8 168.2h.8v.8h-.8zM264.3 153.0h.8v.8h-.8zM258.6 161.1h.8v.8h-.8zM258.2 164.7h.8v.8h-.8zM271.2 172.4h.8v.8h-.8zM260.4 176.8h.8v.8h-.8zM254.4 162.8h.8v.8h-.8zM253.6 159.9h.8v.8h-.8zM274.7 165.7h.8v.8h-.8zM257.8 166.6h.8v.8h-.8zM267.7 161.2h.8v.8h-.8zM254.5 160.4h.8v.8h-.8zM263.3 175.0h.8v.8h-.8zM258.3 164.9h.8v.8h-.8zM241.0 172.0h.8v.8h-.8zM257.6 159.5h.8v.8h-.8zM271.5 162.4h.8v.8h-.8zM279.3 160.8h.8v.8h-.8zM242.6 176.0h.8v.8h-.8zM266.8 160.0h.8v.8h-.8zM258.2 170.5h.8v.8h-.8zM262.3 175.5h.8v.8h-.8zM250.7 160.8h.8v.8h-.8zM259.4 166.4h.8v.8h-.8zM251.8 165.3h.8v.8h-.8zM255.5 155.3h.8v.8h-.8zM239.4 176.5h.8v.8h-.8zM249.1 171.2h.8v.8h-.8zM251.7 163.7h.8v.8h-.8zM264.4 146.4h.8v.8h-.8zM258.0 169.6h.8v.8h-.8zM273.9 155.9h.8v.8h-.8zM246.8 161.5h.8v.8h-.8zM254.2 175.4h.8v.8h-.8zM253.0 175.1h.8v.8h-.8zM263.9 154.5h.8v.8h-.8zM265.5 175.0h.8v.8h-.8zM266.6 163.2h.8v.8h-.8zM252.8 168.6h.8v.8h-.8zM247.9 174.4h.8v.8h-.8zM244.8 158.0h.8v.8h-.8zM242.3 163.6h.8v.8h-.8zM271.8 176.0h.8v.8h-.8zM260.6 167.1h.8v.8h-.8zM240.4 166.3h.8v.8h-.8zM261.5 171.5h.8v.8h-.8zM263.6 173.3h.8v.8h-.8zM236.7 169.1h.8v.8h-.8zM275.5 155.3h.8v.8h-.8zM247.8 178.7h.8v.8h-.8zM272.0 154.5h.8v.8h-.8zM245.5 167.9h.8v.8h-.8zM248.1 167.5h.8v.8h-.8zM253.1 178.9h.8v.8h-.8zM240.6 161.5h.8v.8h-.8zM246.1 164.9h.8v.8h-.8zM261.7 182.0h.8v.8h-.8zM256.6 166.2h.8v.8h-.8zM264.0 154.0h.8v.8h-.8zM262.5 167.5h.8v.8h-.8zM256.7 170.6h.8v.8h-.8zM237.9 178.2h.8v.8h-.8zM253.8 166.2h.8v.8h-.8zM246.7 157.6h.8v.8h-.8zM265.7 168.0h.8v.8h-.8zM269.9 166.9h.8v.8h-.8zM259.8 161.1h.8v.8h-.8zM243.0 171.2h.8v.8h-.8zM249.7 174.2h.8v.8h-.8zM253.4 169.3h.8v.8h-.8zM263.7 166.5h.8v.8h-.8zM255.7 173.1h.8v.8h-.8zM252.4 154.3h.8v.8h-.8zM251.5 169.5h.8v.8h-.8zM269.0 175.6h.8v.8h-.8zM276.0 180.3h.8v.8h-.8zM254.7 175.6h.8v.8h-.8zM269.9 167.6h.8v.8h-.8zM254.6 179.5h.8v.8h-.8zM264.5 169.1h.8v.8h-.8zM252.5 170.5h.8v.8h-.8zM263.8 177.1h.8v.8h-.8zM264.9 180.3h.8v.8h-.8zM258.0 174.2h.8v.8h-.8zM260.0 176.9h.8v.8h-.8zM257.4 172.8h.8v.8h-.8zM263.1 163.6h.8v.8h-.8zM267.2 167.4h.8v.8h-.8zM266.3 172.3h.8v.8h-.8zM259.3 168.2h.8v.8h-.8zM263.3 162.1h.8v.8h-.8zM268.6 181.6h.8v.8h-.8zM260.8 173.1h.8v.8h-.8zM254.1 177.3h.8v.8h-.8zM271.3 166.4h.8v.8h-.8zM262.0 165.9h.8v.8h-.8zM269.8 173.3h.8v.8h-.8zM272.1 163.0h.8v.8h-.8zM257.9 171.7h.8v.8h-.8zM260.4 181.2h.8v.8h-.8zM258.5 165.0h.8v.8h-.8zM258.1 179.4h.8v.8h-.8zM260.9 164.5h.8v.8h-.8zM252.8 177.5h.8v.8h-.8zM253.9 179.0h.8v.8h-.8zM282.6 169.8h.8v.8h-.8zM260.3 176.1h.8v.8h-.8zM269.3 172.3h.8v.8h-.8zM270.5 169.0h.8v.8h-.8zM245.2 178.7h.8v.8h-.8zM279.7 177.3h.8v.8h-.8zM242.4 176.6h.8v.8h-.8zM268.0 176.9h.8v.8h-.8zM263.8 180.8h.8v.8h-.8zM271.8 172.6h.8v.8h-.8zM250.8 178.2h.8v.8h-.8zM256.2 177.8h.8v.8h-.8zM255.2 176.5h.8v.8h-.8zM270.5 166.0h.8v.8h-.8zM270.6 173.7h.8v.8h-.8zM254.1 174.5h.8v.8h-.8zM272.1 171.4h.8v.8h-.8zM262.0 181.2h.8v.8h-.8zM264.3 176.6h.8v.8h-.8zM266.3 174.4h.8v.8h-.8zM265.8 166.3h.8v.8h-.8zM266.0 180.8h.8v.8h-.8zM253.7 181.2h.8v.8h-.8zM264.1 168.0h.8v.8h-.8zM252.8 174.9h.8v.8h-.8z"/>
<path fill="#b898b8" d="M251.2 152.1h.8v.8h-.8zM249.3 170.0h.8v.8h-.8zM241.9 160.6h.8v.8h-.8zM256.5 176.7h.8v.8h-.8zM251.1 168.6h.8v.8h-.8zM243.4 148.8h.8v.8h-.8zM254.9 173.2h.8v.8h-.8zM269.3 170.8h.8v.8h-.8zM255.5 153.9h.8v.8h-.8zM251.7 175.5h.8v.8h-.8zM249.1 161.5h.8v.8h-.8zM246.6 153.0h.8v.8h-.8zM256.7 171.4h.8v.8h-.8zM251.3 176.6h.8v.8h-.8zM250.2 171.1h.8v.8h-.8zM253.5 154.9h.8v.8h-.8zM273.5 173.4h.8v.8h-.8zM260.5 173.5h.8v.8h-.8zM251.5 163.0h.8v.8h-.8zM251.6 169.6h.8v.8h-.8zM255.9 163.8h.8v.8h-.8zM235.8 176.5h.8v.8h-.8zM251.3 165.4h.8v.8h-.8zM245.9 163.4h.8v.8h-.8zM247.9 169.0h.8v.8h-.8zM236.7 156.0h.8v.8h-.8zM258.1 161.2h.8v.8h-.8zM258.1 176.0h.8v.8h-.8zM254.1 170.9h.8v.8h-.8zM265.7 178.0h.8v.8h-.8zM249.2 156.5h.8v.8h-.8zM250.6 172.6h.8v.8h-.8zM245.1 159.6h.8v.8h-.8zM258.7 161.2h.8v.8h-.8zM250.1 161.1h.8v.8h-.8zM242.4 176.4h.8v.8h-.8zM254.3 160.0h.8v.8h-.8zM258.3 154.9h.8v.8h-.8zM249.1 181.1h.8v.8h-.8zM264.6 161.5h.8v.8h-.8zM269.0 156.5h.8v.8h-.8zM265.8 157.9h.8v.8h-.8zM246.0 168.0h.8v.8h-.8zM261.0 164.9h.8v.8h-.8zM267.7 164.5h.8v.8h-.8zM252.5 166.5h.8v.8h-.8zM253.9 156.6h.8v.8h-.8zM273.0 153.9h.8v.8h-.8zM267.0 157.9h.8v.8h-.8zM259.0 165.8h.8v.8h-.8zM257.7 158.3h.8v.8h-.8zM251.2 179.6h.8v.8h-.8zM253.5 170.1h.8v.8h-.8zM260.4 169.9h.8v.8h-.8zM262.3 170.2h.8v.8h-.8zM252.0 174.9h.8v.8h-.8zM255.4 161.6h.8v.8h-.8zM247.6 173.4h.8v.8h-.8zM259.3 170.6h.8v.8h-.8zM254.2 151.7h.8v.8h-.8zM243.7 179.9h.8v.8h-.8zM247.2 181.0h.8v.8h-.8zM247.0 158.9h.8v.8h-.8zM250.5 164.5h.8v.8h-.8zM264.9 161.1h.8v.8h-.8zM253.3 162.5h.8v.8h-.8zM249.1 166.8h.8v.8h-.8zM256.3 169.8h.8v.8h-.8zM271.7 166.2h.8v.8h-.8zM242.6 170.3h.8v.8h-.8zM242.5 156.4h.8v.8h-.8zM244.6 150.4h.8v.8h-.8zM243.7 159.5h.8v.8h-.8zM259.7 156.9h.8v.8h-.8zM263.6 166.8h.8v.8h-.8zM261.9 162.9h.8v.8h-.8zM255.4 166.8h.8v.8h-.8zM258.2 168.4h.8v.8h-.8zM246.6 161.0h.8v.8h-.8zM257.5 165.7h.8v.8h-.8zM248.7 165.8h.8v.8h-.8zM250.8 154.5h.8v.8h-.8zM265.3 160.3h.8v.8h-.8zM260.5 169.3h.8v.8h-.8zM260.0 168.5h.8v.8h-.8zM260.1 167.6h.8v.8h-.8zM237.9 157.5h.8v.8h-.8zM267.9 170.9h.8v.8h-.8zM253.4 161.4h.8v.8h-.8zM239.8 176.0h.8v.8h-.8zM248.1 162.5h.8v.8h-.8zM247.7 164.7h.8v.8h-.8zM245.8 144.1h.8v.8h-.8zM259.2 167.8h.8v.8h-.8zM257.3 172.4h.8v.8h-.8zM252.5 176.9h.8v.8h-.8zM248.8 154.8h.8v.8h-.8zM258.8 160.7h.8v.8h-.8zM263.8 160.5h.8v.8h-.8zM253.6 160.2h.8v.8h-.8zM244.1 158.5h.8v.8h-.8zM273.9 176.0h.8v.8h-.8zM261.7 154.3h.8v.8h-.8zM246.5 165.3h.8v.8h-.8zM265.7 176.2h.8v.8h-.8zM257.5 164.4h.8v.8h-.8zM255.9 160.6h.8v.8h-.8zM264.2 171.8h.8v.8h-.8zM256.1 166.2h.8v.8h-.8zM251.3 172.9h.8v.8h-.8zM250.4 171.4h.8v.8h-.8zM249.8 177.7h.8v.8h-.8zM251.6 176.5h.8v.8h-.8zM257.2 175.1h.8v.8h-.8zM265.2 171.2h.8v.8h-.8zM257.5 170.0h.8v.8h-.8zM263.6 148.6h.8v.8h-.8zM255.6 172.9h.8v.8h-.8zM253.5 168.5h.8v.8h-.8zM262.4 178.4h.8v.8h-.8zM268.2 168.9h.8v.8h-.8zM264.8 156.3h.8v.8h-.8zM244.5 177.4h.8v.8h-.8zM265.4 180.6h.8v.8h-.8zM280.5 171.4h.8v.8h-.8zM247.2 160.0h.8v.8h-.8zM249.6 153.9h.8v.8h-.8zM245.4 178.2h.8v.8h-.8zM269.6 151.3h.8v.8h-.8zM251.0 161.5h.8v.8h-.8zM257.7 179.1h.8v.8h-.8zM241.6 157.7h.8v.8h-.8zM253.0 175.6h.8v.8h-.8zM254.6 180.1h.8v.8h-.8zM267.5 174.1h.8v.8h-.8zM268.2 172.7h.8v.8h-.8zM262.2 170.3h.8v.8h-.8zM261.5 176.5h.8v.8h-.8zM266.1 180.3h.8v.8h-.8zM248.1 172.9h.8v.8h-.8zM240.2 172.9h.8v.8h-.8zM257.6 170.4h.8v.8h-.8zM253.0 170.2h.8v.8h-.8zM265.5 180.1h.8v.8h-.8zM257.2 173.7h.8v.8h-.8zM257.7 176.9h.8v.8h-.8zM265.0 181.4h.8v.8h-.8zM275.4 172.8h.8v.8h-.8zM274.3 171.9h.8v.8h-.8zM249.3 175.1h.8v.8h-.8zM270.7 174.6h.8v.8h-.8zM252.0 177.7h.8v.8h-.8zM256.1 179.2h.8v.8h-.8zM263.9 176.4h.8v.8h-.8zM266.4 181.1h.8v.8h-.8zM262.3 176.3h.8v.8h-.8zM261.8 169.3h.8v.8h-.8zM260.7 172.1h.8v.8h-.8zM253.9 173.0h.8v.8h-.8zM272.1 180.4h.8v.8h-.8zM255.7 180.7h.8v.8h-.8zM266.9 174.8h.8v.8h-.8zM273.3 177.2h.8v.8h-.8zM258.8 172.9h.8v.8h-.8zM271.9 164.2h.8v.8h-.8zM253.8 168.7h.8v.8h-.8zM254.2 175.2h.8v.8h-.8zM252.9 170.3h.8v.8h-.8zM258.5 168.9h.8v.8h-.8zM255.5 177.8h.8v.8h-.8zM269.0 174.1h.8v.8h-.8zM273.9 181.9h.8v.8h-.8zM247.7 171.6h.8v.8h-.8zM278.8 177.4h.8v.8h-.8zM262.5 169.2h.8v.8h-.8zM255.5 172.2h.8v.8h-.8zM265.0 173.8h.8v.8h-.8zM260.1 173.2h.8v.8h-.8zM253.5 174.4h.8v.8h-.8zM257.6 172.1h.8v.8h-.8zM264.9 176.0h.8v.8h-.8zM251.4 176.9h.8v.8h-.8zM273.2 170.6h.8v.8h-.8zM262.4 166.9h.8v.8h-.8zM258.2 174.6h.8v.8h-.8zM255.2 170.0h.8v.8h-.8zM263.5 169.9h.8v.8h-.8zM254.4 177.9h.8v.8h-.8zM263.7 175.9h.8v.8h-.8zM264.4 178.8h.8v.8h-.8zM265.9 168.2h.8v.8h-.8zM265.3 175.4h.8v.8h-.8zM255.9 170.2h.8v.8h-.8z"/>
<path fill="#8da0bc" d="M261.7 158.5h.8v.8h-.8zM269.8 173.7h.8v.8h-.8zM259.6 164.8h.8v.8h-.8zM244.0 167.4h.8v.8h-.8zM259.2 168.1h.8v.8h-.8zM254.2 168.5h.8v.8h-.8zM258.8 166.5h.8v.8h-.8zM268.5 165.9h.8v.8h-.8zM263.1 161.0h.8v.8h-.8zM261.2 167.6h.8v.8h-.8zM254.0 167.0h.8v.8h-.8zM258.0 175.4h.8v.8h-.8zM255.0 166.1h.8v.8h-.8zM254.0 157.6h.8v.8h-.8zM248.8 175.4h.8v.8h-.8zM255.2 167.4h.8v.8h-.8zM253.5 166.8h.8v.8h-.8zM243.8 163.4h.8v.8h-.8zM252.3 147.7h.8v.8h-.8zM247.3 177.5h.8v.8h-.8zM245.7 161.9h.8v.8h-.8zM258.7 173.4h.8v.8h-.8zM258.0 163.9h.8v.8h-.8zM262.9 162.5h.8v.8h-.8zM250.4 162.7h.8v.8h-.8zM257.6 170.4h.8v.8h-.8zM265.6 178.7h.8v.8h-.8zM250.4 160.3h.8v.8h-.8zM246.0 153.4h.8v.8h-.8zM259.0 172.8h.8v.8h-.8zM266.1 164.1h.8v.8h-.8zM254.1 168.0h.8v.8h-.8zM268.0 174.5h.8v.8h-.8zM255.8 168.0h.8v.8h-.8zM246.7 165.6h.8v.8h-.8zM262.0 168.9h.8v.8h-.8zM260.8 163.3h.8v.8h-.8zM260.8 169.6h.8v.8h-.8zM275.2 169.9h.8v.8h-.8zM245.8 169.6h.8v.8h-.8zM248.7 154.5h.8v.8h-.8zM253.5 180.8h.8v.8h-.8zM255.7 173.7h.8v.8h-.8zM267.4 175.6h.8v.8h-.8zM261.4 173.5h.8v.8h-.8zM263.4 158.0h.8v.8h-.8zM252.2 176.2h.8v.8h-.8zM241.2 173.7h.8v.8h-.8zM247.3 162.6h.8v.8h-.8zM265.1 158.1h.8v.8h-.8zM244.4 155.5h.8v.8h-.8zM249.3 170.4h.8v.8h-.8zM260.1 172.1h.8v.8h-.8zM251.4 151.8h.8v.8h-.8zM253.4 162.3h.8v.8h-.8zM265.1 169.0h.8v.8h-.8zM261.4 162.3h.8v.8h-.8zM270.6 168.0h.8v.8h-.8zM254.0 161.1h.8v.8h-.8zM273.3 167.4h.8v.8h-.8zM243.5 160.9h.8v.8h-.8zM252.1 179.4h.8v.8h-.8zM274.4 180.5h.8v.8h-.8zM252.6 174.1h.8v.8h-.8zM243.0 171.3h.8v.8h-.8zM250.3 152.7h.8v.8h-.8zM255.0 174.8h.8v.8h-.8zM265.0 175.9h.8v.8h-.8zM258.1 176.3h.8v.8h-.8zM254.5 172.5h.8v.8h-.8zM246.0 163.1h.8v.8h-.8zM256.2 166.4h.8v.8h-.8zM248.3 169.3h.8v.8h-.8zM266.0 167.1h.8v.8h-.8zM268.9 166.2h.8v.8h-.8zM267.8 171.8h.8v.8h-.8zM240.7 149.9h.8v.8h-.8zM244.1 158.2h.8v.8h-.8zM248.9 169.4h.8v.8h-.8zM254.4 172.5h.8v.8h-.8zM245.1 166.1h.8v.8h-.8zM250.1 173.7h.8v.8h-.8zM251.7 175.2h.8v.8h-.8zM261.5 177.5h.8v.8h-.8zM266.9 178.6h.8v.8h-.8zM242.8 165.1h.8v.8h-.8zM256.4 159.5h.8v.8h-.8zM258.5 162.8h.8v.8h-.8zM262.2 160.3h.8v.8h-.8zM259.8 173.5h.8v.8h-.8zM245.9 155.8h.8v.8h-.8zM242.9 169.3h.8v.8h-.8zM252.3 166.6h.8v.8h-.8zM264.5 164.8h.8v.8h-.8zM273.0 172.4h.8v.8h-.8zM248.4 162.1h.8v.8h-.8zM253.9 164.6h.8v.8h-.8zM254.9 157.5h.8v.8h-.8zM255.7 159.9h.8v.8h-.8zM265.9 166.0h.8v.8h-.8zM248.1 167.7h.8v.8h-.8zM257.6 174.0h.8v.8h-.8zM251.3 144.2h.8v.8h-.8zM255.7 165.3h.8v.8h-.8zM252.7 172.0h.8v.8h-.8zM254.5 176.9h.8v.8h-.8zM271.1 170.9h.8v.8h-.8zM248.6 179.2h.8v.8h-.8zM256.4 170.8h.8v.8h-.8zM255.6 141.6h.8v.8h-.8zM255.8 168.6h.8v.8h-.8zM242.3 173.1h.8v.8h-.8zM245.1 176.1h.8v.8h-.8zM249.8 163.1h.8v.8h-.8zM256.3 167.3h.8v.8h-.8zM264.1 173.5h.8v.8h-.8zM249.7 164.3h.8v.8h-.8zM253.8 170.4h.8v.8h-.8zM255.8 165.8h.8v.8h-.8zM258.0 175.9h.8v.8h-.8zM268.1 175.3h.8v.8h-.8zM267.7 167.5h.8v.8h-.8zM255.6 171.0h.8v.8h-.8zM245.5 173.9h.8v.8h-.8zM265.6 171.0h.8v.8h-.8zM252.1 170.8h.8v.8h-.8zM253.5 159.3h.8v.8h-.8zM251.4 166.7h.8v.8h-.8zM260.8 173.6h.8v.8h-.8zM256.5 175.3h.8v.8h-.8zM244.5 164.7h.8v.8h-.8zM267.0 160.8h.8v.8h-.8zM248.1 172.6h.8v.8h-.8zM255.3 166.8h.8v.8h-.8zM258.5 151.0h.8v.8h-.8zM259.9 168.0h.8v.8h-.8zM258.7 158.6h.8v.8h-.8zM263.1 164.1h.8v.8h-.8zM266.7 161.6h.8v.8h-.8zM251.4 166.3h.8v.8h-.8zM254.0 157.0h.8v.8h-.8zM270.6 178.5h.8v.8h-.8zM274.3 178.7h.8v.8h-.8zM253.6 169.6h.8v.8h-.8zM269.9 179.0h.8v.8h-.8zM258.5 171.6h.8v.8h-.8zM265.5 178.0h.8v.8h-.8zM253.1 174.9h.8v.8h-.8zM255.6 177.9h.8v.8h-.8zM254.0 177.1h.8v.8h-.8zM262.1 179.0h.8v.8h-.8zM265.1 173.3h.8v.8h-.8zM275.8 176.2h.8v.8h-.8zM240.1 174.1h.8v.8h-.8zM266.5 175.0h.8v.8h-.8zM262.7 181.2h.8v.8h-.8zM262.4 164.8h.8v.8h-.8zM263.7 179.8h.8v.8h-.8zM270.2 170.1h.8v.8h-.8zM263.6 177.2h.8v.8h-.8zM278.8 171.9h.8v.8h-.8zM257.2 169.9h.8v.8h-.8zM266.9 166.2h.8v.8h-.8zM272.6 180.4h.8v.8h-.8zM268.1 175.8h.8v.8h-.8zM276.7 179.7h.8v.8h-.8zM275.1 170.7h.8v.8h-.8zM264.9 167.7h.8v.8h-.8zM263.5 173.1h.8v.8h-.8zM266.5 169.9h.8v.8h-.8zM260.3 174.8h.8v.8h-.8zM251.4 165.1h.8v.8h-.8zM258.9 168.7h.8v.8h-.8zM262.1 175.3h.8v.8h-.8zM262.4 177.7h.8v.8h-.8zM267.7 172.5h.8v.8h-.8zM254.7 180.8h.8v.8h-.8zM258.3 174.1h.8v.8h-.8zM261.2 178.8h.8v.8h-.8zM264.3 171.9h.8v.8h-.8zM280.7 176.7h.8v.8h-.8zM258.2 169.4h.8v.8h-.8zM250.3 180.2h.8v.8h-.8zM262.3 175.8h.8v.8h-.8zM261.3 169.4h.8v.8h-.8zM272.4 176.5h.8v.8h-.8zM258.3 172.1h.8v.8h-.8zM264.1 180.8h.8v.8h-.8zM267.0 179.0h.8v.8h-.8zM260.2 171.0h.8v.8h-.8zM280.2 177.5h.8v.8h-.8z"/>
<path fill="#c0a0c4" d="M265.6 162.9h.8v.8h-.8zM258.8 168.5h.8v.8h-.8zM261.9 170.1h.8v.8h-.8zM258.8 171.9h.8v.8h-.8zM273.2 179.5h.8v.8h-.8zM254.0 177.7h.8v.8h-.8zM267.7 176.2h.8v.8h-.8zM269.3 160.0h.8v.8h-.8zM246.8 160.5h.8v.8h-.8zM266.4 159.6h.8v.8h-.8zM272.9 166.4h.8v.8h-.8zM244.5 150.0h.8v.8h-.8zM250.6 159.9h.8v.8h-.8zM239.5 167.2h.8v.8h-.8zM262.4 173.4h.8v.8h-.8zM250.6 162.8h.8v.8h-.8zM258.8 174.9h.8v.8h-.8zM255.7 178.3h.8v.8h-.8zM253.4 179.0h.8v.8h-.8zM247.1 170.9h.8v.8h-.8zM247.2 165.3h.8v.8h-.8zM257.8 176.9h.8v.8h-.8zM256.2 150.9h.8v.8h-.8zM268.0 159.7h.8v.8h-.8zM242.0 161.7h.8v.8h-.8zM253.9 177.5h.8v.8h-.8zM254.4 164.3h.8v.8h-.8zM252.8 164.2h.8v.8h-.8zM251.1 165.6h.8v.8h-.8zM243.6 181.5h.8v.8h-.8zM251.3 166.6h.8v.8h-.8zM252.1 175.4h.8v.8h-.8zM243.2 167.3h.8v.8h-.8zM258.1 170.6h.8v.8h-.8zM261.0 169.2h.8v.8h-.8zM238.4 172.5h.8v.8h-.8zM270.5 157.8h.8v.8h-.8zM242.2 171.6h.8v.8h-.8zM275.5 171.5h.8v.8h-.8zM262.2 171.6h.8v.8h-.8zM244.0 165.8h.8v.8h-.8zM248.0 152.4h.8v.8h-.8zM263.1 157.4h.8v.8h-.8zM259.1 162.2h.8v.8h-.8zM264.3 157.2h.8v.8h-.8zM246.4 165.1h.8v.8h-.8zM245.4 154.2h.8v.8h-.8zM244.4 156.5h.8v.8h-.8zM250.9 162.5h.8v.8h-.8zM257.9 157.2h.8v.8h-.8zM261.6 173.1h.8v.8h-.8zM257.8 171.9h.8v.8h-.8zM264.2 170.2h.8v.8h-.8zM257.8 172.0h.8v.8h-.8zM262.6 147.6h.8v.8h-.8zM257.1 164.5h.8v.8h-.8zM257.0 155.8h.8v.8h-.8zM252.8 157.8h.8v.8h-.8zM248.7 167.5h.8v.8h-.8zM259.9 157.4h.8v.8h-.8zM264.2 169.0h.8v.8h-.8zM252.8 177.1h.8v.8h-.8zM254.2 160.5h.8v.8h-.8zM250.5 160.3h.8v.8h-.8zM257.9 160.7h.8v.8h-.8zM247.1 159.5h.8v.8h-.8zM252.0 160.4h.8v.8h-.8zM251.9 177.2h.8v.8h-.8zM237.6 155.4h.8v.8h-.8zM259.4 168.9h.8v.8h-.8zM245.6 163.7h.8v.8h-.8zM252.8 164.0h.8v.8h-.8zM248.4 157.4h.8v.8h-.8zM255.3 173.1h.8v.8h-.8zM243.5 159.5h.8v.8h-.8zM260.8 162.8h.8v.8h-.8zM255.0 166.4h.8v.8h-.8zM261.4 168.7h.8v.8h-.8zM267.4 160.3h.8v.8h-.8zM255.9 173.2h.8v.8h-.8zM256.0 143.7h.8v.8h-.8zM240.4 168.5h.8v.8h-.8zM263.8 160.7h.8v.8h-.8zM270.4 175.8h.8v.8h-.8zM257.7 166.6h.8v.8h-.8zM258.8 172.2h.8v.8h-.8zM244.7 169.2h.8v.8h-.8zM248.2 164.9h.8v.8h-.8zM245.6 163.5h.8v.8h-.8zM250.0 149.3h.8v.8h-.8zM250.9 174.8h.8v.8h-.8zM268.1 167.1h.8v.8h-.8zM246.4 153.7h.8v.8h-.8zM251.9 166.8h.8v.8h-.8zM268.1 171.7h.8v.8h-.8zM249.0 172.4h.8v.8h-.8zM248.4 175.7h.8v.8h-.8zM244.3 176.9h.8v.8h-.8zM270.6 152.6h.8v.8h-.8zM259.9 164.3h.8v.8h-.8zM272.2 162.7h.8v.8h-.8zM257.1 166.1h.8v.8h-.8zM240.9 162.6h.8v.8h-.8zM250.3 167.8h.8v.8h-.8zM265.4 165.7h.8v.8h-.8zM246.6 181.1h.8v.8h-.8zM259.2 166.8h.8v.8h-.8zM262.7 146.9h.8v.8h-.8zM266.5 154.7h.8v.8h-.8zM238.2 171.8h.8v.8h-.8zM251.6 167.7h.8v.8h-.8zM259.4 172.7h.8v.8h-.8zM257.4 168.3h.8v.8h-.8zM250.1 161.3h.8v.8h-.8zM248.8 154.6h.8v.8h-.8zM278.1 156.7h.8v.8h-.8zM252.9 166.8h.8v.8h-.8zM247.7 167.5h.8v.8h-.8zM263.7 157.0h.8v.8h-.8zM248.7 174.9h.8v.8h-.8zM265.8 166.1h.8v.8h-.8zM248.5 169.9h.8v.8h-.8zM264.6 164.7h.8v.8h-.8zM269.0 158.0h.8v.8h-.8zM250.3 162.7h.8v.8h-.8zM245.3 165.2h.8v.8h-.8zM245.4 167.2h.8v.8h-.8zM249.0 175.6h.8v.8h-.8zM251.5 168.9h.8v.8h-.8zM256.6 171.3h.8v.8h-.8zM253.4 171.6h.8v.8h-.8zM254.9 169.3h.8v.8h-.8zM252.5 175.9h.8v.8h-.8zM253.5 172.8h.8v.8h-.8zM252.8 161.3h.8v.8h-.8zM262.9 162.9h.8v.8h-.8zM260.3 163.3h.8v.8h-.8zM260.9 163.2h.8v.8h-.8zM250.9 179.8h.8v.8h-.8zM256.6 181.0h.8v.8h-.8zM252.9 154.7h.8v.8h-.8zM270.0 173.3h.8v.8h-.8zM268.7 171.2h.8v.8h-.8zM249.3 167.2h.8v.8h-.8zM271.4 173.8h.8v.8h-.8zM255.6 180.7h.8v.8h-.8zM262.5 166.6h.8v.8h-.8zM258.2 180.8h.8v.8h-.8zM249.6 177.3h.8v.8h-.8zM246.2 168.7h.8v.8h-.8zM266.5 171.4h.8v.8h-.8zM258.7 178.2h.8v.8h-.8zM269.7 178.7h.8v.8h-.8zM267.0 164.8h.8v.8h-.8zM270.4 177.5h.8v.8h-.8zM269.4 168.1h.8v.8h-.8zM255.7 170.4h.8v.8h-.8zM252.0 175.0h.8v.8h-.8zM271.5 180.0h.8v.8h-.8zM247.8 169.1h.8v.8h-.8zM260.4 177.9h.8v.8h-.8zM265.1 163.9h.8v.8h-.8zM261.0 179.2h.8v.8h-.8zM264.5 172.8h.8v.8h-.8zM275.2 172.3h.8v.8h-.8zM265.9 169.4h.8v.8h-.8zM260.1 166.1h.8v.8h-.8zM258.2 171.1h.8v.8h-.8zM251.7 167.9h.8v.8h-.8zM272.3 171.8h.8v.8h-.8zM269.3 177.1h.8v.8h-.8zM256.6 175.1h.8v.8h-.8zM263.6 178.8h.8v.8h-.8zM259.2 179.4h.8v.8h-.8zM273.6 179.0h.8v.8h-.8zM267.8 174.4h.8v.8h-.8zM269.1 175.1h.8v.8h-.8zM266.0 173.7h.8v.8h-.8zM270.2 176.2h.8v.8h-.8zM270.4 167.0h.8v.8h-.8zM256.6 167.4h.8v.8h-.8zM263.4 181.6h.8v.8h-.8zM259.5 176.6h.8v.8h-.8zM250.5 176.9h.8v.8h-.8zM263.8 172.0h.8v.8h-.8z"/>
<path fill="#8090a8" d="M260.6 182.0h.8v.8h-.8zM267.2 181.8h.8v.8h-.8zM258.5 181.6h.8v.8h-.8zM267.7 181.8h.8v.8h-.8zM268.2 181.5h.8v.8h-.8zM259.9 181.5h.8v.8h-.8zM256.9 181.6h.8v.8h-.8zM257.5 181.5h.8v.8h-.8zM270.6 181.8h.8v.8h-.8zM258.8 181.9h.8v.8h-.8zM264.5 181.4h.8v.8h-.8zM244.2 181.6h.8v.8h-.8zM273.7 181.6h.8v.8h-.8zM260.8 181.9h.8v.8h-.8zM260.3 181.0h.8v.8h-.8zM262.6 181.8h.8v.8h-.8zM258.2 181.3h.8v.8h-.8zM271.1 181.8h.8v.8h-.8zM272.4 181.8h.8v.8h-.8zM265.8 181.5h.8v.8h-.8zM249.3 181.8h.8v.8h-.8z"/>
<path fill="#a0a0b8" d="M268.7 181.4h.8v.8h-.8zM251.3 181.5h.8v.8h-.8zM279.7 181.9h.8v.8h-.8zM263.3 181.7h.8v.8h-.8zM258.4 181.1h.8v.8h-.8zM269.5 181.1h.8v.8h-.8zM257.9 182.0h.8v.8h-.8zM267.5 181.6h.8v.8h-.8zM269.0 181.6h.8v.8h-.8zM262.9 181.5h.8v.8h-.8zM271.0 181.6h.8v.8h-.8zM260.5 181.9h.8v.8h-.8zM267.5 181.9h.8v.8h-.8zM253.3 181.5h.8v.8h-.8zM250.5 181.7h.8v.8h-.8zM270.2 181.7h.8v.8h-.8zM269.5 181.2h.8v.8h-.8zM265.5 181.9h.8v.8h-.8zM261.9 182.0h.8v.8h-.8zM268.9 181.4h.8v.8h-.8zM249.9 181.1h.8v.8h-.8z"/></g>
</g>
<rect x="235.2" y="122.8" width="59.69999999999999" height="60.000000000000014" fill="none" stroke="#999" stroke-width="0.6"/>
<line x1="259.7" y1="122.8" x2="259.7" y2="182.8" stroke="#a888b0" stroke-width="0.7"/>
<line x1="235.2" y1="168.4" x2="294.9" y2="168.4" stroke="#d088a8" stroke-width="0.7"/>
<text x="231.8" y="124.2" font-size="3.7" text-anchor="end" fill="#777">10</text>
<text x="231.9" y="122.7" font-size="2.3" text-anchor="start" fill="#777">4</text>
<text x="231.8" y="139.2" font-size="3.7" text-anchor="end" fill="#777">10</text>
<text x="231.9" y="137.7" font-size="2.3" text-anchor="start" fill="#777">3</text>
<text x="231.8" y="154.2" font-size="3.7" text-anchor="end" fill="#777">10</text>
<text x="231.9" y="152.7" font-size="2.3" text-anchor="start" fill="#777">2</text>
<text x="231.8" y="169.2" font-size="3.7" text-anchor="end" fill="#777">10</text>
<text x="231.9" y="167.7" font-size="2.3" text-anchor="start" fill="#777">1</text>
<text x="231.8" y="184.2" font-size="3.7" text-anchor="end" fill="#777">10</text>
<text x="231.9" y="182.7" font-size="2.3" text-anchor="start" fill="#777">0</text>
<text x="234.6" y="188" font-size="3.7" text-anchor="middle" fill="#777">10</text>
<text x="236.6" y="186.5" font-size="2.3" text-anchor="start" fill="#777">0</text>
<text x="249.4" y="188" font-size="3.7" text-anchor="middle" fill="#777">10</text>
<text x="251.4" y="186.5" font-size="2.3" text-anchor="start" fill="#777">1</text>
<text x="264.4" y="188" font-size="3.7" text-anchor="middle" fill="#777">10</text>
<text x="266.4" y="186.5" font-size="2.3" text-anchor="start" fill="#777">2</text>
<text x="279.4" y="188" font-size="3.7" text-anchor="middle" fill="#777">10</text>
<text x="281.4" y="186.5" font-size="2.3" text-anchor="start" fill="#777">3</text>
<text x="294.29999999999995" y="188" font-size="3.7" text-anchor="middle" fill="#777">10</text>
<text x="296.29999999999995" y="186.5" font-size="2.3" text-anchor="start" fill="#777">4</text>
<text x="235.61" y="128.60" font-size="5.29" font-weight="bold" fill="#000" textLength="10.30" lengthAdjust="spacingAndGlyphs">28.7</text>
<text x="284.18" y="128.60" font-size="5.29" font-weight="bold" fill="#000" textLength="10.25" lengthAdjust="spacingAndGlyphs">10.1</text>
<text x="236.82" y="182.40" font-size="5.29" font-weight="bold" fill="#000" textLength="10.10" lengthAdjust="spacingAndGlyphs">27.2</text>
<text x="288.57" y="182.20" font-size="5.29" font-weight="bold" fill="#000" textLength="5.77" lengthAdjust="spacingAndGlyphs">34</text>
<clipPath id="clS2"><rect x="313.3" y="122.6" width="60.30000000000001" height="60.400000000000006"/></clipPath>
<g clip-path="url(#clS2)">
<g filter="url(#bd)"><path fill="#b0b8c0" d="M331.0 151.7h.8v.8h-.8zM324.6 158.6h.8v.8h-.8zM341.9 161.6h.8v.8h-.8zM345.6 152.2h.8v.8h-.8zM340.2 158.3h.8v.8h-.8zM347.4 172.2h.8v.8h-.8zM338.4 168.2h.8v.8h-.8zM341.1 154.2h.8v.8h-.8zM335.3 152.8h.8v.8h-.8zM341.9 181.6h.8v.8h-.8zM344.3 181.1h.8v.8h-.8zM332.4 158.7h.8v.8h-.8zM326.0 155.3h.8v.8h-.8zM354.9 167.3h.8v.8h-.8zM338.4 172.0h.8v.8h-.8zM333.2 160.1h.8v.8h-.8zM338.2 175.6h.8v.8h-.8zM340.4 163.9h.8v.8h-.8zM333.7 159.7h.8v.8h-.8zM335.7 169.2h.8v.8h-.8zM343.8 152.2h.8v.8h-.8zM336.6 162.8h.8v.8h-.8zM336.0 177.9h.8v.8h-.8zM325.3 172.6h.8v.8h-.8zM328.8 171.1h.8v.8h-.8zM345.9 174.4h.8v.8h-.8zM344.0 177.3h.8v.8h-.8zM340.3 160.9h.8v.8h-.8zM346.3 162.1h.8v.8h-.8zM340.2 172.2h.8v.8h-.8zM334.8 158.8h.8v.8h-.8zM329.9 177.5h.8v.8h-.8zM344.2 150.2h.8v.8h-.8zM335.1 178.7h.8v.8h-.8zM341.3 166.0h.8v.8h-.8zM344.0 173.7h.8v.8h-.8zM323.8 162.4h.8v.8h-.8zM322.3 160.7h.8v.8h-.8zM337.6 163.2h.8v.8h-.8zM342.3 164.8h.8v.8h-.8zM328.9 163.2h.8v.8h-.8zM336.6 157.4h.8v.8h-.8zM335.6 166.5h.8v.8h-.8zM342.3 159.0h.8v.8h-.8zM333.3 159.4h.8v.8h-.8zM341.2 171.4h.8v.8h-.8zM345.0 181.3h.8v.8h-.8zM327.9 170.3h.8v.8h-.8zM340.6 162.3h.8v.8h-.8zM346.8 158.3h.8v.8h-.8zM334.5 154.3h.8v.8h-.8zM329.6 177.3h.8v.8h-.8zM332.8 180.0h.8v.8h-.8zM344.5 166.1h.8v.8h-.8zM320.1 162.6h.8v.8h-.8zM325.5 149.6h.8v.8h-.8zM325.3 167.3h.8v.8h-.8zM338.5 170.9h.8v.8h-.8zM345.5 163.8h.8v.8h-.8zM343.3 163.0h.8v.8h-.8zM351.6 170.6h.8v.8h-.8zM347.1 169.8h.8v.8h-.8zM339.2 162.5h.8v.8h-.8zM338.7 168.0h.8v.8h-.8zM338.7 164.8h.8v.8h-.8zM337.3 160.3h.8v.8h-.8zM341.8 173.2h.8v.8h-.8zM329.6 153.3h.8v.8h-.8zM339.1 163.9h.8v.8h-.8zM324.2 168.3h.8v.8h-.8zM333.2 169.7h.8v.8h-.8zM331.3 151.3h.8v.8h-.8zM332.5 171.6h.8v.8h-.8zM329.8 153.9h.8v.8h-.8zM341.9 158.8h.8v.8h-.8zM343.2 160.2h.8v.8h-.8z"/>
<path fill="#c0b0c8" d="M338.8 162.6h.8v.8h-.8zM333.6 175.5h.8v.8h-.8zM330.5 181.4h.8v.8h-.8zM321.8 177.5h.8v.8h-.8zM343.2 160.7h.8v.8h-.8zM334.0 152.7h.8v.8h-.8zM330.3 163.7h.8v.8h-.8zM328.2 155.3h.8v.8h-.8zM341.1 150.6h.8v.8h-.8zM344.9 175.6h.8v.8h-.8zM334.7 158.7h.8v.8h-.8zM329.8 171.8h.8v.8h-.8zM336.3 164.9h.8v.8h-.8zM341.5 155.7h.8v.8h-.8zM324.9 150.2h.8v.8h-.8zM331.4 158.7h.8v.8h-.8zM341.2 165.4h.8v.8h-.8zM334.9 153.9h.8v.8h-.8zM340.4 158.8h.8v.8h-.8zM338.7 169.3h.8v.8h-.8zM333.2 140.7h.8v.8h-.8zM350.8 176.5h.8v.8h-.8zM344.0 167.7h.8v.8h-.8zM339.1 169.7h.8v.8h-.8zM338.6 166.2h.8v.8h-.8zM342.9 176.7h.8v.8h-.8zM349.2 166.1h.8v.8h-.8zM339.2 175.3h.8v.8h-.8zM337.7 165.0h.8v.8h-.8zM343.9 175.6h.8v.8h-.8zM339.8 165.6h.8v.8h-.8zM338.6 161.9h.8v.8h-.8zM325.9 156.0h.8v.8h-.8zM352.2 164.6h.8v.8h-.8zM341.3 165.8h.8v.8h-.8zM339.8 169.6h.8v.8h-.8zM333.4 162.8h.8v.8h-.8zM339.9 177.5h.8v.8h-.8zM344.8 166.7h.8v.8h-.8zM328.4 156.3h.8v.8h-.8zM343.5 160.1h.8v.8h-.8zM333.5 162.8h.8v.8h-.8zM314.9 171.8h.8v.8h-.8zM328.8 173.5h.8v.8h-.8zM340.7 160.2h.8v.8h-.8zM347.9 168.4h.8v.8h-.8zM331.9 174.4h.8v.8h-.8zM334.0 172.8h.8v.8h-.8zM319.6 166.4h.8v.8h-.8zM336.5 160.2h.8v.8h-.8zM336.3 169.1h.8v.8h-.8zM330.6 174.6h.8v.8h-.8zM343.3 162.6h.8v.8h-.8zM330.8 165.6h.8v.8h-.8zM339.3 167.8h.8v.8h-.8zM327.9 178.0h.8v.8h-.8zM336.1 178.1h.8v.8h-.8zM332.0 151.3h.8v.8h-.8zM331.2 169.1h.8v.8h-.8zM335.1 163.6h.8v.8h-.8zM339.7 156.0h.8v.8h-.8zM336.9 174.9h.8v.8h-.8zM342.7 172.1h.8v.8h-.8zM342.2 143.0h.8v.8h-.8zM340.1 162.7h.8v.8h-.8zM346.0 166.1h.8v.8h-.8zM340.7 174.5h.8v.8h-.8zM346.1 177.8h.8v.8h-.8zM343.7 162.2h.8v.8h-.8zM345.4 178.7h.8v.8h-.8z"/>
<path fill="#d0c0d0" d="M338.9 165.7h.8v.8h-.8zM336.6 164.2h.8v.8h-.8zM355.9 163.7h.8v.8h-.8zM339.1 159.8h.8v.8h-.8zM333.2 162.7h.8v.8h-.8zM325.6 151.4h.8v.8h-.8zM331.4 160.7h.8v.8h-.8zM351.1 167.6h.8v.8h-.8zM335.0 162.3h.8v.8h-.8zM330.9 151.9h.8v.8h-.8zM337.0 171.9h.8v.8h-.8zM340.6 168.2h.8v.8h-.8zM351.7 155.9h.8v.8h-.8zM328.6 163.7h.8v.8h-.8zM328.3 166.8h.8v.8h-.8zM353.4 160.9h.8v.8h-.8zM329.8 168.1h.8v.8h-.8zM332.7 161.5h.8v.8h-.8zM348.6 174.4h.8v.8h-.8zM322.9 182.1h.8v.8h-.8zM346.2 178.4h.8v.8h-.8zM323.7 150.4h.8v.8h-.8zM336.2 155.7h.8v.8h-.8zM337.9 172.9h.8v.8h-.8zM343.9 164.0h.8v.8h-.8zM332.9 171.7h.8v.8h-.8zM331.3 161.3h.8v.8h-.8zM329.5 166.2h.8v.8h-.8zM333.2 171.7h.8v.8h-.8zM334.4 179.3h.8v.8h-.8zM336.5 175.2h.8v.8h-.8zM341.5 158.7h.8v.8h-.8zM343.9 159.2h.8v.8h-.8zM334.8 163.3h.8v.8h-.8zM347.2 175.1h.8v.8h-.8zM324.1 150.6h.8v.8h-.8zM338.9 169.8h.8v.8h-.8zM333.8 165.9h.8v.8h-.8zM332.9 172.4h.8v.8h-.8zM315.6 160.3h.8v.8h-.8zM328.6 159.6h.8v.8h-.8zM334.3 175.1h.8v.8h-.8zM339.3 167.7h.8v.8h-.8zM339.0 165.7h.8v.8h-.8zM329.9 160.7h.8v.8h-.8zM329.9 160.1h.8v.8h-.8zM340.0 161.8h.8v.8h-.8zM342.2 159.7h.8v.8h-.8zM337.2 156.7h.8v.8h-.8zM345.8 168.2h.8v.8h-.8zM342.1 169.8h.8v.8h-.8zM337.5 147.6h.8v.8h-.8zM341.5 172.9h.8v.8h-.8zM332.7 168.0h.8v.8h-.8zM342.1 164.1h.8v.8h-.8zM338.0 167.2h.8v.8h-.8zM342.8 161.9h.8v.8h-.8zM345.3 161.0h.8v.8h-.8zM334.1 173.2h.8v.8h-.8zM335.0 164.0h.8v.8h-.8zM351.2 171.9h.8v.8h-.8zM329.1 168.8h.8v.8h-.8zM346.2 160.9h.8v.8h-.8zM327.6 174.7h.8v.8h-.8zM331.3 167.3h.8v.8h-.8zM335.0 176.8h.8v.8h-.8zM330.4 166.3h.8v.8h-.8zM342.8 168.7h.8v.8h-.8zM338.4 168.3h.8v.8h-.8zM337.3 158.7h.8v.8h-.8zM337.4 165.8h.8v.8h-.8zM318.2 159.2h.8v.8h-.8zM337.1 158.6h.8v.8h-.8zM334.9 167.1h.8v.8h-.8zM325.7 165.5h.8v.8h-.8zM349.2 164.9h.8v.8h-.8zM344.1 159.7h.8v.8h-.8zM324.9 163.7h.8v.8h-.8zM335.7 164.4h.8v.8h-.8zM334.0 174.3h.8v.8h-.8zM340.9 170.4h.8v.8h-.8zM344.3 177.6h.8v.8h-.8zM330.3 166.7h.8v.8h-.8zM331.1 174.8h.8v.8h-.8zM336.9 161.3h.8v.8h-.8zM343.4 159.4h.8v.8h-.8zM330.1 176.8h.8v.8h-.8zM344.1 159.1h.8v.8h-.8zM329.8 157.7h.8v.8h-.8zM336.4 171.9h.8v.8h-.8zM341.1 157.8h.8v.8h-.8zM332.4 161.1h.8v.8h-.8zM348.9 159.6h.8v.8h-.8zM332.9 157.6h.8v.8h-.8zM345.0 178.0h.8v.8h-.8zM337.9 179.2h.8v.8h-.8zM335.4 173.4h.8v.8h-.8zM334.4 165.1h.8v.8h-.8z"/>
<path fill="#b8bcc8" d="M334.0 177.5h.8v.8h-.8zM347.6 146.8h.8v.8h-.8zM332.1 161.9h.8v.8h-.8zM348.8 154.8h.8v.8h-.8zM334.1 162.3h.8v.8h-.8zM343.1 169.0h.8v.8h-.8zM342.8 173.3h.8v.8h-.8zM337.7 174.9h.8v.8h-.8zM337.2 159.1h.8v.8h-.8zM331.3 176.8h.8v.8h-.8zM329.7 164.5h.8v.8h-.8zM339.4 172.6h.8v.8h-.8zM340.0 172.4h.8v.8h-.8zM330.3 172.6h.8v.8h-.8zM329.5 159.4h.8v.8h-.8zM335.7 168.5h.8v.8h-.8zM343.9 165.0h.8v.8h-.8zM344.5 172.2h.8v.8h-.8zM353.7 178.2h.8v.8h-.8zM338.3 171.3h.8v.8h-.8zM337.0 178.1h.8v.8h-.8zM351.2 156.5h.8v.8h-.8zM348.5 157.8h.8v.8h-.8zM326.0 166.3h.8v.8h-.8zM347.4 149.0h.8v.8h-.8zM338.8 169.7h.8v.8h-.8zM339.4 178.2h.8v.8h-.8zM344.4 174.2h.8v.8h-.8zM326.9 180.2h.8v.8h-.8zM350.7 178.3h.8v.8h-.8zM342.2 171.9h.8v.8h-.8zM329.6 159.1h.8v.8h-.8zM346.3 163.5h.8v.8h-.8zM338.0 160.5h.8v.8h-.8zM345.9 161.8h.8v.8h-.8zM341.2 166.5h.8v.8h-.8zM343.5 173.4h.8v.8h-.8zM338.2 158.1h.8v.8h-.8zM340.6 153.9h.8v.8h-.8zM344.2 154.7h.8v.8h-.8zM329.1 168.1h.8v.8h-.8zM343.9 155.5h.8v.8h-.8zM329.1 169.1h.8v.8h-.8zM330.1 169.9h.8v.8h-.8zM330.7 172.6h.8v.8h-.8zM333.2 180.0h.8v.8h-.8zM329.0 181.3h.8v.8h-.8zM347.5 173.7h.8v.8h-.8zM344.0 158.5h.8v.8h-.8zM341.0 162.5h.8v.8h-.8zM323.9 161.8h.8v.8h-.8zM337.9 163.7h.8v.8h-.8zM337.6 177.6h.8v.8h-.8zM337.2 163.2h.8v.8h-.8zM349.4 164.3h.8v.8h-.8zM356.2 169.6h.8v.8h-.8zM347.4 163.3h.8v.8h-.8zM341.3 179.6h.8v.8h-.8zM332.9 173.7h.8v.8h-.8zM335.0 171.9h.8v.8h-.8zM335.9 148.8h.8v.8h-.8zM334.8 168.6h.8v.8h-.8zM337.3 157.8h.8v.8h-.8zM350.8 166.9h.8v.8h-.8zM339.2 167.4h.8v.8h-.8zM345.0 168.5h.8v.8h-.8zM326.3 155.5h.8v.8h-.8zM349.2 167.5h.8v.8h-.8zM357.3 171.4h.8v.8h-.8z"/>
<path fill="#c8c8d0" d="M354.6 173.2h.8v.8h-.8zM336.3 162.4h.8v.8h-.8zM323.2 168.5h.8v.8h-.8zM332.5 143.7h.8v.8h-.8zM334.3 167.0h.8v.8h-.8zM335.6 163.4h.8v.8h-.8zM328.2 162.6h.8v.8h-.8zM328.9 168.3h.8v.8h-.8zM334.4 174.6h.8v.8h-.8zM329.7 172.5h.8v.8h-.8zM335.1 164.7h.8v.8h-.8zM337.2 180.3h.8v.8h-.8zM326.0 167.1h.8v.8h-.8zM339.5 152.9h.8v.8h-.8zM347.3 170.1h.8v.8h-.8zM335.7 174.5h.8v.8h-.8zM344.2 156.3h.8v.8h-.8zM339.1 167.5h.8v.8h-.8zM337.0 157.3h.8v.8h-.8zM343.1 169.0h.8v.8h-.8zM336.9 180.9h.8v.8h-.8zM330.5 162.5h.8v.8h-.8zM343.1 166.0h.8v.8h-.8zM337.6 162.9h.8v.8h-.8zM322.2 161.7h.8v.8h-.8zM340.5 181.5h.8v.8h-.8zM331.5 172.7h.8v.8h-.8zM338.7 163.4h.8v.8h-.8zM333.2 167.7h.8v.8h-.8zM341.0 168.5h.8v.8h-.8zM339.3 163.8h.8v.8h-.8zM337.3 165.9h.8v.8h-.8zM338.8 159.5h.8v.8h-.8zM330.5 158.3h.8v.8h-.8zM317.0 175.4h.8v.8h-.8zM321.3 173.5h.8v.8h-.8zM344.9 165.8h.8v.8h-.8zM334.5 163.1h.8v.8h-.8zM329.8 157.6h.8v.8h-.8zM345.0 173.9h.8v.8h-.8zM335.7 156.7h.8v.8h-.8zM339.0 175.9h.8v.8h-.8zM336.1 163.7h.8v.8h-.8zM337.8 172.0h.8v.8h-.8zM337.0 159.6h.8v.8h-.8zM328.7 178.6h.8v.8h-.8zM323.7 162.2h.8v.8h-.8zM332.2 166.2h.8v.8h-.8zM337.5 178.3h.8v.8h-.8zM340.1 166.3h.8v.8h-.8zM350.1 158.4h.8v.8h-.8zM348.5 169.9h.8v.8h-.8zM347.8 153.9h.8v.8h-.8zM338.3 161.9h.8v.8h-.8zM331.8 165.2h.8v.8h-.8zM331.6 164.9h.8v.8h-.8zM345.4 172.9h.8v.8h-.8zM335.3 173.0h.8v.8h-.8zM341.3 172.6h.8v.8h-.8zM341.6 143.5h.8v.8h-.8zM343.3 168.6h.8v.8h-.8zM338.0 172.9h.8v.8h-.8zM338.3 171.3h.8v.8h-.8zM343.1 163.9h.8v.8h-.8zM344.6 157.0h.8v.8h-.8zM331.2 159.4h.8v.8h-.8zM323.3 177.5h.8v.8h-.8zM337.9 172.8h.8v.8h-.8zM337.4 170.3h.8v.8h-.8zM344.2 161.2h.8v.8h-.8zM347.7 169.7h.8v.8h-.8zM340.6 157.2h.8v.8h-.8zM328.3 170.4h.8v.8h-.8zM329.4 169.2h.8v.8h-.8zM337.2 157.9h.8v.8h-.8zM328.7 167.1h.8v.8h-.8zM325.6 175.5h.8v.8h-.8zM347.3 170.3h.8v.8h-.8zM331.8 158.0h.8v.8h-.8zM326.7 151.1h.8v.8h-.8zM338.1 172.3h.8v.8h-.8zM333.0 158.4h.8v.8h-.8zM350.2 161.3h.8v.8h-.8zM333.4 156.9h.8v.8h-.8zM330.0 163.5h.8v.8h-.8zM337.9 171.8h.8v.8h-.8zM324.2 164.5h.8v.8h-.8zM329.5 169.4h.8v.8h-.8zM342.0 159.9h.8v.8h-.8z"/>
<path fill="#a0a0b0" d="M333.0 182.0h.8v.8h-.8zM337.7 182.0h.8v.8h-.8zM330.9 181.9h.8v.8h-.8zM328.0 181.9h.8v.8h-.8zM331.8 181.9h.8v.8h-.8zM356.6 181.9h.8v.8h-.8zM330.7 181.8h.8v.8h-.8zM336.1 181.9h.8v.8h-.8zM327.6 181.4h.8v.8h-.8zM341.5 182.1h.8v.8h-.8zM330.7 181.8h.8v.8h-.8zM334.2 182.1h.8v.8h-.8zM343.1 182.0h.8v.8h-.8zM340.8 181.6h.8v.8h-.8zM332.0 181.8h.8v.8h-.8zM338.2 181.6h.8v.8h-.8zM356.1 181.8h.8v.8h-.8zM346.0 181.7h.8v.8h-.8zM341.4 182.0h.8v.8h-.8z"/>
<path fill="#b0a8c0" d="M330.4 182.0h.8v.8h-.8zM341.2 180.8h.8v.8h-.8zM333.0 180.9h.8v.8h-.8zM333.5 181.9h.8v.8h-.8zM346.5 181.7h.8v.8h-.8zM340.4 181.6h.8v.8h-.8zM340.0 181.8h.8v.8h-.8zM353.6 181.4h.8v.8h-.8zM348.1 182.1h.8v.8h-.8zM331.0 182.0h.8v.8h-.8zM332.0 181.8h.8v.8h-.8zM339.8 181.7h.8v.8h-.8zM335.7 181.1h.8v.8h-.8zM337.1 181.9h.8v.8h-.8zM349.2 182.0h.8v.8h-.8z"/></g>
</g>
<rect x="313.3" y="122.6" width="60.30000000000001" height="60.400000000000006" fill="none" stroke="#999" stroke-width="0.6"/>
<line x1="338.5" y1="122.6" x2="338.5" y2="183" stroke="#a888b0" stroke-width="0.7"/>
<line x1="313.3" y1="167.9" x2="373.6" y2="167.9" stroke="#d088a8" stroke-width="0.7"/>
<text x="309.8" y="124.2" font-size="3.7" text-anchor="end" fill="#777">10</text>
<text x="309.9" y="122.7" font-size="2.3" text-anchor="start" fill="#777">4</text>
<text x="309.8" y="139.2" font-size="3.7" text-anchor="end" fill="#777">10</text>
<text x="309.9" y="137.7" font-size="2.3" text-anchor="start" fill="#777">3</text>
<text x="309.8" y="154.2" font-size="3.7" text-anchor="end" fill="#777">10</text>
<text x="309.9" y="152.7" font-size="2.3" text-anchor="start" fill="#777">2</text>
<text x="309.8" y="169.2" font-size="3.7" text-anchor="end" fill="#777">10</text>
<text x="309.9" y="167.7" font-size="2.3" text-anchor="start" fill="#777">1</text>
<text x="309.8" y="184.2" font-size="3.7" text-anchor="end" fill="#777">10</text>
<text x="309.9" y="182.7" font-size="2.3" text-anchor="start" fill="#777">0</text>
<text x="312.7" y="188" font-size="3.7" text-anchor="middle" fill="#777">10</text>
<text x="314.7" y="186.5" font-size="2.3" text-anchor="start" fill="#777">0</text>
<text x="327.7" y="188" font-size="3.7" text-anchor="middle" fill="#777">10</text>
<text x="329.7" y="186.5" font-size="2.3" text-anchor="start" fill="#777">1</text>
<text x="342.79999999999995" y="188" font-size="3.7" text-anchor="middle" fill="#777">10</text>
<text x="344.79999999999995" y="186.5" font-size="2.3" text-anchor="start" fill="#777">2</text>
<text x="357.9" y="188" font-size="3.7" text-anchor="middle" fill="#777">10</text>
<text x="359.9" y="186.5" font-size="2.3" text-anchor="start" fill="#777">3</text>
<text x="373.0" y="188" font-size="3.7" text-anchor="middle" fill="#777">10</text>
<text x="375.0" y="186.5" font-size="2.3" text-anchor="start" fill="#777">4</text>
<text x="314.65" y="128.60" font-size="5.29" font-weight="bold" fill="#000" textLength="9.99" lengthAdjust="spacingAndGlyphs">8.94</text>
<text x="362.08" y="128.60" font-size="5.29" font-weight="bold" fill="#000" textLength="10.11" lengthAdjust="spacingAndGlyphs">11.6</text>
<text x="314.46" y="182.20" font-size="5.29" font-weight="bold" fill="#000" textLength="10.97" lengthAdjust="spacingAndGlyphs">39.7</text>
<text x="362.17" y="182.20" font-size="5.29" font-weight="bold" fill="#000" textLength="9.94" lengthAdjust="spacingAndGlyphs">39.7</text>
<line x1="219.8" y1="197.2" x2="219.8" y2="171" stroke="#222" stroke-width="0.7"/>
<path d="M219.80,171.00 L221.00,173.50 L219.80,172.90 L218.60,173.50 Z" fill="#222"/>
<line x1="219.8" y1="197.2" x2="246" y2="197.2" stroke="#222" stroke-width="0.7"/>
<path d="M246.00,197.20 L243.50,198.40 L244.10,197.20 L243.50,196.00 Z" fill="#222"/>
<text x="217.40" y="191.96" font-size="7.14" font-weight="bold" fill="#000" textLength="13.16" lengthAdjust="spacingAndGlyphs" transform="rotate(-90 217.40 191.96)">CD8</text>
<text x="227.55" y="202.80" font-size="6.00" font-weight="bold" fill="#000" textLength="12.38" lengthAdjust="spacingAndGlyphs">CD4</text>
<text x="413.38" y="13.50" font-size="16.96" font-weight="bold" fill="#000" textLength="11.45" lengthAdjust="spacingAndGlyphs">E</text>
<line x1="444.6" y1="20.8" x2="444.6" y2="155.1" stroke="#000" stroke-width="0.9"/>
<line x1="444.6" y1="154.6" x2="517" y2="154.6" stroke="#000" stroke-width="0.9"/>
<line x1="441.6" y1="42.80000000000001" x2="444.6" y2="42.80000000000001" stroke="#000" stroke-width="0.8"/>
<line x1="441.6" y1="98.7" x2="444.6" y2="98.7" stroke="#000" stroke-width="0.8"/>
<line x1="441.6" y1="154.6" x2="444.6" y2="154.6" stroke="#000" stroke-width="0.8"/>
<text x="428.13" y="46.00" font-size="7.57" font-weight="bold" fill="#000" textLength="13.01" lengthAdjust="spacingAndGlyphs">100</text>
<text x="432.96" y="101.90" font-size="7.43" font-weight="bold" fill="#000" textLength="8.77" lengthAdjust="spacingAndGlyphs">50</text>
<text x="437.06" y="156.60" font-size="7.43" font-weight="bold" fill="#000" textLength="4.68" lengthAdjust="spacingAndGlyphs">0</text>
<line x1="452.15" y1="23.3468" x2="452.15" y2="51.63220000000001" stroke="#777" stroke-width="0.7"/>
<line x1="449.65" y1="23.3468" x2="454.65" y2="23.3468" stroke="#777" stroke-width="0.7"/>
<rect x="447" y="51.63220000000001" width="10.300000000000011" height="102.96779999999998" fill="#000" stroke="none" stroke-width="1"/>
<line x1="466.75" y1="114.352" x2="466.75" y2="121.95439999999999" stroke="#777" stroke-width="0.7"/>
<line x1="464.25" y1="114.352" x2="469.25" y2="114.352" stroke="#777" stroke-width="0.7"/>
<rect x="461.7" y="121.95439999999999" width="10.100000000000023" height="32.6456" fill="#000" stroke="none" stroke-width="1"/>
<line x1="481.65" y1="133.358" x2="481.65" y2="136.4884" stroke="#777" stroke-width="0.7"/>
<line x1="479.15" y1="133.358" x2="484.15" y2="133.358" stroke="#777" stroke-width="0.7"/>
<rect x="476.5" y="136.4884" width="10.300000000000011" height="18.11159999999998" fill="#000" stroke="none" stroke-width="1"/>
<line x1="496.55" y1="149.1218" x2="496.55" y2="149.90439999999998" stroke="#777" stroke-width="0.7"/>
<line x1="494.05" y1="149.1218" x2="499.05" y2="149.1218" stroke="#777" stroke-width="0.7"/>
<rect x="491.6" y="149.90439999999998" width="9.899999999999977" height="4.695600000000013" fill="#000" stroke="none" stroke-width="1"/>
<line x1="511.29999999999995" y1="149.6808" x2="511.29999999999995" y2="150.3516" stroke="#777" stroke-width="0.7"/>
<line x1="508.79999999999995" y1="149.6808" x2="513.8" y2="149.6808" stroke="#777" stroke-width="0.7"/>
<rect x="506.2" y="150.3516" width="10.199999999999989" height="4.248400000000004" fill="#000" stroke="none" stroke-width="1"/>
<path d="M451.90,10.40 L452.63,11.89 L454.28,12.13 L453.09,13.29 L453.37,14.92 L451.90,14.15 L450.43,14.92 L450.71,13.29 L449.52,12.13 L451.17,11.89Z" fill="#000"/>
<text x="422.00" y="113.33" font-size="7.72" font-weight="bold" fill="#000" textLength="55.32" lengthAdjust="spacingAndGlyphs" transform="rotate(-90 422.00 113.33)">Fold Decrease</text>
<text x="0" y="0" font-size="8.6" font-weight="bold" text-anchor="end" transform="translate(454.2 161.2) rotate(-45)">CD8</text>
<line x1="452" y1="154.6" x2="452" y2="156.79999999999998" stroke="#000" stroke-width="0.7"/>
<text x="0" y="0" font-size="8.6" font-weight="bold" text-anchor="end" transform="translate(469.0 161.2) rotate(-45)">CD4</text>
<line x1="466.8" y1="154.6" x2="466.8" y2="156.79999999999998" stroke="#000" stroke-width="0.7"/>
<text x="0" y="0" font-size="8.6" font-weight="bold" text-anchor="end" transform="translate(483.9 161.2) rotate(-45)">DN</text>
<line x1="481.7" y1="154.6" x2="481.7" y2="156.79999999999998" stroke="#000" stroke-width="0.7"/>
<text x="0" y="0" font-size="8.6" font-weight="bold" text-anchor="end" transform="translate(498.7 161.2) rotate(-45)">Skin-Derived</text>
<line x1="496.5" y1="154.6" x2="496.5" y2="156.79999999999998" stroke="#000" stroke-width="0.7"/>
<text x="0" y="0" font-size="8.6" font-weight="bold" text-anchor="end" transform="translate(513.5 161.2) rotate(-45)">pDCs</text>
<line x1="511.3" y1="154.6" x2="511.3" y2="156.79999999999998" stroke="#000" stroke-width="0.7"/>
<text x="212.26" y="231.20" font-size="16.67" font-weight="bold" fill="#000" textLength="12.68" lengthAdjust="spacingAndGlyphs">D</text>
<text x="253.79" y="233.60" font-size="6.34" font-weight="bold" fill="#000" textLength="108.83" lengthAdjust="spacingAndGlyphs">percentage in total lymphocytes (%)</text>
<text x="389.11" y="234.00" font-size="6.21" font-weight="bold" fill="#000" textLength="65.95" lengthAdjust="spacingAndGlyphs">absolute number (x10</text>
<text x="455.0" y="231.6" font-size="3.6" font-weight="bold" text-anchor="start" fill="#000">6</text>
<text x="457.40" y="234.00" font-size="6.21" font-weight="bold" fill="#000" textLength="2.57" lengthAdjust="spacingAndGlyphs">)</text>
<text x="220.38" y="252.20" font-size="6.21" font-weight="bold" fill="#000" textLength="27.41" lengthAdjust="spacingAndGlyphs">Resident</text>
<text x="228.39" y="265.30" font-size="6.43" font-weight="bold" fill="#000" textLength="12.67" lengthAdjust="spacingAndGlyphs">DCs</text>
<text x="212.80" y="330.20" font-size="6.07" font-weight="bold" fill="#000" textLength="40.52" lengthAdjust="spacingAndGlyphs">Skin-Derived</text>
<text x="227.37" y="342.70" font-size="5.71" font-weight="bold" fill="#000" textLength="13.30" lengthAdjust="spacingAndGlyphs">DCs</text>
<text x="228.57" y="409.10" font-size="6.14" font-weight="bold" fill="#000" textLength="17.20" lengthAdjust="spacingAndGlyphs">pDCs</text>
<line x1="257.6" y1="241.2" x2="359" y2="241.2" stroke="#888" stroke-width="1.2"/>
<line x1="359" y1="241.2" x2="359" y2="297.8" stroke="#999" stroke-width="0.8"/>
<line x1="257.6" y1="241.2" x2="257.6" y2="297.8" stroke="#777" stroke-width="0.8"/>
<line x1="257.6" y1="297.8" x2="359" y2="297.8" stroke="#777" stroke-width="0.8"/>
<line x1="257.6" y1="269.5" x2="359" y2="269.5" stroke="#666" stroke-width="0.9"/>
<line x1="256.1" y1="241.2" x2="257.6" y2="241.2" stroke="#555" stroke-width="0.5"/>
<text x="255.70000000000002" y="242.95" font-size="5.0" font-weight="bold" text-anchor="end" fill="#111">2</text>
<line x1="256.1" y1="269.5" x2="257.6" y2="269.5" stroke="#555" stroke-width="0.5"/>
<text x="255.70000000000002" y="271.25" font-size="5.0" font-weight="bold" text-anchor="end" fill="#111">1</text>
<line x1="256.1" y1="297.8" x2="257.6" y2="297.8" stroke="#555" stroke-width="0.5"/>
<text x="255.70000000000002" y="299.55" font-size="5.0" font-weight="bold" text-anchor="end" fill="#111">0</text>
<line x1="267.6" y1="279.971" x2="267.6" y2="280.53700000000003" stroke="#555" stroke-width="0.6"/>
<line x1="266.0" y1="279.971" x2="269.20000000000005" y2="279.971" stroke="#555" stroke-width="0.6"/>
<rect x="263.45000000000005" y="292.14" width="8.3" height="5.660000000000003" fill="#000" stroke="none" stroke-width="1"/>
<rect x="263.45000000000005" y="285.914" width="8.3" height="6.226000000000003" fill="#777" stroke="none" stroke-width="1"/>
<rect x="263.45000000000005" y="280.537" width="8.3" height="5.3770000000000024" fill="#fff" stroke="#000" stroke-width="0.5"/>
<line x1="287.8" y1="290.159" x2="287.8" y2="291.291" stroke="#555" stroke-width="0.6"/>
<line x1="286.2" y1="290.159" x2="289.40000000000003" y2="290.159" stroke="#555" stroke-width="0.6"/>
<rect x="283.65000000000003" y="296.10200000000003" width="8.3" height="1.6980000000000006" fill="#000" stroke="none" stroke-width="1"/>
<rect x="283.65000000000003" y="293.272" width="8.3" height="2.8300000000000014" fill="#777" stroke="none" stroke-width="1"/>
<rect x="283.65000000000003" y="291.291" width="8.3" height="1.981000000000001" fill="#fff" stroke="#000" stroke-width="0.5"/>
<line x1="308.2" y1="294.97" x2="308.2" y2="295.253" stroke="#555" stroke-width="0.6"/>
<line x1="306.59999999999997" y1="294.97" x2="309.8" y2="294.97" stroke="#555" stroke-width="0.6"/>
<rect x="304.05" y="297.23400000000004" width="8.3" height="0.5660000000000003" fill="#000" stroke="none" stroke-width="1"/>
<rect x="304.05" y="296.10200000000003" width="8.3" height="1.1320000000000006" fill="#777" stroke="none" stroke-width="1"/>
<rect x="304.05" y="295.253" width="8.3" height="0.8490000000000003" fill="#fff" stroke="#000" stroke-width="0.5"/>
<line x1="328.4" y1="254.784" x2="328.4" y2="258.746" stroke="#555" stroke-width="0.6"/>
<line x1="326.79999999999995" y1="254.784" x2="330.0" y2="254.784" stroke="#555" stroke-width="0.6"/>
<rect x="324.25" y="284.782" width="8.3" height="13.018000000000006" fill="#000" stroke="none" stroke-width="1"/>
<rect x="324.25" y="274.311" width="8.3" height="10.471000000000004" fill="#777" stroke="none" stroke-width="1"/>
<rect x="324.25" y="258.746" width="8.3" height="15.565000000000008" fill="#fff" stroke="#000" stroke-width="0.5"/>
<line x1="348.6" y1="278.556" x2="348.6" y2="279.122" stroke="#555" stroke-width="0.6"/>
<line x1="347.0" y1="278.556" x2="350.20000000000005" y2="278.556" stroke="#555" stroke-width="0.6"/>
<rect x="344.45000000000005" y="291.574" width="8.3" height="6.226000000000003" fill="#000" stroke="none" stroke-width="1"/>
<rect x="344.45000000000005" y="285.348" width="8.3" height="6.226000000000003" fill="#777" stroke="none" stroke-width="1"/>
<rect x="344.45000000000005" y="279.122" width="8.3" height="6.226000000000003" fill="#fff" stroke="#000" stroke-width="0.5"/>
<path d="M287.50,278.90 L288.23,280.39 L289.88,280.63 L288.69,281.79 L288.97,283.42 L287.50,282.65 L286.03,283.42 L286.31,281.79 L285.12,280.63 L286.77,280.39Z" fill="#000"/>
<path d="M308.60,278.60 L309.33,280.09 L310.98,280.33 L309.79,281.49 L310.07,283.12 L308.60,282.35 L307.13,283.12 L307.41,281.49 L306.22,280.33 L307.87,280.09Z" fill="#000"/>
<text x="258.87" y="305.50" font-size="5.24" font-weight="bold" fill="#000" textLength="16.98" lengthAdjust="spacingAndGlyphs">naive</text>
<text x="280.74" y="305.50" font-size="5.24" font-weight="bold" fill="#000" textLength="14.71" lengthAdjust="spacingAndGlyphs">day2</text>
<text x="301.54" y="305.50" font-size="5.24" font-weight="bold" fill="#000" textLength="14.58" lengthAdjust="spacingAndGlyphs">day4</text>
<text x="322.04" y="305.50" font-size="5.24" font-weight="bold" fill="#000" textLength="14.61" lengthAdjust="spacingAndGlyphs">day7</text>
<text x="340.05" y="305.50" font-size="5.24" font-weight="bold" fill="#000" textLength="17.77" lengthAdjust="spacingAndGlyphs">day16</text>
<rect x="263.40" y="246.90" width="10.8" height="2.8" rx="1.3" fill="#fff" stroke="#111" stroke-width="0.6"/>
<rect x="263.40" y="253.90" width="10.8" height="2.8" rx="1.3" fill="#777" stroke="#555" stroke-width="0.4"/>
<rect x="263.40" y="261.10" width="10.8" height="2.8" rx="1.3" fill="#000"/>
<text x="278.75" y="249.60" font-size="4.86" font-weight="bold" fill="#000" textLength="12.54" lengthAdjust="spacingAndGlyphs">CD8</text>
<rect x="291.90" y="246.20" width="1.5" height="0.6" fill="#000"/>
<text x="294.65" y="249.60" font-size="4.86" font-weight="bold" fill="#000" textLength="12.69" lengthAdjust="spacingAndGlyphs">CD4</text>
<rect x="308.30" y="246.20" width="1.3" height="0.6" fill="#000"/>
<text x="278.75" y="257.30" font-size="5.29" font-weight="bold" fill="#000" textLength="12.38" lengthAdjust="spacingAndGlyphs">CD4</text>
<text x="292.1000000000001" y="254.49999999999997" font-size="4.4" font-weight="bold" text-anchor="start" fill="#000">+</text>
<text x="278.75" y="265.10" font-size="5.29" font-weight="bold" fill="#000" textLength="12.54" lengthAdjust="spacingAndGlyphs">CD8</text>
<text x="292.6000000000001" y="262.2" font-size="4.4" font-weight="bold" text-anchor="start" fill="#000">+</text>
<line x1="375.5" y1="241.3" x2="476.2" y2="241.3" stroke="#888" stroke-width="1.2"/>
<line x1="476.2" y1="241.3" x2="476.2" y2="297.3" stroke="#999" stroke-width="0.8"/>
<line x1="375.5" y1="241.3" x2="375.5" y2="297.3" stroke="#777" stroke-width="0.8"/>
<line x1="375.5" y1="297.3" x2="476.2" y2="297.3" stroke="#777" stroke-width="0.8"/>
<line x1="375.5" y1="269.3" x2="476.2" y2="269.3" stroke="#666" stroke-width="0.9"/>
<line x1="374.0" y1="241.3" x2="375.5" y2="241.3" stroke="#555" stroke-width="0.5"/>
<text x="373.6" y="243.05" font-size="5.0" font-weight="bold" text-anchor="end" fill="#111">0.3</text>
<line x1="374.0" y1="269.3" x2="375.5" y2="269.3" stroke="#555" stroke-width="0.5"/>
<text x="373.6" y="271.05" font-size="5.0" font-weight="bold" text-anchor="end" fill="#111">0.15</text>
<line x1="374.0" y1="297.3" x2="375.5" y2="297.3" stroke="#555" stroke-width="0.5"/>
<text x="373.6" y="299.05" font-size="5.0" font-weight="bold" text-anchor="end" fill="#111">0</text>
<line x1="385.1" y1="248.20666666666668" x2="385.1" y2="251.56666666666666" stroke="#555" stroke-width="0.6"/>
<line x1="383.5" y1="248.20666666666668" x2="386.70000000000005" y2="248.20666666666668" stroke="#555" stroke-width="0.6"/>
<rect x="380.95000000000005" y="282.18" width="8.3" height="15.120000000000003" fill="#000" stroke="none" stroke-width="1"/>
<rect x="380.95000000000005" y="265.94" width="8.3" height="16.240000000000002" fill="#777" stroke="none" stroke-width="1"/>
<rect x="380.95000000000005" y="251.56666666666666" width="8.3" height="14.373333333333335" fill="#fff" stroke="#000" stroke-width="0.5"/>
<line x1="405.3" y1="287.9666666666667" x2="405.3" y2="288.90000000000003" stroke="#555" stroke-width="0.6"/>
<line x1="403.7" y1="287.9666666666667" x2="406.90000000000003" y2="287.9666666666667" stroke="#555" stroke-width="0.6"/>
<rect x="401.15000000000003" y="294.12666666666667" width="8.3" height="3.173333333333334" fill="#000" stroke="none" stroke-width="1"/>
<rect x="401.15000000000003" y="291.5133333333333" width="8.3" height="2.6133333333333337" fill="#777" stroke="none" stroke-width="1"/>
<rect x="401.15000000000003" y="288.90000000000003" width="8.3" height="2.6133333333333337" fill="#fff" stroke="#000" stroke-width="0.5"/>
<line x1="425.3" y1="295.8066666666667" x2="425.3" y2="296.18" stroke="#555" stroke-width="0.6"/>
<line x1="423.7" y1="295.8066666666667" x2="426.90000000000003" y2="295.8066666666667" stroke="#555" stroke-width="0.6"/>
<rect x="421.15000000000003" y="296.9266666666667" width="8.3" height="0.3733333333333334" fill="#000" stroke="none" stroke-width="1"/>
<rect x="421.15000000000003" y="296.55333333333334" width="8.3" height="0.3733333333333334" fill="#777" stroke="none" stroke-width="1"/>
<rect x="421.15000000000003" y="296.18" width="8.3" height="0.3733333333333334" fill="#fff" stroke="#000" stroke-width="0.5"/>
<line x1="446" y1="263.14" x2="446" y2="266.31333333333333" stroke="#555" stroke-width="0.6"/>
<line x1="444.4" y1="263.14" x2="447.6" y2="263.14" stroke="#555" stroke-width="0.6"/>
<rect x="441.85" y="287.03333333333336" width="8.3" height="10.266666666666667" fill="#000" stroke="none" stroke-width="1"/>
<rect x="441.85" y="278.26" width="8.3" height="8.773333333333333" fill="#777" stroke="none" stroke-width="1"/>
<rect x="441.85" y="266.31333333333333" width="8.3" height="11.946666666666669" fill="#fff" stroke="#000" stroke-width="0.5"/>
<line x1="466.4" y1="268.3666666666667" x2="466.4" y2="270.0466666666667" stroke="#555" stroke-width="0.6"/>
<line x1="464.79999999999995" y1="268.3666666666667" x2="468.0" y2="268.3666666666667" stroke="#555" stroke-width="0.6"/>
<rect x="462.25" y="288.90000000000003" width="8.3" height="8.4" fill="#000" stroke="none" stroke-width="1"/>
<rect x="462.25" y="278.82" width="8.3" height="10.08" fill="#777" stroke="none" stroke-width="1"/>
<rect x="462.25" y="270.0466666666667" width="8.3" height="8.773333333333333" fill="#fff" stroke="#000" stroke-width="0.5"/>
<path d="M425.30,278.90 L426.03,280.39 L427.68,280.63 L426.49,281.79 L426.77,283.42 L425.30,282.65 L423.83,283.42 L424.11,281.79 L422.92,280.63 L424.57,280.39Z" fill="#000"/>
<text x="376.37" y="305.00" font-size="5.24" font-weight="bold" fill="#000" textLength="16.98" lengthAdjust="spacingAndGlyphs">naive</text>
<text x="398.24" y="305.00" font-size="5.24" font-weight="bold" fill="#000" textLength="14.71" lengthAdjust="spacingAndGlyphs">day2</text>
<text x="418.64" y="305.00" font-size="5.24" font-weight="bold" fill="#000" textLength="14.58" lengthAdjust="spacingAndGlyphs">day4</text>
<text x="439.64" y="305.00" font-size="5.24" font-weight="bold" fill="#000" textLength="14.61" lengthAdjust="spacingAndGlyphs">day7</text>
<text x="457.85" y="305.00" font-size="5.24" font-weight="bold" fill="#000" textLength="17.77" lengthAdjust="spacingAndGlyphs">day16</text>
<rect x="395.80" y="247.00" width="10.8" height="2.8" rx="1.3" fill="#fff" stroke="#111" stroke-width="0.6"/>
<rect x="395.80" y="254.00" width="10.8" height="2.8" rx="1.3" fill="#777" stroke="#555" stroke-width="0.4"/>
<rect x="395.80" y="261.20" width="10.8" height="2.8" rx="1.3" fill="#000"/>
<text x="411.15" y="249.70" font-size="4.86" font-weight="bold" fill="#000" textLength="12.54" lengthAdjust="spacingAndGlyphs">CD8</text>
<rect x="424.30" y="246.30" width="1.5" height="0.6" fill="#000"/>
<text x="427.05" y="249.70" font-size="4.86" font-weight="bold" fill="#000" textLength="12.69" lengthAdjust="spacingAndGlyphs">CD4</text>
<rect x="440.70" y="246.30" width="1.3" height="0.6" fill="#000"/>
<text x="411.15" y="257.40" font-size="5.29" font-weight="bold" fill="#000" textLength="12.38" lengthAdjust="spacingAndGlyphs">CD4</text>
<text x="424.50000000000006" y="254.6" font-size="4.4" font-weight="bold" text-anchor="start" fill="#000">+</text>
<text x="411.15" y="265.20" font-size="5.29" font-weight="bold" fill="#000" textLength="12.54" lengthAdjust="spacingAndGlyphs">CD8</text>
<text x="425.00000000000006" y="262.3" font-size="4.4" font-weight="bold" text-anchor="start" fill="#000">+</text>
<line x1="256.8" y1="319.6" x2="358.8" y2="319.6" stroke="#888" stroke-width="1.2"/>
<line x1="358.8" y1="319.6" x2="358.8" y2="377.8" stroke="#999" stroke-width="0.8"/>
<line x1="256.8" y1="319.6" x2="256.8" y2="377.8" stroke="#777" stroke-width="0.8"/>
<line x1="256.8" y1="377.8" x2="358.8" y2="377.8" stroke="#777" stroke-width="0.8"/>
<line x1="256.8" y1="348.70000000000005" x2="358.8" y2="348.70000000000005" stroke="#666" stroke-width="0.9"/>
<line x1="255.3" y1="319.6" x2="256.8" y2="319.6" stroke="#555" stroke-width="0.5"/>
<text x="254.9" y="321.35" font-size="5.0" font-weight="bold" text-anchor="end" fill="#111">2</text>
<line x1="255.3" y1="348.70000000000005" x2="256.8" y2="348.70000000000005" stroke="#555" stroke-width="0.5"/>
<text x="254.9" y="350.45000000000005" font-size="5.0" font-weight="bold" text-anchor="end" fill="#111">1</text>
<line x1="255.3" y1="377.8" x2="256.8" y2="377.8" stroke="#555" stroke-width="0.5"/>
<text x="254.9" y="379.55" font-size="5.0" font-weight="bold" text-anchor="end" fill="#111">0</text>
<line x1="267.6" y1="335.314" x2="267.6" y2="340.261" stroke="#555" stroke-width="0.6"/>
<line x1="266.0" y1="335.314" x2="269.20000000000005" y2="335.314" stroke="#555" stroke-width="0.6"/>
<rect x="263.45000000000005" y="340.261" width="8.3" height="37.538999999999994" fill="#000" stroke="none" stroke-width="1"/>
<line x1="287.8" y1="328.91200000000003" x2="287.8" y2="330.367" stroke="#555" stroke-width="0.6"/>
<line x1="286.2" y1="328.91200000000003" x2="289.40000000000003" y2="328.91200000000003" stroke="#555" stroke-width="0.6"/>
<rect x="283.65000000000003" y="330.367" width="8.3" height="47.432999999999986" fill="#000" stroke="none" stroke-width="1"/>
<line x1="308.2" y1="331.24" x2="308.2" y2="335.314" stroke="#555" stroke-width="0.6"/>
<line x1="306.59999999999997" y1="331.24" x2="309.8" y2="331.24" stroke="#555" stroke-width="0.6"/>
<rect x="304.05" y="335.314" width="8.3" height="42.48599999999999" fill="#000" stroke="none" stroke-width="1"/>
<line x1="328.4" y1="327.166" x2="328.4" y2="328.91200000000003" stroke="#555" stroke-width="0.6"/>
<line x1="326.79999999999995" y1="327.166" x2="330.0" y2="327.166" stroke="#555" stroke-width="0.6"/>
<rect x="324.25" y="328.91200000000003" width="8.3" height="48.88799999999999" fill="#000" stroke="none" stroke-width="1"/>
<line x1="348.6" y1="331.24" x2="348.6" y2="338.515" stroke="#555" stroke-width="0.6"/>
<line x1="347.0" y1="331.24" x2="350.20000000000005" y2="331.24" stroke="#555" stroke-width="0.6"/>
<rect x="344.45000000000005" y="338.515" width="8.3" height="39.285" fill="#000" stroke="none" stroke-width="1"/>
<text x="258.87" y="385.50" font-size="5.24" font-weight="bold" fill="#000" textLength="16.98" lengthAdjust="spacingAndGlyphs">naive</text>
<text x="280.74" y="385.50" font-size="5.24" font-weight="bold" fill="#000" textLength="14.71" lengthAdjust="spacingAndGlyphs">day2</text>
<text x="301.54" y="385.50" font-size="5.24" font-weight="bold" fill="#000" textLength="14.58" lengthAdjust="spacingAndGlyphs">day4</text>
<text x="322.04" y="385.50" font-size="5.24" font-weight="bold" fill="#000" textLength="14.61" lengthAdjust="spacingAndGlyphs">day7</text>
<text x="340.05" y="385.50" font-size="5.24" font-weight="bold" fill="#000" textLength="17.77" lengthAdjust="spacingAndGlyphs">day16</text>
<line x1="374.8" y1="320.3" x2="475.9" y2="320.3" stroke="#888" stroke-width="1.2"/>
<line x1="475.9" y1="320.3" x2="475.9" y2="378" stroke="#999" stroke-width="0.8"/>
<line x1="374.8" y1="320.3" x2="374.8" y2="378" stroke="#777" stroke-width="0.8"/>
<line x1="374.8" y1="378" x2="475.9" y2="378" stroke="#777" stroke-width="0.8"/>
<line x1="374.8" y1="349.15" x2="475.9" y2="349.15" stroke="#666" stroke-width="0.9"/>
<line x1="373.3" y1="320.3" x2="374.8" y2="320.3" stroke="#555" stroke-width="0.5"/>
<text x="372.90000000000003" y="322.05" font-size="5.0" font-weight="bold" text-anchor="end" fill="#111">0.6</text>
<line x1="373.3" y1="349.15" x2="374.8" y2="349.15" stroke="#555" stroke-width="0.5"/>
<text x="372.90000000000003" y="350.9" font-size="5.0" font-weight="bold" text-anchor="end" fill="#111">0.3</text>
<line x1="373.3" y1="378.0" x2="374.8" y2="378.0" stroke="#555" stroke-width="0.5"/>
<text x="372.90000000000003" y="379.75" font-size="5.0" font-weight="bold" text-anchor="end" fill="#111">0</text>
<line x1="385.1" y1="324.14666666666665" x2="385.1" y2="329.532" stroke="#555" stroke-width="0.6"/>
<line x1="383.5" y1="324.14666666666665" x2="386.70000000000005" y2="324.14666666666665" stroke="#555" stroke-width="0.6"/>
<rect x="380.95000000000005" y="329.532" width="8.3" height="48.467999999999996" fill="#000" stroke="none" stroke-width="1"/>
<line x1="405.3" y1="348.6691666666667" x2="405.3" y2="351.6503333333333" stroke="#555" stroke-width="0.6"/>
<line x1="403.7" y1="348.6691666666667" x2="406.90000000000003" y2="348.6691666666667" stroke="#555" stroke-width="0.6"/>
<rect x="401.15000000000003" y="351.6503333333333" width="8.3" height="26.349666666666668" fill="#000" stroke="none" stroke-width="1"/>
<line x1="425.3" y1="362.61333333333334" x2="425.3" y2="364.729" stroke="#555" stroke-width="0.6"/>
<line x1="423.7" y1="362.61333333333334" x2="426.90000000000003" y2="362.61333333333334" stroke="#555" stroke-width="0.6"/>
<rect x="421.15000000000003" y="364.729" width="8.3" height="13.270999999999999" fill="#000" stroke="none" stroke-width="1"/>
<line x1="446" y1="352.99666666666667" x2="446" y2="358.0935" stroke="#555" stroke-width="0.6"/>
<line x1="444.4" y1="352.99666666666667" x2="447.6" y2="352.99666666666667" stroke="#555" stroke-width="0.6"/>
<rect x="441.85" y="358.0935" width="8.3" height="19.906499999999998" fill="#000" stroke="none" stroke-width="1"/>
<line x1="466.4" y1="341.74516666666665" x2="466.4" y2="348.6691666666667" stroke="#555" stroke-width="0.6"/>
<line x1="464.79999999999995" y1="341.74516666666665" x2="468.0" y2="341.74516666666665" stroke="#555" stroke-width="0.6"/>
<rect x="462.25" y="348.6691666666667" width="8.3" height="29.33083333333333" fill="#000" stroke="none" stroke-width="1"/>
<path d="M425.00,351.30 L425.73,352.79 L427.38,353.03 L426.19,354.19 L426.47,355.82 L425.00,355.05 L423.53,355.82 L423.81,354.19 L422.62,353.03 L424.27,352.79Z" fill="#000"/>
<text x="376.37" y="385.70" font-size="5.24" font-weight="bold" fill="#000" textLength="16.98" lengthAdjust="spacingAndGlyphs">naive</text>
<text x="398.24" y="385.70" font-size="5.24" font-weight="bold" fill="#000" textLength="14.71" lengthAdjust="spacingAndGlyphs">day2</text>
<text x="418.64" y="385.70" font-size="5.24" font-weight="bold" fill="#000" textLength="14.58" lengthAdjust="spacingAndGlyphs">day4</text>
<text x="439.64" y="385.70" font-size="5.24" font-weight="bold" fill="#000" textLength="14.61" lengthAdjust="spacingAndGlyphs">day7</text>
<text x="457.85" y="385.70" font-size="5.24" font-weight="bold" fill="#000" textLength="17.77" lengthAdjust="spacingAndGlyphs">day16</text>
<line x1="257.5" y1="396" x2="358.8" y2="396" stroke="#888" stroke-width="1.2"/>
<line x1="358.8" y1="396" x2="358.8" y2="452.6" stroke="#999" stroke-width="0.8"/>
<line x1="257.5" y1="396" x2="257.5" y2="452.6" stroke="#777" stroke-width="0.8"/>
<line x1="257.5" y1="452.6" x2="358.8" y2="452.6" stroke="#777" stroke-width="0.8"/>
<line x1="257.5" y1="424.3" x2="358.8" y2="424.3" stroke="#666" stroke-width="0.9"/>
<line x1="256.0" y1="396.0" x2="257.5" y2="396.0" stroke="#555" stroke-width="0.5"/>
<text x="255.6" y="397.75" font-size="5.0" font-weight="bold" text-anchor="end" fill="#111">1</text>
<line x1="256.0" y1="424.3" x2="257.5" y2="424.3" stroke="#555" stroke-width="0.5"/>
<text x="255.6" y="426.05" font-size="5.0" font-weight="bold" text-anchor="end" fill="#111">0.5</text>
<line x1="256.0" y1="452.6" x2="257.5" y2="452.6" stroke="#555" stroke-width="0.5"/>
<text x="255.6" y="454.35" font-size="5.0" font-weight="bold" text-anchor="end" fill="#111">0</text>
<line x1="267.6" y1="424.3" x2="267.6" y2="427.696" stroke="#555" stroke-width="0.6"/>
<line x1="266.0" y1="424.3" x2="269.20000000000005" y2="424.3" stroke="#555" stroke-width="0.6"/>
<rect x="263.45000000000005" y="427.696" width="8.3" height="24.90400000000001" fill="#000" stroke="none" stroke-width="1"/>
<line x1="287.8" y1="424.3" x2="287.8" y2="429.394" stroke="#555" stroke-width="0.6"/>
<line x1="286.2" y1="424.3" x2="289.40000000000003" y2="424.3" stroke="#555" stroke-width="0.6"/>
<rect x="283.65000000000003" y="429.394" width="8.3" height="23.206000000000007" fill="#000" stroke="none" stroke-width="1"/>
<line x1="308.2" y1="427.696" x2="308.2" y2="428.262" stroke="#555" stroke-width="0.6"/>
<line x1="306.59999999999997" y1="427.696" x2="309.8" y2="427.696" stroke="#555" stroke-width="0.6"/>
<rect x="304.05" y="428.262" width="8.3" height="24.338000000000008" fill="#000" stroke="none" stroke-width="1"/>
<line x1="328.4" y1="411.28200000000004" x2="328.4" y2="414.678" stroke="#555" stroke-width="0.6"/>
<line x1="326.79999999999995" y1="411.28200000000004" x2="330.0" y2="411.28200000000004" stroke="#555" stroke-width="0.6"/>
<rect x="324.25" y="414.678" width="8.3" height="37.92200000000002" fill="#000" stroke="none" stroke-width="1"/>
<line x1="348.6" y1="401.094" x2="348.6" y2="404.49" stroke="#555" stroke-width="0.6"/>
<line x1="347.0" y1="401.094" x2="350.20000000000005" y2="401.094" stroke="#555" stroke-width="0.6"/>
<rect x="344.45000000000005" y="404.49" width="8.3" height="48.11000000000002" fill="#000" stroke="none" stroke-width="1"/>
<text x="258.87" y="460.30" font-size="5.24" font-weight="bold" fill="#000" textLength="16.98" lengthAdjust="spacingAndGlyphs">naive</text>
<text x="280.74" y="460.30" font-size="5.24" font-weight="bold" fill="#000" textLength="14.71" lengthAdjust="spacingAndGlyphs">day2</text>
<text x="301.54" y="460.30" font-size="5.24" font-weight="bold" fill="#000" textLength="14.58" lengthAdjust="spacingAndGlyphs">day4</text>
<text x="322.04" y="460.30" font-size="5.24" font-weight="bold" fill="#000" textLength="14.61" lengthAdjust="spacingAndGlyphs">day7</text>
<text x="340.05" y="460.30" font-size="5.24" font-weight="bold" fill="#000" textLength="17.77" lengthAdjust="spacingAndGlyphs">day16</text>
<line x1="375.7" y1="396" x2="476.2" y2="396" stroke="#888" stroke-width="1.2"/>
<line x1="476.2" y1="396" x2="476.2" y2="453" stroke="#999" stroke-width="0.8"/>
<line x1="375.7" y1="396" x2="375.7" y2="453" stroke="#777" stroke-width="0.8"/>
<line x1="375.7" y1="453" x2="476.2" y2="453" stroke="#777" stroke-width="0.8"/>
<line x1="375.7" y1="424.5" x2="476.2" y2="424.5" stroke="#666" stroke-width="0.9"/>
<line x1="374.2" y1="396.0" x2="375.7" y2="396.0" stroke="#555" stroke-width="0.5"/>
<text x="373.8" y="397.75" font-size="5.0" font-weight="bold" text-anchor="end" fill="#111">0.3</text>
<line x1="374.2" y1="424.5" x2="375.7" y2="424.5" stroke="#555" stroke-width="0.5"/>
<text x="373.8" y="426.25" font-size="5.0" font-weight="bold" text-anchor="end" fill="#111">0.15</text>
<line x1="374.2" y1="453.0" x2="375.7" y2="453.0" stroke="#555" stroke-width="0.5"/>
<text x="373.8" y="454.75" font-size="5.0" font-weight="bold" text-anchor="end" fill="#111">0</text>
<line x1="385.1" y1="419.94" x2="385.1" y2="422.98" stroke="#555" stroke-width="0.6"/>
<line x1="383.5" y1="419.94" x2="386.70000000000005" y2="419.94" stroke="#555" stroke-width="0.6"/>
<rect x="380.95000000000005" y="422.98" width="8.3" height="30.02" fill="#000" stroke="none" stroke-width="1"/>
<line x1="405.3" y1="426.97" x2="405.3" y2="435.33" stroke="#555" stroke-width="0.6"/>
<line x1="403.7" y1="426.97" x2="406.90000000000003" y2="426.97" stroke="#555" stroke-width="0.6"/>
<rect x="401.15000000000003" y="435.33" width="8.3" height="17.669999999999998" fill="#000" stroke="none" stroke-width="1"/>
<line x1="425.3" y1="440.08" x2="425.3" y2="443.5" stroke="#555" stroke-width="0.6"/>
<line x1="423.7" y1="440.08" x2="426.90000000000003" y2="440.08" stroke="#555" stroke-width="0.6"/>
<rect x="421.15000000000003" y="443.5" width="8.3" height="9.5" fill="#000" stroke="none" stroke-width="1"/>
<line x1="446" y1="426.97" x2="446" y2="433.05" stroke="#555" stroke-width="0.6"/>
<line x1="444.4" y1="426.97" x2="447.6" y2="426.97" stroke="#555" stroke-width="0.6"/>
<rect x="441.85" y="433.05" width="8.3" height="19.95" fill="#000" stroke="none" stroke-width="1"/>
<line x1="466.4" y1="407.97" x2="466.4" y2="413.29" stroke="#555" stroke-width="0.6"/>
<line x1="464.79999999999995" y1="407.97" x2="468.0" y2="407.97" stroke="#555" stroke-width="0.6"/>
<rect x="462.25" y="413.29" width="8.3" height="39.71" fill="#000" stroke="none" stroke-width="1"/>
<path d="M425.50,429.80 L426.23,431.29 L427.88,431.53 L426.69,432.69 L426.97,434.32 L425.50,433.55 L424.03,434.32 L424.31,432.69 L423.12,431.53 L424.77,431.29Z" fill="#000"/>
<text x="376.37" y="460.70" font-size="5.24" font-weight="bold" fill="#000" textLength="16.98" lengthAdjust="spacingAndGlyphs">naive</text>
<text x="398.24" y="460.70" font-size="5.24" font-weight="bold" fill="#000" textLength="14.71" lengthAdjust="spacingAndGlyphs">day2</text>
<text x="418.64" y="460.70" font-size="5.24" font-weight="bold" fill="#000" textLength="14.58" lengthAdjust="spacingAndGlyphs">day4</text>
<text x="439.64" y="460.70" font-size="5.24" font-weight="bold" fill="#000" textLength="14.61" lengthAdjust="spacingAndGlyphs">day7</text>
<text x="457.85" y="460.70" font-size="5.24" font-weight="bold" fill="#000" textLength="17.77" lengthAdjust="spacingAndGlyphs">day16</text>
</svg></body></html>
